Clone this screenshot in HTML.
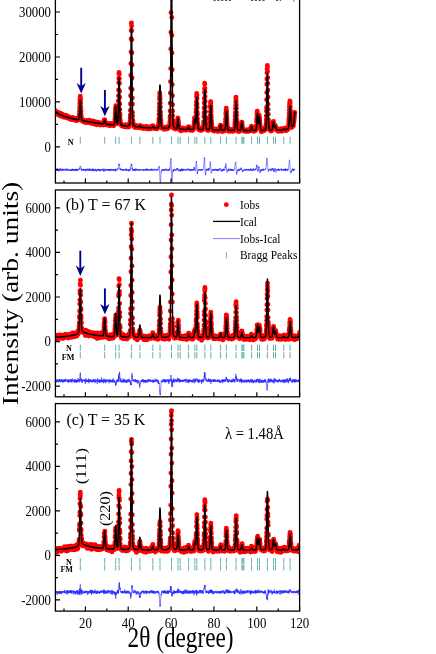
<!DOCTYPE html>
<html><head><meta charset="utf-8"><title>Neutron diffraction patterns</title>
<style>html,body{margin:0;padding:0;background:#fff;}svg{display:block;}text{font-family:"Liberation Serif",serif;fill:#000;}</style></head>
<body>
<svg width="436" height="654" viewBox="0 0 436 654" style="will-change:transform">
<rect width="436" height="654" fill="#fff"/>
<defs><clipPath id="cpa"><rect x="55.4" y="-2.0" width="244.2" height="185.0"/></clipPath><clipPath id="cpb"><rect x="55.4" y="190.0" width="244.2" height="206.8"/></clipPath><clipPath id="cpc"><rect x="55.4" y="403.6" width="244.2" height="207.5"/></clipPath></defs>
<g clip-path="url(#cpa)">
<path d="M55.4,168.8L55.5,170.1L55.6,169.8L55.7,169.6L55.8,170.3L55.9,169.8L56.1,169.8L56.2,171L56.3,169.2L56.4,169.5L56.5,170.2L56.6,169.9L56.7,169.5L56.8,170L56.9,170L57,170.8L57.1,169.5L57.2,169.8L57.3,169.7L57.4,170.8L57.6,168.8L57.7,169.7L57.8,170.1L57.9,168.5L58,169.9L58.1,170.8L58.2,170.1L58.3,171.3L58.4,169.2L58.5,170.1L58.6,170.3L58.7,169.2L58.8,170.9L58.9,169.5L59.1,171.1L59.2,170.3L59.3,170.6L59.4,168.9L59.5,168.7L59.6,170L59.7,169.3L59.8,169.9L59.9,169.5L60,170.3L60.1,170.9L60.2,171L60.3,169.6L60.4,168.4L60.6,169.7L60.7,170.2L60.8,168.6L60.9,169.7L61,169.8L61.1,169.7L61.2,169.9L61.3,170L61.4,170.7L61.5,169.5L61.6,169.9L61.7,169.1L61.8,170.1L61.9,171L62.1,169.9L62.2,168.8L62.3,170.1L62.4,170.4L62.5,170.6L62.6,170.5L62.7,170L62.8,170.6L62.9,168.9L63,170L63.1,169.8L63.2,168.9L63.3,168.9L63.4,170L63.6,169.6L63.7,169.4L63.8,170L63.9,170.9L64,169.4L64.1,169.3L64.2,169.6L64.3,170.4L64.4,170L64.5,170.2L64.6,170L64.7,169L64.8,168.9L64.9,169.4L65.1,169.5L65.2,169.4L65.3,169.8L65.4,169.9L65.5,170.2L65.6,169.9L65.7,168.4L65.8,169.3L65.9,170L66,170.1L66.1,170.4L66.2,169.6L66.3,169.6L66.4,170.7L66.6,169.5L66.7,170.2L66.8,169L66.9,169.7L67,168.8L67.1,170.1L67.2,170L67.3,169.6L67.4,169.2L67.5,169.5L67.6,170.6L67.7,169.7L67.8,169.8L67.9,170.1L68,170.2L68.2,168.8L68.3,170.1L68.4,170.4L68.5,169.4L68.6,169.8L68.7,169.9L68.8,169.4L68.9,169.5L69,169.6L69.1,169.2L69.2,169.7L69.3,170.2L69.4,170.1L69.5,170.2L69.7,169.7L69.8,170.5L69.9,171L70,169.8L70.1,170.6L70.2,171L70.3,169.6L70.4,170.3L70.5,169.5L70.6,170.2L70.7,170.5L70.8,170.6L70.9,170.1L71,170L71.2,170.3L71.3,170L71.4,170.8L71.5,169.8L71.6,170.9L71.7,169.9L71.8,169.4L71.9,169.2L72,168.8L72.1,170.8L72.2,169.4L72.3,169.1L72.4,169.2L72.5,170.4L72.7,169.6L72.8,168.7L72.9,170.7L73,169.5L73.1,169.2L73.2,170.3L73.3,169.5L73.4,170.5L73.5,170.3L73.6,170.3L73.7,169.7L73.8,169.9L73.9,169.3L74,170.4L74.2,169.9L74.3,169.2L74.4,169.5L74.5,170.6L74.6,169.4L74.7,170.1L74.8,169.6L74.9,169.6L75,169.1L75.1,169.8L75.2,170.9L75.3,170.7L75.4,169.4L75.5,170L75.7,169.1L75.8,169.7L75.9,170.3L76,169.2L76.1,170.3L76.2,171.1L76.3,168.6L76.4,171L76.5,169.4L76.6,169.3L76.7,169.7L76.8,170.8L76.9,169.2L77,170.7L77.2,170.6L77.3,170L77.4,169.3L77.5,169.6L77.6,169.3L77.7,170.1L77.8,169.9L77.9,170.5L78,170L78.1,169.4L78.2,170L78.3,169.5L78.4,170.1L78.5,170.1L78.7,169.7L78.8,169.8L78.9,169.3L79,169.5L79.1,168.4L79.2,169.5L79.3,169.3L79.4,169.6L79.5,168.6L79.6,167.9L79.7,168.4L79.8,167.6L79.9,166.7L80,167L80.2,167L80.3,165.9L80.4,166.6L80.5,166.6L80.6,166.4L80.7,166.8L80.8,168.1L80.9,168.6L81,168.4L81.1,169L81.2,170.3L81.3,168.6L81.4,169.5L81.5,169.1L81.7,170.4L81.8,168.9L81.9,170.1L82,169.8L82.1,170.6L82.2,169.9L82.3,169.9L82.4,169.9L82.5,169.5L82.6,169.8L82.7,169.2L82.8,170.1L82.9,170.4L83,169.8L83.2,169.4L83.3,169.1L83.4,169.3L83.5,170.9L83.6,169.6L83.7,168.9L83.8,169.8L83.9,170.1L84,169.6L84.1,170.1L84.2,169.4L84.3,169.8L84.4,169L84.5,169.5L84.7,170.3L84.8,169.5L84.9,169.3L85,170.2L85.1,170.1L85.2,171.2L85.3,169.3L85.4,170.2L85.5,171.1L85.6,170.9L85.7,170L85.8,169.4L85.9,169.9L86,169.5L86.1,170.5L86.3,170.6L86.4,169.3L86.5,169.5L86.6,169.8L86.7,169.1L86.8,170.4L86.9,170.1L87,169.2L87.1,168.7L87.2,169.8L87.3,168.8L87.4,170.2L87.5,169.6L87.6,169.9L87.8,170.8L87.9,169.7L88,169.3L88.1,169.9L88.2,169.9L88.3,169L88.4,170.6L88.5,170.7L88.6,170.2L88.7,170.5L88.8,169L88.9,169.6L89,170.3L89.1,170.2L89.3,168.1L89.4,170.2L89.5,170.3L89.6,169.7L89.7,169.5L89.8,169.7L89.9,170.4L90,170.5L90.1,169.5L90.2,169.9L90.3,170.8L90.4,169.1L90.5,169.4L90.6,170L90.8,170L90.9,169.7L91,170.2L91.1,170.6L91.2,169.6L91.3,170.7L91.4,169.6L91.5,170.7L91.6,169.9L91.7,169.9L91.8,168.8L91.9,170.5L92,170.7L92.1,170.2L92.3,170.5L92.4,170.2L92.5,169.6L92.6,169.4L92.7,168.9L92.8,170.3L92.9,168.3L93,168.7L93.1,170L93.2,171.2L93.3,169.9L93.4,169.8L93.5,171.2L93.6,169.8L93.8,169.9L93.9,170.3L94,169.5L94.1,169.2L94.2,170.1L94.3,169.7L94.4,170.2L94.5,170.3L94.6,169.8L94.7,169.5L94.8,170.2L94.9,171.1L95,169.5L95.1,170.8L95.3,169.8L95.4,168.8L95.5,169.8L95.6,170.5L95.7,170.7L95.8,169.2L95.9,169.8L96,169.5L96.1,169.3L96.2,169.9L96.3,170L96.4,170.4L96.5,171.6L96.6,170.7L96.8,169.9L96.9,169.9L97,169.6L97.1,169.9L97.2,169.7L97.3,169.4L97.4,170.3L97.5,170L97.6,170.8L97.7,169.3L97.8,169.8L97.9,169.5L98,168.9L98.1,169.2L98.3,169.9L98.4,169.4L98.5,170.7L98.6,169.6L98.7,169.8L98.8,170.8L98.9,169.1L99,170.2L99.1,169.4L99.2,170.1L99.3,169.3L99.4,169.1L99.5,170.3L99.6,170.7L99.8,169.9L99.9,169.3L100,170L100.1,170.2L100.2,169.5L100.3,171.4L100.4,170.2L100.5,170.6L100.6,169.7L100.7,170.3L100.8,170.5L100.9,170L101,170.7L101.1,169.8L101.3,170.2L101.4,170.1L101.5,170.2L101.6,169.3L101.7,169.9L101.8,169.5L101.9,169.6L102,170.3L102.1,169.5L102.2,169.6L102.3,169.7L102.4,170.1L102.5,170.1L102.6,169.4L102.8,168.6L102.9,170.3L103,169.5L103.1,170L103.2,169.4L103.3,169.6L103.4,169.2L103.5,171.5L103.6,170.2L103.7,170.4L103.8,169.9L103.9,170.3L104,170.2L104.1,169.4L104.2,168.7L104.4,171.5L104.5,170L104.6,169.6L104.7,169.8L104.8,170L104.9,170.6L105,170.4L105.1,169.4L105.2,169.2L105.3,169.8L105.4,170.3L105.5,169.8L105.6,170L105.7,169.5L105.9,169.8L106,170.2L106.1,169.7L106.2,170.5L106.3,169.4L106.4,169.2L106.5,170.5L106.6,169.6L106.7,170.4L106.8,169.2L106.9,169.3L107,170L107.1,169.3L107.2,170.1L107.4,170.2L107.5,170.2L107.6,169.9L107.7,170L107.8,169.7L107.9,170.2L108,169.4L108.1,169.2L108.2,170.1L108.3,170.6L108.4,169.4L108.5,169.2L108.6,169.9L108.7,170.6L108.9,169.7L109,169L109.1,170.9L109.2,169.6L109.3,170L109.4,170.3L109.5,169.5L109.6,170.6L109.7,169.7L109.8,169.1L109.9,169.7L110,170.3L110.1,170.8L110.2,170.6L110.4,170.9L110.5,168.9L110.6,170L110.7,170.4L110.8,170.6L110.9,170.4L111,170L111.1,170.6L111.2,168.9L111.3,170.3L111.4,170.3L111.5,169.7L111.6,169L111.7,169.1L111.9,170.1L112,169.7L112.1,169.7L112.2,169.5L112.3,169.7L112.4,170.4L112.5,170.5L112.6,169.7L112.7,170.5L112.8,169L112.9,169.8L113,170.4L113.1,170L113.2,170.1L113.4,169.9L113.5,169.3L113.6,170.7L113.7,170.9L113.8,169.6L113.9,169.9L114,169.7L114.1,169.6L114.2,169.9L114.3,169.4L114.4,170.4L114.5,169.8L114.6,170.4L114.7,170.6L114.9,169.6L115,169.7L115.1,171.3L115.2,170.8L115.3,170L115.4,169.6L115.5,170.7L115.6,170.5L115.7,171.3L115.8,168.7L115.9,170L116,169.7L116.1,169.8L116.2,169.5L116.4,169.7L116.5,170.2L116.6,169.5L116.7,169.8L116.8,169.1L116.9,170.2L117,170.1L117.1,169.4L117.2,169L117.3,169.6L117.4,170.1L117.5,169.7L117.6,169.8L117.7,168.3L117.9,168.8L118,168.3L118.1,168.6L118.2,168.8L118.3,167.1L118.4,166.2L118.5,166.3L118.6,166L118.7,164.6L118.8,165.1L118.9,163.7L119,164.7L119.1,164.9L119.2,164L119.4,164.6L119.5,164.1L119.6,166.3L119.7,166.8L119.8,168.2L119.9,169.2L120,169.6L120.1,168.5L120.2,169.8L120.3,168.6L120.4,168.6L120.5,169.7L120.6,168.7L120.7,169.5L120.9,169L121,169.8L121.1,169.2L121.2,170.3L121.3,169.4L121.4,170L121.5,169.8L121.6,169.4L121.7,169.7L121.8,169.8L121.9,169.4L122,169.3L122.1,170.6L122.2,169.5L122.3,169.4L122.5,170.2L122.6,169.6L122.7,170.5L122.8,169L122.9,169.9L123,169.8L123.1,169.1L123.2,169.9L123.3,169.5L123.4,170.4L123.5,170.1L123.6,170.6L123.7,169.9L123.8,169.2L124,169.7L124.1,169.3L124.2,170.4L124.3,170.3L124.4,170.1L124.5,169.5L124.6,169.6L124.7,169.8L124.8,169.5L124.9,169.9L125,169.8L125.1,169.1L125.2,170.1L125.3,169.7L125.5,168.9L125.6,169.8L125.7,169.4L125.8,170.2L125.9,168.7L126,171.1L126.1,170.5L126.2,170.4L126.3,168.9L126.4,169.6L126.5,170L126.6,170.5L126.7,169.6L126.8,169.7L127,170.2L127.1,170.6L127.2,170.4L127.3,169.7L127.4,169.6L127.5,169.8L127.6,169.9L127.7,170.8L127.8,169.8L127.9,170.4L128,169.8L128.1,169.5L128.2,170.2L128.3,170.4L128.5,169.2L128.6,169.6L128.7,170.1L128.8,171.5L128.9,169.8L129,169.4L129.1,169.1L129.2,170.1L129.3,170.1L129.4,170L129.5,169.3L129.6,170.4L129.7,169.8L129.8,170.2L130,169.5L130.1,170.5L130.2,169.2L130.3,169.6L130.4,169.2L130.5,168.4L130.6,167.6L130.7,169.2L130.8,166.7L130.9,166.4L131,166.5L131.1,164.5L131.2,165.1L131.3,163.8L131.5,165.4L131.6,165.7L131.7,164.3L131.8,164L131.9,165.8L132,166.2L132.1,167.9L132.2,169L132.3,168.6L132.4,167.8L132.5,170.3L132.6,169.6L132.7,170.6L132.8,169.5L133,169.1L133.1,170.4L133.2,169.9L133.3,169L133.4,169.8L133.5,170.5L133.6,170.5L133.7,170.9L133.8,169.3L133.9,170.2L134,169.2L134.1,169.3L134.2,170.2L134.3,170.1L134.5,169.4L134.6,169.7L134.7,169.6L134.8,170.7L134.9,169.3L135,170.3L135.1,171.1L135.2,170.2L135.3,169.6L135.4,168.6L135.5,170L135.6,170.6L135.7,168.6L135.8,169.7L136,170L136.1,170.4L136.2,170.4L136.3,169L136.4,170L136.5,170.1L136.6,170.1L136.7,168.9L136.8,170.1L136.9,169.5L137,169.7L137.1,169.7L137.2,170.3L137.3,169.5L137.5,168.9L137.6,169.9L137.7,170.3L137.8,170.5L137.9,169.7L138,170L138.1,169.9L138.2,169.8L138.3,170.6L138.4,169.4L138.5,169.7L138.6,169.9L138.7,169.7L138.8,169.3L138.9,169.8L139.1,170.3L139.2,169.2L139.3,170.1L139.4,170.2L139.5,170.7L139.6,169.8L139.7,170.4L139.8,170.1L139.9,169.6L140,169.8L140.1,169.3L140.2,169.7L140.3,170.1L140.4,170L140.6,170.1L140.7,169.5L140.8,169.8L140.9,170.1L141,169.4L141.1,169.8L141.2,170.1L141.3,170.7L141.4,169.6L141.5,169.7L141.6,169.8L141.7,170.1L141.8,170.3L141.9,170L142.1,169.7L142.2,169.9L142.3,169.9L142.4,170.1L142.5,169.6L142.6,169.7L142.7,170.2L142.8,169.4L142.9,169.4L143,169.4L143.1,169.9L143.2,169.9L143.3,170.5L143.4,169.4L143.6,171L143.7,170L143.8,170L143.9,169.4L144,169.8L144.1,170.4L144.2,170.6L144.3,170.2L144.4,169.8L144.5,169.8L144.6,169.9L144.7,170.2L144.8,169.9L144.9,169.3L145.1,170.4L145.2,169.8L145.3,168.9L145.4,169.5L145.5,170.1L145.6,169.5L145.7,170.2L145.8,169.8L145.9,169L146,168.8L146.1,170.8L146.2,169.4L146.3,168.8L146.4,170.1L146.6,169.7L146.7,169L146.8,170.1L146.9,169.6L147,169.9L147.1,170.9L147.2,169.6L147.3,169.9L147.4,169.3L147.5,168.7L147.6,169.5L147.7,170L147.8,169.6L147.9,169.7L148.1,169.3L148.2,170.6L148.3,170.5L148.4,171L148.5,169.5L148.6,169.8L148.7,170.2L148.8,170.2L148.9,170.2L149,170.3L149.1,170L149.2,170.1L149.3,169.1L149.4,169.7L149.6,170.3L149.7,170.2L149.8,169.2L149.9,169.6L150,169.7L150.1,169.4L150.2,169L150.3,170.5L150.4,170.2L150.5,170.8L150.6,169.6L150.7,170L150.8,170.2L150.9,170.3L151.1,169.5L151.2,169.9L151.3,170.1L151.4,169.1L151.5,170.4L151.6,170.5L151.7,168.4L151.8,170L151.9,170.1L152,170.2L152.1,169.9L152.2,169.4L152.3,169.4L152.4,169.5L152.6,170L152.7,170.7L152.8,169.7L152.9,169L153,169.3L153.1,169.9L153.2,169.4L153.3,170.1L153.4,169.9L153.5,170.5L153.6,170L153.7,169.8L153.8,169.9L153.9,169.4L154.1,168.8L154.2,169.1L154.3,170L154.4,170.2L154.5,170.2L154.6,170.4L154.7,169.8L154.8,169.6L154.9,169.7L155,169.7L155.1,169.8L155.2,169.9L155.3,170.3L155.4,168.9L155.6,169.3L155.7,170.4L155.8,170.4L155.9,170.2L156,169.8L156.1,169.2L156.2,169.3L156.3,169.3L156.4,169.3L156.5,169.3L156.6,169.5L156.7,169.6L156.8,169.9L156.9,170.8L157,169.9L157.2,168.9L157.3,170.2L157.4,170.2L157.5,169.3L157.6,169.8L157.7,170.1L157.8,169L157.9,169.5L158,169.4L158.1,170.1L158.2,169.4L158.3,169.3L158.4,168.9L158.5,168.4L158.7,168L158.8,168.1L158.9,167.2L159,167.8L159.1,166.2L159.2,166L159.3,166.8L159.4,167.6L159.5,168.4L159.6,171.1L159.7,172.5L159.8,175.5L159.9,179.4L160,181.2L160.2,182.2L160.3,182.8L160.4,182.6L160.5,182.4L160.6,181L160.7,179.3L160.8,176.9L160.9,174.2L161,173.3L161.1,172.1L161.2,171.3L161.3,172.3L161.4,171L161.5,170.8L161.7,169.7L161.8,169.3L161.9,170.5L162,170.1L162.1,169.8L162.2,170.3L162.3,170.4L162.4,170.4L162.5,169.5L162.6,170.5L162.7,169.3L162.8,169.9L162.9,169.5L163,169.1L163.2,170.3L163.3,170.4L163.4,169.7L163.5,170.5L163.6,170.3L163.7,170L163.8,169.8L163.9,170.6L164,170.1L164.1,169.6L164.2,169.1L164.3,170.9L164.4,169.2L164.5,169.4L164.7,170.5L164.8,170.7L164.9,169.6L165,170.1L165.1,169.8L165.2,169.4L165.3,170.1L165.4,169.8L165.5,169.6L165.6,169.4L165.7,168.9L165.8,168.9L165.9,169.7L166,170L166.2,168.5L166.3,169.5L166.4,169.6L166.5,170.4L166.6,169.4L166.7,170.3L166.8,170.1L166.9,170.6L167,170.1L167.1,169.8L167.2,170.6L167.3,170.3L167.4,169.9L167.5,170.5L167.7,170.5L167.8,170.3L167.9,170.6L168,169.5L168.1,170.3L168.2,169.4L168.3,169.3L168.4,170.4L168.5,169.8L168.6,170L168.7,170.4L168.8,169.9L168.9,169.9L169,169.3L169.2,169.1L169.3,170.3L169.4,169.9L169.5,169.3L169.6,168.8L169.7,170.7L169.8,168.4L169.9,168.9L170,167.3L170.1,167.7L170.2,167L170.3,165.1L170.4,162.8L170.5,162L170.7,162.2L170.8,158.4L170.9,159.5L171,159L171.1,160.2L171.2,163L171.3,165.9L171.4,169.9L171.5,174L171.6,177.2L171.7,180.2L171.8,182.7L171.9,181.8L172,180.3L172.2,179.2L172.3,178.2L172.4,176.2L172.5,174.5L172.6,172.8L172.7,171.5L172.8,171.9L172.9,171.3L173,169.8L173.1,169.5L173.2,169.4L173.3,171.4L173.4,170.2L173.5,171.8L173.7,169.6L173.8,169.9L173.9,169.9L174,170L174.1,169.2L174.2,170.1L174.3,169.3L174.4,169.6L174.5,169.7L174.6,169.6L174.7,169.8L174.8,170.5L174.9,169.5L175,169.5L175.1,169.9L175.3,169.5L175.4,169.4L175.5,170.6L175.6,169.9L175.7,170.1L175.8,170.3L175.9,169.7L176,170.3L176.1,170.1L176.2,169.7L176.3,169.6L176.4,169.6L176.5,168.5L176.6,170L176.8,169.5L176.9,170.2L177,169.1L177.1,168.6L177.2,168.4L177.3,169.4L177.4,169.1L177.5,168.1L177.6,169L177.7,168.5L177.8,169.9L177.9,168.8L178,169.4L178.1,170.1L178.3,171.1L178.4,170.8L178.5,170.7L178.6,170.6L178.7,170.8L178.8,170.7L178.9,170.3L179,169.5L179.1,171.3L179.2,170.8L179.3,170.9L179.4,170.3L179.5,170.9L179.6,169.6L179.8,169.8L179.9,170L180,170.2L180.1,169.8L180.2,169.8L180.3,169.7L180.4,170.2L180.5,169.5L180.6,170.6L180.7,169.2L180.8,171.5L180.9,170.2L181,170.5L181.1,169.4L181.3,170.6L181.4,168.9L181.5,170.7L181.6,168.7L181.7,169.6L181.8,169.8L181.9,169.6L182,168.7L182.1,169.4L182.2,171L182.3,169.2L182.4,169.7L182.5,170.7L182.6,169.4L182.8,170.5L182.9,169.7L183,169.7L183.1,170.2L183.2,169.5L183.3,170.4L183.4,169.7L183.5,170.1L183.6,169.9L183.7,168.8L183.8,169.8L183.9,170.4L184,169.9L184.1,170.2L184.3,169.8L184.4,169.7L184.5,169.8L184.6,169.8L184.7,170.1L184.8,169.6L184.9,169.3L185,170.2L185.1,169.9L185.2,169.8L185.3,169.2L185.4,169.2L185.5,170.2L185.6,169.8L185.8,170.6L185.9,170.3L186,169.8L186.1,169.5L186.2,169.3L186.3,170L186.4,170.6L186.5,169.6L186.6,169.9L186.7,169.6L186.8,169.7L186.9,169.4L187,169.5L187.1,169.3L187.3,170L187.4,169.2L187.5,170L187.6,169.6L187.7,168.6L187.8,169.4L187.9,170.2L188,168.7L188.1,169L188.2,168.9L188.3,169.5L188.4,169.5L188.5,169.9L188.6,170.3L188.8,169.2L188.9,170.3L189,170.4L189.1,170.4L189.2,169.1L189.3,169.6L189.4,170.2L189.5,170L189.6,169.7L189.7,169.4L189.8,170.8L189.9,169.4L190,170L190.1,170.2L190.3,170L190.4,169.4L190.5,168.9L190.6,169.7L190.7,169.5L190.8,170.3L190.9,169.6L191,169.4L191.1,170.6L191.2,170.1L191.3,169.4L191.4,170.8L191.5,170L191.6,169.5L191.8,170.7L191.9,170L192,169.8L192.1,169.3L192.2,170.5L192.3,169.2L192.4,169.6L192.5,169.1L192.6,169.2L192.7,169.6L192.8,169.5L192.9,170.7L193,170.4L193.1,170.2L193.2,169.8L193.4,169L193.5,170.4L193.6,169.4L193.7,169.8L193.8,169.7L193.9,167.8L194,168.3L194.1,167.3L194.2,167.4L194.3,168.6L194.4,169.3L194.5,167.3L194.6,169.2L194.7,170.2L194.9,169.6L195,170.4L195.1,171.1L195.2,170.9L195.3,170.4L195.4,170.1L195.5,169.1L195.6,168.9L195.7,167.9L195.8,166.2L195.9,165.2L196,163.5L196.1,163.3L196.2,162.4L196.4,162.7L196.5,161L196.6,163.8L196.7,164.1L196.8,166.8L196.9,168L197,169.5L197.1,172.6L197.2,172.6L197.3,174L197.4,172.1L197.5,173.1L197.6,173.3L197.7,172.3L197.9,170.7L198,170.2L198.1,170L198.2,170.8L198.3,170.3L198.4,169.2L198.5,170.3L198.6,170.1L198.7,170.4L198.8,170.5L198.9,169.2L199,169.5L199.1,169.6L199.2,169.5L199.4,169.3L199.5,169L199.6,169.8L199.7,170L199.8,170.4L199.9,169.2L200,170.1L200.1,170.6L200.2,169.9L200.3,169.8L200.4,169.3L200.5,169.2L200.6,170.2L200.7,170.2L200.9,170L201,170.4L201.1,169.8L201.2,169.5L201.3,169.7L201.4,170.6L201.5,170.4L201.6,169.1L201.7,170.3L201.8,169.3L201.9,169.4L202,169.9L202.1,170.2L202.2,169.6L202.4,170.2L202.5,169.8L202.6,169.6L202.7,170L202.8,169.7L202.9,169.7L203,170.1L203.1,169.4L203.2,169.4L203.3,169.7L203.4,168.4L203.5,167.7L203.6,166.9L203.7,166.6L203.9,163.5L204,162L204.1,160.4L204.2,159.1L204.3,159.1L204.4,157.6L204.5,158.7L204.6,157.6L204.7,161.7L204.8,163.6L204.9,168.3L205,170.7L205.1,172.4L205.2,173L205.4,173.8L205.5,174.2L205.6,175.3L205.7,172.9L205.8,173.4L205.9,171.3L206,170.5L206.1,170.6L206.2,170.1L206.3,171L206.4,168.7L206.5,169.9L206.6,169.4L206.7,170.3L206.9,169.9L207,170.5L207.1,169.9L207.2,169.8L207.3,169.7L207.4,169L207.5,169.5L207.6,169.6L207.7,169.7L207.8,168.7L207.9,170.1L208,169.1L208.1,170.8L208.2,170.2L208.4,169.5L208.5,169.8L208.6,168.1L208.7,168.3L208.8,170.5L208.9,170.2L209,169.6L209.1,168.5L209.2,168.6L209.3,168.8L209.4,169.3L209.5,168.5L209.6,168.8L209.7,167.4L209.9,165.3L210,164.1L210.1,164.4L210.2,162.8L210.3,161.3L210.4,162.3L210.5,163.2L210.6,163.8L210.7,165.6L210.8,167.9L210.9,170.2L211,171.6L211.1,172.4L211.2,173.4L211.3,172.4L211.5,172.6L211.6,172.1L211.7,171.1L211.8,170.9L211.9,170.5L212,170.7L212.1,170.6L212.2,169L212.3,170.5L212.4,170.3L212.5,170.4L212.6,169.8L212.7,169.6L212.8,169.3L213,170L213.1,170.8L213.2,169.7L213.3,169.3L213.4,169.8L213.5,169.9L213.6,169.5L213.7,169.1L213.8,169.9L213.9,170.6L214,170.1L214.1,169.9L214.2,170.8L214.3,169.4L214.5,170.2L214.6,169.6L214.7,169.7L214.8,170L214.9,169L215,170.1L215.1,170.2L215.2,169.7L215.3,169.4L215.4,169.8L215.5,170.3L215.6,169.5L215.7,169.5L215.8,168.7L216,169.9L216.1,169.7L216.2,170.1L216.3,170.6L216.4,169.8L216.5,169.4L216.6,170.4L216.7,170.2L216.8,170.4L216.9,169.1L217,170.2L217.1,169.5L217.2,170.3L217.3,169.8L217.5,170.2L217.6,171.1L217.7,169.8L217.8,169.5L217.9,170.9L218,169.9L218.1,170L218.2,170.4L218.3,169.9L218.4,170.8L218.5,169.7L218.6,169.2L218.7,170.5L218.8,169.8L219,169L219.1,169.6L219.2,169.9L219.3,170.1L219.4,169.4L219.5,169.4L219.6,168.9L219.7,169.9L219.8,168.3L219.9,169.1L220,168.4L220.1,169.2L220.2,169.7L220.3,169.5L220.5,170.1L220.6,170.1L220.7,169.9L220.8,170L220.9,170.6L221,171.1L221.1,171.1L221.2,170.4L221.3,170L221.4,170.7L221.5,170.4L221.6,170.6L221.7,170L221.8,169.5L222,171.5L222.1,169.8L222.2,170.2L222.3,171.1L222.4,169.7L222.5,169.9L222.6,169.6L222.7,170.5L222.8,168.7L222.9,169.8L223,170L223.1,169L223.2,169.5L223.3,169.4L223.5,169.2L223.6,170.9L223.7,168.9L223.8,170L223.9,169.6L224,169.3L224.1,170.1L224.2,169.6L224.3,169.3L224.4,169.7L224.5,169.4L224.6,170.4L224.7,170.1L224.8,169.9L225,168.8L225.1,166.6L225.2,168.1L225.3,167.8L225.4,167L225.5,165.7L225.6,165.1L225.7,165.5L225.8,163.6L225.9,164L226,163.6L226.1,166.1L226.2,166.8L226.3,166.8L226.5,169.8L226.6,169.8L226.7,171L226.8,171.8L226.9,172.1L227,172.3L227.1,172.1L227.2,172.3L227.3,171.7L227.4,169.7L227.5,170.3L227.6,170.3L227.7,170.1L227.8,170.6L228,169.9L228.1,170.1L228.2,169.4L228.3,170.4L228.4,171.1L228.5,170.1L228.6,169.5L228.7,168.5L228.8,169.3L228.9,170.3L229,169.9L229.1,170.3L229.2,169.9L229.3,170.3L229.4,170.7L229.6,169.6L229.7,169.7L229.8,169.9L229.9,169.6L230,168.7L230.1,169.8L230.2,170L230.3,169.4L230.4,170.7L230.5,169.4L230.6,170.2L230.7,170.2L230.8,169.8L230.9,168.9L231.1,170.2L231.2,169.3L231.3,169.6L231.4,170.5L231.5,169.3L231.6,170.2L231.7,170.6L231.8,170.2L231.9,170.2L232,169.5L232.1,170.2L232.2,169L232.3,169.7L232.4,170.2L232.6,170.2L232.7,169.7L232.8,170.9L232.9,170.9L233,170.2L233.1,169.4L233.2,169.7L233.3,169.8L233.4,169.9L233.5,170.9L233.6,169.9L233.7,170.7L233.8,169.3L233.9,169.7L234.1,169.7L234.2,169.4L234.3,169.3L234.4,169.2L234.5,168.9L234.6,169.1L234.7,169.1L234.8,167.5L234.9,166.1L235,165.5L235.1,165.2L235.2,163.7L235.3,163.4L235.4,162.2L235.6,162.5L235.7,162.2L235.8,161.8L235.9,164.1L236,165.5L236.1,169.3L236.2,171.3L236.3,172.6L236.4,173.4L236.5,174.5L236.6,173.9L236.7,174.6L236.8,173L236.9,172.6L237.1,173.1L237.2,171.5L237.3,171.4L237.4,170.3L237.5,170.8L237.6,170.1L237.7,169.8L237.8,171.5L237.9,171L238,169.8L238.1,170L238.2,169.3L238.3,169.7L238.4,170.5L238.6,169.7L238.7,170.2L238.8,170L238.9,170.1L239,169.6L239.1,170.6L239.2,170.4L239.3,171L239.4,168.7L239.5,170.3L239.6,170.3L239.7,170.4L239.8,170.1L239.9,170L240.1,169.4L240.2,169.6L240.3,169.5L240.4,169.9L240.5,169.5L240.6,168.7L240.7,169.2L240.8,168.8L240.9,169.9L241,168.2L241.1,168.2L241.2,167.5L241.3,169.8L241.4,168.3L241.6,168.6L241.7,168.9L241.8,169.9L241.9,170L242,170.2L242.1,171.1L242.2,171.5L242.3,171.6L242.4,171.7L242.5,171.3L242.6,171.6L242.7,172L242.8,170L242.9,171.5L243.1,170.4L243.2,170.9L243.3,170.2L243.4,170.5L243.5,170L243.6,170.4L243.7,170.6L243.8,169.7L243.9,169.2L244,169.7L244.1,169.8L244.2,170.4L244.3,169.9L244.4,169.6L244.6,170.2L244.7,169.4L244.8,169.9L244.9,169.7L245,170.1L245.1,170.1L245.2,169.7L245.3,169.7L245.4,169.7L245.5,170.4L245.6,170.2L245.7,169.9L245.8,170.8L245.9,169.3L246,169.7L246.2,169.8L246.3,170.2L246.4,169.4L246.5,170L246.6,168.9L246.7,169.6L246.8,170.6L246.9,169.5L247,170.1L247.1,170.1L247.2,170L247.3,169.9L247.4,169.7L247.5,169.5L247.7,169.6L247.8,170.2L247.9,170.6L248,170.3L248.1,169.7L248.2,169.4L248.3,168.9L248.4,170.6L248.5,169.8L248.6,170L248.7,170.1L248.8,169.8L248.9,170L249,170L249.2,170.2L249.3,169.6L249.4,169.3L249.5,169L249.6,170.1L249.7,170.4L249.8,170L249.9,170.2L250,169.2L250.1,170.2L250.2,169.6L250.3,170.3L250.4,169.7L250.5,169.3L250.7,168.5L250.8,169.6L250.9,168.9L251,170.2L251.1,169.8L251.2,169.6L251.3,169.6L251.4,169.3L251.5,169.4L251.6,171L251.7,170L251.8,171.1L251.9,169.6L252,170.4L252.2,170.5L252.3,170.6L252.4,170.5L252.5,170.3L252.6,170.6L252.7,169.8L252.8,169.9L252.9,169.6L253,170L253.1,169.6L253.2,170.3L253.3,168L253.4,170.2L253.5,170.1L253.7,169.3L253.8,169.2L253.9,170.3L254,170.7L254.1,170.6L254.2,170.4L254.3,170.2L254.4,169.9L254.5,169.3L254.6,169.2L254.7,170.1L254.8,169.5L254.9,169.3L255,169L255.2,169.9L255.3,170.2L255.4,169.3L255.5,168.9L255.6,169.9L255.7,168.5L255.8,168.5L255.9,169.4L256,169.9L256.1,169L256.2,168.5L256.3,167.5L256.4,168.2L256.5,165.3L256.7,164.8L256.8,166.1L256.9,166.5L257,165.4L257.1,165.2L257.2,165.2L257.3,166.5L257.4,168.2L257.5,170.5L257.6,169.9L257.7,170.5L257.8,171.7L257.9,171.5L258,171.3L258.2,171.2L258.3,171.2L258.4,169.6L258.5,169.8L258.6,167.4L258.7,168.1L258.8,166.8L258.9,167.3L259,166.6L259.1,167.2L259.2,167.4L259.3,169L259.4,170.4L259.5,170.4L259.7,171.2L259.8,172.4L259.9,172.2L260,172.9L260.1,171.8L260.2,171.9L260.3,171.4L260.4,169.7L260.5,170.8L260.6,170.4L260.7,170L260.8,170.3L260.9,170.4L261,169.6L261.2,169.4L261.3,171.5L261.4,170L261.5,170.1L261.6,170.2L261.7,169.2L261.8,170.1L261.9,169.4L262,170.1L262.1,170.1L262.2,169.5L262.3,170.2L262.4,169.9L262.5,170.4L262.7,170.3L262.8,169.4L262.9,169.5L263,170.4L263.1,170.5L263.2,168.5L263.3,170.2L263.4,170.3L263.5,169.5L263.6,170.2L263.7,170L263.8,169.3L263.9,169.3L264,169.9L264.1,169.1L264.3,169.8L264.4,169.9L264.5,169.8L264.6,169.9L264.7,169.5L264.8,169.6L264.9,170.1L265,169.6L265.1,169.9L265.2,169.9L265.3,169.6L265.4,168.9L265.5,169.2L265.6,168.5L265.8,168.1L265.9,168.7L266,168.5L266.1,168L266.2,166.6L266.3,165.2L266.4,163.6L266.5,164.2L266.6,161.4L266.7,160L266.8,157.9L266.9,158.8L267,158.6L267.1,160.1L267.3,160.4L267.4,162.1L267.5,163.7L267.6,165.5L267.7,167.7L267.8,168L267.9,168.8L268,169.3L268.1,170.4L268.2,169.9L268.3,170L268.4,171.6L268.5,170.7L268.6,171.1L268.8,170.8L268.9,170L269,170L269.1,169.1L269.2,168.7L269.3,169.6L269.4,169.9L269.5,169.9L269.6,169.8L269.7,169.5L269.8,170.2L269.9,169.5L270,169.9L270.1,169.2L270.3,169.1L270.4,168.9L270.5,169.9L270.6,170.5L270.7,170.7L270.8,170L270.9,170.6L271,170.7L271.1,170L271.2,170.3L271.3,169.4L271.4,168.7L271.5,169.9L271.6,169.5L271.8,170.5L271.9,169.5L272,169.8L272.1,169.9L272.2,170.2L272.3,168.1L272.4,169.7L272.5,169.3L272.6,168.4L272.7,168.1L272.8,168.1L272.9,168.3L273,169.1L273.1,168.4L273.3,169.2L273.4,170.7L273.5,169.4L273.6,171L273.7,170.5L273.8,172.1L273.9,171.9L274,171.5L274.1,171.4L274.2,170.2L274.3,171.3L274.4,170L274.5,170.4L274.6,169.3L274.8,169.3L274.9,169.6L275,168L275.1,169.3L275.2,168.8L275.3,170.4L275.4,170L275.5,170.1L275.6,170.3L275.7,170.7L275.8,171.1L275.9,172.4L276,171L276.1,171.1L276.3,170.6L276.4,169.9L276.5,169.1L276.6,169.9L276.7,169.6L276.8,169.7L276.9,169.6L277,169.6L277.1,170L277.2,170.1L277.3,169.7L277.4,168.9L277.5,169.4L277.6,169L277.8,170.5L277.9,169.7L278,169.6L278.1,169.6L278.2,170.6L278.3,170.8L278.4,171L278.5,170L278.6,168.6L278.7,169.7L278.8,170.5L278.9,169.7L279,170L279.1,169.7L279.3,170.1L279.4,170.5L279.5,170.1L279.6,169.4L279.7,169.7L279.8,169.2L279.9,170.4L280,169.3L280.1,169.8L280.2,169.7L280.3,169.2L280.4,169.9L280.5,169.7L280.6,169.5L280.8,169.5L280.9,169.4L281,169.1L281.1,169.5L281.2,170L281.3,168.5L281.4,169.8L281.5,169.6L281.6,170.2L281.7,171L281.8,170.2L281.9,169.8L282,169.5L282.1,169.8L282.2,169.3L282.4,169.2L282.5,169.2L282.6,169.7L282.7,169.6L282.8,169.8L282.9,170.1L283,168.9L283.1,170.3L283.2,169.7L283.3,169.5L283.4,170.8L283.5,169.3L283.6,170L283.7,169.7L283.9,170.1L284,170.7L284.1,169.8L284.2,169.9L284.3,169.4L284.4,169.7L284.5,170.8L284.6,169.3L284.7,169.4L284.8,169.4L284.9,169.6L285,170.2L285.1,169.5L285.2,170L285.4,168.2L285.5,169.9L285.6,170.4L285.7,170L285.8,169L285.9,170.1L286,171.1L286.1,169L286.2,169.6L286.3,170L286.4,169.4L286.5,170.2L286.6,170.4L286.7,169.2L286.9,170L287,169.4L287.1,169.7L287.2,169.2L287.3,169.6L287.4,170.8L287.5,169.3L287.6,169.9L287.7,169.1L287.8,169.5L287.9,168.7L288,169.5L288.1,170.3L288.2,169.1L288.4,168.4L288.5,168.4L288.6,167.9L288.7,166.1L288.8,166.1L288.9,164.4L289,163.8L289.1,163.7L289.2,162.3L289.3,160.9L289.4,159.8L289.5,160.3L289.6,161L289.7,161.5L289.9,162.6L290,164.6L290.1,166.4L290.2,166.8L290.3,169.6L290.4,171.7L290.5,172.1L290.6,171.7L290.7,172.5L290.8,172.9L290.9,173.4L291,173.2L291.1,172L291.2,171.4L291.4,171.9L291.5,171.4L291.6,170.4L291.7,171.5L291.8,171L291.9,170L292,169.6L292.1,169.7L292.2,169.3L292.3,168.9L292.4,169.3L292.5,170L292.6,168.6L292.7,168.8L292.9,169.3L293,170.3L293.1,169.6L293.2,171L293.3,170L293.4,171.2L293.5,170L293.6,169.2L293.7,169.8L293.8,168.8L293.9,169.8L294,169.7L294.1,170L294.2,169.5L294.4,169.8L294.5,169L294.6,168.8L294.7,169.6L294.8,170.5" fill="none" stroke="#2a2aff" stroke-width="0.55" stroke-linejoin="round"/>
<path d="M55.4,110.7h0M55.5,112.2h0M55.6,111.9h0M55.7,111.8h0M55.8,112.6h0M55.9,112.2h0M56.1,112.2h0M56.2,113.4h0M56.3,111.7h0M56.4,112.1h0M56.5,112.9h0M56.6,112.7h0M56.7,112.3h0M56.8,112.9h0M56.9,112.9h0M57,113.8h0M57.1,112.6h0M57.2,112.9h0M57.3,112.9h0M57.4,114.1h0M57.6,112.1h0M57.7,113.1h0M57.8,113.5h0M57.9,112.1h0M58,113.4h0M58.1,114.4h0M58.2,113.8h0M58.3,115h0M58.4,113h0M58.5,114h0M58.6,114.2h0M58.7,113.1h0M58.8,114.9h0M58.9,113.6h0M59.1,115.3h0M59.2,114.4h0M59.3,114.8h0M59.4,113.2h0M59.5,113.1h0M59.6,114.4h0M59.7,113.8h0M59.8,114.5h0M59.9,114h0M60,114.9h0M60.1,115.6h0M60.2,115.7h0M60.3,114.4h0M60.4,113.2h0M60.6,114.5h0M60.7,115.1h0M60.8,113.6h0M60.9,114.7h0M61,114.8h0M61.1,114.8h0M61.2,115.1h0M61.3,115.2h0M61.4,116h0M61.5,114.8h0M61.6,115.2h0M61.7,114.5h0M61.8,115.5h0M61.9,116.5h0M62.1,115.4h0M62.2,114.3h0M62.3,115.7h0M62.4,116h0M62.5,116.3h0M62.6,116.2h0M62.7,115.8h0M62.8,116.4h0M62.9,114.8h0M63,115.9h0M63.1,115.7h0M63.2,114.9h0M63.3,114.9h0M63.4,116h0M63.6,115.7h0M63.7,115.5h0M63.8,116.1h0M63.9,117.2h0M64,115.7h0M64.1,115.6h0M64.2,115.9h0M64.3,116.8h0M64.4,116.4h0M64.5,116.7h0M64.6,116.5h0M64.7,115.6h0M64.8,115.5h0M64.9,116h0M65.1,116.1h0M65.2,116.1h0M65.3,116.6h0M65.4,116.6h0M65.5,117h0M65.6,116.7h0M65.7,115.3h0M65.8,116.2h0M65.9,117h0M66,117.1h0M66.1,117.4h0M66.2,116.6h0M66.3,116.7h0M66.4,117.8h0M66.6,116.7h0M66.7,117.4h0M66.8,116.2h0M66.9,117h0M67,116h0M67.1,117.4h0M67.2,117.3h0M67.3,117h0M67.4,116.6h0M67.5,116.9h0M67.6,118.1h0M67.7,117.2h0M67.8,117.3h0M67.9,117.7h0M68,117.8h0M68.2,116.4h0M68.3,117.7h0M68.4,118h0M68.5,117.2h0M68.6,117.5h0M68.7,117.7h0M68.8,117.2h0M68.9,117.4h0M69,117.5h0M69.1,117.1h0M69.2,117.6h0M69.3,118.2h0M69.4,118h0M69.5,118.2h0M69.7,117.8h0M69.8,118.6h0M69.9,119.1h0M70,117.9h0M70.1,118.8h0M70.2,119.2h0M70.3,117.8h0M70.4,118.5h0M70.5,117.8h0M70.6,118.5h0M70.7,118.9h0M70.8,119h0M70.9,118.5h0M71,118.4h0M71.2,118.8h0M71.3,118.5h0M71.4,119.3h0M71.5,118.3h0M71.6,119.5h0M71.7,118.5h0M71.8,118h0M71.9,117.8h0M72,117.4h0M72.1,119.5h0M72.2,118.1h0M72.3,117.8h0M72.4,118h0M72.5,119.2h0M72.7,118.4h0M72.8,117.5h0M72.9,119.6h0M73,118.4h0M73.1,118.1h0M73.2,119.2h0M73.3,118.4h0M73.4,119.5h0M73.5,119.3h0M73.6,119.4h0M73.7,118.8h0M73.8,119h0M73.9,118.4h0M74,119.5h0M74.2,119.1h0M74.3,118.4h0M74.4,118.7h0M74.5,119.9h0M74.6,118.7h0M74.7,119.4h0M74.8,118.9h0M74.9,119h0M75,118.4h0M75.1,119.1h0M75.2,120.3h0M75.3,120.1h0M75.4,118.8h0M75.5,119.4h0M75.7,118.6h0M75.8,119.1h0M75.9,119.8h0M76,118.7h0M76.1,119.9h0M76.2,120.6h0M76.3,118.2h0M76.4,120.6h0M76.5,119.1h0M76.6,118.9h0M76.7,119.4h0M76.8,120.5h0M76.9,118.9h0M77,120.4h0M77.2,120.3h0M77.3,119.7h0M77.4,119.1h0M77.5,119.4h0M77.6,119.1h0M77.7,119.8h0M77.8,119.7h0M77.9,120.2h0M78,119.7h0M78.1,119.2h0M78.2,119.7h0M78.3,119.2h0M78.4,119.8h0M78.5,119.7h0M78.7,119.2h0M78.8,119.1h0M78.9,118.3h0M79,118.1h0M79.1,116.5h0M79.2,116.7h0M79.3,115.4h0M79.4,114.2h0M79.5,111.5h0M79.6,108.6h0M79.7,106.9h0M79.8,103.7h0M79.9,100.6h0M80,99h0M80.2,97.8h0M80.3,96.3h0M80.4,97.4h0M80.5,98.7h0M80.6,100.3h0M80.7,103h0M80.8,106.8h0M80.9,109.6h0M81,111.5h0M81.1,113.9h0M81.2,116.8h0M81.3,116.2h0M81.4,118h0M81.5,118.3h0M81.7,119.9h0M81.8,118.8h0M81.9,120.2h0M82,120.1h0M82.1,121h0M82.2,120.3h0M82.3,120.4h0M82.4,120.5h0M82.5,120.2h0M82.6,120.4h0M82.7,119.9h0M82.8,120.8h0M82.9,121.2h0M83,120.6h0M83.2,120.3h0M83.3,120h0M83.4,120.2h0M83.5,121.8h0M83.6,120.6h0M83.7,119.9h0M83.8,120.8h0M83.9,121.2h0M84,120.7h0M84.1,121.2h0M84.2,120.6h0M84.3,121h0M84.4,120.2h0M84.5,120.7h0M84.7,121.5h0M84.8,120.7h0M84.9,120.5h0M85,121.4h0M85.1,121.4h0M85.2,122.5h0M85.3,120.6h0M85.4,121.5h0M85.5,122.5h0M85.6,122.3h0M85.7,121.4h0M85.8,120.8h0M85.9,121.4h0M86,121h0M86.1,122h0M86.3,122.2h0M86.4,120.9h0M86.5,121.1h0M86.6,121.4h0M86.7,120.7h0M86.8,122h0M86.9,121.7h0M87,120.9h0M87.1,120.4h0M87.2,121.5h0M87.3,120.6h0M87.4,121.9h0M87.5,121.4h0M87.6,121.7h0M87.8,122.6h0M87.9,121.5h0M88,121.1h0M88.1,121.8h0M88.2,121.7h0M88.3,120.9h0M88.4,122.5h0M88.5,122.6h0M88.6,122.2h0M88.7,122.5h0M88.8,121h0M88.9,121.6h0M89,122.4h0M89.1,122.2h0M89.3,120.2h0M89.4,122.3h0M89.5,122.4h0M89.6,121.8h0M89.7,121.6h0M89.8,121.8h0M89.9,122.5h0M90,122.7h0M90.1,121.7h0M90.2,122.1h0M90.3,123h0M90.4,121.4h0M90.5,121.6h0M90.6,122.2h0M90.8,122.3h0M90.9,122h0M91,122.6h0M91.1,123h0M91.2,122h0M91.3,123.1h0M91.4,122h0M91.5,123.1h0M91.6,122.3h0M91.7,122.4h0M91.8,121.2h0M91.9,122.9h0M92,123.2h0M92.1,122.7h0M92.3,123h0M92.4,122.7h0M92.5,122.1h0M92.6,122h0M92.7,121.4h0M92.8,122.9h0M92.9,120.9h0M93,121.3h0M93.1,122.6h0M93.2,123.8h0M93.3,122.6h0M93.4,122.5h0M93.5,123.9h0M93.6,122.5h0M93.8,122.7h0M93.9,123.1h0M94,122.2h0M94.1,122h0M94.2,122.9h0M94.3,122.5h0M94.4,123.1h0M94.5,123.1h0M94.6,122.7h0M94.7,122.4h0M94.8,123.1h0M94.9,124h0M95,122.4h0M95.1,123.7h0M95.3,122.7h0M95.4,121.8h0M95.5,122.8h0M95.6,123.5h0M95.7,123.7h0M95.8,122.2h0M95.9,122.9h0M96,122.6h0M96.1,122.4h0M96.2,123h0M96.3,123.1h0M96.4,123.5h0M96.5,124.8h0M96.6,123.9h0M96.8,123h0M96.9,123.1h0M97,122.8h0M97.1,123.1h0M97.2,123h0M97.3,122.6h0M97.4,123.6h0M97.5,123.3h0M97.6,124.1h0M97.7,122.6h0M97.8,123.1h0M97.9,122.9h0M98,122.3h0M98.1,122.6h0M98.3,123.2h0M98.4,122.8h0M98.5,124.1h0M98.6,123h0M98.7,123.2h0M98.8,124.2h0M98.9,122.5h0M99,123.7h0M99.1,122.9h0M99.2,123.6h0M99.3,122.8h0M99.4,122.6h0M99.5,123.9h0M99.6,124.3h0M99.8,123.5h0M99.9,122.9h0M100,123.6h0M100.1,123.8h0M100.2,123.2h0M100.3,125.1h0M100.4,123.9h0M100.5,124.3h0M100.6,123.3h0M100.7,123.9h0M100.8,124.2h0M100.9,123.7h0M101,124.4h0M101.1,123.6h0M101.3,124h0M101.4,123.8h0M101.5,124h0M101.6,123.1h0M101.7,123.7h0M101.8,123.3h0M101.9,123.4h0M102,124.1h0M102.1,123.3h0M102.2,123.5h0M102.3,123.5h0M102.4,123.9h0M102.5,123.9h0M102.6,123.2h0M102.8,122.4h0M102.9,124.2h0M103,123.4h0M103.1,123.9h0M103.2,123.2h0M103.3,123.4h0M103.4,122.9h0M103.5,125h0M103.6,123.6h0M103.7,123.6h0M103.8,122.8h0M103.9,122.8h0M104,122.3h0M104.1,121.1h0M104.2,119.9h0M104.4,122.2h0M104.5,120.4h0M104.6,119.8h0M104.7,120h0M104.8,120.3h0M104.9,121.2h0M105,121.4h0M105.1,120.9h0M105.2,121.2h0M105.3,122.2h0M105.4,123.2h0M105.5,123h0M105.6,123.5h0M105.7,123.3h0M105.9,123.7h0M106,124.2h0M106.1,123.8h0M106.2,124.7h0M106.3,123.6h0M106.4,123.4h0M106.5,124.8h0M106.6,123.9h0M106.7,124.7h0M106.8,123.6h0M106.9,123.7h0M107,124.4h0M107.1,123.7h0M107.2,124.5h0M107.4,124.6h0M107.5,124.6h0M107.6,124.4h0M107.7,124.5h0M107.8,124.2h0M107.9,124.7h0M108,123.9h0M108.1,123.8h0M108.2,124.7h0M108.3,125.2h0M108.4,124h0M108.5,123.8h0M108.6,124.5h0M108.7,125.2h0M108.9,124.3h0M109,123.6h0M109.1,125.5h0M109.2,124.2h0M109.3,124.7h0M109.4,125h0M109.5,124.2h0M109.6,125.3h0M109.7,124.4h0M109.8,123.8h0M109.9,124.5h0M110,125.1h0M110.1,125.6h0M110.2,125.3h0M110.4,125.6h0M110.5,123.7h0M110.6,124.8h0M110.7,125.2h0M110.8,125.4h0M110.9,125.2h0M111,124.8h0M111.1,125.4h0M111.2,123.7h0M111.3,125.1h0M111.4,125.1h0M111.5,124.5h0M111.6,123.8h0M111.7,123.9h0M111.9,125h0M112,124.5h0M112.1,124.6h0M112.2,124.4h0M112.3,124.6h0M112.4,125.2h0M112.5,125.4h0M112.6,124.6h0M112.7,125.4h0M112.8,123.9h0M112.9,124.7h0M113,125.3h0M113.1,124.9h0M113.2,125h0M113.4,124.7h0M113.5,124.1h0M113.6,125.4h0M113.7,125.7h0M113.8,124.4h0M113.9,124.6h0M114,124.3h0M114.1,124.1h0M114.2,124.3h0M114.3,123.4h0M114.4,124h0M114.5,122.9h0M114.6,122.7h0M114.7,121.8h0M114.9,119.4h0M115,117.8h0M115.1,117.5h0M115.2,114.9h0M115.3,111.9h0M115.4,109.4h0M115.5,108.9h0M115.6,107.4h0M115.7,107.8h0M115.8,105.7h0M115.9,108.1h0M116,109.5h0M116.1,111.7h0M116.2,113.6h0M116.4,115.9h0M116.5,118.3h0M116.6,119.2h0M116.7,120.9h0M116.8,121.1h0M116.9,123h0M117,123.4h0M117.1,123h0M117.2,122.7h0M117.3,123.4h0M117.4,123.7h0M117.5,123h0M117.6,122.6h0M117.7,120.3h0M117.9,119.5h0M118,117.3h0M118.1,115.2h0M118.2,112.2h0M118.3,106.6h0M118.4,101h0M118.5,95.7h0M118.6,89.9h0M118.7,82.8h0M118.8,78.4h0M118.9,73.5h0M119,72.5h0M119.1,72.9h0M119.2,74.2h0M119.4,78.8h0M119.5,83.3h0M119.6,91.2h0M119.7,97.3h0M119.8,104h0M119.9,109.6h0M120,113.9h0M120.1,115.9h0M120.2,119.5h0M120.3,120.1h0M120.4,121.2h0M120.5,123.2h0M120.6,122.7h0M120.7,123.9h0M120.9,123.7h0M121,124.7h0M121.1,124.1h0M121.2,125.3h0M121.3,124.6h0M121.4,125.2h0M121.5,125.1h0M121.6,124.8h0M121.7,125.1h0M121.8,125.3h0M121.9,124.9h0M122,124.9h0M122.1,126.1h0M122.2,125.1h0M122.3,125h0M122.5,125.9h0M122.6,125.3h0M122.7,126.3h0M122.8,124.7h0M122.9,125.7h0M123,125.6h0M123.1,124.9h0M123.2,125.7h0M123.3,125.3h0M123.4,126.3h0M123.5,126h0M123.6,126.5h0M123.7,125.8h0M123.8,125.1h0M124,125.6h0M124.1,125.2h0M124.2,126.3h0M124.3,126.3h0M124.4,126h0M124.5,125.5h0M124.6,125.6h0M124.7,125.8h0M124.8,125.5h0M124.9,125.9h0M125,125.8h0M125.1,125.1h0M125.2,126.2h0M125.3,125.8h0M125.5,125h0M125.6,125.8h0M125.7,125.5h0M125.8,126.2h0M125.9,124.8h0M126,127.1h0M126.1,126.5h0M126.2,126.5h0M126.3,125h0M126.4,125.7h0M126.5,126h0M126.6,126.6h0M126.7,125.7h0M126.8,125.8h0M127,126.2h0M127.1,126.7h0M127.2,126.5h0M127.3,125.7h0M127.4,125.6h0M127.5,125.8h0M127.6,125.9h0M127.7,126.8h0M127.8,125.7h0M127.9,126.3h0M128,125.7h0M128.1,125.4h0M128.2,126h0M128.3,126.2h0M128.5,125h0M128.6,125.3h0M128.7,125.8h0M128.8,127.1h0M128.9,125.3h0M129,124.8h0M129.1,124.4h0M129.2,125.4h0M129.3,125.2h0M129.4,124.9h0M129.5,123.9h0M129.6,124.8h0M129.7,123.7h0M129.8,123.5h0M130,121.8h0M130.1,121.3h0M130.2,117.9h0M130.3,115.2h0M130.4,110.5h0M130.5,103.9h0M130.6,95.7h0M130.7,88.2h0M130.8,75.2h0M130.9,63.5h0M131,51.9h0M131.1,38.9h0M131.2,30.4h0M131.3,23.2h0M131.5,22.9h0M131.6,25.7h0M131.7,30.7h0M131.8,39.8h0M131.9,52.8h0M132,65h0M132.1,78h0M132.2,89.5h0M132.3,97.9h0M132.4,104.3h0M132.5,112.4h0M132.6,115.9h0M132.7,119.9h0M132.8,120.8h0M133,121.8h0M133.1,124h0M133.2,124.2h0M133.3,123.7h0M133.4,124.8h0M133.5,125.7h0M133.6,125.9h0M133.7,126.5h0M133.8,125.1h0M133.9,126h0M134,125.1h0M134.1,125.3h0M134.2,126.3h0M134.3,126.3h0M134.5,125.6h0M134.6,126h0M134.7,126h0M134.8,127.1h0M134.9,125.8h0M135,126.8h0M135.1,127.6h0M135.2,126.7h0M135.3,126.2h0M135.4,125.3h0M135.5,126.7h0M135.6,127.3h0M135.7,125.4h0M135.8,126.5h0M136,126.8h0M136.1,127.2h0M136.2,127.2h0M136.3,125.9h0M136.4,126.9h0M136.5,127h0M136.6,127h0M136.7,125.9h0M136.8,127.1h0M136.9,126.5h0M137,126.7h0M137.1,126.7h0M137.2,127.3h0M137.3,126.5h0M137.5,126h0M137.6,126.9h0M137.7,127.4h0M137.8,127.6h0M137.9,126.8h0M138,127.1h0M138.1,127h0M138.2,127h0M138.3,127.8h0M138.4,126.5h0M138.5,126.8h0M138.6,127h0M138.7,126.8h0M138.8,126.3h0M138.9,126.7h0M139.1,127.1h0M139.2,125.9h0M139.3,126.6h0M139.4,126.7h0M139.5,127h0M139.6,126h0M139.7,126.5h0M139.8,126.1h0M139.9,125.6h0M140,125.9h0M140.1,125.5h0M140.2,126h0M140.3,126.6h0M140.4,126.7h0M140.6,126.9h0M140.7,126.4h0M140.8,126.9h0M140.9,127.3h0M141,126.6h0M141.1,127.1h0M141.2,127.5h0M141.3,128.1h0M141.4,127h0M141.5,127.1h0M141.6,127.3h0M141.7,127.6h0M141.8,127.8h0M141.9,127.5h0M142.1,127.2h0M142.2,127.4h0M142.3,127.4h0M142.4,127.6h0M142.5,127.2h0M142.6,127.3h0M142.7,127.8h0M142.8,127h0M142.9,127h0M143,127h0M143.1,127.5h0M143.2,127.6h0M143.3,128.1h0M143.4,127h0M143.6,128.6h0M143.7,127.7h0M143.8,127.7h0M143.9,127h0M144,127.5h0M144.1,128h0M144.2,128.3h0M144.3,127.9h0M144.4,127.5h0M144.5,127.5h0M144.6,127.7h0M144.7,127.9h0M144.8,127.7h0M144.9,127h0M145.1,128.2h0M145.2,127.6h0M145.3,126.7h0M145.4,127.3h0M145.5,127.9h0M145.6,127.2h0M145.7,128h0M145.8,127.6h0M145.9,126.8h0M146,126.6h0M146.1,128.6h0M146.2,127.3h0M146.3,126.6h0M146.4,128h0M146.6,127.5h0M146.7,126.8h0M146.8,128h0M146.9,127.4h0M147,127.7h0M147.1,128.8h0M147.2,127.5h0M147.3,127.8h0M147.4,127.2h0M147.5,126.6h0M147.6,127.4h0M147.7,127.9h0M147.8,127.5h0M147.9,127.6h0M148.1,127.2h0M148.2,128.6h0M148.3,128.4h0M148.4,128.9h0M148.5,127.5h0M148.6,127.8h0M148.7,128.2h0M148.8,128.2h0M148.9,128.1h0M149,128.3h0M149.1,128h0M149.2,128.1h0M149.3,127.1h0M149.4,127.7h0M149.6,128.3h0M149.7,128.2h0M149.8,127.2h0M149.9,127.6h0M150,127.7h0M150.1,127.5h0M150.2,127h0M150.3,128.5h0M150.4,128.3h0M150.5,128.8h0M150.6,127.6h0M150.7,128.1h0M150.8,128.3h0M150.9,128.3h0M151.1,127.5h0M151.2,128h0M151.3,128.2h0M151.4,127.2h0M151.5,128.4h0M151.6,128.5h0M151.7,126.3h0M151.8,127.9h0M151.9,127.9h0M152,127.9h0M152.1,127.4h0M152.2,126.7h0M152.3,126.6h0M152.4,126.6h0M152.6,126.9h0M152.7,127.5h0M152.8,126.5h0M152.9,125.8h0M153,126.2h0M153.1,127h0M153.2,126.6h0M153.3,127.5h0M153.4,127.4h0M153.5,128.2h0M153.6,127.8h0M153.7,127.7h0M153.8,127.9h0M153.9,127.5h0M154.1,126.9h0M154.2,127.2h0M154.3,128.2h0M154.4,128.4h0M154.5,128.4h0M154.6,128.6h0M154.7,128h0M154.8,127.8h0M154.9,127.9h0M155,127.9h0M155.1,128h0M155.2,128.1h0M155.3,128.5h0M155.4,127.1h0M155.6,127.5h0M155.7,128.5h0M155.8,128.5h0M155.9,128.4h0M156,128h0M156.1,127.3h0M156.2,127.5h0M156.3,127.4h0M156.4,127.4h0M156.5,127.4h0M156.6,127.6h0M156.7,127.7h0M156.8,128h0M156.9,128.9h0M157,128h0M157.2,126.9h0M157.3,128.2h0M157.4,128.2h0M157.5,127.3h0M157.6,127.7h0M157.7,128h0M157.8,126.8h0M157.9,127.2h0M158,127.1h0M158.1,127.6h0M158.2,126.8h0M158.3,126.5h0M158.4,125.8h0M158.5,124.8h0M158.7,123.7h0M158.8,122.7h0M158.9,120.3h0M159,118.8h0M159.1,114.4h0M159.2,110.6h0M159.3,107.3h0M159.4,103.4h0M159.5,99h0M159.6,96.6h0M159.7,93.5h0M159.8,92.9h0M159.9,94.7h0M160,96.3h0M160.2,99h0M160.3,103h0M160.4,107.3h0M160.5,112h0M160.6,115.8h0M160.7,119h0M160.8,120.9h0M160.9,121.9h0M161,123.9h0M161.1,124.8h0M161.2,125.7h0M161.3,127.8h0M161.4,127.4h0M161.5,127.7h0M161.7,126.9h0M161.8,126.8h0M161.9,128.2h0M162,127.9h0M162.1,127.6h0M162.2,128.3h0M162.3,128.4h0M162.4,128.4h0M162.5,127.6h0M162.6,128.6h0M162.7,127.5h0M162.8,128.1h0M162.9,127.8h0M163,127.4h0M163.2,128.6h0M163.3,128.7h0M163.4,128h0M163.5,128.8h0M163.6,128.7h0M163.7,128.3h0M163.8,128.2h0M163.9,129h0M164,128.5h0M164.1,128h0M164.2,127.6h0M164.3,129.4h0M164.4,127.6h0M164.5,127.8h0M164.7,128.9h0M164.8,129.1h0M164.9,128.1h0M165,128.5h0M165.1,128.2h0M165.2,127.8h0M165.3,128.5h0M165.4,128.2h0M165.5,128h0M165.6,127.8h0M165.7,127.3h0M165.8,127.4h0M165.9,128.1h0M166,128.4h0M166.2,127h0M166.3,127.9h0M166.4,128h0M166.5,128.8h0M166.6,127.8h0M166.7,128.6h0M166.8,128.4h0M166.9,128.9h0M167,128.4h0M167.1,128.1h0M167.2,128.9h0M167.3,128.5h0M167.4,128h0M167.5,128.7h0M167.7,128.6h0M167.8,128.3h0M167.9,128.6h0M168,127.4h0M168.1,128.3h0M168.2,127.2h0M168.3,127.1h0M168.4,128.1h0M168.5,127.4h0M168.6,127.6h0M168.7,127.8h0M168.8,127.2h0M168.9,127h0M169,126.3h0M169.2,126h0M169.3,126.9h0M169.4,126.2h0M169.5,125.3h0M169.6,124.4h0M169.7,125.8h0M169.8,122.5h0M169.9,121.8h0M170,118.3h0M170.1,115.9h0M170.2,111h0M170.3,103.3h0M170.4,93h0M170.5,81.6h0M170.7,68.6h0M170.8,49h0M170.9,32.2h0M171,12.6h0M171.1,-5h0M171.2,-19h0M171.3,-28.9h0M171.4,-31.9h0M171.5,-27.9h0M171.6,-17.7h0M171.7,-1.9h0M171.8,17.4h0M171.9,35.4h0M172,52.9h0M172.2,69.7h0M172.3,84.6h0M172.4,95.8h0M172.5,104.7h0M172.6,111h0M172.7,115.6h0M172.8,120.2h0M172.9,122.4h0M173,122.8h0M173.1,123.8h0M173.2,124.5h0M173.3,127.2h0M173.4,126.4h0M173.5,128.3h0M173.7,126.3h0M173.8,126.9h0M173.9,127.1h0M174,127.3h0M174.1,126.7h0M174.2,127.7h0M174.3,127.1h0M174.4,127.4h0M174.5,127.6h0M174.6,127.6h0M174.7,127.9h0M174.8,128.6h0M174.9,127.7h0M175,127.7h0M175.1,128.3h0M175.3,127.8h0M175.4,127.8h0M175.5,129h0M175.6,128.4h0M175.7,128.6h0M175.8,128.9h0M175.9,128.2h0M176,128.9h0M176.1,128.6h0M176.2,128.2h0M176.3,128.2h0M176.4,128.1h0M176.5,126.9h0M176.6,128.3h0M176.8,127.6h0M176.9,128h0M177,126.5h0M177.1,125.4h0M177.2,124.5h0M177.3,124.5h0M177.4,123.2h0M177.5,121.1h0M177.6,120.8h0M177.7,119.2h0M177.8,119.7h0M177.9,118h0M178,118.4h0M178.1,119.3h0M178.3,121h0M178.4,121.7h0M178.5,122.8h0M178.6,123.9h0M178.7,125.2h0M178.8,126.2h0M178.9,126.7h0M179,126.7h0M179.1,129h0M179.2,129h0M179.3,129.3h0M179.4,129h0M179.5,129.7h0M179.6,128.5h0M179.8,128.8h0M179.9,129.1h0M180,129.3h0M180.1,128.9h0M180.2,128.9h0M180.3,128.9h0M180.4,129.4h0M180.5,128.7h0M180.6,129.9h0M180.7,128.4h0M180.8,130.8h0M180.9,129.4h0M181,129.8h0M181.1,128.7h0M181.3,130h0M181.4,128.2h0M181.5,130h0M181.6,128.1h0M181.7,129h0M181.8,129.2h0M181.9,129h0M182,128h0M182.1,128.7h0M182.2,130.4h0M182.3,128.6h0M182.4,129.1h0M182.5,130.1h0M182.6,128.9h0M182.8,129.9h0M182.9,129.2h0M183,129.2h0M183.1,129.6h0M183.2,128.9h0M183.3,129.8h0M183.4,129.2h0M183.5,129.6h0M183.6,129.4h0M183.7,128.3h0M183.8,129.3h0M183.9,129.9h0M184,129.4h0M184.1,129.8h0M184.3,129.3h0M184.4,129.3h0M184.5,129.3h0M184.6,129.3h0M184.7,129.7h0M184.8,129.1h0M184.9,128.8h0M185,129.7h0M185.1,129.4h0M185.2,129.3h0M185.3,128.7h0M185.4,128.8h0M185.5,129.8h0M185.6,129.4h0M185.8,130.2h0M185.9,129.9h0M186,129.4h0M186.1,129.1h0M186.2,128.9h0M186.3,129.6h0M186.4,130.1h0M186.5,129.2h0M186.6,129.5h0M186.7,129.2h0M186.8,129.3h0M186.9,129h0M187,129h0M187.1,128.9h0M187.3,129.5h0M187.4,128.7h0M187.5,129.4h0M187.6,128.9h0M187.7,127.8h0M187.8,128.4h0M187.9,129h0M188,127.3h0M188.1,127.3h0M188.2,127h0M188.3,127.3h0M188.4,127.1h0M188.5,127.4h0M188.6,127.7h0M188.8,126.6h0M188.9,127.9h0M189,128.2h0M189.1,128.5h0M189.2,127.5h0M189.3,128.2h0M189.4,129.1h0M189.5,129.1h0M189.6,128.9h0M189.7,128.8h0M189.8,130.2h0M189.9,128.9h0M190,129.5h0M190.1,129.8h0M190.3,129.7h0M190.4,129h0M190.5,128.5h0M190.6,129.4h0M190.7,129.2h0M190.8,129.9h0M190.9,129.2h0M191,129h0M191.1,130.3h0M191.2,129.7h0M191.3,129h0M191.4,130.4h0M191.5,129.7h0M191.6,129.1h0M191.8,130.4h0M191.9,129.6h0M192,129.4h0M192.1,128.9h0M192.2,130.1h0M192.3,128.8h0M192.4,129.2h0M192.5,128.7h0M192.6,128.7h0M192.7,129.1h0M192.8,129h0M192.9,130.2h0M193,129.9h0M193.1,129.6h0M193.2,129.1h0M193.4,128.2h0M193.5,129.4h0M193.6,128.2h0M193.7,128.2h0M193.8,127.6h0M193.9,125h0M194,124.7h0M194.1,122.6h0M194.2,121.6h0M194.3,121.6h0M194.4,121.1h0M194.5,118h0M194.6,119h0M194.7,119.5h0M194.9,118.8h0M195,119.9h0M195.1,121.3h0M195.2,122h0M195.3,122.4h0M195.4,122.9h0M195.5,122.5h0M195.6,122.5h0M195.7,121.3h0M195.8,118.7h0M195.9,116.1h0M196,112.3h0M196.1,109.2h0M196.2,105h0M196.4,101.7h0M196.5,96.3h0M196.6,95.8h0M196.7,93.5h0M196.8,94.7h0M196.9,95.7h0M197,98.6h0M197.1,104.1h0M197.2,107.4h0M197.3,112.5h0M197.4,114.4h0M197.5,119h0M197.6,122.4h0M197.7,124.1h0M197.9,124.7h0M198,125.8h0M198.1,126.8h0M198.2,128.5h0M198.3,128.5h0M198.4,127.8h0M198.5,129.3h0M198.6,129.2h0M198.7,129.6h0M198.8,129.8h0M198.9,128.6h0M199,128.9h0M199.1,129.1h0M199.2,129h0M199.4,128.8h0M199.5,128.6h0M199.6,129.4h0M199.7,129.6h0M199.8,130h0M199.9,128.9h0M200,129.8h0M200.1,130.3h0M200.2,129.6h0M200.3,129.5h0M200.4,129.1h0M200.5,129h0M200.6,129.9h0M200.7,129.9h0M200.9,129.7h0M201,130.2h0M201.1,129.6h0M201.2,129.3h0M201.3,129.5h0M201.4,130.4h0M201.5,130.1h0M201.6,128.8h0M201.7,130h0M201.8,129h0M201.9,129.1h0M202,129.5h0M202.1,129.9h0M202.2,129.2h0M202.4,129.7h0M202.5,129.3h0M202.6,129.1h0M202.7,129.5h0M202.8,129.1h0M202.9,129h0M203,129.3h0M203.1,128.5h0M203.2,128.3h0M203.3,128.3h0M203.4,126.6h0M203.5,125.2h0M203.6,123.5h0M203.7,121.8h0M203.9,116.8h0M204,112.7h0M204.1,108h0M204.2,102.9h0M204.3,98.6h0M204.4,92.4h0M204.5,88.7h0M204.6,83.3h0M204.7,84h0M204.8,83.9h0M204.9,88.2h0M205,92h0M205.1,96.6h0M205.2,101.2h0M205.4,106.7h0M205.5,111.8h0M205.6,117.4h0M205.7,119.1h0M205.8,123.1h0M205.9,123.7h0M206,125h0M206.1,126.7h0M206.2,127.3h0M206.3,129h0M206.4,127.2h0M206.5,128.7h0M206.6,128.4h0M206.7,129.6h0M206.9,129.2h0M207,129.9h0M207.1,129.4h0M207.2,129.3h0M207.3,129.2h0M207.4,128.6h0M207.5,129.2h0M207.6,129.3h0M207.7,129.4h0M207.8,128.4h0M207.9,129.8h0M208,128.8h0M208.1,130.5h0M208.2,129.9h0M208.4,129.2h0M208.5,129.5h0M208.6,127.8h0M208.7,128h0M208.8,130.1h0M208.9,129.8h0M209,129.1h0M209.1,127.9h0M209.2,127.9h0M209.3,127.8h0M209.4,128.1h0M209.5,126.8h0M209.6,126.4h0M209.7,123.9h0M209.9,120.5h0M210,117.5h0M210.1,115.7h0M210.2,111.6h0M210.3,107.3h0M210.4,105.4h0M210.5,103.5h0M210.6,101.7h0M210.7,101.7h0M210.8,103.3h0M210.9,105.9h0M211,108.7h0M211.1,111.6h0M211.2,115.3h0M211.3,117.3h0M211.5,120.3h0M211.6,122.5h0M211.7,123.8h0M211.8,125.5h0M211.9,126.7h0M212,128h0M212.1,128.8h0M212.2,127.8h0M212.3,129.6h0M212.4,129.8h0M212.5,130h0M212.6,129.5h0M212.7,129.4h0M212.8,129.2h0M213,129.9h0M213.1,130.7h0M213.2,129.7h0M213.3,129.3h0M213.4,129.9h0M213.5,130h0M213.6,129.6h0M213.7,129.2h0M213.8,130h0M213.9,130.7h0M214,130.3h0M214.1,130.1h0M214.2,131h0M214.3,129.6h0M214.5,130.5h0M214.6,129.8h0M214.7,130h0M214.8,130.2h0M214.9,129.2h0M215,130.4h0M215.1,130.5h0M215.2,129.9h0M215.3,129.7h0M215.4,130.1h0M215.5,130.6h0M215.6,129.8h0M215.7,129.8h0M215.8,129h0M216,130.3h0M216.1,130h0M216.2,130.5h0M216.3,130.9h0M216.4,130.1h0M216.5,129.7h0M216.6,130.7h0M216.7,130.5h0M216.8,130.8h0M216.9,129.5h0M217,130.5h0M217.1,129.9h0M217.2,130.6h0M217.3,130.1h0M217.5,130.5h0M217.6,131.4h0M217.7,130.1h0M217.8,129.9h0M217.9,131.3h0M218,130.3h0M218.1,130.4h0M218.2,130.7h0M218.3,130.3h0M218.4,131.2h0M218.5,130h0M218.6,129.5h0M218.7,130.8h0M218.8,130.1h0M219,129.3h0M219.1,129.9h0M219.2,130.1h0M219.3,130.1h0M219.4,129.3h0M219.5,129.2h0M219.6,128.4h0M219.7,129.1h0M219.8,127.1h0M219.9,127.3h0M220,126.1h0M220.1,126.3h0M220.2,126.2h0M220.3,125.5h0M220.5,125.6h0M220.6,125.5h0M220.7,125.2h0M220.8,125.5h0M220.9,126.5h0M221,127.5h0M221.1,128.1h0M221.2,128h0M221.3,128.2h0M221.4,129.4h0M221.5,129.6h0M221.6,130.1h0M221.7,129.7h0M221.8,129.5h0M222,131.6h0M222.1,130h0M222.2,130.4h0M222.3,131.4h0M222.4,130h0M222.5,130.2h0M222.6,130h0M222.7,130.9h0M222.8,129h0M222.9,130.1h0M223,130.3h0M223.1,129.3h0M223.2,129.8h0M223.3,129.7h0M223.5,129.5h0M223.6,131.2h0M223.7,129.2h0M223.8,130.3h0M223.9,129.9h0M224,129.6h0M224.1,130.4h0M224.2,129.8h0M224.3,129.5h0M224.4,129.9h0M224.5,129.5h0M224.6,130.5h0M224.7,130.1h0M224.8,129.8h0M225,128.5h0M225.1,126h0M225.2,127h0M225.3,126h0M225.4,124.4h0M225.5,121.9h0M225.6,119.8h0M225.7,118.5h0M225.8,114.6h0M225.9,112.8h0M226,110.1h0M226.1,110.4h0M226.2,109.4h0M226.3,108.2h0M226.5,110.9h0M226.6,111.4h0M226.7,113.7h0M226.8,116.4h0M226.9,118.8h0M227,121.2h0M227.1,123.2h0M227.2,125.4h0M227.3,126.6h0M227.4,126h0M227.5,127.8h0M227.6,128.6h0M227.7,129.1h0M227.8,130h0M228,129.6h0M228.1,130h0M228.2,129.5h0M228.3,130.5h0M228.4,131.3h0M228.5,130.4h0M228.6,129.8h0M228.7,128.9h0M228.8,129.6h0M228.9,130.7h0M229,130.3h0M229.1,130.7h0M229.2,130.3h0M229.3,130.7h0M229.4,131.1h0M229.6,130h0M229.7,130.2h0M229.8,130.4h0M229.9,130.1h0M230,129.2h0M230.1,130.3h0M230.2,130.5h0M230.3,129.9h0M230.4,131.2h0M230.5,129.9h0M230.6,130.7h0M230.7,130.8h0M230.8,130.3h0M230.9,129.5h0M231.1,130.7h0M231.2,129.8h0M231.3,130.1h0M231.4,131.1h0M231.5,129.8h0M231.6,130.8h0M231.7,131.1h0M231.8,130.7h0M231.9,130.7h0M232,130h0M232.1,130.7h0M232.2,129.5h0M232.3,130.2h0M232.4,130.7h0M232.6,130.7h0M232.7,130.1h0M232.8,131.3h0M232.9,131.4h0M233,130.7h0M233.1,129.9h0M233.2,130.1h0M233.3,130.1h0M233.4,130.2h0M233.5,131.3h0M233.6,130.2h0M233.7,131h0M233.8,129.5h0M233.9,129.9h0M234.1,129.8h0M234.2,129.4h0M234.3,129.3h0M234.4,129.1h0M234.5,128.6h0M234.6,128.4h0M234.7,128h0M234.8,125.8h0M234.9,123.5h0M235,121.5h0M235.1,119.6h0M235.2,115.9h0M235.3,113h0M235.4,108.8h0M235.6,105.7h0M235.7,102h0M235.8,98.2h0M235.9,97.6h0M236,97.1h0M236.1,99.9h0M236.2,102.2h0M236.3,105h0M236.4,108.3h0M236.5,112.5h0M236.6,115.3h0M236.7,119.5h0M236.8,121.1h0M236.9,123.6h0M237.1,126.5h0M237.2,126.8h0M237.3,128.2h0M237.4,128.2h0M237.5,129.5h0M237.6,129.3h0M237.7,129.4h0M237.8,131.3h0M237.9,130.9h0M238,129.9h0M238.1,130.1h0M238.2,129.5h0M238.3,130h0M238.4,130.8h0M238.6,130h0M238.7,130.6h0M238.8,130.3h0M238.9,130.5h0M239,130.1h0M239.1,131h0M239.2,130.9h0M239.3,131.5h0M239.4,129.2h0M239.5,130.8h0M239.6,130.7h0M239.7,130.9h0M239.8,130.6h0M239.9,130.5h0M240.1,129.9h0M240.2,130h0M240.3,129.9h0M240.4,130.2h0M240.5,129.7h0M240.6,128.7h0M240.7,128.9h0M240.8,128.2h0M240.9,128.8h0M241,126.6h0M241.1,125.8h0M241.2,124.3h0M241.3,125.7h0M241.4,123.2h0M241.6,122.6h0M241.7,122.1h0M241.8,122.4h0M241.9,122.2h0M242,122.5h0M242.1,123.7h0M242.2,124.8h0M242.3,125.8h0M242.4,126.8h0M242.5,127.4h0M242.6,128.6h0M242.7,129.9h0M242.8,128.5h0M242.9,130.6h0M243.1,130h0M243.2,130.8h0M243.3,130.4h0M243.4,130.8h0M243.5,130.4h0M243.6,130.9h0M243.7,131.1h0M243.8,130.3h0M243.9,129.8h0M244,130.3h0M244.1,130.5h0M244.2,131.1h0M244.3,130.6h0M244.4,130.3h0M244.6,130.9h0M244.7,130.1h0M244.8,130.6h0M244.9,130.4h0M245,130.9h0M245.1,130.9h0M245.2,130.5h0M245.3,130.4h0M245.4,130.4h0M245.5,131.2h0M245.6,131h0M245.7,130.6h0M245.8,131.6h0M245.9,130.1h0M246,130.5h0M246.2,130.6h0M246.3,131h0M246.4,130.2h0M246.5,130.8h0M246.6,129.6h0M246.7,130.4h0M246.8,131.4h0M246.9,130.3h0M247,130.9h0M247.1,130.9h0M247.2,130.8h0M247.3,130.7h0M247.4,130.5h0M247.5,130.3h0M247.7,130.4h0M247.8,131h0M247.9,131.4h0M248,131.1h0M248.1,130.5h0M248.2,130.2h0M248.3,129.7h0M248.4,131.4h0M248.5,130.6h0M248.6,130.8h0M248.7,130.9h0M248.8,130.6h0M248.9,130.8h0M249,130.8h0M249.2,131h0M249.3,130.4h0M249.4,130.1h0M249.5,129.7h0M249.6,130.9h0M249.7,131.1h0M249.8,130.7h0M249.9,130.9h0M250,129.9h0M250.1,130.8h0M250.2,130.2h0M250.3,130.8h0M250.4,130h0M250.5,129.4h0M250.7,128.3h0M250.8,129.2h0M250.9,128.1h0M251,129h0M251.1,128.1h0M251.2,127.5h0M251.3,127.1h0M251.4,126.4h0M251.5,126.3h0M251.6,127.7h0M251.7,126.9h0M251.8,128.2h0M251.9,127h0M252,128.3h0M252.2,128.8h0M252.3,129.4h0M252.4,129.6h0M252.5,129.9h0M252.6,130.4h0M252.7,129.8h0M252.8,130.2h0M252.9,130h0M253,130.5h0M253.1,130.1h0M253.2,130.9h0M253.3,128.6h0M253.4,130.9h0M253.5,130.8h0M253.7,130h0M253.8,129.9h0M253.9,130.9h0M254,131.4h0M254.1,131.3h0M254.2,131h0M254.3,130.9h0M254.4,130.6h0M254.5,129.9h0M254.6,129.9h0M254.7,130.8h0M254.8,130.1h0M254.9,129.9h0M255,129.6h0M255.2,130.4h0M255.3,130.7h0M255.4,129.8h0M255.5,129.3h0M255.6,130.3h0M255.7,128.8h0M255.8,128.7h0M255.9,129.5h0M256,129.7h0M256.1,128.5h0M256.2,127.5h0M256.3,125.9h0M256.4,125.7h0M256.5,121.6h0M256.7,119.7h0M256.8,119.5h0M256.9,118.1h0M257,115.1h0M257.1,113h0M257.2,111.2h0M257.3,111.1h0M257.4,111.9h0M257.5,113.9h0M257.6,113.7h0M257.7,115.2h0M257.8,117.8h0M257.9,119.2h0M258,120.7h0M258.2,122.1h0M258.3,123.4h0M258.4,122.7h0M258.5,123.4h0M258.6,121.1h0M258.7,121.4h0M258.8,119.2h0M258.9,118.7h0M259,116.7h0M259.1,116.2h0M259.2,115.2h0M259.3,116h0M259.4,117.1h0M259.5,117.4h0M259.7,118.8h0M259.8,121.1h0M259.9,122.3h0M260,124.4h0M260.1,124.9h0M260.2,126.4h0M260.3,127.3h0M260.4,126.7h0M260.5,128.7h0M260.6,129h0M260.7,129.2h0M260.8,129.9h0M260.9,130.3h0M261,129.6h0M261.2,129.6h0M261.3,131.8h0M261.4,130.3h0M261.5,130.5h0M261.6,130.6h0M261.7,129.7h0M261.8,130.6h0M261.9,129.9h0M262,130.7h0M262.1,130.6h0M262.2,130h0M262.3,130.8h0M262.4,130.5h0M262.5,131h0M262.7,130.8h0M262.8,130h0M262.9,130.1h0M263,131h0M263.1,131h0M263.2,129h0M263.3,130.7h0M263.4,130.8h0M263.5,130h0M263.6,130.7h0M263.7,130.5h0M263.8,129.8h0M263.9,129.7h0M264,130.3h0M264.1,129.4h0M264.3,130.2h0M264.4,130.2h0M264.5,130h0M264.6,130.1h0M264.7,129.6h0M264.8,129.7h0M264.9,130.2h0M265,129.6h0M265.1,129.9h0M265.2,129.8h0M265.3,129.3h0M265.4,128.5h0M265.5,128.5h0M265.6,127.5h0M265.8,126.6h0M265.9,126.5h0M266,125.3h0M266.1,123.4h0M266.2,120h0M266.3,116h0M266.4,111h0M266.5,107.5h0M266.6,99.7h0M266.7,92.6h0M266.8,84.3h0M266.9,78.9h0M267,72.8h0M267.1,69.1h0M267.3,65.6h0M267.4,65.4h0M267.5,67.3h0M267.6,71.4h0M267.7,77.7h0M267.8,83.5h0M267.9,90.3h0M268,97.2h0M268.1,104.3h0M268.2,109.4h0M268.3,114.3h0M268.4,119.8h0M268.5,122.1h0M268.6,124.9h0M268.8,126.5h0M268.9,127h0M269,128h0M269.1,127.7h0M269.2,127.7h0M269.3,128.9h0M269.4,129.4h0M269.5,129.6h0M269.6,129.6h0M269.7,129.4h0M269.8,130.1h0M269.9,129.5h0M270,130h0M270.1,129.4h0M270.3,129.2h0M270.4,129.1h0M270.5,130.1h0M270.6,130.8h0M270.7,131h0M270.8,130.2h0M270.9,130.9h0M271,131h0M271.1,130.3h0M271.2,130.6h0M271.3,129.7h0M271.4,129h0M271.5,130.2h0M271.6,129.8h0M271.8,130.7h0M271.9,129.6h0M272,129.8h0M272.1,129.7h0M272.2,129.7h0M272.3,127.3h0M272.4,128.4h0M272.5,127.5h0M272.6,125.9h0M272.7,124.9h0M272.8,123.9h0M272.9,123.2h0M273,123.1h0M273.1,121.6h0M273.3,121.7h0M273.4,122.8h0M273.5,121.4h0M273.6,123.2h0M273.7,123.2h0M273.8,125.4h0M273.9,126.1h0M274,126.5h0M274.1,127.2h0M274.2,126.7h0M274.3,128.4h0M274.4,127.6h0M274.5,128.1h0M274.6,127.1h0M274.8,127h0M274.9,127.1h0M275,125.2h0M275.1,126.1h0M275.2,125.3h0M275.3,126.6h0M275.4,126h0M275.5,126.1h0M275.6,126.4h0M275.7,127.1h0M275.8,127.8h0M275.9,129.6h0M276,128.7h0M276.1,129.3h0M276.3,129.3h0M276.4,129h0M276.5,128.5h0M276.6,129.6h0M276.7,129.5h0M276.8,129.8h0M276.9,129.8h0M277,129.9h0M277.1,130.4h0M277.2,130.4h0M277.3,130.1h0M277.4,129.3h0M277.5,129.9h0M277.6,129.5h0M277.8,131h0M277.9,130.2h0M278,130.1h0M278.1,130h0M278.2,131h0M278.3,131.3h0M278.4,131.4h0M278.5,130.5h0M278.6,129.1h0M278.7,130.2h0M278.8,130.9h0M278.9,130.1h0M279,130.5h0M279.1,130.2h0M279.3,130.5h0M279.4,131h0M279.5,130.6h0M279.6,129.9h0M279.7,130.1h0M279.8,129.6h0M279.9,130.8h0M280,129.7h0M280.1,130.2h0M280.2,130.1h0M280.3,129.5h0M280.4,130.3h0M280.5,130.1h0M280.6,129.8h0M280.8,129.8h0M280.9,129.7h0M281,129.5h0M281.1,129.9h0M281.2,130.4h0M281.3,128.8h0M281.4,130.1h0M281.5,129.9h0M281.6,130.5h0M281.7,131.2h0M281.8,130.5h0M281.9,130h0M282,129.7h0M282.1,130h0M282.2,129.5h0M282.4,129.4h0M282.5,129.3h0M282.6,129.8h0M282.7,129.6h0M282.8,129.7h0M282.9,130h0M283,128.6h0M283.1,129.9h0M283.2,129.2h0M283.3,129h0M283.4,130.2h0M283.5,128.6h0M283.6,129.2h0M283.7,128.9h0M283.9,129.2h0M284,129.9h0M284.1,129.1h0M284.2,129.2h0M284.3,128.8h0M284.4,129.1h0M284.5,130.3h0M284.6,128.9h0M284.7,129.1h0M284.8,129.1h0M284.9,129.3h0M285,129.9h0M285.1,129.2h0M285.2,129.7h0M285.4,128h0M285.5,129.6h0M285.6,130.1h0M285.7,129.6h0M285.8,128.6h0M285.9,129.7h0M286,130.7h0M286.1,128.5h0M286.2,129.1h0M286.3,129.5h0M286.4,128.8h0M286.5,129.7h0M286.6,129.8h0M286.7,128.6h0M286.9,129.4h0M287,128.7h0M287.1,129h0M287.2,128.5h0M287.3,128.8h0M287.4,129.9h0M287.5,128.4h0M287.6,128.9h0M287.7,128.1h0M287.8,128.4h0M287.9,127.5h0M288,128.3h0M288.1,129h0M288.2,127.6h0M288.4,126.6h0M288.5,126.4h0M288.6,125.5h0M288.7,123.2h0M288.8,122.6h0M288.9,119.9h0M289,118.2h0M289.1,116.6h0M289.2,113.5h0M289.3,110.2h0M289.4,106.9h0M289.5,105.1h0M289.6,103.4h0M289.7,101.7h0M289.9,100.9h0M290,101.6h0M290.1,102.7h0M290.2,103.1h0M290.3,106.7h0M290.4,110.2h0M290.5,112.5h0M290.6,114.2h0M290.7,117.3h0M290.8,119.9h0M290.9,122.4h0M291,124h0M291.1,124.4h0M291.2,125.1h0M291.4,126.5h0M291.5,126.7h0M291.6,126.3h0M291.7,127.6h0M291.8,127.4h0M291.9,126.5h0M292,126.2h0M292.1,126.3h0M292.2,125.8h0M292.3,125.4h0M292.4,125.7h0M292.5,126.3h0M292.6,124.8h0M292.7,124.9h0M292.9,125.1h0M293,125.9h0M293.1,125h0M293.2,126.1h0M293.3,124.8h0M293.4,125.7h0M293.5,124.1h0M293.6,122.8h0M293.7,122.8h0M293.8,121.3h0M293.9,121.5h0M294,120.6h0M294.1,120h0M294.2,118.4h0M294.4,117.6h0M294.5,115.6h0M294.6,113.9h0M294.7,113.2h0M294.8,112.5h0" fill="none" stroke="#ff0000" stroke-width="4.9" stroke-linecap="round"/>
<path d="M55.4,111.8L55.5,111.9L55.6,112L55.7,112L55.8,112.1L55.9,112.2L56.1,112.2L56.2,112.3L56.3,112.4L56.4,112.4L56.5,112.5L56.6,112.6L56.7,112.6L56.8,112.7L56.9,112.8L57,112.8L57.1,112.9L57.2,113L57.3,113L57.4,113.1L57.6,113.2L57.7,113.2L57.8,113.3L57.9,113.3L58,113.4L58.1,113.5L58.2,113.5L58.3,113.6L58.4,113.6L58.5,113.7L58.6,113.7L58.7,113.8L58.8,113.9L58.9,113.9L59.1,114L59.2,114L59.3,114.1L59.4,114.1L59.5,114.2L59.6,114.2L59.7,114.3L59.8,114.3L59.9,114.4L60,114.4L60.1,114.5L60.2,114.5L60.3,114.6L60.4,114.6L60.6,114.7L60.7,114.7L60.8,114.8L60.9,114.8L61,114.9L61.1,114.9L61.2,115L61.3,115L61.4,115.1L61.5,115.1L61.6,115.2L61.7,115.2L61.8,115.3L61.9,115.3L62.1,115.3L62.2,115.4L62.3,115.4L62.4,115.5L62.5,115.5L62.6,115.6L62.7,115.6L62.8,115.6L62.9,115.7L63,115.7L63.1,115.8L63.2,115.8L63.3,115.9L63.4,115.9L63.6,115.9L63.7,116L63.8,116L63.9,116.1L64,116.1L64.1,116.1L64.2,116.2L64.3,116.2L64.4,116.2L64.5,116.3L64.6,116.3L64.7,116.4L64.8,116.4L64.9,116.4L65.1,116.5L65.2,116.5L65.3,116.5L65.4,116.6L65.5,116.6L65.6,116.7L65.7,116.7L65.8,116.7L65.9,116.8L66,116.8L66.1,116.8L66.2,116.9L66.3,116.9L66.4,116.9L66.6,117L66.7,117L66.8,117L66.9,117.1L67,117.1L67.1,117.1L67.2,117.2L67.3,117.2L67.4,117.2L67.5,117.3L67.6,117.3L67.7,117.3L67.8,117.4L67.9,117.4L68,117.4L68.2,117.5L68.3,117.5L68.4,117.5L68.5,117.6L68.6,117.6L68.7,117.6L68.8,117.6L68.9,117.7L69,117.7L69.1,117.7L69.2,117.8L69.3,117.8L69.4,117.8L69.5,117.9L69.7,117.9L69.8,117.9L69.9,117.9L70,118L70.1,118L70.2,118L70.3,118.1L70.4,118.1L70.5,118.1L70.6,118.1L70.7,118.2L70.8,118.2L70.9,118.2L71,118.3L71.2,118.3L71.3,118.3L71.4,118.3L71.5,118.4L71.6,118.4L71.7,118.4L71.8,118.4L71.9,118.5L72,118.5L72.1,118.5L72.2,118.5L72.3,118.6L72.4,118.6L72.5,118.6L72.7,118.6L72.8,118.7L72.9,118.7L73,118.7L73.1,118.7L73.2,118.8L73.3,118.8L73.4,118.8L73.5,118.8L73.6,118.9L73.7,118.9L73.8,118.9L73.9,118.9L74,119L74.2,119L74.3,119L74.4,119L74.5,119.1L74.6,119.1L74.7,119.1L74.8,119.1L74.9,119.2L75,119.2L75.1,119.2L75.2,119.2L75.3,119.2L75.4,119.3L75.5,119.3L75.7,119.3L75.8,119.3L75.9,119.3L76,119.4L76.1,119.4L76.2,119.4L76.3,119.4L76.4,119.4L76.5,119.5L76.6,119.5L76.7,119.5L76.8,119.5L76.9,119.5L77,119.5L77.2,119.5L77.3,119.6L77.4,119.6L77.5,119.6L77.6,119.6L77.7,119.6L77.8,119.6L77.9,119.6L78,119.6L78.1,119.6L78.2,119.6L78.3,119.5L78.4,119.5L78.5,119.4L78.7,119.3L78.8,119.2L78.9,118.9L79,118.5L79.1,117.9L79.2,117.1L79.3,115.9L79.4,114.5L79.5,112.7L79.6,110.6L79.7,108.3L79.8,106L79.9,103.7L80,101.9L80.2,100.6L80.3,100.2L80.4,100.6L80.5,101.9L80.6,103.8L80.7,106L80.8,108.4L80.9,110.8L81,112.9L81.1,114.8L81.2,116.3L81.3,117.4L81.4,118.3L81.5,119L81.7,119.4L81.8,119.7L81.9,119.9L82,120.1L82.1,120.2L82.2,120.3L82.3,120.4L82.4,120.4L82.5,120.5L82.6,120.5L82.7,120.5L82.8,120.6L82.9,120.6L83,120.7L83.2,120.7L83.3,120.7L83.4,120.8L83.5,120.8L83.6,120.8L83.7,120.8L83.8,120.9L83.9,120.9L84,120.9L84.1,120.9L84.2,121L84.3,121L84.4,121L84.5,121L84.7,121.1L84.8,121.1L84.9,121.1L85,121.1L85.1,121.1L85.2,121.2L85.3,121.2L85.4,121.2L85.5,121.2L85.6,121.2L85.7,121.3L85.8,121.3L85.9,121.3L86,121.3L86.1,121.4L86.3,121.4L86.4,121.4L86.5,121.4L86.6,121.4L86.7,121.4L86.8,121.5L86.9,121.5L87,121.5L87.1,121.5L87.2,121.5L87.3,121.6L87.4,121.6L87.5,121.6L87.6,121.6L87.8,121.6L87.9,121.7L88,121.7L88.1,121.7L88.2,121.7L88.3,121.7L88.4,121.7L88.5,121.8L88.6,121.8L88.7,121.8L88.8,121.8L88.9,121.8L89,121.9L89.1,121.9L89.3,121.9L89.4,121.9L89.5,121.9L89.6,121.9L89.7,122L89.8,122L89.9,122L90,122L90.1,122L90.2,122L90.3,122.1L90.4,122.1L90.5,122.1L90.6,122.1L90.8,122.1L90.9,122.1L91,122.2L91.1,122.2L91.2,122.2L91.3,122.2L91.4,122.2L91.5,122.2L91.6,122.3L91.7,122.3L91.8,122.3L91.9,122.3L92,122.3L92.1,122.3L92.3,122.4L92.4,122.4L92.5,122.4L92.6,122.4L92.7,122.4L92.8,122.4L92.9,122.5L93,122.5L93.1,122.5L93.2,122.5L93.3,122.5L93.4,122.5L93.5,122.5L93.6,122.6L93.8,122.6L93.9,122.6L94,122.6L94.1,122.6L94.2,122.6L94.3,122.7L94.4,122.7L94.5,122.7L94.6,122.7L94.7,122.7L94.8,122.7L94.9,122.8L95,122.8L95.1,122.8L95.3,122.8L95.4,122.8L95.5,122.8L95.6,122.8L95.7,122.9L95.8,122.9L95.9,122.9L96,122.9L96.1,122.9L96.2,122.9L96.3,122.9L96.4,123L96.5,123L96.6,123L96.8,123L96.9,123L97,123L97.1,123L97.2,123.1L97.3,123.1L97.4,123.1L97.5,123.1L97.6,123.1L97.7,123.1L97.8,123.2L97.9,123.2L98,123.2L98.1,123.2L98.3,123.2L98.4,123.2L98.5,123.2L98.6,123.2L98.7,123.3L98.8,123.3L98.9,123.3L99,123.3L99.1,123.3L99.2,123.3L99.3,123.3L99.4,123.4L99.5,123.4L99.6,123.4L99.8,123.4L99.9,123.4L100,123.4L100.1,123.4L100.2,123.5L100.3,123.5L100.4,123.5L100.5,123.5L100.6,123.5L100.7,123.5L100.8,123.5L100.9,123.5L101,123.6L101.1,123.6L101.3,123.6L101.4,123.6L101.5,123.6L101.6,123.6L101.7,123.6L101.8,123.6L101.9,123.6L102,123.7L102.1,123.7L102.2,123.7L102.3,123.7L102.4,123.7L102.5,123.7L102.6,123.7L102.8,123.7L102.9,123.7L103,123.7L103.1,123.7L103.2,123.7L103.3,123.6L103.4,123.5L103.5,123.4L103.6,123.2L103.7,123L103.8,122.7L103.9,122.3L104,121.9L104.1,121.5L104.2,121L104.4,120.6L104.5,120.2L104.6,120L104.7,120L104.8,120.1L104.9,120.4L105,120.8L105.1,121.3L105.2,121.8L105.3,122.3L105.4,122.7L105.5,123L105.6,123.3L105.7,123.6L105.9,123.7L106,123.9L106.1,124L106.2,124L106.3,124.1L106.4,124.1L106.5,124.1L106.6,124.2L106.7,124.2L106.8,124.2L106.9,124.2L107,124.2L107.1,124.3L107.2,124.3L107.4,124.3L107.5,124.3L107.6,124.3L107.7,124.3L107.8,124.3L107.9,124.3L108,124.4L108.1,124.4L108.2,124.4L108.3,124.4L108.4,124.4L108.5,124.4L108.6,124.4L108.7,124.4L108.9,124.5L109,124.5L109.1,124.5L109.2,124.5L109.3,124.5L109.4,124.5L109.5,124.5L109.6,124.5L109.7,124.5L109.8,124.6L109.9,124.6L110,124.6L110.1,124.6L110.2,124.6L110.4,124.6L110.5,124.6L110.6,124.6L110.7,124.6L110.8,124.6L110.9,124.6L111,124.6L111.1,124.7L111.2,124.7L111.3,124.7L111.4,124.7L111.5,124.7L111.6,124.7L111.7,124.7L111.9,124.7L112,124.7L112.1,124.7L112.2,124.7L112.3,124.7L112.4,124.7L112.5,124.7L112.6,124.7L112.7,124.7L112.8,124.7L112.9,124.7L113,124.7L113.1,124.7L113.2,124.7L113.4,124.7L113.5,124.6L113.6,124.6L113.7,124.6L113.8,124.6L113.9,124.5L114,124.4L114.1,124.3L114.2,124.1L114.3,123.9L114.4,123.5L114.5,122.9L114.6,122.1L114.7,121.1L114.9,119.7L115,118L115.1,116.1L115.2,113.9L115.3,111.7L115.4,109.7L115.5,107.9L115.6,106.8L115.7,106.4L115.8,106.8L115.9,108L116,109.7L116.1,111.8L116.2,113.9L116.4,116L116.5,117.9L116.6,119.6L116.7,120.9L116.8,121.9L116.9,122.6L117,123.1L117.1,123.4L117.2,123.6L117.3,123.6L117.4,123.4L117.5,123.1L117.6,122.6L117.7,121.8L117.9,120.6L118,118.8L118.1,116.4L118.2,113.3L118.3,109.3L118.4,104.6L118.5,99.3L118.6,93.6L118.7,88.1L118.8,83.2L118.9,79.6L119,77.7L119.1,77.8L119.2,80.1L119.4,84L119.5,89.1L119.6,94.7L119.7,100.3L119.8,105.6L119.9,110.3L120,114.1L120.1,117.2L120.2,119.5L120.3,121.3L120.4,122.5L120.5,123.3L120.6,123.8L120.7,124.2L120.9,124.5L121,124.7L121.1,124.8L121.2,124.9L121.3,125L121.4,125.1L121.5,125.1L121.6,125.2L121.7,125.2L121.8,125.3L121.9,125.3L122,125.4L122.1,125.4L122.2,125.4L122.3,125.5L122.5,125.5L122.6,125.5L122.7,125.5L122.8,125.6L122.9,125.6L123,125.6L123.1,125.6L123.2,125.7L123.3,125.7L123.4,125.7L123.5,125.7L123.6,125.7L123.7,125.7L123.8,125.7L124,125.8L124.1,125.8L124.2,125.8L124.3,125.8L124.4,125.8L124.5,125.8L124.6,125.8L124.7,125.8L124.8,125.8L124.9,125.9L125,125.9L125.1,125.9L125.2,125.9L125.3,125.9L125.5,125.9L125.6,125.9L125.7,125.9L125.8,125.9L125.9,125.9L126,125.9L126.1,125.9L126.2,125.9L126.3,125.9L126.4,125.9L126.5,125.9L126.6,125.9L126.7,125.9L126.8,125.9L127,125.9L127.1,125.9L127.2,125.9L127.3,125.9L127.4,125.8L127.5,125.8L127.6,125.8L127.7,125.8L127.8,125.8L127.9,125.8L128,125.7L128.1,125.7L128.2,125.7L128.3,125.6L128.5,125.6L128.6,125.5L128.7,125.5L128.8,125.4L128.9,125.3L129,125.3L129.1,125.2L129.2,125L129.3,124.9L129.4,124.7L129.5,124.5L129.6,124.2L129.7,123.8L129.8,123.1L130,122.1L130.1,120.7L130.2,118.5L130.3,115.4L130.4,111.1L130.5,105.3L130.6,97.9L130.7,88.9L130.8,78.4L130.9,66.9L131,55.2L131.1,44.2L131.2,35.2L131.3,29.2L131.5,27.3L131.6,29.8L131.7,36.3L131.8,45.7L131.9,56.9L132,68.6L132.1,80L132.2,90.3L132.3,99.2L132.4,106.4L132.5,111.9L132.6,116.1L132.7,119.1L132.8,121.1L133,122.5L133.1,123.5L133.2,124.1L133.3,124.6L133.4,124.9L133.5,125.1L133.6,125.3L133.7,125.4L133.8,125.6L133.9,125.7L134,125.8L134.1,125.9L134.2,125.9L134.3,126L134.5,126.1L134.6,126.1L134.7,126.2L134.8,126.3L134.9,126.3L135,126.3L135.1,126.4L135.2,126.4L135.3,126.5L135.4,126.5L135.5,126.5L135.6,126.6L135.7,126.6L135.8,126.6L136,126.6L136.1,126.7L136.2,126.7L136.3,126.7L136.4,126.7L136.5,126.7L136.6,126.8L136.7,126.8L136.8,126.8L136.9,126.8L137,126.8L137.1,126.9L137.2,126.9L137.3,126.9L137.5,126.9L137.6,126.9L137.7,126.9L137.8,126.9L137.9,126.9L138,127L138.1,127L138.2,127L138.3,127L138.4,127L138.5,127L138.6,126.9L138.7,126.9L138.8,126.8L138.9,126.8L139.1,126.7L139.2,126.5L139.3,126.4L139.4,126.3L139.5,126.1L139.6,126L139.7,125.9L139.8,125.8L139.9,125.8L140,125.9L140.1,126L140.2,126.2L140.3,126.3L140.4,126.5L140.6,126.7L140.7,126.8L140.8,126.9L140.9,127L141,127.1L141.1,127.2L141.2,127.2L141.3,127.2L141.4,127.3L141.5,127.3L141.6,127.3L141.7,127.3L141.8,127.3L141.9,127.3L142.1,127.3L142.2,127.4L142.3,127.4L142.4,127.4L142.5,127.4L142.6,127.4L142.7,127.4L142.8,127.4L142.9,127.4L143,127.4L143.1,127.4L143.2,127.4L143.3,127.5L143.4,127.5L143.6,127.5L143.7,127.5L143.8,127.5L143.9,127.5L144,127.5L144.1,127.5L144.2,127.5L144.3,127.5L144.4,127.5L144.5,127.5L144.6,127.5L144.7,127.6L144.8,127.6L144.9,127.6L145.1,127.6L145.2,127.6L145.3,127.6L145.4,127.6L145.5,127.6L145.6,127.6L145.7,127.6L145.8,127.6L145.9,127.6L146,127.6L146.1,127.6L146.2,127.7L146.3,127.7L146.4,127.7L146.6,127.7L146.7,127.7L146.8,127.7L146.9,127.7L147,127.7L147.1,127.7L147.2,127.7L147.3,127.7L147.4,127.7L147.5,127.7L147.6,127.7L147.7,127.7L147.8,127.7L147.9,127.8L148.1,127.8L148.2,127.8L148.3,127.8L148.4,127.8L148.5,127.8L148.6,127.8L148.7,127.8L148.8,127.8L148.9,127.8L149,127.8L149.1,127.8L149.2,127.8L149.3,127.8L149.4,127.8L149.6,127.8L149.7,127.8L149.8,127.9L149.9,127.9L150,127.9L150.1,127.9L150.2,127.9L150.3,127.9L150.4,127.9L150.5,127.9L150.6,127.9L150.7,127.9L150.8,127.9L150.9,127.9L151.1,127.9L151.2,127.9L151.3,127.9L151.4,127.9L151.5,127.8L151.6,127.8L151.7,127.7L151.8,127.7L151.9,127.6L152,127.5L152.1,127.3L152.2,127.2L152.3,127L152.4,126.9L152.6,126.8L152.7,126.7L152.8,126.6L152.9,126.7L153,126.8L153.1,126.9L153.2,127.1L153.3,127.2L153.4,127.4L153.5,127.5L153.6,127.6L153.7,127.7L153.8,127.8L153.9,127.9L154.1,127.9L154.2,128L154.3,128L154.4,128L154.5,128L154.6,128L154.7,128L154.8,128L154.9,128L155,128L155.1,128L155.2,128L155.3,128L155.4,128L155.6,128L155.7,128L155.8,128L155.9,128L156,128L156.1,128L156.2,128L156.3,128L156.4,128L156.5,128L156.6,128L156.7,127.9L156.8,127.9L156.9,127.9L157,127.9L157.2,127.9L157.3,127.9L157.4,127.8L157.5,127.8L157.6,127.8L157.7,127.7L157.8,127.7L157.9,127.6L158,127.5L158.1,127.4L158.2,127.3L158.3,127L158.4,126.7L158.5,126.2L158.7,125.5L158.8,124.4L158.9,122.9L159,120.8L159.1,118L159.2,114.5L159.3,110.3L159.4,105.6L159.5,100.4L159.6,95.4L159.7,90.8L159.8,87.2L159.9,85.1L160,85L160.2,86.7L160.3,90L160.4,94.5L160.5,99.5L160.6,104.6L160.7,109.5L160.8,113.8L160.9,117.5L161,120.4L161.1,122.6L161.2,124.2L161.3,125.4L161.4,126.2L161.5,126.7L161.7,127.1L161.8,127.3L161.9,127.5L162,127.6L162.1,127.7L162.2,127.8L162.3,127.8L162.4,127.9L162.5,127.9L162.6,128L162.7,128L162.8,128.1L162.9,128.1L163,128.1L163.2,128.1L163.3,128.1L163.4,128.2L163.5,128.2L163.6,128.2L163.7,128.2L163.8,128.2L163.9,128.2L164,128.2L164.1,128.3L164.2,128.3L164.3,128.3L164.4,128.3L164.5,128.3L164.7,128.3L164.8,128.3L164.9,128.3L165,128.3L165.1,128.3L165.2,128.3L165.3,128.3L165.4,128.3L165.5,128.3L165.6,128.3L165.7,128.3L165.8,128.3L165.9,128.3L166,128.3L166.2,128.2L166.3,128.2L166.4,128.2L166.5,128.2L166.6,128.2L166.7,128.2L166.8,128.2L166.9,128.1L167,128.1L167.1,128.1L167.2,128.1L167.3,128L167.4,128L167.5,128L167.7,127.9L167.8,127.9L167.9,127.8L168,127.8L168.1,127.7L168.2,127.7L168.3,127.6L168.4,127.5L168.5,127.4L168.6,127.4L168.7,127.2L168.8,127.1L168.9,127L169,126.8L169.2,126.7L169.3,126.4L169.4,126.2L169.5,125.9L169.6,125.4L169.7,124.9L169.8,124L169.9,122.7L170,120.8L170.1,118L170.2,113.9L170.3,108L170.4,100L170.5,89.4L170.7,76.2L170.8,60.4L170.9,42.5L171,23.5L171.1,4.6L171.2,-12.2L171.3,-25L171.4,-32L171.5,-32L171.6,-25.1L171.7,-12.2L171.8,4.6L171.9,23.4L172,42.4L172.2,60.4L172.3,76.2L172.4,89.4L172.5,100L172.6,108.1L172.7,113.9L172.8,118.1L172.9,120.9L173,122.8L173.1,124.1L173.2,125L173.3,125.6L173.4,126L173.5,126.3L173.7,126.6L173.8,126.8L173.9,127L174,127.2L174.1,127.3L174.2,127.5L174.3,127.6L174.4,127.7L174.5,127.8L174.6,127.8L174.7,127.9L174.8,128L174.9,128L175,128.1L175.1,128.2L175.3,128.2L175.4,128.2L175.5,128.3L175.6,128.3L175.7,128.3L175.8,128.4L175.9,128.4L176,128.4L176.1,128.4L176.2,128.4L176.3,128.4L176.4,128.3L176.5,128.3L176.6,128.1L176.8,127.9L176.9,127.6L177,127.2L177.1,126.7L177.2,125.9L177.3,125L177.4,124L177.5,122.8L177.6,121.6L177.7,120.5L177.8,119.6L177.9,119L178,118.8L178.1,119.1L178.3,119.8L178.4,120.7L178.5,121.9L178.6,123.1L178.7,124.3L178.8,125.3L178.9,126.2L179,127L179.1,127.6L179.2,128L179.3,128.3L179.4,128.5L179.5,128.7L179.6,128.8L179.8,128.9L179.9,128.9L180,128.9L180.1,129L180.2,129L180.3,129L180.4,129L180.5,129.1L180.6,129.1L180.7,129.1L180.8,129.1L180.9,129.1L181,129.1L181.1,129.1L181.3,129.2L181.4,129.2L181.5,129.2L181.6,129.2L181.7,129.2L181.8,129.2L181.9,129.2L182,129.2L182.1,129.2L182.2,129.2L182.3,129.2L182.4,129.2L182.5,129.3L182.6,129.3L182.8,129.3L182.9,129.3L183,129.3L183.1,129.3L183.2,129.3L183.3,129.3L183.4,129.3L183.5,129.3L183.6,129.3L183.7,129.3L183.8,129.3L183.9,129.3L184,129.3L184.1,129.3L184.3,129.3L184.4,129.4L184.5,129.4L184.6,129.4L184.7,129.4L184.8,129.4L184.9,129.4L185,129.4L185.1,129.4L185.2,129.4L185.3,129.4L185.4,129.4L185.5,129.4L185.6,129.4L185.8,129.4L185.9,129.4L186,129.4L186.1,129.4L186.2,129.4L186.3,129.4L186.4,129.4L186.5,129.4L186.6,129.4L186.7,129.4L186.8,129.4L186.9,129.4L187,129.4L187.1,129.4L187.3,129.3L187.4,129.3L187.5,129.2L187.6,129.1L187.7,129L187.8,128.8L187.9,128.6L188,128.4L188.1,128.1L188.2,127.9L188.3,127.6L188.4,127.4L188.5,127.3L188.6,127.3L188.8,127.3L188.9,127.5L189,127.7L189.1,127.9L189.2,128.2L189.3,128.5L189.4,128.7L189.5,128.9L189.6,129.1L189.7,129.2L189.8,129.3L189.9,129.4L190,129.4L190.1,129.4L190.3,129.4L190.4,129.5L190.5,129.5L190.6,129.5L190.7,129.5L190.8,129.5L190.9,129.5L191,129.5L191.1,129.5L191.2,129.5L191.3,129.5L191.4,129.5L191.5,129.5L191.6,129.5L191.8,129.5L191.9,129.5L192,129.5L192.1,129.5L192.2,129.4L192.3,129.4L192.4,129.4L192.5,129.4L192.6,129.4L192.7,129.4L192.8,129.3L192.9,129.3L193,129.3L193.1,129.2L193.2,129.1L193.4,129L193.5,128.8L193.6,128.6L193.7,128.2L193.8,127.7L193.9,127L194,126.2L194.1,125.2L194.2,124.1L194.3,122.9L194.4,121.6L194.5,120.5L194.6,119.7L194.7,119.2L194.9,119L195,119.4L195.1,120L195.2,120.9L195.3,121.8L195.4,122.7L195.5,123.3L195.6,123.5L195.7,123.2L195.8,122.3L195.9,120.8L196,118.6L196.1,115.8L196.2,112.5L196.4,108.8L196.5,105.1L196.6,101.8L196.7,99.2L196.8,97.7L196.9,97.6L197,98.9L197.1,101.3L197.2,104.6L197.3,108.3L197.4,112.1L197.5,115.7L197.6,118.9L197.7,121.6L197.9,123.8L198,125.4L198.1,126.6L198.2,127.5L198.3,128.1L198.4,128.5L198.5,128.8L198.6,128.9L198.7,129.1L198.8,129.1L198.9,129.2L199,129.3L199.1,129.3L199.2,129.4L199.4,129.4L199.5,129.4L199.6,129.4L199.7,129.5L199.8,129.5L199.9,129.5L200,129.5L200.1,129.5L200.2,129.5L200.3,129.5L200.4,129.6L200.5,129.6L200.6,129.6L200.7,129.6L200.9,129.6L201,129.6L201.1,129.6L201.2,129.6L201.3,129.6L201.4,129.6L201.5,129.6L201.6,129.5L201.7,129.5L201.8,129.5L201.9,129.5L202,129.5L202.1,129.5L202.2,129.4L202.4,129.4L202.5,129.4L202.6,129.3L202.7,129.3L202.8,129.2L202.9,129.2L203,129.1L203.1,128.9L203.2,128.7L203.3,128.4L203.4,128L203.5,127.3L203.6,126.4L203.7,125L203.9,123.1L204,120.6L204.1,117.5L204.2,113.6L204.3,109.3L204.4,104.6L204.5,99.9L204.6,95.6L204.7,92.2L204.8,90.1L204.9,89.8L205,91.2L205.1,94.1L205.2,98.1L205.4,102.7L205.5,107.4L205.6,112L205.7,116L205.8,119.5L205.9,122.2L206,124.4L206.1,125.9L206.2,127L206.3,127.8L206.4,128.3L206.5,128.7L206.6,128.9L206.7,129.1L206.9,129.2L207,129.3L207.1,129.3L207.2,129.4L207.3,129.4L207.4,129.5L207.5,129.5L207.6,129.5L207.7,129.5L207.8,129.5L207.9,129.6L208,129.6L208.1,129.6L208.2,129.6L208.4,129.6L208.5,129.5L208.6,129.5L208.7,129.5L208.8,129.5L208.9,129.4L209,129.4L209.1,129.3L209.2,129.1L209.3,128.9L209.4,128.6L209.5,128.1L209.6,127.4L209.7,126.4L209.9,125.1L210,123.3L210.1,121.2L210.2,118.6L210.3,115.8L210.4,112.9L210.5,110.1L210.6,107.7L210.7,106L210.8,105.2L210.9,105.6L211,106.9L211.1,109.1L211.2,111.8L211.3,114.7L211.5,117.6L211.6,120.2L211.7,122.6L211.8,124.5L211.9,126L212,127.2L212.1,128L212.2,128.6L212.3,129L212.4,129.2L212.5,129.4L212.6,129.6L212.7,129.6L212.8,129.7L213,129.8L213.1,129.8L213.2,129.8L213.3,129.9L213.4,129.9L213.5,129.9L213.6,129.9L213.7,130L213.8,130L213.9,130L214,130L214.1,130L214.2,130L214.3,130L214.5,130.1L214.6,130.1L214.7,130.1L214.8,130.1L214.9,130.1L215,130.1L215.1,130.1L215.2,130.1L215.3,130.1L215.4,130.1L215.5,130.1L215.6,130.1L215.7,130.1L215.8,130.1L216,130.2L216.1,130.2L216.2,130.2L216.3,130.2L216.4,130.2L216.5,130.2L216.6,130.2L216.7,130.2L216.8,130.2L216.9,130.2L217,130.2L217.1,130.2L217.2,130.2L217.3,130.2L217.5,130.2L217.6,130.2L217.7,130.2L217.8,130.2L217.9,130.2L218,130.2L218.1,130.2L218.2,130.2L218.3,130.2L218.4,130.2L218.5,130.2L218.6,130.2L218.7,130.2L218.8,130.1L219,130.1L219.1,130.1L219.2,130L219.3,129.9L219.4,129.8L219.5,129.6L219.6,129.3L219.7,129L219.8,128.6L219.9,128.1L220,127.5L220.1,126.9L220.2,126.3L220.3,125.8L220.5,125.4L220.6,125.2L220.7,125.1L220.8,125.3L220.9,125.7L221,126.2L221.1,126.8L221.2,127.4L221.3,128L221.4,128.5L221.5,129L221.6,129.3L221.7,129.6L221.8,129.8L222,129.9L222.1,130L222.2,130.1L222.3,130.1L222.4,130.1L222.5,130.2L222.6,130.2L222.7,130.2L222.8,130.2L222.9,130.2L223,130.2L223.1,130.2L223.2,130.2L223.3,130.2L223.5,130.2L223.6,130.2L223.7,130.2L223.8,130.2L223.9,130.1L224,130.1L224.1,130.1L224.2,130.1L224.3,130.1L224.4,130L224.5,130L224.6,129.9L224.7,129.8L224.8,129.7L225,129.5L225.1,129.2L225.2,128.7L225.3,128.1L225.4,127.2L225.5,126.1L225.6,124.6L225.7,122.8L225.8,120.8L225.9,118.6L226,116.3L226.1,114.2L226.2,112.5L226.3,111.3L226.5,110.9L226.6,111.4L226.7,112.6L226.8,114.4L226.9,116.5L227,118.8L227.1,121L227.2,123L227.3,124.8L227.4,126.2L227.5,127.3L227.6,128.2L227.7,128.8L227.8,129.2L228,129.5L228.1,129.7L228.2,129.9L228.3,130L228.4,130L228.5,130.1L228.6,130.1L228.7,130.2L228.8,130.2L228.9,130.2L229,130.2L229.1,130.2L229.2,130.3L229.3,130.3L229.4,130.3L229.6,130.3L229.7,130.3L229.8,130.3L229.9,130.3L230,130.3L230.1,130.3L230.2,130.3L230.3,130.3L230.4,130.3L230.5,130.4L230.6,130.4L230.7,130.4L230.8,130.4L230.9,130.4L231.1,130.4L231.2,130.4L231.3,130.4L231.4,130.4L231.5,130.4L231.6,130.4L231.7,130.4L231.8,130.4L231.9,130.4L232,130.3L232.1,130.3L232.2,130.3L232.3,130.3L232.4,130.3L232.6,130.3L232.7,130.3L232.8,130.3L232.9,130.3L233,130.3L233.1,130.3L233.2,130.2L233.3,130.2L233.4,130.2L233.5,130.2L233.6,130.2L233.7,130.1L233.8,130.1L233.9,130L234.1,130L234.2,129.9L234.3,129.8L234.4,129.7L234.5,129.5L234.6,129.2L234.7,128.7L234.8,128.1L234.9,127.2L235,125.9L235.1,124.2L235.2,122.1L235.3,119.4L235.4,116.4L235.6,113L235.7,109.6L235.8,106.2L235.9,103.4L236,101.4L236.1,100.4L236.2,100.7L236.3,102.3L236.4,104.7L236.5,107.9L236.6,111.3L236.7,114.8L236.8,118L236.9,120.8L237.1,123.2L237.2,125.1L237.3,126.6L237.4,127.7L237.5,128.5L237.6,129L237.7,129.4L237.8,129.6L237.9,129.8L238,129.9L238.1,130L238.2,130L238.3,130.1L238.4,130.1L238.6,130.2L238.7,130.2L238.8,130.2L238.9,130.2L239,130.3L239.1,130.3L239.2,130.3L239.3,130.3L239.4,130.3L239.5,130.3L239.6,130.3L239.7,130.3L239.8,130.3L239.9,130.3L240.1,130.3L240.2,130.2L240.3,130.2L240.4,130.1L240.5,130L240.6,129.8L240.7,129.6L240.8,129.3L240.9,128.8L241,128.2L241.1,127.5L241.2,126.6L241.3,125.7L241.4,124.7L241.6,123.8L241.7,123L241.8,122.4L241.9,122.1L242,122.1L242.1,122.5L242.2,123.1L242.3,124L242.4,125L242.5,125.9L242.6,126.9L242.7,127.7L242.8,128.4L242.9,129L243.1,129.4L243.2,129.7L243.3,130L243.4,130.1L243.5,130.3L243.6,130.3L243.7,130.4L243.8,130.4L243.9,130.5L244,130.5L244.1,130.5L244.2,130.5L244.3,130.5L244.4,130.5L244.6,130.5L244.7,130.6L244.8,130.6L244.9,130.6L245,130.6L245.1,130.6L245.2,130.6L245.3,130.6L245.4,130.6L245.5,130.6L245.6,130.6L245.7,130.6L245.8,130.6L245.9,130.6L246,130.6L246.2,130.6L246.3,130.6L246.4,130.6L246.5,130.6L246.6,130.6L246.7,130.6L246.8,130.6L246.9,130.6L247,130.6L247.1,130.6L247.2,130.6L247.3,130.6L247.4,130.6L247.5,130.6L247.7,130.6L247.8,130.6L247.9,130.6L248,130.6L248.1,130.6L248.2,130.6L248.3,130.6L248.4,130.6L248.5,130.6L248.6,130.6L248.7,130.6L248.8,130.6L248.9,130.6L249,130.6L249.2,130.6L249.3,130.6L249.4,130.6L249.5,130.6L249.6,130.6L249.7,130.6L249.8,130.6L249.9,130.5L250,130.5L250.1,130.5L250.2,130.4L250.3,130.3L250.4,130.1L250.5,130L250.7,129.7L250.8,129.4L250.9,129L251,128.6L251.1,128.2L251.2,127.7L251.3,127.3L251.4,126.9L251.5,126.7L251.6,126.6L251.7,126.7L251.8,126.9L251.9,127.2L252,127.7L252.2,128.1L252.3,128.6L252.4,129L252.5,129.3L252.6,129.7L252.7,129.9L252.8,130.1L252.9,130.2L253,130.3L253.1,130.4L253.2,130.5L253.3,130.5L253.4,130.5L253.5,130.5L253.7,130.5L253.8,130.5L253.9,130.5L254,130.5L254.1,130.5L254.2,130.5L254.3,130.5L254.4,130.5L254.5,130.5L254.6,130.5L254.7,130.5L254.8,130.4L254.9,130.4L255,130.4L255.2,130.4L255.3,130.4L255.4,130.3L255.5,130.3L255.6,130.2L255.7,130.1L255.8,130L255.9,129.9L256,129.6L256.1,129.3L256.2,128.8L256.3,128.2L256.4,127.3L256.5,126.2L256.7,124.8L256.8,123.2L256.9,121.4L257,119.5L257.1,117.6L257.2,115.9L257.3,114.4L257.4,113.5L257.5,113.2L257.6,113.6L257.7,114.6L257.8,115.9L257.9,117.5L258,119.2L258.2,120.8L258.3,122L258.4,122.9L258.5,123.4L258.6,123.5L258.7,123L258.8,122.3L258.9,121.2L259,120L259.1,118.8L259.2,117.7L259.3,116.9L259.4,116.6L259.5,116.8L259.7,117.4L259.8,118.5L259.9,119.9L260,121.4L260.1,123L260.2,124.4L260.3,125.7L260.4,126.8L260.5,127.8L260.6,128.5L260.7,129L260.8,129.4L260.9,129.7L261,129.9L261.2,130L261.3,130.1L261.4,130.2L261.5,130.2L261.6,130.3L261.7,130.3L261.8,130.3L261.9,130.3L262,130.3L262.1,130.4L262.2,130.4L262.3,130.4L262.4,130.4L262.5,130.4L262.7,130.4L262.8,130.4L262.9,130.4L263,130.4L263.1,130.4L263.2,130.4L263.3,130.3L263.4,130.3L263.5,130.3L263.6,130.3L263.7,130.3L263.8,130.3L263.9,130.3L264,130.2L264.1,130.2L264.3,130.2L264.4,130.1L264.5,130.1L264.6,130.1L264.7,130L264.8,130L264.9,129.9L265,129.8L265.1,129.8L265.2,129.7L265.3,129.5L265.4,129.4L265.5,129.1L265.6,128.8L265.8,128.3L265.9,127.6L266,126.6L266.1,125.2L266.2,123.3L266.3,120.6L266.4,117.3L266.5,113.1L266.6,108.1L266.7,102.5L266.8,96.3L266.9,90L267,84L267.1,78.9L267.3,75.1L267.4,73.2L267.5,73.4L267.6,75.8L267.7,79.9L267.8,85.3L267.9,91.4L268,97.7L268.1,103.7L268.2,109.3L268.3,114.1L268.4,118.1L268.5,121.3L268.6,123.7L268.8,125.5L268.9,126.8L269,127.8L269.1,128.4L269.2,128.8L269.3,129.1L269.4,129.4L269.5,129.5L269.6,129.6L269.7,129.7L269.8,129.8L269.9,129.9L270,129.9L270.1,130L270.3,130L270.4,130L270.5,130.1L270.6,130.1L270.7,130.1L270.8,130.1L270.9,130.1L271,130.2L271.1,130.2L271.2,130.2L271.3,130.2L271.4,130.1L271.5,130.1L271.6,130.1L271.8,130L271.9,130L272,129.8L272.1,129.6L272.2,129.4L272.3,129L272.4,128.6L272.5,128L272.6,127.3L272.7,126.5L272.8,125.7L272.9,124.8L273,123.8L273.1,123L273.3,122.4L273.4,122L273.5,121.9L273.6,122L273.7,122.5L273.8,123.2L273.9,124L274,124.8L274.1,125.6L274.2,126.4L274.3,126.9L274.4,127.3L274.5,127.6L274.6,127.6L274.8,127.5L274.9,127.3L275,127L275.1,126.6L275.2,126.3L275.3,126L275.4,125.8L275.5,125.8L275.6,125.9L275.7,126.2L275.8,126.6L275.9,127L276,127.5L276.1,128L276.3,128.5L276.4,128.9L276.5,129.2L276.6,129.5L276.7,129.7L276.8,129.9L276.9,130L277,130.1L277.1,130.2L277.2,130.2L277.3,130.3L277.4,130.3L277.5,130.3L277.6,130.3L277.8,130.3L277.9,130.3L278,130.3L278.1,130.3L278.2,130.3L278.3,130.3L278.4,130.3L278.5,130.3L278.6,130.3L278.7,130.3L278.8,130.3L278.9,130.3L279,130.3L279.1,130.3L279.3,130.3L279.4,130.3L279.5,130.3L279.6,130.3L279.7,130.3L279.8,130.3L279.9,130.3L280,130.2L280.1,130.2L280.2,130.2L280.3,130.2L280.4,130.2L280.5,130.2L280.6,130.2L280.8,130.2L280.9,130.2L281,130.2L281.1,130.2L281.2,130.2L281.3,130.1L281.4,130.1L281.5,130.1L281.6,130.1L281.7,130.1L281.8,130.1L281.9,130.1L282,130.1L282.1,130L282.2,130L282.4,130L282.5,129.9L282.6,129.9L282.7,129.8L282.8,129.8L282.9,129.7L283,129.6L283.1,129.5L283.2,129.4L283.3,129.3L283.4,129.2L283.5,129.1L283.6,129L283.7,129L283.9,129L284,129L284.1,129.1L284.2,129.1L284.3,129.2L284.4,129.3L284.5,129.4L284.6,129.4L284.7,129.5L284.8,129.5L284.9,129.5L285,129.6L285.1,129.6L285.2,129.6L285.4,129.6L285.5,129.5L285.6,129.5L285.7,129.5L285.8,129.5L285.9,129.5L286,129.4L286.1,129.4L286.2,129.4L286.3,129.4L286.4,129.3L286.5,129.3L286.6,129.3L286.7,129.2L286.9,129.2L287,129.2L287.1,129.1L287.2,129.1L287.3,129L287.4,129L287.5,128.9L287.6,128.9L287.7,128.8L287.8,128.7L287.9,128.7L288,128.6L288.1,128.5L288.2,128.3L288.4,128.1L288.5,127.8L288.6,127.5L288.7,127L288.8,126.3L288.9,125.4L289,124.2L289.1,122.8L289.2,121.1L289.3,119.1L289.4,116.9L289.5,114.6L289.6,112.2L289.7,110.1L289.9,108.2L290,106.8L290.1,106.1L290.2,106.1L290.3,106.9L290.4,108.3L290.5,110.2L290.6,112.3L290.7,114.6L290.8,116.8L290.9,118.8L291,120.7L291.1,122.2L291.2,123.4L291.4,124.4L291.5,125.1L291.6,125.7L291.7,126L291.8,126.2L291.9,126.4L292,126.4L292.1,126.4L292.2,126.4L292.3,126.3L292.4,126.2L292.5,126.1L292.6,126L292.7,125.9L292.9,125.7L293,125.5L293.1,125.3L293.2,125L293.3,124.7L293.4,124.3L293.5,123.9L293.6,123.4L293.7,122.9L293.8,122.3L293.9,121.6L294,120.7L294.1,119.8L294.2,118.8L294.4,117.6L294.5,116.4L294.6,115L294.7,113.5L294.8,111.8" fill="none" stroke="#000" stroke-width="1.55" stroke-linejoin="round"/>
<path d="M80.3,136.8V143.8M104.7,136.8V143.8M115.7,136.8V143.8M119.1,136.8V143.8M131.4,136.8V143.8M139.9,136.8V143.8M152.8,136.8V143.8M160,136.8V143.8M171.5,136.8V143.8M178,136.8V143.8M180.2,136.8V143.8M188.6,136.8V143.8M194.8,136.8V143.8M196.8,136.8V143.8M204.9,136.8V143.8M210.8,136.8V143.8M220.6,136.8V143.8M226.4,136.8V143.8M236.1,136.8V143.8M241.9,136.8V143.8M242.9,136.8V143.8M243.9,136.8V143.8M251.6,136.8V143.8M257.5,136.8V143.8M259.5,136.8V143.8M267.4,136.8V143.8M273.5,136.8V143.8M275.5,136.8V143.8M283.8,136.8V143.8M290.1,136.8V143.8" stroke="#3d9c9c" stroke-width="0.8" fill="none"/>
</g>
<g clip-path="url(#cpb)">
<path d="M55.4,378.9L55.5,381.6L55.6,380.5L55.7,381.5L55.8,381.9L55.9,381.2L56.1,379.9L56.2,379.8L56.3,381.6L56.4,381.2L56.5,381.6L56.6,382.6L56.7,380.3L56.8,379.4L56.9,379.5L57,381.2L57.1,379.6L57.2,379.8L57.3,381.1L57.4,380.8L57.6,381.1L57.7,380.6L57.8,379.2L57.9,381.6L58,381.9L58.1,380L58.2,380.7L58.3,382.5L58.4,381.7L58.5,381.5L58.6,381.3L58.7,380.5L58.8,379.9L58.9,380.9L59.1,380.6L59.2,381.4L59.3,379.9L59.4,379.6L59.5,381L59.6,381.4L59.7,378.9L59.8,379.9L59.9,381.6L60,382.3L60.1,381L60.2,379.7L60.3,381.3L60.4,381L60.6,381.2L60.7,380.2L60.8,379.5L60.9,381.9L61,381L61.1,381L61.2,381.3L61.3,381.9L61.4,380L61.5,380.6L61.6,380.1L61.7,379.4L61.8,381.1L61.9,380.3L62.1,381.1L62.2,380.9L62.3,380.5L62.4,380.9L62.5,382.1L62.6,379.4L62.7,380.6L62.8,381.8L62.9,382.8L63,380.8L63.1,380.2L63.2,379.8L63.3,379.7L63.4,381.1L63.6,380.2L63.7,382.2L63.8,380.6L63.9,379.9L64,381.3L64.1,380.9L64.2,380.7L64.3,380.6L64.4,379.4L64.5,381.8L64.6,379.5L64.7,381.9L64.8,381.4L64.9,381.5L65.1,380.8L65.2,381.2L65.3,380.3L65.4,380.8L65.5,378.7L65.6,380.4L65.7,381L65.8,380.4L65.9,380.2L66,380.9L66.1,381.8L66.2,381.5L66.3,380.6L66.4,380L66.6,380.3L66.7,380.8L66.8,380.2L66.9,381.2L67,380.5L67.1,379.4L67.2,379.7L67.3,379.5L67.4,381.1L67.5,380.6L67.6,381.7L67.7,379.9L67.8,381.2L67.9,382L68,381.2L68.2,380.5L68.3,382.8L68.4,382.1L68.5,379.8L68.6,380.7L68.7,380.8L68.8,382.3L68.9,379.3L69,379.8L69.1,380.1L69.2,381.8L69.3,380.2L69.4,379.7L69.5,381.1L69.7,381L69.8,381.2L69.9,380.2L70,381L70.1,381.1L70.2,382.1L70.3,382.3L70.4,379.9L70.5,379.3L70.6,379.9L70.7,379.4L70.8,381.3L70.9,380.8L71,380.4L71.2,380.9L71.3,379.2L71.4,382L71.5,381.3L71.6,381.1L71.7,381.4L71.8,380L71.9,382.7L72,379.7L72.1,379.9L72.2,380.5L72.3,379.4L72.4,378.5L72.5,380.6L72.7,380.1L72.8,380.4L72.9,380.3L73,381.3L73.1,381.5L73.2,380.2L73.3,381.3L73.4,379.9L73.5,380L73.6,381.2L73.7,380.4L73.8,380.7L73.9,380.9L74,379.6L74.2,380.7L74.3,380.5L74.4,382.7L74.5,380.2L74.6,382.2L74.7,381.1L74.8,379.2L74.9,379L75,381.1L75.1,382L75.2,380.4L75.3,381.1L75.4,380.4L75.5,382.1L75.7,379.6L75.8,379.2L75.9,382.2L76,381.5L76.1,381.4L76.2,380L76.3,382.7L76.4,380.5L76.5,381L76.6,381.5L76.7,380L76.8,382.7L76.9,382.1L77,381.5L77.2,380L77.3,381.1L77.4,381.6L77.5,380.3L77.6,381.2L77.7,381.4L77.8,381L77.9,380.4L78,378L78.1,381.9L78.2,380.4L78.3,380.9L78.4,381L78.5,379.1L78.7,379.9L78.8,380L78.9,381.2L79,381.7L79.1,380.4L79.2,381L79.3,381.4L79.4,379.8L79.5,382.3L79.6,381.6L79.7,379.2L79.8,379.8L79.9,377.4L80,378.1L80.2,373.7L80.3,375.3L80.4,372.6L80.5,375.3L80.6,377.7L80.7,377.3L80.8,379.8L80.9,381.5L81,378.4L81.1,380.2L81.2,379.1L81.3,380.5L81.4,379.2L81.5,381.7L81.7,382.2L81.8,382.3L81.9,379.8L82,382.9L82.1,382.7L82.2,382.3L82.3,380.4L82.4,380.2L82.5,381.6L82.6,379.8L82.7,380.3L82.8,379.4L82.9,379.7L83,381.4L83.2,380.5L83.3,380.9L83.4,380.2L83.5,380.5L83.6,380.6L83.7,379.9L83.8,380.6L83.9,379.9L84,380.6L84.1,380.8L84.2,379.7L84.3,379.7L84.4,379.4L84.5,380L84.7,380.9L84.8,380.5L84.9,380.5L85,382.5L85.1,381.9L85.2,379.1L85.3,380.7L85.4,383.7L85.5,380.8L85.6,380.5L85.7,382L85.8,378.3L85.9,379.5L86,379.8L86.1,380.9L86.3,380.2L86.4,379.8L86.5,380.2L86.6,381.4L86.7,380.5L86.8,380.5L86.9,380.4L87,381.8L87.1,380.4L87.2,380.7L87.3,380.4L87.4,380.5L87.5,382.2L87.6,379.8L87.8,379.9L87.9,382.1L88,380.8L88.1,381.6L88.2,381.2L88.3,379.7L88.4,380.2L88.5,378.7L88.6,380.6L88.7,381.9L88.8,380.6L88.9,383.2L89,378.9L89.1,380.5L89.3,380.3L89.4,380.6L89.5,381.6L89.6,380.9L89.7,381.5L89.8,381.3L89.9,380.4L90,382L90.1,379.1L90.2,381.8L90.3,379.9L90.4,381.4L90.5,382L90.6,380.4L90.8,380.6L90.9,381L91,380.8L91.1,381.4L91.2,380.4L91.3,381.3L91.4,380.8L91.5,379.7L91.6,382.1L91.7,381.4L91.8,381.5L91.9,381.6L92,382.2L92.1,381.1L92.3,380.7L92.4,380.9L92.5,382.4L92.6,380.2L92.7,380.1L92.8,380.8L92.9,381.8L93,381.7L93.1,378.9L93.2,379.1L93.3,380.4L93.4,381.7L93.5,379.6L93.6,380.7L93.8,379.2L93.9,381.4L94,380.4L94.1,381L94.2,380.1L94.3,381.5L94.4,379.9L94.5,381.2L94.6,381.7L94.7,380.3L94.8,380.6L94.9,382.9L95,380.9L95.1,380.7L95.3,380.7L95.4,378.9L95.5,381.5L95.6,380.9L95.7,382.5L95.8,382.3L95.9,381.4L96,381L96.1,381L96.2,380.2L96.3,380.1L96.4,379.9L96.5,381L96.6,380.4L96.8,381.5L96.9,380.5L97,380.4L97.1,381.3L97.2,383.9L97.3,381.5L97.4,378.4L97.5,380.9L97.6,381.5L97.7,380.7L97.8,379.8L97.9,380.5L98,381L98.1,382.1L98.3,381.1L98.4,382L98.5,380.5L98.6,379.4L98.7,379.8L98.8,381.4L98.9,381.8L99,382.2L99.1,380.4L99.2,380.3L99.3,380.1L99.4,380.5L99.5,382L99.6,382.7L99.8,379.8L99.9,381.7L100,379.1L100.1,382.9L100.2,381.9L100.3,381.7L100.4,380.6L100.5,380.2L100.6,381.4L100.7,380.3L100.8,382.1L100.9,381.3L101,382L101.1,381.4L101.3,381.5L101.4,380.6L101.5,377.6L101.6,382.2L101.7,381.1L101.8,380.2L101.9,380.8L102,379.5L102.1,381.8L102.2,380.1L102.3,381.6L102.4,380.1L102.5,380.7L102.6,380.6L102.8,381.4L102.9,382.6L103,381.9L103.1,380.2L103.2,381.1L103.3,380.1L103.4,382.2L103.5,380.2L103.6,379.8L103.7,383.2L103.8,380.5L103.9,378.6L104,381.8L104.1,379.6L104.2,380.8L104.4,379.8L104.5,381.4L104.6,381.9L104.7,381.4L104.8,381.4L104.9,381.6L105,382L105.1,379.5L105.2,381.6L105.3,382.3L105.4,381.9L105.5,380.3L105.6,383.2L105.7,380.4L105.9,380.2L106,379.6L106.1,381.3L106.2,381.6L106.3,380.7L106.4,380.7L106.5,379.6L106.6,380.8L106.7,381.3L106.8,382.1L106.9,381.1L107,380.8L107.1,379.8L107.2,380.8L107.4,379.6L107.5,379.7L107.6,381.6L107.7,381.9L107.8,381.4L107.9,381.1L108,381.6L108.1,380.2L108.2,380.2L108.3,379.7L108.4,380.6L108.5,381.3L108.6,380.5L108.7,381.7L108.9,380.7L109,381.5L109.1,379.8L109.2,383.3L109.3,380.1L109.4,380L109.5,380.9L109.6,380.5L109.7,380.7L109.8,379.7L109.9,379.3L110,380.8L110.1,379.4L110.2,381.4L110.4,380.5L110.5,380.4L110.6,382L110.7,380.6L110.8,381.5L110.9,380.1L111,381.7L111.1,382.5L111.2,382L111.3,380.8L111.4,380.6L111.5,380.5L111.6,381.5L111.7,380.1L111.9,381.4L112,381.1L112.1,380L112.2,381L112.3,382.6L112.4,380.2L112.5,380.9L112.6,381.2L112.7,379.7L112.8,381.4L112.9,380.3L113,380.7L113.1,378.5L113.2,382.5L113.4,380.7L113.5,380.6L113.6,379.9L113.7,381.3L113.8,381.5L113.9,379.6L114,381.3L114.1,380.7L114.2,381L114.3,380.7L114.4,382.5L114.5,381.8L114.6,381.5L114.7,381.6L114.9,380.8L115,381.7L115.1,381.9L115.2,383L115.3,381.7L115.4,384.4L115.5,383.8L115.6,385.8L115.7,385.1L115.8,382.2L115.9,383.1L116,385.1L116.1,382.4L116.2,382.3L116.4,383L116.5,381L116.6,381.5L116.7,381.1L116.8,380L116.9,381.6L117,379.8L117.1,381.1L117.2,381.1L117.3,379.5L117.4,380.4L117.5,381.2L117.6,380.8L117.7,380.5L117.9,382.2L118,379.7L118.1,380.3L118.2,381.7L118.3,381L118.4,378L118.5,380.4L118.6,374.5L118.7,378.7L118.8,375.7L118.9,379.5L119,374.5L119.1,374.8L119.2,372.9L119.4,373.6L119.5,375L119.6,371.8L119.7,374.8L119.8,377.9L119.9,377.2L120,382.1L120.1,379.7L120.2,378.1L120.3,380.5L120.4,380L120.5,381.6L120.6,379.8L120.7,380.5L120.9,380.7L121,379.8L121.1,379.2L121.2,380L121.3,382.4L121.4,380.4L121.5,380.6L121.6,381.9L121.7,382.3L121.8,381.2L121.9,381.1L122,380.9L122.1,381.5L122.2,380.7L122.3,380.6L122.5,381.1L122.6,380.5L122.7,381.4L122.8,382.3L122.9,380.9L123,380.1L123.1,378.4L123.2,382.8L123.3,381.3L123.4,381.7L123.5,380.6L123.6,381.7L123.7,380.8L123.8,380L124,381.6L124.1,380.9L124.2,379.4L124.3,380.1L124.4,382.3L124.5,379L124.6,381.5L124.7,380.6L124.8,381.3L124.9,381.3L125,381.5L125.1,380.3L125.2,381.6L125.3,382L125.5,381.4L125.6,380.9L125.7,382.7L125.8,380.2L125.9,381.5L126,380.2L126.1,379.6L126.2,380.6L126.3,380.4L126.4,381.3L126.5,381.5L126.6,382.6L126.7,381.1L126.8,381.4L127,383L127.1,380.6L127.2,379.5L127.3,380.5L127.4,379.8L127.5,381.1L127.6,381.8L127.7,380.8L127.8,381.2L127.9,381.9L128,380L128.1,380.7L128.2,381.5L128.3,380.7L128.5,381L128.6,380.3L128.7,379.4L128.8,381.5L128.9,382L129,379.6L129.1,378.7L129.2,381.5L129.3,381.8L129.4,382.1L129.5,381L129.6,380.9L129.7,381.3L129.8,380.3L130,382.2L130.1,382.2L130.2,383.3L130.3,380.5L130.4,381.3L130.5,381.5L130.6,385.1L130.7,382.4L130.8,384.4L130.9,383.8L131,383.9L131.1,385L131.2,383.6L131.3,384.9L131.5,381.1L131.6,378.6L131.7,379L131.8,375.5L131.9,372.9L132,376.2L132.1,377.4L132.2,377.7L132.3,376.8L132.4,375.4L132.5,378.4L132.6,379.1L132.7,381.2L132.8,379.7L133,379.6L133.1,380.9L133.2,380.6L133.3,381.3L133.4,380L133.5,379.5L133.6,380.4L133.7,380.3L133.8,380.8L133.9,381.4L134,381.5L134.1,381.2L134.2,380.7L134.3,380.8L134.5,379.9L134.6,380.2L134.7,379.5L134.8,380.2L134.9,381.1L135,380.8L135.1,382.3L135.2,379.4L135.3,381.4L135.4,381.2L135.5,379.2L135.6,381.8L135.7,381.4L135.8,380.9L136,381.4L136.1,380.8L136.2,380.7L136.3,380.3L136.4,381L136.5,380.3L136.6,381.2L136.7,380.4L136.8,379.9L136.9,382.4L137,381.1L137.1,380.7L137.2,382.6L137.3,383.6L137.5,380.6L137.6,381.5L137.7,380.2L137.8,380.9L137.9,381L138,381.3L138.1,380.9L138.2,381.8L138.3,381.5L138.4,380.4L138.5,381.4L138.6,380.9L138.7,381.5L138.8,382.1L138.9,383L139.1,381.7L139.2,383.8L139.3,383.2L139.4,385.8L139.5,384.4L139.6,384.8L139.7,386.4L139.8,387.7L139.9,386.1L140,385.6L140.1,385.9L140.2,385.5L140.3,383.2L140.4,383.7L140.6,383.4L140.7,381.7L140.8,382.1L140.9,382.4L141,380.7L141.1,381.7L141.2,380.4L141.3,381.7L141.4,380.8L141.5,379.9L141.6,380.6L141.7,380.5L141.8,380.6L141.9,380.2L142.1,380.9L142.2,380.5L142.3,381.1L142.4,379.2L142.5,381.7L142.6,380.2L142.7,381.7L142.8,380.4L142.9,379.8L143,381.8L143.1,379.4L143.2,381.7L143.3,381.6L143.4,380.6L143.6,381.8L143.7,380L143.8,380.5L143.9,383.2L144,382.1L144.1,381.5L144.2,380.5L144.3,381.8L144.4,381.5L144.5,380.3L144.6,381.7L144.7,380.6L144.8,382L144.9,380L145.1,379.7L145.2,381.9L145.3,382.9L145.4,382.3L145.5,380.1L145.6,381.4L145.7,380L145.8,382L145.9,381.7L146,381L146.1,380L146.2,381.1L146.3,381.8L146.4,380.6L146.6,380.8L146.7,380.5L146.8,381L146.9,381.4L147,380.9L147.1,383L147.2,380.7L147.3,379.8L147.4,380.4L147.5,381.7L147.6,382.2L147.7,379.8L147.8,381.3L147.9,381.1L148.1,380.7L148.2,381.4L148.3,380.8L148.4,379.6L148.5,381.3L148.6,379.2L148.7,380.6L148.8,380.6L148.9,380.1L149,380.1L149.1,380L149.2,380.4L149.3,381.4L149.4,379.5L149.6,381L149.7,381.6L149.8,380.1L149.9,380.3L150,380.9L150.1,380.8L150.2,380.4L150.3,379.2L150.4,380.9L150.5,382L150.6,381.4L150.7,380.4L150.8,381.1L150.9,381.5L151.1,380.3L151.2,380.3L151.3,381.1L151.4,380.6L151.5,381.4L151.6,381.4L151.7,381.2L151.8,382.1L151.9,380.6L152,381L152.1,381.4L152.2,380.8L152.3,380.8L152.4,381.6L152.6,381.5L152.7,381.7L152.8,379.6L152.9,382.6L153,381L153.1,380.1L153.2,382L153.3,381.8L153.4,381.8L153.5,382.6L153.6,379.9L153.7,381.2L153.8,381.9L153.9,381.5L154.1,380.8L154.2,381.3L154.3,381.8L154.4,380.6L154.5,381.8L154.6,381.3L154.7,380.9L154.8,381.6L154.9,380.9L155,381.6L155.1,378.7L155.2,381.4L155.3,380.4L155.4,381.8L155.6,382L155.7,381.1L155.8,381.3L155.9,381.3L156,381.1L156.1,380.3L156.2,379.4L156.3,379.3L156.4,381L156.5,379.5L156.6,379.6L156.7,381.6L156.8,381.5L156.9,381.2L157,379.4L157.2,381.3L157.3,381.4L157.4,380L157.5,381.3L157.6,381.3L157.7,380.7L157.8,381.1L157.9,383.4L158,382.4L158.1,380.7L158.2,382.6L158.3,380.3L158.4,381.5L158.5,381.3L158.7,381.4L158.8,383.7L158.9,383L159,383.9L159.1,383.2L159.2,382.6L159.3,385.8L159.4,386.8L159.5,391.1L159.6,390.7L159.7,392.2L159.8,393.7L159.9,393.6L160,393.1L160.2,395L160.3,393.7L160.4,395.2L160.5,390.8L160.6,389.8L160.7,390.3L160.8,386.3L160.9,386.1L161,383.2L161.1,382.9L161.2,382.6L161.3,380.6L161.4,382.1L161.5,382L161.7,381.5L161.8,381.3L161.9,382.1L162,380.8L162.1,380.9L162.2,381.7L162.3,382.6L162.4,380.1L162.5,380L162.6,380.4L162.7,380.3L162.8,379.6L162.9,380.8L163,379.7L163.2,381.2L163.3,381.8L163.4,381L163.5,381.3L163.6,380.6L163.7,379.4L163.8,380.6L163.9,380.1L164,379.1L164.1,379.4L164.2,380.9L164.3,381.6L164.4,379.1L164.5,381.9L164.7,382.5L164.8,382.7L164.9,379.9L165,382.2L165.1,381.2L165.2,381.1L165.3,379.8L165.4,382.1L165.5,380.9L165.6,380.7L165.7,379.7L165.8,381.1L165.9,380.7L166,381.2L166.2,380L166.3,380.1L166.4,381.3L166.5,380.4L166.6,382.2L166.7,380.9L166.8,381.7L166.9,381.3L167,380L167.1,379L167.2,380.7L167.3,381L167.4,381.2L167.5,380.2L167.7,381L167.8,380L167.9,379.5L168,380.3L168.1,381.2L168.2,380.2L168.3,381.5L168.4,382.5L168.5,379.8L168.6,379.1L168.7,379.6L168.8,381.2L168.9,384L169,381.5L169.2,380.2L169.3,381.2L169.4,379.5L169.5,381.6L169.6,380.3L169.7,380.5L169.8,380.4L169.9,382L170,380.4L170.1,379.8L170.2,380.2L170.3,381L170.4,379.4L170.5,379.5L170.7,376.8L170.8,375L170.9,375.6L171,375.3L171.1,376.5L171.2,376.3L171.3,381.7L171.4,378.8L171.5,378.6L171.6,383L171.7,381.6L171.8,386.8L171.9,384L172,384.5L172.2,383.1L172.3,383.3L172.4,379.7L172.5,387L172.6,384.1L172.7,382.6L172.8,381.4L172.9,382L173,381.9L173.1,382.7L173.2,382.4L173.3,381.9L173.4,379.5L173.5,381.7L173.7,378.3L173.8,379.9L173.9,381.2L174,380.2L174.1,380L174.2,382L174.3,382.4L174.4,379.6L174.5,381.8L174.6,380.1L174.7,380.3L174.8,382.4L174.9,380.3L175,380.4L175.1,379.7L175.3,380.9L175.4,380.5L175.5,380.6L175.6,381.1L175.7,379.4L175.8,380L175.9,379.5L176,380.6L176.1,379.8L176.2,381.7L176.3,381.4L176.4,379.9L176.5,381L176.6,381.2L176.8,380.6L176.9,382.2L177,380.4L177.1,380L177.2,380.7L177.3,381.4L177.4,377.9L177.5,379.2L177.6,380.8L177.7,380.1L177.8,381.2L177.9,381.3L178,381.5L178.1,380.1L178.3,378.6L178.4,378.4L178.5,379.7L178.6,378.5L178.7,379.3L178.8,381.5L178.9,381.3L179,380.2L179.1,380L179.2,379.7L179.3,382.1L179.4,382.6L179.5,379L179.6,381.1L179.8,380L179.9,380.8L180,382.1L180.1,379.6L180.2,380.5L180.3,379.6L180.4,380.3L180.5,381.7L180.6,380.9L180.7,380L180.8,381.5L180.9,380.7L181,379.9L181.1,382L181.3,381.2L181.4,380.7L181.5,380L181.6,381L181.7,381.5L181.8,380.4L181.9,381.4L182,380.5L182.1,380.6L182.2,381L182.3,380.1L182.4,379.8L182.5,382L182.6,380.4L182.8,381L182.9,381.1L183,380.8L183.1,379.8L183.2,381L183.3,381.1L183.4,382L183.5,381L183.6,380.9L183.7,381.7L183.8,381.1L183.9,380.4L184,379.7L184.1,381.1L184.3,379.1L184.4,380L184.5,380.1L184.6,380.3L184.7,380.8L184.8,381.4L184.9,380.9L185,380.8L185.1,380.7L185.2,379.5L185.3,379.1L185.4,380.4L185.5,380L185.6,381.4L185.8,382.5L185.9,380.9L186,380.6L186.1,379.6L186.2,378.7L186.3,380.6L186.4,379.7L186.5,379.8L186.6,380.6L186.7,380.1L186.8,380.5L186.9,379.5L187,381.7L187.1,382.8L187.3,380.7L187.4,380L187.5,379.9L187.6,381.3L187.7,380.3L187.8,381.4L187.9,380.2L188,381.5L188.1,381.8L188.2,379.9L188.3,382L188.4,382.3L188.5,380L188.6,380.7L188.8,383.1L188.9,379.6L189,382L189.1,381.2L189.2,380.9L189.3,378.9L189.4,380.8L189.5,380L189.6,380.9L189.7,380.3L189.8,382L189.9,380.8L190,381.3L190.1,381.7L190.3,380.5L190.4,379.9L190.5,380.4L190.6,381.1L190.7,380.2L190.8,381.7L190.9,380.5L191,380.3L191.1,380.9L191.2,381L191.3,380.7L191.4,381.3L191.5,381L191.6,380.1L191.8,382.5L191.9,379.7L192,380.4L192.1,380.6L192.2,381.7L192.3,381.1L192.4,381.3L192.5,380.2L192.6,380.2L192.7,379.8L192.8,380.7L192.9,382.6L193,381.6L193.1,381.1L193.2,380.5L193.4,382.1L193.5,381L193.6,380.7L193.7,381.3L193.8,381L193.9,378.6L194,380.8L194.1,378.8L194.2,380.6L194.3,381.5L194.4,380.2L194.5,381.3L194.6,380.9L194.7,383.3L194.9,380.4L195,381.5L195.1,379.5L195.2,380.7L195.3,381.2L195.4,381.9L195.5,380.8L195.6,381.2L195.7,381.6L195.8,378.6L195.9,380.8L196,379.5L196.1,378.7L196.2,379.9L196.4,379.5L196.5,379.6L196.6,378.9L196.7,379.3L196.8,379.4L196.9,380L197,380.9L197.1,380.9L197.2,381.2L197.3,380.1L197.4,378.7L197.5,381.7L197.6,381.3L197.7,381.8L197.9,380.8L198,379.7L198.1,381.1L198.2,380.5L198.3,383L198.4,380.9L198.5,380.4L198.6,381.4L198.7,382.3L198.8,380.4L198.9,380.9L199,379.2L199.1,381.3L199.2,381L199.4,381.2L199.5,380.7L199.6,382.4L199.7,379.6L199.8,380.3L199.9,381L200,381.1L200.1,380.4L200.2,380.5L200.3,381.2L200.4,381L200.5,380.5L200.6,381.2L200.7,381.1L200.9,381.2L201,381.1L201.1,381.9L201.2,381.6L201.3,380.5L201.4,380.1L201.5,380.8L201.6,383.9L201.7,382.1L201.8,380.4L201.9,379.3L202,379.7L202.1,381L202.2,381.1L202.4,381.1L202.5,379.2L202.6,380.5L202.7,381.6L202.8,379.9L202.9,380L203,382.5L203.1,381.2L203.2,379.7L203.3,379.7L203.4,381.6L203.5,380.2L203.6,379.1L203.7,379.3L203.9,380.4L204,378.9L204.1,377.1L204.2,376.5L204.3,377.8L204.4,372.1L204.5,374.6L204.6,376.8L204.7,374.7L204.8,378.8L204.9,375.8L205,375.4L205.1,372.3L205.2,376.6L205.4,377.2L205.5,377.4L205.6,378.8L205.7,380.3L205.8,378.3L205.9,379.6L206,378.7L206.1,379.4L206.2,381.5L206.3,381.1L206.4,381L206.5,381L206.6,380.3L206.7,380.9L206.9,381.4L207,379.4L207.1,379.5L207.2,380.7L207.3,381.7L207.4,381.3L207.5,381.4L207.6,381.5L207.7,381.6L207.8,380.5L207.9,380.5L208,380.4L208.1,381.6L208.2,380.5L208.4,379L208.5,380.6L208.6,381.1L208.7,378.4L208.8,380.5L208.9,381.3L209,380L209.1,381.4L209.2,381.1L209.3,379.8L209.4,381.3L209.5,382.1L209.6,380L209.7,379.8L209.9,382.1L210,381L210.1,379.3L210.2,380.1L210.3,379.3L210.4,380.4L210.5,381L210.6,380.9L210.7,380.5L210.8,379.8L210.9,383.8L211,382.7L211.1,380.1L211.2,379.3L211.3,381.1L211.5,380.4L211.6,381.7L211.7,382.1L211.8,380.4L211.9,380.7L212,381.2L212.1,381.9L212.2,380.7L212.3,380.8L212.4,381L212.5,380.9L212.6,381.1L212.7,380.3L212.8,380.4L213,379.2L213.1,379.6L213.2,380.8L213.3,381.8L213.4,380.2L213.5,381.3L213.6,379.5L213.7,382.1L213.8,381.2L213.9,379.5L214,380.8L214.1,380.2L214.2,380.2L214.3,381.2L214.5,380.1L214.6,381.5L214.7,381.1L214.8,379L214.9,381L215,380.5L215.1,381.7L215.2,379.7L215.3,381.6L215.4,381.4L215.5,381.3L215.6,381.6L215.7,382L215.8,381.1L216,381.2L216.1,380.9L216.2,381.6L216.3,381.6L216.4,381.1L216.5,380.8L216.6,381.6L216.7,380.9L216.8,381L216.9,379.9L217,380.3L217.1,380.4L217.2,380L217.3,381.4L217.5,379.7L217.6,380.7L217.7,381.2L217.8,380.5L217.9,381.7L218,379.3L218.1,380.6L218.2,382.1L218.3,381.8L218.4,381.3L218.5,381.3L218.6,380.5L218.7,380.1L218.8,380L219,380.4L219.1,381.6L219.2,379.9L219.3,379.8L219.4,382.5L219.5,381.3L219.6,381.1L219.7,381.5L219.8,379.9L219.9,380.4L220,380.8L220.1,382L220.2,382.8L220.3,381.8L220.5,381.7L220.6,381.7L220.7,383L220.8,382.4L220.9,381.3L221,380.5L221.1,381.4L221.2,381.1L221.3,380.9L221.4,380.9L221.5,379.8L221.6,381.5L221.7,380.7L221.8,382L222,379.8L222.1,380.2L222.2,380L222.3,380.8L222.4,380.9L222.5,381.9L222.6,380.6L222.7,379.7L222.8,383.2L222.9,379.4L223,381.5L223.1,380.4L223.2,381.5L223.3,381L223.5,380.1L223.6,381L223.7,379.3L223.8,380.8L223.9,380.3L224,381.3L224.1,381.2L224.2,381.2L224.3,380.4L224.4,379.4L224.5,380.8L224.6,381.9L224.7,381.3L224.8,382L225,380.3L225.1,380.7L225.2,381.7L225.3,381L225.4,379.6L225.5,379.9L225.6,380.9L225.7,379.2L225.8,379.4L225.9,380.3L226,379.2L226.1,376.8L226.2,380.5L226.3,377.5L226.5,379L226.6,378.1L226.7,378.5L226.8,378.8L226.9,379.6L227,379.7L227.1,379.1L227.2,379.6L227.3,381.8L227.4,379.9L227.5,379.2L227.6,379.8L227.7,380.5L227.8,382.4L228,380.2L228.1,380.2L228.2,379.5L228.3,381.6L228.4,381L228.5,381.3L228.6,381L228.7,382.3L228.8,381.2L228.9,381.2L229,381.1L229.1,379.5L229.2,381.4L229.3,381.2L229.4,379.9L229.6,381.3L229.7,379.8L229.8,380.5L229.9,381.4L230,381.4L230.1,380.7L230.2,381L230.3,380.8L230.4,381.3L230.5,380.3L230.6,381.4L230.7,381.2L230.8,381L230.9,381.9L231.1,381.1L231.2,381L231.3,382.1L231.4,382.4L231.5,379.8L231.6,381.1L231.7,381L231.8,381.4L231.9,379.5L232,381L232.1,382.4L232.2,380.4L232.3,381.7L232.4,380.5L232.6,381L232.7,379.8L232.8,380.4L232.9,381.2L233,379.6L233.1,378.5L233.2,381.3L233.3,379.9L233.4,380.5L233.5,380.4L233.6,381.9L233.7,381.7L233.8,379.6L233.9,380.7L234.1,381.3L234.2,379.2L234.3,379.7L234.4,380.1L234.5,381.6L234.6,380.8L234.7,379.3L234.8,382.6L234.9,382.2L235,381.3L235.1,379.3L235.2,380L235.3,379.5L235.4,379.5L235.6,379.4L235.7,377.6L235.8,373.9L235.9,378.1L236,376.7L236.1,379.3L236.2,376.2L236.3,378.6L236.4,378.7L236.5,379.8L236.6,380.4L236.7,380.4L236.8,381.1L236.9,381.6L237.1,378.2L237.2,380L237.3,379.5L237.4,380.1L237.5,382L237.6,380.7L237.7,381.6L237.8,381.5L237.9,380.9L238,380.6L238.1,380.7L238.2,380.7L238.3,381.1L238.4,380.8L238.6,379.7L238.7,378.9L238.8,379.8L238.9,381L239,380.5L239.1,380L239.2,379.9L239.3,379.8L239.4,379.7L239.5,380.5L239.6,381.1L239.7,382.2L239.8,379.9L239.9,380.3L240.1,381.6L240.2,380.8L240.3,381.2L240.4,381.2L240.5,379.3L240.6,381.1L240.7,378.7L240.8,381L240.9,381.5L241,380.7L241.1,378.6L241.2,381L241.3,380.3L241.4,383.1L241.6,380.2L241.7,382.3L241.8,381L241.9,379.4L242,381.1L242.1,380.1L242.2,381.1L242.3,381.2L242.4,380.6L242.5,379.8L242.6,380.7L242.7,380.9L242.8,381.7L242.9,382.4L243.1,380.7L243.2,381L243.3,380.6L243.4,379.9L243.5,380.1L243.6,381.6L243.7,380.6L243.8,380.6L243.9,381.1L244,382.8L244.1,381.5L244.2,380.9L244.3,380.2L244.4,381.1L244.6,382.1L244.7,379.7L244.8,380.9L244.9,381.2L245,380.4L245.1,380.3L245.2,380.9L245.3,381.4L245.4,381.4L245.5,380.2L245.6,381L245.7,380.4L245.8,382.5L245.9,381.3L246,381.2L246.2,381.3L246.3,382.5L246.4,381.3L246.5,379.5L246.6,380.6L246.7,381.3L246.8,381.5L246.9,382L247,380.7L247.1,381.5L247.2,381.2L247.3,380.1L247.4,380.1L247.5,380.3L247.7,382.3L247.8,381.4L247.9,379.9L248,381.9L248.1,379.8L248.2,380.9L248.3,380.1L248.4,381.2L248.5,381.9L248.6,381.8L248.7,379.6L248.8,381.2L248.9,381.9L249,380.2L249.2,382.2L249.3,381L249.4,380.6L249.5,380.6L249.6,380.5L249.7,381L249.8,383L249.9,380.7L250,380.9L250.1,381.1L250.2,380.5L250.3,380.2L250.4,380.7L250.5,379.6L250.7,378.9L250.8,380.6L250.9,381.2L251,382.1L251.1,380.4L251.2,382.6L251.3,379.3L251.4,379.9L251.5,381.4L251.6,380.2L251.7,381.7L251.8,382L251.9,380.2L252,381.9L252.2,380.7L252.3,381L252.4,379.5L252.5,380.6L252.6,379.5L252.7,380.1L252.8,381.6L252.9,381.9L253,382.7L253.1,380.9L253.2,383.3L253.3,381.6L253.4,383L253.5,381.4L253.7,380.3L253.8,381.7L253.9,381.4L254,381.3L254.1,380.7L254.2,382.2L254.3,380.8L254.4,381L254.5,381.8L254.6,381.7L254.7,379.8L254.8,380.3L254.9,380.5L255,381.6L255.2,381.2L255.3,382L255.4,382.4L255.5,381.3L255.6,381.4L255.7,382L255.8,382L255.9,380.6L256,381.3L256.1,382.3L256.2,379L256.3,382.5L256.4,380.7L256.5,381.9L256.7,380.1L256.8,380.7L256.9,379.7L257,380.9L257.1,381.6L257.2,379L257.3,380.8L257.4,381L257.5,380.9L257.6,381.6L257.7,380.3L257.8,378.7L257.9,379L258,380.4L258.2,380.1L258.3,380L258.4,381.5L258.5,379.3L258.6,380.6L258.7,382.9L258.8,380.2L258.9,381.9L259,380.6L259.1,380.1L259.2,381.3L259.3,380.6L259.4,379.3L259.5,382.6L259.7,383.2L259.8,381.1L259.9,381.2L260,378.6L260.1,379.9L260.2,380.4L260.3,381L260.4,382.9L260.5,382.2L260.6,381.2L260.7,380.8L260.8,381.3L260.9,380.8L261,380.3L261.2,381.6L261.3,381.3L261.4,381.8L261.5,379.9L261.6,382.7L261.7,380.4L261.8,380.3L261.9,382.7L262,381.4L262.1,380L262.2,381.7L262.3,381.5L262.4,381L262.5,379.8L262.7,380.4L262.8,381.6L262.9,382.2L263,382.3L263.1,380.7L263.2,382.9L263.3,381.5L263.4,380.5L263.5,382L263.6,381.3L263.7,381.1L263.8,380.3L263.9,382.2L264,380.9L264.1,381.1L264.3,380.9L264.4,382.4L264.5,380.6L264.6,381.8L264.7,381.1L264.8,381.8L264.9,379.3L265,381L265.1,379.2L265.2,381.7L265.3,381.4L265.4,379.8L265.5,381.6L265.6,380.9L265.8,380.4L265.9,382L266,382.6L266.1,382.6L266.2,381.8L266.3,383L266.4,382.8L266.5,385.5L266.6,386.8L266.7,388.6L266.8,388.4L266.9,389.5L267,389.2L267.1,390.6L267.3,389.8L267.4,388.2L267.5,384.9L267.6,385.7L267.7,384.7L267.8,380.9L267.9,379.5L268,381.4L268.1,380.8L268.2,382.7L268.3,382.2L268.4,380.2L268.5,378.6L268.6,378.3L268.8,379.7L268.9,381.2L269,380.3L269.1,382.3L269.2,381L269.3,382L269.4,381L269.5,379.7L269.6,379L269.7,380.8L269.8,380.6L269.9,382.5L270,381.6L270.1,379.6L270.3,379.9L270.4,380.2L270.5,380.6L270.6,379.5L270.7,381.2L270.8,381.1L270.9,378.5L271,381.7L271.1,380.6L271.2,381.3L271.3,379.6L271.4,381.2L271.5,381.3L271.6,381.2L271.8,380.2L271.9,381.9L272,382.3L272.1,381.1L272.2,381.3L272.3,380.4L272.4,381.3L272.5,381.6L272.6,380.7L272.7,380.5L272.8,379.9L272.9,380.9L273,383L273.1,381L273.3,381L273.4,381.1L273.5,380.3L273.6,381.3L273.7,379.7L273.8,381.3L273.9,379.4L274,382.2L274.1,383.5L274.2,382L274.3,378L274.4,381.2L274.5,381.1L274.6,380.7L274.8,381.4L274.9,380.7L275,380.8L275.1,378.7L275.2,379.7L275.3,380.6L275.4,380.2L275.5,380.3L275.6,382.1L275.7,379.7L275.8,381.6L275.9,380.1L276,380.8L276.1,380L276.3,379.5L276.4,380.4L276.5,381.4L276.6,381.2L276.7,380.4L276.8,381.3L276.9,381.3L277,381L277.1,381.2L277.2,380.5L277.3,381.3L277.4,380.8L277.5,381.5L277.6,382.4L277.8,380.2L277.9,380.1L278,381.3L278.1,380.2L278.2,380.6L278.3,381.9L278.4,379.9L278.5,382.6L278.6,381L278.7,380.3L278.8,381.9L278.9,379.5L279,381.4L279.1,379.8L279.3,381.1L279.4,380.3L279.5,380.9L279.6,378.8L279.7,380.5L279.8,380L279.9,380.3L280,380.7L280.1,381.1L280.2,380.5L280.3,380L280.4,380.1L280.5,380.4L280.6,381L280.8,380.3L280.9,381.7L281,380.9L281.1,382.6L281.2,381.4L281.3,381L281.4,382.1L281.5,381.8L281.6,380L281.7,380.4L281.8,379.9L281.9,379.8L282,380.3L282.1,380.2L282.2,380.6L282.4,379.7L282.5,382.2L282.6,381L282.7,379.9L282.8,380.1L282.9,380.8L283,381.1L283.1,380.1L283.2,381L283.3,381.8L283.4,379.8L283.5,381.2L283.6,380.7L283.7,382.3L283.9,383.2L284,380.4L284.1,379.3L284.2,382.9L284.3,381.3L284.4,380.3L284.5,380.7L284.6,380.8L284.7,380.9L284.8,381.7L284.9,379.9L285,380L285.1,380.5L285.2,382.8L285.4,379.4L285.5,380.9L285.6,380.4L285.7,379.2L285.8,379.7L285.9,380.9L286,379.9L286.1,380.3L286.2,381.3L286.3,380.7L286.4,382.3L286.5,382.2L286.6,380.6L286.7,379.6L286.9,381.7L287,379.8L287.1,380.7L287.2,379.2L287.3,381.1L287.4,378.2L287.5,380.4L287.6,381L287.7,380.6L287.8,382.4L287.9,380.5L288,381.1L288.1,380.3L288.2,381.1L288.4,383.2L288.5,383.1L288.6,381.3L288.7,381.8L288.8,379.8L288.9,381.6L289,380L289.1,380.5L289.2,378.5L289.3,379.9L289.4,379.6L289.5,380.9L289.6,379L289.7,378.4L289.9,379.3L290,378.1L290.1,380.3L290.2,379.2L290.3,378.5L290.4,379.5L290.5,377.7L290.6,378.7L290.7,380.4L290.8,381L290.9,380.1L291,381L291.1,380.8L291.2,381.6L291.4,379.8L291.5,380.5L291.6,380.4L291.7,380L291.8,382.8L291.9,380.7L292,381L292.1,380.2L292.2,380.4L292.3,380.3L292.4,379.7L292.5,382.5L292.6,381.7L292.7,379.8L292.9,379.6L293,381.5L293.1,379.8L293.2,380.1L293.3,382L293.4,381.4L293.5,380.5L293.6,380.9L293.7,379.3L293.8,380.3L293.9,380L294,381.4L294.1,381.9L294.2,381.4L294.4,379.6L294.5,379.2L294.6,381.5L294.7,381L294.8,383L294.9,379.7L295,381.9L295.1,380.1L295.2,379.7L295.3,382L295.4,381.6L295.5,380.2L295.6,379.6L295.7,381.3L295.9,381.8L296,380.5L296.1,379.7L296.2,381.8L296.3,381.5L296.4,379.8L296.5,380.7L296.6,381.6L296.7,380.8L296.8,380.4L296.9,379.9L297,380.6L297.1,380.9L297.2,382.3L297.4,380.4L297.5,380.4L297.6,380.7L297.7,380.8L297.8,380.7L297.9,380L298,381.2L298.1,381.9L298.2,380L298.3,381.2L298.4,381.1L298.5,380.5L298.6,381.1L298.7,380.9L298.9,381.9L299,379.6L299.1,382.1L299.2,379.6L299.3,382.1L299.4,381.6L299.5,381.3L299.6,379.9" fill="none" stroke="#2a2aff" stroke-width="0.6" stroke-linejoin="round"/>
<path d="M55.4,335.2h0M55.5,337.9h0M55.6,336.8h0M55.7,337.7h0M55.8,338.2h0M55.9,337.4h0M56.1,336.1h0M56.2,336h0M56.3,337.8h0M56.4,337.5h0M56.5,337.8h0M56.6,338.9h0M56.7,336.5h0M56.8,335.6h0M56.9,335.7h0M57,337.4h0M57.1,335.8h0M57.2,336h0M57.3,337.3h0M57.4,337h0M57.6,337.3h0M57.7,336.7h0M57.8,335.3h0M57.9,337.8h0M58,338h0M58.1,336.2h0M58.2,336.9h0M58.3,338.6h0M58.4,337.8h0M58.5,337.6h0M58.6,337.4h0M58.7,336.6h0M58.8,336h0M58.9,337h0M59.1,336.7h0M59.2,337.5h0M59.3,335.9h0M59.4,335.6h0M59.5,337.1h0M59.6,337.5h0M59.7,335h0M59.8,336h0M59.9,337.6h0M60,338.3h0M60.1,337.1h0M60.2,335.7h0M60.3,337.3h0M60.4,337h0M60.6,337.2h0M60.7,336.2h0M60.8,335.5h0M60.9,337.9h0M61,337h0M61.1,336.9h0M61.2,337.3h0M61.3,337.8h0M61.4,336h0M61.5,336.5h0M61.6,336h0M61.7,335.3h0M61.8,337h0M61.9,336.2h0M62.1,337h0M62.2,336.7h0M62.3,336.3h0M62.4,336.8h0M62.5,338h0M62.6,335.2h0M62.7,336.4h0M62.8,337.6h0M62.9,338.6h0M63,336.6h0M63.1,336h0M63.2,335.6h0M63.3,335.5h0M63.4,336.9h0M63.6,335.9h0M63.7,337.9h0M63.8,336.3h0M63.9,335.6h0M64,337h0M64.1,336.6h0M64.2,336.3h0M64.3,336.3h0M64.4,335.1h0M64.5,337.4h0M64.6,335.2h0M64.7,337.5h0M64.8,337h0M64.9,337.1h0M65.1,336.4h0M65.2,336.8h0M65.3,335.9h0M65.4,336.3h0M65.5,334.3h0M65.6,335.9h0M65.7,336.5h0M65.8,335.9h0M65.9,335.7h0M66,336.4h0M66.1,337.3h0M66.2,337h0M66.3,336.1h0M66.4,335.4h0M66.6,335.7h0M66.7,336.3h0M66.8,335.6h0M66.9,336.6h0M67,335.9h0M67.1,334.8h0M67.2,335.1h0M67.3,334.8h0M67.4,336.4h0M67.5,335.9h0M67.6,337h0M67.7,335.2h0M67.8,336.4h0M67.9,337.3h0M68,336.5h0M68.2,335.8h0M68.3,338h0M68.4,337.3h0M68.5,335h0M68.6,335.8h0M68.7,336h0M68.8,337.4h0M68.9,334.4h0M69,334.9h0M69.1,335.2h0M69.2,336.9h0M69.3,335.3h0M69.4,334.7h0M69.5,336.1h0M69.7,336h0M69.8,336.2h0M69.9,335.2h0M70,336h0M70.1,336h0M70.2,337.1h0M70.3,337.3h0M70.4,334.8h0M70.5,334.2h0M70.6,334.8h0M70.7,334.3h0M70.8,336.1h0M70.9,335.6h0M71,335.2h0M71.2,335.7h0M71.3,333.9h0M71.4,336.8h0M71.5,336h0M71.6,335.8h0M71.7,336.1h0M71.8,334.6h0M71.9,337.3h0M72,334.3h0M72.1,334.5h0M72.2,335h0M72.3,334h0M72.4,333h0M72.5,335.1h0M72.7,334.6h0M72.8,334.9h0M72.9,334.7h0M73,335.7h0M73.1,335.9h0M73.2,334.6h0M73.3,335.6h0M73.4,334.2h0M73.5,334.3h0M73.6,335.5h0M73.7,334.7h0M73.8,334.9h0M73.9,335.1h0M74,333.8h0M74.2,334.9h0M74.3,334.7h0M74.4,336.8h0M74.5,334.2h0M74.6,336.2h0M74.7,335.2h0M74.8,333.2h0M74.9,333h0M75,335.1h0M75.1,335.9h0M75.2,334.2h0M75.3,335h0M75.4,334.2h0M75.5,335.9h0M75.7,333.4h0M75.8,332.9h0M75.9,335.9h0M76,335.2h0M76.1,335.1h0M76.2,333.6h0M76.3,336.2h0M76.4,334h0M76.5,334.4h0M76.6,335h0M76.7,333.4h0M76.8,336h0M76.9,335.4h0M77,334.8h0M77.2,333.2h0M77.3,334.2h0M77.4,334.6h0M77.5,333.2h0M77.6,334.2h0M77.7,334.3h0M77.8,333.8h0M77.9,333.1h0M78,330.6h0M78.1,334.3h0M78.2,332.8h0M78.3,333h0M78.4,332.9h0M78.5,330.7h0M78.7,331h0M78.8,330.4h0M78.9,330.7h0M79,329.8h0M79.1,326.8h0M79.2,325.2h0M79.3,322.8h0M79.4,317.7h0M79.5,316.3h0M79.6,311.2h0M79.7,304.1h0M79.8,300.1h0M79.9,293.4h0M80,290.6h0M80.2,284h0M80.3,284.8h0M80.4,280.3h0M80.5,285.3h0M80.6,291.1h0M80.7,295h0M80.8,302.1h0M80.9,308.5h0M81,309.8h0M81.1,315.6h0M81.2,317.9h0M81.3,322.2h0M81.4,323.2h0M81.5,327.5h0M81.7,329.2h0M81.8,330.3h0M81.9,328.6h0M82,332.1h0M82.1,332.3h0M82.2,332.1h0M82.3,330.5h0M82.4,330.4h0M82.5,331.9h0M82.6,330.3h0M82.7,330.9h0M82.8,330h0M82.9,330.4h0M83,332.2h0M83.2,331.3h0M83.3,331.8h0M83.4,331.2h0M83.5,331.5h0M83.6,331.8h0M83.7,331.1h0M83.8,331.8h0M83.9,331.2h0M84,332h0M84.1,332.2h0M84.2,331.1h0M84.3,331.1h0M84.4,330.9h0M84.5,331.6h0M84.7,332.5h0M84.8,332.1h0M84.9,332.2h0M85,334.3h0M85.1,333.6h0M85.2,330.9h0M85.3,332.6h0M85.4,335.6h0M85.5,332.7h0M85.6,332.5h0M85.7,334h0M85.8,330.3h0M85.9,331.6h0M86,331.9h0M86.1,333h0M86.3,332.4h0M86.4,332h0M86.5,332.4h0M86.6,333.7h0M86.7,332.8h0M86.8,332.9h0M86.9,332.8h0M87,334.2h0M87.1,332.9h0M87.2,333.2h0M87.3,333h0M87.4,333h0M87.5,334.7h0M87.6,332.4h0M87.8,332.6h0M87.9,334.7h0M88,333.5h0M88.1,334.3h0M88.2,333.9h0M88.3,332.5h0M88.4,333h0M88.5,331.5h0M88.6,333.5h0M88.7,334.7h0M88.8,333.5h0M88.9,336.1h0M89,331.9h0M89.1,333.5h0M89.3,333.3h0M89.4,333.6h0M89.5,334.7h0M89.6,334h0M89.7,334.7h0M89.8,334.4h0M89.9,333.6h0M90,335.2h0M90.1,332.3h0M90.2,335.1h0M90.3,333.2h0M90.4,334.7h0M90.5,335.3h0M90.6,333.7h0M90.8,334h0M90.9,334.4h0M91,334.3h0M91.1,334.9h0M91.2,333.8h0M91.3,334.8h0M91.4,334.3h0M91.5,333.2h0M91.6,335.7h0M91.7,335h0M91.8,335.1h0M91.9,335.2h0M92,335.8h0M92.1,334.8h0M92.3,334.4h0M92.4,334.6h0M92.5,336.1h0M92.6,333.9h0M92.7,333.9h0M92.8,334.6h0M92.9,335.6h0M93,335.5h0M93.1,332.8h0M93.2,333h0M93.3,334.3h0M93.4,335.6h0M93.5,333.5h0M93.6,334.6h0M93.8,333.2h0M93.9,335.4h0M94,334.4h0M94.1,335.1h0M94.2,334.2h0M94.3,335.5h0M94.4,334h0M94.5,335.3h0M94.6,335.8h0M94.7,334.4h0M94.8,334.8h0M94.9,337.1h0M95,335.1h0M95.1,335h0M95.3,334.9h0M95.4,333.1h0M95.5,335.7h0M95.6,335.1h0M95.7,336.8h0M95.8,336.6h0M95.9,335.7h0M96,335.3h0M96.1,335.4h0M96.2,334.6h0M96.3,334.5h0M96.4,334.3h0M96.5,335.4h0M96.6,334.8h0M96.8,336h0M96.9,335h0M97,334.9h0M97.1,335.8h0M97.2,338.5h0M97.3,336h0M97.4,332.9h0M97.5,335.5h0M97.6,336h0M97.7,335.3h0M97.8,334.4h0M97.9,335.1h0M98,335.7h0M98.1,336.7h0M98.3,335.8h0M98.4,336.7h0M98.5,335.2h0M98.6,334.1h0M98.7,334.6h0M98.8,336.1h0M98.9,336.5h0M99,336.9h0M99.1,335.2h0M99.2,335.1h0M99.3,334.9h0M99.4,335.3h0M99.5,336.8h0M99.6,337.5h0M99.8,334.6h0M99.9,336.5h0M100,333.9h0M100.1,337.7h0M100.2,336.8h0M100.3,336.6h0M100.4,335.5h0M100.5,335.1h0M100.6,336.3h0M100.7,335.2h0M100.8,337h0M100.9,336.3h0M101,336.9h0M101.1,336.3h0M101.3,336.4h0M101.4,335.5h0M101.5,332.6h0M101.6,337.1h0M101.7,336h0M101.8,335.2h0M101.9,335.8h0M102,334.5h0M102.1,336.8h0M102.2,335.1h0M102.3,336.5h0M102.4,335h0M102.5,335.6h0M102.6,335.5h0M102.8,336.3h0M102.9,337.4h0M103,336.6h0M103.1,334.8h0M103.2,335.5h0M103.3,334.3h0M103.4,335.9h0M103.5,333.4h0M103.6,332.1h0M103.7,334.4h0M103.8,330.3h0M103.9,326.8h0M104,327.9h0M104.1,323.7h0M104.2,322.7h0M104.4,319.7h0M104.5,319.7h0M104.6,319.3h0M104.7,318.6h0M104.8,319.1h0M104.9,320.6h0M105,322.8h0M105.1,322.4h0M105.2,326.6h0M105.3,329.4h0M105.4,330.9h0M105.5,330.9h0M105.6,335.1h0M105.7,333.2h0M105.9,333.8h0M106,333.8h0M106.1,335.8h0M106.2,336.4h0M106.3,335.6h0M106.4,335.8h0M106.5,334.8h0M106.6,336h0M106.7,336.5h0M106.8,337.4h0M106.9,336.4h0M107,336.1h0M107.1,335.1h0M107.2,336.1h0M107.4,335h0M107.5,335.1h0M107.6,337h0M107.7,337.4h0M107.8,336.9h0M107.9,336.6h0M108,337.1h0M108.1,335.7h0M108.2,335.8h0M108.3,335.3h0M108.4,336.2h0M108.5,336.8h0M108.6,336.1h0M108.7,337.3h0M108.9,336.3h0M109,337.2h0M109.1,335.4h0M109.2,338.9h0M109.3,335.7h0M109.4,335.7h0M109.5,336.5h0M109.6,336.2h0M109.7,336.3h0M109.8,335.3h0M109.9,335h0M110,336.5h0M110.1,335h0M110.2,337.1h0M110.4,336.2h0M110.5,336.2h0M110.6,337.7h0M110.7,336.3h0M110.8,337.2h0M110.9,335.8h0M111,337.4h0M111.1,338.2h0M111.2,337.8h0M111.3,336.6h0M111.4,336.3h0M111.5,336.3h0M111.6,337.3h0M111.7,335.9h0M111.9,337.1h0M112,336.8h0M112.1,335.7h0M112.2,336.7h0M112.3,338.3h0M112.4,335.9h0M112.5,336.6h0M112.6,336.9h0M112.7,335.4h0M112.8,337.1h0M112.9,335.9h0M113,336.4h0M113.1,334.1h0M113.2,338.1h0M113.4,336.3h0M113.5,336.1h0M113.6,335.4h0M113.7,336.8h0M113.8,336.9h0M113.9,335h0M114,336.6h0M114.1,335.8h0M114.2,335.9h0M114.3,335.2h0M114.4,336.5h0M114.5,335.1h0M114.6,333.8h0M114.7,332.5h0M114.9,330h0M115,328.8h0M115.1,326.6h0M115.2,325h0M115.3,320.9h0M115.4,320.9h0M115.5,318.3h0M115.6,318.7h0M115.7,317.5h0M115.8,315.2h0M115.9,317.6h0M116,321.7h0M116.1,321.5h0M116.2,324.2h0M116.4,327.6h0M116.5,328h0M116.6,330.5h0M116.7,331.7h0M116.8,331.9h0M116.9,334.4h0M117,333.3h0M117.1,335h0M117.2,335.1h0M117.3,333.6h0M117.4,334.4h0M117.5,334.8h0M117.6,333.9h0M117.7,332.6h0M117.9,333.1h0M118,328.7h0M118.1,326.7h0M118.2,324.6h0M118.3,319.6h0M118.4,311.5h0M118.5,308.1h0M118.6,296.1h0M118.7,294.2h0M118.8,286h0M118.9,285.8h0M119,278.7h0M119.1,279.2h0M119.2,279.7h0M119.4,284.7h0M119.5,291.5h0M119.6,294.4h0M119.7,303.6h0M119.8,312.4h0M119.9,316.7h0M120,325.8h0M120.1,326.8h0M120.2,327.7h0M120.3,332h0M120.4,332.8h0M120.5,335.2h0M120.6,334h0M120.7,335.2h0M120.9,335.6h0M121,335h0M121.1,334.5h0M121.2,335.4h0M121.3,337.8h0M121.4,336h0M121.5,336.2h0M121.6,337.5h0M121.7,338h0M121.8,336.9h0M121.9,336.9h0M122,336.7h0M122.1,337.4h0M122.2,336.6h0M122.3,336.5h0M122.5,337h0M122.6,336.5h0M122.7,337.4h0M122.8,338.3h0M122.9,336.9h0M123,336.1h0M123.1,334.5h0M123.2,338.8h0M123.3,337.4h0M123.4,337.7h0M123.5,336.7h0M123.6,337.8h0M123.7,336.9h0M123.8,336.1h0M124,337.7h0M124.1,337.1h0M124.2,335.6h0M124.3,336.2h0M124.4,338.5h0M124.5,335.2h0M124.6,337.6h0M124.7,336.7h0M124.8,337.4h0M124.9,337.4h0M125,337.6h0M125.1,336.5h0M125.2,337.7h0M125.3,338.1h0M125.5,337.5h0M125.6,337h0M125.7,338.8h0M125.8,336.3h0M125.9,337.6h0M126,336.4h0M126.1,335.8h0M126.2,336.7h0M126.3,336.5h0M126.4,337.4h0M126.5,337.6h0M126.6,338.7h0M126.7,337.1h0M126.8,337.4h0M127,339h0M127.1,336.6h0M127.2,335.5h0M127.3,336.5h0M127.4,335.8h0M127.5,337.1h0M127.6,337.7h0M127.7,336.7h0M127.8,337h0M127.9,337.7h0M128,335.7h0M128.1,336.5h0M128.2,337.2h0M128.3,336.3h0M128.5,336.6h0M128.6,335.8h0M128.7,334.8h0M128.8,336.8h0M128.9,337.3h0M129,334.8h0M129.1,333.7h0M129.2,336.4h0M129.3,336.5h0M129.4,336.6h0M129.5,335.2h0M129.6,334.8h0M129.7,334.7h0M129.8,332.9h0M130,333.6h0M130.1,332h0M130.2,330.6h0M130.3,324.3h0M130.4,320.1h0M130.5,313.6h0M130.6,308.7h0M130.7,295.5h0M130.8,285.5h0M130.9,271.7h0M131,258.3h0M131.1,246.7h0M131.2,234.9h0M131.3,229.3h0M131.5,223.3h0M131.6,223.7h0M131.7,231.5h0M131.8,238.9h0M131.9,249.1h0M132,265.9h0M132.1,280.2h0M132.2,292.4h0M132.3,301.7h0M132.4,308.5h0M132.5,317.9h0M132.6,323.5h0M132.7,328.9h0M132.8,329.8h0M133,331.4h0M133.1,333.7h0M133.2,334.2h0M133.3,335.4h0M133.4,334.4h0M133.5,334.1h0M133.6,335.2h0M133.7,335.3h0M133.8,335.9h0M133.9,336.7h0M134,336.9h0M134.1,336.7h0M134.2,336.3h0M134.3,336.5h0M134.5,335.6h0M134.6,335.9h0M134.7,335.3h0M134.8,336h0M134.9,337h0M135,336.7h0M135.1,338.3h0M135.2,335.4h0M135.3,337.4h0M135.4,337.3h0M135.5,335.3h0M135.6,337.9h0M135.7,337.6h0M135.8,337.1h0M136,337.6h0M136.1,337h0M136.2,336.9h0M136.3,336.5h0M136.4,337.2h0M136.5,336.5h0M136.6,337.4h0M136.7,336.6h0M136.8,336.1h0M136.9,338.7h0M137,337.4h0M137.1,337h0M137.2,338.9h0M137.3,339.9h0M137.5,336.9h0M137.6,337.8h0M137.7,336.5h0M137.8,337.2h0M137.9,337.2h0M138,337.5h0M138.1,337.1h0M138.2,337.9h0M138.3,337.5h0M138.4,336.3h0M138.5,337.1h0M138.6,336.2h0M138.7,336.4h0M138.8,336.4h0M138.9,336.5h0M139.1,334.1h0M139.2,335.1h0M139.3,333h0M139.4,334.1h0M139.5,331.3h0M139.6,330.4h0M139.7,331h0M139.8,331.7h0M139.9,330.1h0M140,330.1h0M140.1,331.4h0M140.2,332.3h0M140.3,331.5h0M140.4,333.5h0M140.6,334.7h0M140.7,334.2h0M140.8,335.6h0M140.9,336.8h0M141,335.7h0M141.1,337.1h0M141.2,336.2h0M141.3,337.7h0M141.4,336.9h0M141.5,336.2h0M141.6,336.9h0M141.7,336.9h0M141.8,337h0M141.9,336.6h0M142.1,337.3h0M142.2,337h0M142.3,337.6h0M142.4,335.8h0M142.5,338.2h0M142.6,336.7h0M142.7,338.3h0M142.8,337h0M142.9,336.3h0M143,338.4h0M143.1,336h0M143.2,338.3h0M143.3,338.2h0M143.4,337.2h0M143.6,338.4h0M143.7,336.7h0M143.8,337.1h0M143.9,339.8h0M144,338.7h0M144.1,338.1h0M144.2,337.2h0M144.3,338.4h0M144.4,338.1h0M144.5,337h0M144.6,338.4h0M144.7,337.3h0M144.8,338.7h0M144.9,336.7h0M145.1,336.3h0M145.2,338.5h0M145.3,339.6h0M145.4,339h0M145.5,336.7h0M145.6,338h0M145.7,336.7h0M145.8,338.7h0M145.9,338.4h0M146,337.7h0M146.1,336.7h0M146.2,337.8h0M146.3,338.5h0M146.4,337.3h0M146.6,337.5h0M146.7,337.1h0M146.8,337.7h0M146.9,338.1h0M147,337.6h0M147.1,339.7h0M147.2,337.4h0M147.3,336.5h0M147.4,337.1h0M147.5,338.4h0M147.6,338.9h0M147.7,336.5h0M147.8,338h0M147.9,337.8h0M148.1,337.4h0M148.2,338.1h0M148.3,337.6h0M148.4,336.3h0M148.5,338h0M148.6,335.9h0M148.7,337.3h0M148.8,337.3h0M148.9,336.8h0M149,336.8h0M149.1,336.7h0M149.2,337.1h0M149.3,338.1h0M149.4,336.2h0M149.6,337.7h0M149.7,338.3h0M149.8,336.8h0M149.9,337h0M150,337.6h0M150.1,337.5h0M150.2,337.1h0M150.3,335.9h0M150.4,337.6h0M150.5,338.6h0M150.6,338h0M150.7,337.1h0M150.8,337.7h0M150.9,338.1h0M151.1,336.9h0M151.2,336.9h0M151.3,337.6h0M151.4,337.2h0M151.5,337.9h0M151.6,337.7h0M151.7,337.4h0M151.8,338.1h0M151.9,336.3h0M152,336.4h0M152.1,336.4h0M152.2,335.4h0M152.3,335h0M152.4,335.4h0M152.6,334.9h0M152.7,334.9h0M152.8,332.7h0M152.9,335.8h0M153,334.4h0M153.1,333.9h0M153.2,336.1h0M153.3,336.4h0M153.4,336.8h0M153.5,338h0M153.6,335.6h0M153.7,337.1h0M153.8,338.1h0M153.9,337.8h0M154.1,337.2h0M154.2,337.7h0M154.3,338.3h0M154.4,337.1h0M154.5,338.3h0M154.6,337.9h0M154.7,337.5h0M154.8,338.2h0M154.9,337.5h0M155,338.2h0M155.1,335.3h0M155.2,338h0M155.3,337h0M155.4,338.4h0M155.6,338.6h0M155.7,337.7h0M155.8,337.9h0M155.9,337.9h0M156,337.6h0M156.1,336.8h0M156.2,336h0M156.3,335.9h0M156.4,337.5h0M156.5,336h0M156.6,336.1h0M156.7,338.1h0M156.8,338h0M156.9,337.6h0M157,335.8h0M157.2,337.6h0M157.3,337.7h0M157.4,336.3h0M157.5,337.6h0M157.6,337.6h0M157.7,336.9h0M157.8,337.2h0M157.9,339.4h0M158,338.3h0M158.1,336.5h0M158.2,338.3h0M158.3,335.8h0M158.4,336.7h0M158.5,336h0M158.7,335.4h0M158.8,336.6h0M158.9,334.4h0M159,333.3h0M159.1,329.8h0M159.2,325.8h0M159.3,324.9h0M159.4,321.3h0M159.5,320.6h0M159.6,315.2h0M159.7,312.2h0M159.8,310.1h0M159.9,308.1h0M160,307.3h0M160.2,311h0M160.3,312.9h0M160.4,318.7h0M160.5,319.2h0M160.6,323.4h0M160.7,328.6h0M160.8,328.8h0M160.9,332.1h0M161,332.1h0M161.1,334h0M161.2,335.3h0M161.3,334.4h0M161.4,336.6h0M161.5,337h0M161.7,336.9h0M161.8,337h0M161.9,337.9h0M162,336.7h0M162.1,336.9h0M162.2,337.8h0M162.3,338.7h0M162.4,336.3h0M162.5,336.2h0M162.6,336.6h0M162.7,336.6h0M162.8,335.9h0M162.9,337.1h0M163,336h0M163.2,337.6h0M163.3,338.2h0M163.4,337.4h0M163.5,337.7h0M163.6,337h0M163.7,335.9h0M163.8,337.1h0M163.9,336.5h0M164,335.6h0M164.1,335.9h0M164.2,337.4h0M164.3,338h0M164.4,335.6h0M164.5,338.4h0M164.7,339h0M164.8,339.2h0M164.9,336.4h0M165,338.7h0M165.1,337.6h0M165.2,337.5h0M165.3,336.3h0M165.4,338.6h0M165.5,337.3h0M165.6,337.1h0M165.7,336.1h0M165.8,337.6h0M165.9,337.1h0M166,337.6h0M166.2,336.3h0M166.3,336.5h0M166.4,337.6h0M166.5,336.8h0M166.6,338.5h0M166.7,337.2h0M166.8,338h0M166.9,337.5h0M167,336.3h0M167.1,335.2h0M167.2,336.9h0M167.3,337.2h0M167.4,337.3h0M167.5,336.3h0M167.7,337.1h0M167.8,336h0M167.9,335.5h0M168,336.2h0M168.1,337.1h0M168.2,336h0M168.3,337.3h0M168.4,338.2h0M168.5,335.4h0M168.6,334.6h0M168.7,335h0M168.8,336.5h0M168.9,339.2h0M169,336.6h0M169.2,335.1h0M169.3,335.9h0M169.4,333.9h0M169.5,335.8h0M169.6,334.1h0M169.7,333.8h0M169.8,332.9h0M169.9,333.5h0M170,330.2h0M170.1,327.1h0M170.2,323.9h0M170.3,319.6h0M170.4,310.9h0M170.5,301.9h0M170.7,287.6h0M170.8,272h0M170.9,257h0M171,240h0M171.1,224.8h0M171.2,209.9h0M171.3,204.2h0M171.4,195.2h0M171.5,194.9h0M171.6,205.4h0M171.7,215.2h0M171.8,235h0M171.9,248.7h0M172,265.7h0M172.2,280h0M172.3,294h0M172.4,302h0M172.5,318.6h0M172.6,322.6h0M172.7,326.3h0M172.8,328.7h0M172.9,331.8h0M173,333.3h0M173.1,335.2h0M173.2,335.7h0M173.3,335.7h0M173.4,333.7h0M173.5,336.2h0M173.7,333h0M173.8,334.8h0M173.9,336.2h0M174,335.3h0M174.1,335.2h0M174.2,337.4h0M174.3,337.9h0M174.4,335.1h0M174.5,337.4h0M174.6,335.8h0M174.7,336h0M174.8,338.2h0M174.9,336.2h0M175,336.3h0M175.1,335.7h0M175.3,336.9h0M175.4,336.5h0M175.5,336.6h0M175.6,337.1h0M175.7,335.5h0M175.8,336.1h0M175.9,335.6h0M176,336.6h0M176.1,335.9h0M176.2,337.7h0M176.3,337.4h0M176.4,335.8h0M176.5,336.8h0M176.6,336.7h0M176.8,335.8h0M176.9,336.9h0M177,334.4h0M177.1,333h0M177.2,332.5h0M177.3,331.7h0M177.4,326.5h0M177.5,325.9h0M177.6,325.5h0M177.7,322.9h0M177.8,322.6h0M177.9,321.7h0M178,321.6h0M178.1,320.6h0M178.3,320.2h0M178.4,321.5h0M178.5,324.7h0M178.6,325.5h0M178.7,328.2h0M178.8,332.1h0M178.9,333.4h0M179,333.5h0M179.1,334.2h0M179.2,334.6h0M179.3,337.5h0M179.4,338.3h0M179.5,335h0M179.6,337.2h0M179.8,336.2h0M179.9,337.2h0M180,338.5h0M180.1,336.1h0M180.2,336.9h0M180.3,336.1h0M180.4,336.9h0M180.5,338.3h0M180.6,337.5h0M180.7,336.6h0M180.8,338.1h0M180.9,337.3h0M181,336.5h0M181.1,338.6h0M181.3,337.8h0M181.4,337.4h0M181.5,336.7h0M181.6,337.6h0M181.7,338.2h0M181.8,337.1h0M181.9,338.1h0M182,337.2h0M182.1,337.2h0M182.2,337.7h0M182.3,336.8h0M182.4,336.5h0M182.5,338.7h0M182.6,337.1h0M182.8,337.7h0M182.9,337.8h0M183,337.5h0M183.1,336.6h0M183.2,337.7h0M183.3,337.9h0M183.4,338.7h0M183.5,337.7h0M183.6,337.6h0M183.7,338.4h0M183.8,337.9h0M183.9,337.2h0M184,336.4h0M184.1,337.8h0M184.3,335.9h0M184.4,336.7h0M184.5,336.8h0M184.6,337.1h0M184.7,337.5h0M184.8,338.1h0M184.9,337.6h0M185,337.5h0M185.1,337.4h0M185.2,336.3h0M185.3,335.8h0M185.4,337.1h0M185.5,336.7h0M185.6,338.2h0M185.8,339.3h0M185.9,337.6h0M186,337.3h0M186.1,336.3h0M186.2,335.5h0M186.3,337.3h0M186.4,336.4h0M186.5,336.6h0M186.6,337.3h0M186.7,336.8h0M186.8,337.2h0M186.9,336.1h0M187,338.4h0M187.1,339.4h0M187.3,337.3h0M187.4,336.5h0M187.5,336.2h0M187.6,337.5h0M187.7,336.3h0M187.8,337.1h0M187.9,335.6h0M188,336.5h0M188.1,336.4h0M188.2,334.1h0M188.3,335.8h0M188.4,335.7h0M188.5,333.3h0M188.6,333.9h0M188.8,336.4h0M188.9,333.1h0M189,335.9h0M189.1,335.5h0M189.2,335.6h0M189.3,334h0M189.4,336.3h0M189.5,335.8h0M189.6,337h0M189.7,336.6h0M189.8,338.4h0M189.9,337.3h0M190,337.9h0M190.1,338.3h0M190.3,337.2h0M190.4,336.5h0M190.5,337h0M190.6,337.7h0M190.7,336.8h0M190.8,338.4h0M190.9,337.2h0M191,337h0M191.1,337.5h0M191.2,337.7h0M191.3,337.4h0M191.4,337.9h0M191.5,337.6h0M191.6,336.8h0M191.8,339.1h0M191.9,336.4h0M192,337h0M192.1,337.2h0M192.2,338.3h0M192.3,337.8h0M192.4,337.9h0M192.5,336.8h0M192.6,336.8h0M192.7,336.3h0M192.8,337.3h0M192.9,339.1h0M193,338.1h0M193.1,337.5h0M193.2,336.9h0M193.4,338.4h0M193.5,337.1h0M193.6,336.7h0M193.7,337h0M193.8,336.3h0M193.9,333.4h0M194,335h0M194.1,332.3h0M194.2,333.2h0M194.3,333.3h0M194.4,331h0M194.5,331.3h0M194.6,330.2h0M194.7,332.3h0M194.9,329.3h0M195,330.5h0M195.1,329.1h0M195.2,330.8h0M195.3,331.9h0M195.4,333.1h0M195.5,332.2h0M195.6,332.5h0M195.7,332.4h0M195.8,328.3h0M195.9,328.8h0M196,325h0M196.1,321.2h0M196.2,318.9h0M196.4,314.7h0M196.5,310.9h0M196.6,306.6h0M196.7,304.4h0M196.8,302.9h0M196.9,303.3h0M197,305.6h0M197.1,308.1h0M197.2,311.9h0M197.3,314.6h0M197.4,317.2h0M197.5,323.9h0M197.6,326.9h0M197.7,330.1h0M197.9,331.3h0M198,332h0M198.1,334.6h0M198.2,334.9h0M198.3,338h0M198.4,336.4h0M198.5,336.1h0M198.6,337.3h0M198.7,338.3h0M198.8,336.5h0M198.9,337.1h0M199,335.5h0M199.1,337.6h0M199.2,337.3h0M199.4,337.5h0M199.5,337.1h0M199.6,338.8h0M199.7,336h0M199.8,336.7h0M199.9,337.5h0M200,337.6h0M200.1,336.8h0M200.2,337h0M200.3,337.7h0M200.4,337.4h0M200.5,337h0M200.6,337.7h0M200.7,337.6h0M200.9,337.7h0M201,337.6h0M201.1,338.4h0M201.2,338.1h0M201.3,336.9h0M201.4,336.6h0M201.5,337.3h0M201.6,340.3h0M201.7,338.5h0M201.8,336.8h0M201.9,335.7h0M202,336.1h0M202.1,337.3h0M202.2,337.4h0M202.4,337.4h0M202.5,335.4h0M202.6,336.7h0M202.7,337.7h0M202.8,335.9h0M202.9,335.9h0M203,338.3h0M203.1,336.9h0M203.2,335.1h0M203.3,334.8h0M203.4,336.2h0M203.5,334.1h0M203.6,331.9h0M203.7,330.5h0M203.9,329.5h0M204,325.2h0M204.1,319.9h0M204.2,315h0M204.3,311.4h0M204.4,300.5h0M204.5,297.6h0M204.6,295h0M204.7,289.1h0M204.8,290.9h0M204.9,287.5h0M205,288.7h0M205.1,288.8h0M205.2,297.7h0M205.4,303.4h0M205.5,308.9h0M205.6,315.4h0M205.7,321.5h0M205.8,323.3h0M205.9,327.7h0M206,329.2h0M206.1,331.7h0M206.2,335h0M206.3,335.4h0M206.4,336h0M206.5,336.4h0M206.6,335.9h0M206.7,336.6h0M206.9,337.3h0M207,335.4h0M207.1,335.6h0M207.2,336.8h0M207.3,337.8h0M207.4,337.5h0M207.5,337.6h0M207.6,337.8h0M207.7,337.9h0M207.8,336.8h0M207.9,336.8h0M208,336.7h0M208.1,337.9h0M208.2,336.8h0M208.4,335.3h0M208.5,336.8h0M208.6,337.4h0M208.7,334.6h0M208.8,336.7h0M208.9,337.5h0M209,336.1h0M209.1,337.4h0M209.2,337h0M209.3,335.5h0M209.4,336.6h0M209.5,337h0M209.6,334.2h0M209.7,333h0M209.9,333.9h0M210,331.1h0M210.1,327.3h0M210.2,325.7h0M210.3,322.1h0M210.4,320.3h0M210.5,318.1h0M210.6,315.6h0M210.7,313.5h0M210.8,312.1h0M210.9,316.4h0M211,316.7h0M211.1,316.2h0M211.2,318.1h0M211.3,322.8h0M211.5,324.8h0M211.6,328.8h0M211.7,331.4h0M211.8,331.7h0M211.9,333.5h0M212,335.1h0M212.1,336.6h0M212.2,335.9h0M212.3,336.5h0M212.4,336.9h0M212.5,337h0M212.6,337.3h0M212.7,336.6h0M212.8,336.8h0M213,335.7h0M213.1,336h0M213.2,337.3h0M213.3,338.3h0M213.4,336.8h0M213.5,337.9h0M213.6,336.1h0M213.7,338.7h0M213.8,337.8h0M213.9,336.1h0M214,337.4h0M214.1,336.8h0M214.2,336.9h0M214.3,337.9h0M214.5,336.8h0M214.6,338.2h0M214.7,337.8h0M214.8,335.7h0M214.9,337.7h0M215,337.2h0M215.1,338.4h0M215.2,336.4h0M215.3,338.3h0M215.4,338.2h0M215.5,338.1h0M215.6,338.4h0M215.7,338.8h0M215.8,337.8h0M216,338h0M216.1,337.7h0M216.2,338.4h0M216.3,338.3h0M216.4,337.9h0M216.5,337.6h0M216.6,338.4h0M216.7,337.6h0M216.8,337.8h0M216.9,336.7h0M217,337.1h0M217.1,337.2h0M217.2,336.8h0M217.3,338.1h0M217.5,336.5h0M217.6,337.4h0M217.7,338h0M217.8,337.3h0M217.9,338.5h0M218,336.1h0M218.1,337.4h0M218.2,338.8h0M218.3,338.5h0M218.4,338h0M218.5,338h0M218.6,337.2h0M218.7,336.8h0M218.8,336.7h0M219,337.1h0M219.1,338.3h0M219.2,336.5h0M219.3,336.3h0M219.4,338.9h0M219.5,337.6h0M219.6,337.2h0M219.7,337.3h0M219.8,335.3h0M219.9,335.4h0M220,335.3h0M220.1,336.1h0M220.2,336.4h0M220.3,334.9h0M220.5,334.5h0M220.6,334.3h0M220.7,335.5h0M220.8,335.1h0M220.9,334.3h0M221,334h0M221.1,335.3h0M221.2,335.5h0M221.3,335.8h0M221.4,336.3h0M221.5,335.5h0M221.6,337.5h0M221.7,336.9h0M221.8,338.3h0M222,336.3h0M222.1,336.8h0M222.2,336.6h0M222.3,337.4h0M222.4,337.6h0M222.5,338.6h0M222.6,337.2h0M222.7,336.4h0M222.8,339.9h0M222.9,336h0M223,338.2h0M223.1,337.1h0M223.2,338.2h0M223.3,337.6h0M223.5,336.8h0M223.6,337.6h0M223.7,335.9h0M223.8,337.4h0M223.9,336.9h0M224,337.9h0M224.1,337.8h0M224.2,337.7h0M224.3,336.9h0M224.4,335.9h0M224.5,337.2h0M224.6,338.3h0M224.7,337.6h0M224.8,338.1h0M225,336.2h0M225.1,336.3h0M225.2,336.8h0M225.3,335.5h0M225.4,333.2h0M225.5,332.4h0M225.6,331.8h0M225.7,328.4h0M225.8,326.5h0M225.9,325.1h0M226,321.7h0M226.1,317.1h0M226.2,319h0M226.3,314.9h0M226.5,316h0M226.6,315.5h0M226.7,317.2h0M226.8,319.3h0M226.9,322.3h0M227,324.6h0M227.1,326.3h0M227.2,328.8h0M227.3,332.9h0M227.4,332.5h0M227.5,332.9h0M227.6,334.3h0M227.7,335.7h0M227.8,338h0M228,336.2h0M228.1,336.3h0M228.2,335.8h0M228.3,338h0M228.4,337.4h0M228.5,337.7h0M228.6,337.6h0M228.7,338.8h0M228.8,337.8h0M228.9,337.8h0M229,337.7h0M229.1,336.1h0M229.2,338h0M229.3,337.9h0M229.4,336.5h0M229.6,338h0M229.7,336.5h0M229.8,337.1h0M229.9,338.1h0M230,338.1h0M230.1,337.4h0M230.2,337.7h0M230.3,337.5h0M230.4,338h0M230.5,337h0M230.6,338.1h0M230.7,337.9h0M230.8,337.7h0M230.9,338.6h0M231.1,337.8h0M231.2,337.7h0M231.3,338.8h0M231.4,339.1h0M231.5,336.5h0M231.6,337.8h0M231.7,337.7h0M231.8,338.1h0M231.9,336.2h0M232,337.7h0M232.1,339h0M232.2,337.1h0M232.3,338.3h0M232.4,337.1h0M232.6,337.6h0M232.7,336.4h0M232.8,337.1h0M232.9,337.8h0M233,336.2h0M233.1,335.1h0M233.2,337.8h0M233.3,336.4h0M233.4,337h0M233.5,336.9h0M233.6,338.3h0M233.7,338.1h0M233.8,336h0M233.9,337h0M234.1,337.5h0M234.2,335.4h0M234.3,335.8h0M234.4,336.1h0M234.5,337.4h0M234.6,336.2h0M234.7,334.3h0M234.8,336.9h0M234.9,335.5h0M235,333.3h0M235.1,329.5h0M235.2,327.8h0M235.3,324.6h0M235.4,321.4h0M235.6,317.8h0M235.7,312.3h0M235.8,305.1h0M235.9,306.3h0M236,302.7h0M236.1,304.3h0M236.2,301.6h0M236.3,305.5h0M236.4,308.2h0M236.5,312.7h0M236.6,317h0M236.7,320.5h0M236.8,324.7h0M236.9,328.2h0M237.1,327.3h0M237.2,331.1h0M237.3,332.2h0M237.4,333.9h0M237.5,336.7h0M237.6,335.9h0M237.7,337.1h0M237.8,337.3h0M237.9,336.9h0M238,336.8h0M238.1,336.9h0M238.2,337h0M238.3,337.4h0M238.4,337.2h0M238.6,336.1h0M238.7,335.4h0M238.8,336.3h0M238.9,337.5h0M239,337h0M239.1,336.5h0M239.2,336.5h0M239.3,336.3h0M239.4,336.3h0M239.5,337.1h0M239.6,337.7h0M239.7,338.8h0M239.8,336.5h0M239.9,336.9h0M240.1,338.2h0M240.2,337.4h0M240.3,337.7h0M240.4,337.7h0M240.5,335.7h0M240.6,337.5h0M240.7,334.8h0M240.8,336.9h0M240.9,337.2h0M241,336h0M241.1,333.4h0M241.2,335.3h0M241.3,334.1h0M241.4,336.3h0M241.6,332.8h0M241.7,334.3h0M241.8,332.6h0M241.9,330.9h0M242,332.6h0M242.1,331.8h0M242.2,333.2h0M242.3,333.9h0M242.4,333.8h0M242.5,333.7h0M242.6,335.2h0M242.7,335.8h0M242.8,337.2h0M242.9,338.2h0M243.1,336.8h0M243.2,337.3h0M243.3,337h0M243.4,336.5h0M243.5,336.7h0M243.6,338.3h0M243.7,337.3h0M243.8,337.3h0M243.9,337.8h0M244,339.5h0M244.1,338.3h0M244.2,337.7h0M244.3,337h0M244.4,337.9h0M244.6,338.8h0M244.7,336.5h0M244.8,337.7h0M244.9,338h0M245,337.2h0M245.1,337.1h0M245.2,337.7h0M245.3,338.2h0M245.4,338.2h0M245.5,337h0M245.6,337.8h0M245.7,337.2h0M245.8,339.3h0M245.9,338.1h0M246,338h0M246.2,338.1h0M246.3,339.4h0M246.4,338.1h0M246.5,336.3h0M246.6,337.4h0M246.7,338.1h0M246.8,338.3h0M246.9,338.9h0M247,337.5h0M247.1,338.4h0M247.2,338h0M247.3,336.9h0M247.4,336.9h0M247.5,337.2h0M247.7,339.1h0M247.8,338.2h0M247.9,336.7h0M248,338.7h0M248.1,336.6h0M248.2,337.7h0M248.3,336.9h0M248.4,338.1h0M248.5,338.7h0M248.6,338.6h0M248.7,336.4h0M248.8,338h0M248.9,338.7h0M249,337h0M249.2,339h0M249.3,337.8h0M249.4,337.4h0M249.5,337.4h0M249.6,337.3h0M249.7,337.7h0M249.8,339.8h0M249.9,337.4h0M250,337.7h0M250.1,337.8h0M250.2,337.1h0M250.3,336.8h0M250.4,337.2h0M250.5,336h0M250.7,335.2h0M250.8,336.7h0M250.9,337h0M251,337.7h0M251.1,335.7h0M251.2,337.6h0M251.3,334.1h0M251.4,334.5h0M251.5,335.8h0M251.6,334.6h0M251.7,336.1h0M251.8,336.5h0M251.9,334.9h0M252,336.8h0M252.2,335.9h0M252.3,336.5h0M252.4,335.3h0M252.5,336.6h0M252.6,335.7h0M252.7,336.5h0M252.8,338h0M252.9,338.5h0M253,339.3h0M253.1,337.5h0M253.2,340h0M253.3,338.3h0M253.4,339.7h0M253.5,338.1h0M253.7,337h0M253.8,338.4h0M253.9,338.1h0M254,338h0M254.1,337.4h0M254.2,338.9h0M254.3,337.5h0M254.4,337.7h0M254.5,338.5h0M254.6,338.4h0M254.7,336.5h0M254.8,336.9h0M254.9,337.2h0M255,338.2h0M255.2,337.8h0M255.3,338.6h0M255.4,339h0M255.5,337.8h0M255.6,337.9h0M255.7,338.4h0M255.8,338.3h0M255.9,336.8h0M256,337.4h0M256.1,338.1h0M256.2,334.5h0M256.3,337.5h0M256.4,335h0M256.5,335.4h0M256.7,332.7h0M256.8,332.1h0M256.9,329.8h0M257,329.5h0M257.1,328.9h0M257.2,325h0M257.3,325.8h0M257.4,325.3h0M257.5,325h0M257.6,326h0M257.7,325.4h0M257.8,324.8h0M257.9,326.2h0M258,328.9h0M258.2,329.6h0M258.3,330.4h0M258.4,332.6h0M258.5,330.6h0M258.6,332h0M258.7,333.8h0M258.8,330.6h0M258.9,331.4h0M259,329.1h0M259.1,327.7h0M259.2,328h0M259.3,326.7h0M259.4,325.2h0M259.5,328.6h0M259.7,329.7h0M259.8,328.4h0M259.9,329.6h0M260,328.2h0M260.1,330.6h0M260.2,332.3h0M260.3,334h0M260.4,336.7h0M260.5,336.7h0M260.6,336.3h0M260.7,336.3h0M260.8,337.1h0M260.9,336.9h0M261,336.5h0M261.2,337.9h0M261.3,337.7h0M261.4,338.2h0M261.5,336.3h0M261.6,339.2h0M261.7,336.9h0M261.8,336.8h0M261.9,339.2h0M262,337.9h0M262.1,336.5h0M262.2,338.3h0M262.3,338h0M262.4,337.5h0M262.5,336.3h0M262.7,336.9h0M262.8,338.1h0M262.9,338.7h0M263,338.8h0M263.1,337.2h0M263.2,339.4h0M263.3,338h0M263.4,336.9h0M263.5,338.5h0M263.6,337.7h0M263.7,337.5h0M263.8,336.7h0M263.9,338.6h0M264,337.3h0M264.1,337.4h0M264.3,337.2h0M264.4,338.7h0M264.5,336.8h0M264.6,338h0M264.7,337.3h0M264.8,337.9h0M264.9,335.4h0M265,337h0M265.1,335h0M265.2,337.5h0M265.3,337h0M265.4,335.3h0M265.5,336.8h0M265.6,335.8h0M265.8,334.8h0M265.9,335.7h0M266,335.3h0M266.1,333.8h0M266.2,331h0M266.3,329.6h0M266.4,325.9h0M266.5,324.4h0M266.6,320.5h0M266.7,316.6h0M266.8,310.1h0M266.9,304.8h0M267,298.4h0M267.1,294.4h0M267.3,289.8h0M267.4,286.3h0M267.5,283.2h0M267.6,286.4h0M267.7,289.6h0M267.8,291.3h0M267.9,296.2h0M268,304.4h0M268.1,310.1h0M268.2,317.6h0M268.3,322h0M268.4,324.1h0M268.5,325.8h0M268.6,328h0M268.8,331.2h0M268.9,334.1h0M269,334.1h0M269.1,336.8h0M269.2,335.9h0M269.3,337.3h0M269.4,336.4h0M269.5,335.3h0M269.6,334.8h0M269.7,336.6h0M269.8,336.6h0M269.9,338.5h0M270,337.6h0M270.1,335.7h0M270.3,336.1h0M270.4,336.4h0M270.5,336.8h0M270.6,335.7h0M270.7,337.5h0M270.8,337.4h0M270.9,334.8h0M271,338h0M271.1,336.9h0M271.2,337.6h0M271.3,335.9h0M271.4,337.5h0M271.5,337.5h0M271.6,337.5h0M271.8,336.4h0M271.9,337.9h0M272,338.2h0M272.1,336.7h0M272.2,336.7h0M272.3,335.4h0M272.4,335.7h0M272.5,335.3h0M272.6,333.5h0M272.7,332.4h0M272.8,330.7h0M272.9,330.6h0M273,331.6h0M273.1,328.6h0M273.3,327.7h0M273.4,327.4h0M273.5,326.5h0M273.6,327.7h0M273.7,326.6h0M273.8,329.1h0M273.9,328.1h0M274,332h0M274.1,334.3h0M274.2,333.6h0M274.3,330.3h0M274.4,334h0M274.5,334.1h0M274.6,333.7h0M274.8,334.2h0M274.9,333.1h0M275,332.8h0M275.1,330.3h0M275.2,330.7h0M275.3,331.3h0M275.4,330.6h0M275.5,330.6h0M275.6,332.6h0M275.7,330.6h0M275.8,333h0M275.9,332.1h0M276,333.5h0M276.1,333.4h0M276.3,333.6h0M276.4,335h0M276.5,336.5h0M276.6,336.7h0M276.7,336.2h0M276.8,337.3h0M276.9,337.5h0M277,337.4h0M277.1,337.7h0M277.2,337h0M277.3,337.9h0M277.4,337.4h0M277.5,338.2h0M277.6,339.1h0M277.8,336.9h0M277.9,336.7h0M278,338h0M278.1,336.9h0M278.2,337.3h0M278.3,338.6h0M278.4,336.6h0M278.5,339.4h0M278.6,337.7h0M278.7,337h0M278.8,338.6h0M278.9,336.3h0M279,338.2h0M279.1,336.6h0M279.3,337.8h0M279.4,337.1h0M279.5,337.7h0M279.6,335.6h0M279.7,337.3h0M279.8,336.8h0M279.9,337h0M280,337.5h0M280.1,337.9h0M280.2,337.3h0M280.3,336.8h0M280.4,336.9h0M280.5,337.2h0M280.6,337.8h0M280.8,337h0M280.9,338.5h0M281,337.7h0M281.1,339.4h0M281.2,338.2h0M281.3,337.8h0M281.4,338.9h0M281.5,338.6h0M281.6,336.8h0M281.7,337.2h0M281.8,336.7h0M281.9,336.6h0M282,337h0M282.1,336.9h0M282.2,337.3h0M282.4,336.4h0M282.5,338.8h0M282.6,337.6h0M282.7,336.5h0M282.8,336.5h0M282.9,337.1h0M283,337.3h0M283.1,336.2h0M283.2,336.9h0M283.3,337.6h0M283.4,335.4h0M283.5,336.7h0M283.6,336.2h0M283.7,337.8h0M283.9,338.7h0M284,336h0M284.1,335h0M284.2,338.7h0M284.3,337.2h0M284.4,336.4h0M284.5,336.8h0M284.6,337.1h0M284.7,337.3h0M284.8,338.2h0M284.9,336.4h0M285,336.6h0M285.1,337.2h0M285.2,339.5h0M285.4,336.1h0M285.5,337.6h0M285.6,337.1h0M285.7,335.9h0M285.8,336.4h0M285.9,337.6h0M286,336.6h0M286.1,337h0M286.2,338.1h0M286.3,337.4h0M286.4,339.1h0M286.5,338.9h0M286.6,337.4h0M286.7,336.3h0M286.9,338.4h0M287,336.5h0M287.1,337.4h0M287.2,335.9h0M287.3,337.8h0M287.4,334.9h0M287.5,337h0M287.6,337.6h0M287.7,337.2h0M287.8,338.9h0M287.9,337h0M288,337.5h0M288.1,336.7h0M288.2,337.4h0M288.4,339.4h0M288.5,339.1h0M288.6,337.1h0M288.7,337.3h0M288.8,334.8h0M288.9,336h0M289,333.6h0M289.1,333.1h0M289.2,329.9h0M289.3,329.9h0M289.4,328.1h0M289.5,327.7h0M289.6,324.2h0M289.7,322.1h0M289.9,321.6h0M290,319.5h0M290.1,321.3h0M290.2,320.2h0M290.3,320.1h0M290.4,322.2h0M290.5,321.8h0M290.6,324.3h0M290.7,327.7h0M290.8,329.8h0M290.9,330.4h0M291,332.7h0M291.1,333.6h0M291.2,335.4h0M291.4,334.3h0M291.5,335.6h0M291.6,335.9h0M291.7,335.8h0M291.8,338.9h0M291.9,337h0M292,337.3h0M292.1,336.6h0M292.2,336.8h0M292.3,336.8h0M292.4,336.2h0M292.5,339h0M292.6,338.3h0M292.7,336.3h0M292.9,336.2h0M293,338.1h0M293.1,336.5h0M293.2,336.7h0M293.3,338.7h0M293.4,338h0M293.5,337.2h0M293.6,337.5h0M293.7,335.9h0M293.8,337h0M293.9,336.7h0M294,338.1h0M294.1,338.6h0M294.2,338h0M294.4,336.3h0M294.5,335.9h0M294.6,338.2h0M294.7,337.6h0M294.8,339.7h0M294.9,336.4h0M295,338.6h0M295.1,336.7h0M295.2,336.4h0M295.3,338.6h0M295.4,338.2h0M295.5,336.8h0M295.6,336.3h0M295.7,337.9h0M295.9,338.4h0M296,337.1h0M296.1,336.3h0M296.2,338.4h0M296.3,338.1h0M296.4,336.4h0M296.5,337.2h0M296.6,338.1h0M296.7,337.4h0M296.8,336.9h0M296.9,336.4h0M297,337.1h0M297.1,337.3h0M297.2,338.8h0M297.4,336.8h0M297.5,336.8h0M297.6,337h0M297.7,337.1h0M297.8,337h0M297.9,336.2h0M298,337.3h0M298.1,338h0M298.2,336.1h0M298.3,337.1h0M298.4,337h0M298.5,336.2h0M298.6,336.7h0M298.7,336.3h0M298.9,337.1h0M299,334.6h0M299.1,336.8h0M299.2,333.9h0M299.3,336.1h0M299.4,335.1h0M299.5,334.4h0M299.6,332.5h0" fill="none" stroke="#ff0000" stroke-width="4.9" stroke-linecap="round"/>
<path d="M55.4,337.1L55.5,337.1L55.6,337.1L55.7,337.1L55.8,337.1L55.9,337.1L56.1,337.1L56.2,337.1L56.3,337.1L56.4,337.1L56.5,337.1L56.6,337.1L56.7,337.1L56.8,337.1L56.9,337.1L57,337.1L57.1,337.1L57.2,337L57.3,337L57.4,337L57.6,337L57.7,337L57.8,337L57.9,337L58,337L58.1,337L58.2,337L58.3,337L58.4,337L58.5,337L58.6,337L58.7,337L58.8,336.9L58.9,336.9L59.1,336.9L59.2,336.9L59.3,336.9L59.4,336.9L59.5,336.9L59.6,336.9L59.7,336.9L59.8,336.9L59.9,336.9L60,336.9L60.1,336.9L60.2,336.9L60.3,336.8L60.4,336.8L60.6,336.8L60.7,336.8L60.8,336.8L60.9,336.8L61,336.8L61.1,336.8L61.2,336.8L61.3,336.8L61.4,336.8L61.5,336.8L61.6,336.8L61.7,336.7L61.8,336.7L61.9,336.7L62.1,336.7L62.2,336.7L62.3,336.7L62.4,336.7L62.5,336.7L62.6,336.7L62.7,336.7L62.8,336.7L62.9,336.6L63,336.6L63.1,336.6L63.2,336.6L63.3,336.6L63.4,336.6L63.6,336.6L63.7,336.6L63.8,336.6L63.9,336.6L64,336.5L64.1,336.5L64.2,336.5L64.3,336.5L64.4,336.5L64.5,336.5L64.6,336.5L64.7,336.5L64.8,336.5L64.9,336.5L65.1,336.4L65.2,336.4L65.3,336.4L65.4,336.4L65.5,336.4L65.6,336.4L65.7,336.4L65.8,336.4L65.9,336.3L66,336.3L66.1,336.3L66.2,336.3L66.3,336.3L66.4,336.3L66.6,336.3L66.7,336.3L66.8,336.3L66.9,336.2L67,336.2L67.1,336.2L67.2,336.2L67.3,336.2L67.4,336.2L67.5,336.2L67.6,336.1L67.7,336.1L67.8,336.1L67.9,336.1L68,336.1L68.2,336.1L68.3,336.1L68.4,336L68.5,336L68.6,336L68.7,336L68.8,336L68.9,336L69,336L69.1,335.9L69.2,335.9L69.3,335.9L69.4,335.9L69.5,335.9L69.7,335.9L69.8,335.8L69.9,335.8L70,335.8L70.1,335.8L70.2,335.8L70.3,335.8L70.4,335.7L70.5,335.7L70.6,335.7L70.7,335.7L70.8,335.7L70.9,335.7L71,335.6L71.2,335.6L71.3,335.6L71.4,335.6L71.5,335.6L71.6,335.5L71.7,335.5L71.8,335.5L71.9,335.5L72,335.5L72.1,335.4L72.2,335.4L72.3,335.4L72.4,335.4L72.5,335.4L72.7,335.3L72.8,335.3L72.9,335.3L73,335.3L73.1,335.3L73.2,335.2L73.3,335.2L73.4,335.2L73.5,335.2L73.6,335.1L73.7,335.1L73.8,335.1L73.9,335.1L74,335L74.2,335L74.3,335L74.4,335L74.5,334.9L74.6,334.9L74.7,334.9L74.8,334.8L74.9,334.8L75,334.8L75.1,334.8L75.2,334.7L75.3,334.7L75.4,334.7L75.5,334.6L75.7,334.6L75.8,334.6L75.9,334.5L76,334.5L76.1,334.5L76.2,334.4L76.3,334.4L76.4,334.3L76.5,334.3L76.6,334.3L76.7,334.2L76.8,334.2L76.9,334.1L77,334.1L77.2,334L77.3,334L77.4,333.9L77.5,333.8L77.6,333.8L77.7,333.7L77.8,333.6L77.9,333.5L78,333.4L78.1,333.3L78.2,333.2L78.3,333L78.4,332.7L78.5,332.4L78.7,331.9L78.8,331.2L78.9,330.3L79,329L79.1,327.3L79.2,325L79.3,322.2L79.4,318.8L79.5,314.8L79.6,310.4L79.7,305.7L79.8,301.1L79.9,296.9L80,293.4L80.2,291.1L80.3,290.3L80.4,288.6L80.5,290.9L80.6,294.3L80.7,298.6L80.8,303.2L80.9,307.8L81,312.3L81.1,316.3L81.2,319.7L81.3,322.6L81.4,324.8L81.5,326.6L81.7,327.9L81.8,328.9L81.9,329.6L82,330.1L82.1,330.4L82.2,330.7L82.3,330.9L82.4,331L82.5,331.2L82.6,331.3L82.7,331.4L82.8,331.5L82.9,331.6L83,331.6L83.2,331.7L83.3,331.8L83.4,331.8L83.5,331.9L83.6,332L83.7,332L83.8,332.1L83.9,332.1L84,332.2L84.1,332.2L84.2,332.3L84.3,332.3L84.4,332.4L84.5,332.4L84.7,332.5L84.8,332.5L84.9,332.5L85,332.6L85.1,332.6L85.2,332.7L85.3,332.7L85.4,332.7L85.5,332.8L85.6,332.8L85.7,332.9L85.8,332.9L85.9,332.9L86,333L86.1,333L86.3,333L86.4,333.1L86.5,333.1L86.6,333.1L86.7,333.2L86.8,333.2L86.9,333.2L87,333.3L87.1,333.3L87.2,333.3L87.3,333.4L87.4,333.4L87.5,333.4L87.6,333.4L87.8,333.5L87.9,333.5L88,333.5L88.1,333.6L88.2,333.6L88.3,333.6L88.4,333.7L88.5,333.7L88.6,333.7L88.7,333.7L88.8,333.8L88.9,333.8L89,333.8L89.1,333.8L89.3,333.9L89.4,333.9L89.5,333.9L89.6,333.9L89.7,334L89.8,334L89.9,334L90,334.1L90.1,334.1L90.2,334.1L90.3,334.1L90.4,334.1L90.5,334.2L90.6,334.2L90.8,334.2L90.9,334.2L91,334.3L91.1,334.3L91.2,334.3L91.3,334.3L91.4,334.4L91.5,334.4L91.6,334.4L91.7,334.4L91.8,334.5L91.9,334.5L92,334.5L92.1,334.5L92.3,334.5L92.4,334.6L92.5,334.6L92.6,334.6L92.7,334.6L92.8,334.6L92.9,334.7L93,334.7L93.1,334.7L93.2,334.7L93.3,334.7L93.4,334.8L93.5,334.8L93.6,334.8L93.8,334.8L93.9,334.8L94,334.9L94.1,334.9L94.2,334.9L94.3,334.9L94.4,334.9L94.5,335L94.6,335L94.7,335L94.8,335L94.9,335L95,335L95.1,335.1L95.3,335.1L95.4,335.1L95.5,335.1L95.6,335.1L95.7,335.1L95.8,335.2L95.9,335.2L96,335.2L96.1,335.2L96.2,335.2L96.3,335.2L96.4,335.3L96.5,335.3L96.6,335.3L96.8,335.3L96.9,335.3L97,335.3L97.1,335.4L97.2,335.4L97.3,335.4L97.4,335.4L97.5,335.4L97.6,335.4L97.7,335.4L97.8,335.5L97.9,335.5L98,335.5L98.1,335.5L98.3,335.5L98.4,335.5L98.5,335.5L98.6,335.5L98.7,335.6L98.8,335.6L98.9,335.6L99,335.6L99.1,335.6L99.2,335.6L99.3,335.6L99.4,335.6L99.5,335.7L99.6,335.7L99.8,335.7L99.9,335.7L100,335.7L100.1,335.7L100.2,335.7L100.3,335.7L100.4,335.7L100.5,335.7L100.6,335.8L100.7,335.8L100.8,335.8L100.9,335.8L101,335.8L101.1,335.8L101.3,335.8L101.4,335.8L101.5,335.8L101.6,335.8L101.7,335.8L101.8,335.8L101.9,335.8L102,335.8L102.1,335.8L102.2,335.8L102.3,335.8L102.4,335.8L102.5,335.7L102.6,335.7L102.8,335.7L102.9,335.6L103,335.6L103.1,335.4L103.2,335.3L103.3,335L103.4,334.6L103.5,334L103.6,333.2L103.7,332.1L103.8,330.7L103.9,329L104,327L104.1,324.9L104.2,322.7L104.4,320.8L104.5,319.2L104.6,318.2L104.7,318L104.8,318.6L104.9,319.9L105,321.7L105.1,323.7L105.2,325.9L105.3,328L105.4,329.9L105.5,331.5L105.6,332.7L105.7,333.7L105.9,334.5L106,335L106.1,335.4L106.2,335.6L106.3,335.8L106.4,335.9L106.5,336L106.6,336L106.7,336.1L106.8,336.1L106.9,336.2L107,336.2L107.1,336.2L107.2,336.2L107.4,336.3L107.5,336.3L107.6,336.3L107.7,336.3L107.8,336.3L107.9,336.3L108,336.4L108.1,336.4L108.2,336.4L108.3,336.4L108.4,336.4L108.5,336.4L108.6,336.4L108.7,336.4L108.9,336.5L109,336.5L109.1,336.5L109.2,336.5L109.3,336.5L109.4,336.5L109.5,336.5L109.6,336.5L109.7,336.5L109.8,336.5L109.9,336.5L110,336.5L110.1,336.5L110.2,336.5L110.4,336.5L110.5,336.6L110.6,336.6L110.7,336.6L110.8,336.6L110.9,336.6L111,336.6L111.1,336.6L111.2,336.6L111.3,336.6L111.4,336.6L111.5,336.6L111.6,336.6L111.7,336.6L111.9,336.6L112,336.6L112.1,336.6L112.2,336.6L112.3,336.6L112.4,336.6L112.5,336.5L112.6,336.5L112.7,336.5L112.8,336.5L112.9,336.5L113,336.5L113.1,336.5L113.2,336.5L113.4,336.4L113.5,336.4L113.6,336.4L113.7,336.3L113.8,336.3L113.9,336.2L114,336.1L114.1,335.9L114.2,335.7L114.3,335.4L114.4,334.9L114.5,334.1L114.6,333.1L114.7,331.8L114.9,330.1L115,328L115.1,325.5L115.2,322.8L115.3,320L115.4,317.4L115.5,315.3L115.6,313.8L115.7,313.3L115.8,313.8L115.9,315.3L116,317.4L116.1,320L116.2,322.8L116.4,325.4L116.5,327.8L116.6,329.9L116.7,331.5L116.8,332.8L116.9,333.7L117,334.3L117.1,334.7L117.2,334.9L117.3,334.9L117.4,334.8L117.5,334.5L117.6,333.9L117.7,333L117.9,331.7L118,329.8L118.1,327.2L118.2,323.8L118.3,319.5L118.4,314.3L118.5,308.6L118.6,302.4L118.7,296.4L118.8,291.1L118.9,287.1L119,285L119.1,285.2L119.2,287.7L119.4,291.9L119.5,297.4L119.6,303.5L119.7,309.6L119.8,315.3L119.9,320.4L120,324.6L120.1,327.9L120.2,330.5L120.3,332.3L120.4,333.6L120.5,334.5L120.6,335.1L120.7,335.5L120.9,335.8L121,336L121.1,336.1L121.2,336.2L121.3,336.3L121.4,336.4L121.5,336.4L121.6,336.5L121.7,336.5L121.8,336.6L121.9,336.6L122,336.7L122.1,336.7L122.2,336.7L122.3,336.7L122.5,336.8L122.6,336.8L122.7,336.8L122.8,336.8L122.9,336.8L123,336.9L123.1,336.9L123.2,336.9L123.3,336.9L123.4,336.9L123.5,336.9L123.6,336.9L123.7,336.9L123.8,336.9L124,337L124.1,337L124.2,337L124.3,337L124.4,337L124.5,337L124.6,337L124.7,337L124.8,337L124.9,337L125,337L125.1,337L125.2,337L125.3,337L125.5,337L125.6,337L125.7,337L125.8,337L125.9,337L126,337L126.1,337L126.2,336.9L126.3,336.9L126.4,336.9L126.5,336.9L126.6,336.9L126.7,336.9L126.8,336.9L127,336.9L127.1,336.9L127.2,336.8L127.3,336.8L127.4,336.8L127.5,336.8L127.6,336.7L127.7,336.7L127.8,336.7L127.9,336.6L128,336.6L128.1,336.6L128.2,336.5L128.3,336.5L128.5,336.4L128.6,336.3L128.7,336.3L128.8,336.2L128.9,336.1L129,336L129.1,335.9L129.2,335.7L129.3,335.6L129.4,335.4L129.5,335.1L129.6,334.7L129.7,334.2L129.8,333.5L130,332.3L130.1,330.6L130.2,328.2L130.3,324.6L130.4,319.6L130.5,312.9L130.6,304.4L130.7,294L130.8,281.9L130.9,268.7L131,255.2L131.1,242.6L131.2,232.1L131.3,225.2L131.5,223.1L131.6,225.9L131.7,233.4L131.8,244.2L131.9,257L132,270.6L132.1,283.7L132.2,295.5L132.3,305.7L132.4,314L132.5,320.4L132.6,325.2L132.7,328.6L132.8,331L133,332.6L133.1,333.6L133.2,334.4L133.3,334.9L133.4,335.2L133.5,335.5L133.6,335.7L133.7,335.8L133.8,336L133.9,336.1L134,336.2L134.1,336.3L134.2,336.4L134.3,336.5L134.5,336.5L134.6,336.6L134.7,336.6L134.8,336.7L134.9,336.7L135,336.8L135.1,336.8L135.2,336.9L135.3,336.9L135.4,336.9L135.5,336.9L135.6,337L135.7,337L135.8,337L136,337L136.1,337L136.2,337.1L136.3,337.1L136.4,337.1L136.5,337.1L136.6,337.1L136.7,337.1L136.8,337.1L136.9,337.1L137,337.1L137.1,337.1L137.2,337.1L137.3,337.1L137.5,337.1L137.6,337.1L137.7,337.1L137.8,337.1L137.9,337.1L138,337.1L138.1,337L138.2,337L138.3,336.9L138.4,336.7L138.5,336.5L138.6,336.2L138.7,335.8L138.8,335.1L138.9,334.3L139.1,333.3L139.2,332.1L139.3,330.7L139.4,329.2L139.5,327.7L139.6,326.4L139.7,325.4L139.8,324.9L139.9,324.9L140,325.4L140.1,326.4L140.2,327.7L140.3,329.2L140.4,330.7L140.6,332.1L140.7,333.3L140.8,334.4L140.9,335.2L141,335.8L141.1,336.3L141.2,336.6L141.3,336.8L141.4,337L141.5,337.1L141.6,337.2L141.7,337.2L141.8,337.3L141.9,337.3L142.1,337.3L142.2,337.3L142.3,337.3L142.4,337.4L142.5,337.4L142.6,337.4L142.7,337.4L142.8,337.4L142.9,337.4L143,337.4L143.1,337.4L143.2,337.4L143.3,337.4L143.4,337.5L143.6,337.5L143.7,337.5L143.8,337.5L143.9,337.5L144,337.5L144.1,337.5L144.2,337.5L144.3,337.5L144.4,337.5L144.5,337.5L144.6,337.5L144.7,337.5L144.8,337.5L144.9,337.5L145.1,337.5L145.2,337.5L145.3,337.5L145.4,337.5L145.5,337.5L145.6,337.5L145.7,337.5L145.8,337.5L145.9,337.5L146,337.5L146.1,337.5L146.2,337.5L146.3,337.5L146.4,337.5L146.6,337.5L146.7,337.5L146.8,337.5L146.9,337.5L147,337.5L147.1,337.5L147.2,337.5L147.3,337.5L147.4,337.5L147.5,337.5L147.6,337.5L147.7,337.5L147.8,337.5L147.9,337.5L148.1,337.6L148.2,337.6L148.3,337.6L148.4,337.6L148.5,337.6L148.6,337.6L148.7,337.6L148.8,337.6L148.9,337.6L149,337.5L149.1,337.5L149.2,337.5L149.3,337.5L149.4,337.5L149.6,337.5L149.7,337.5L149.8,337.5L149.9,337.5L150,337.5L150.1,337.5L150.2,337.5L150.3,337.5L150.4,337.5L150.5,337.5L150.6,337.5L150.7,337.5L150.8,337.5L150.9,337.5L151.1,337.5L151.2,337.5L151.3,337.4L151.4,337.4L151.5,337.3L151.6,337.2L151.7,337L151.8,336.8L151.9,336.6L152,336.2L152.1,335.9L152.2,335.5L152.3,335L152.4,334.6L152.6,334.3L152.7,334.1L152.8,334L152.9,334.1L153,334.3L153.1,334.6L153.2,335L153.3,335.4L153.4,335.8L153.5,336.2L153.6,336.5L153.7,336.8L153.8,337L153.9,337.1L154.1,337.3L154.2,337.3L154.3,337.4L154.4,337.4L154.5,337.4L154.6,337.4L154.7,337.4L154.8,337.4L154.9,337.4L155,337.4L155.1,337.4L155.2,337.4L155.3,337.4L155.4,337.4L155.6,337.4L155.7,337.4L155.8,337.4L155.9,337.4L156,337.4L156.1,337.4L156.2,337.4L156.3,337.4L156.4,337.4L156.5,337.3L156.6,337.3L156.7,337.3L156.8,337.3L156.9,337.3L157,337.2L157.2,337.2L157.3,337.2L157.4,337.2L157.5,337.1L157.6,337.1L157.7,337L157.8,337L157.9,336.9L158,336.8L158.1,336.7L158.2,336.6L158.3,336.3L158.4,336L158.5,335.5L158.7,334.8L158.8,333.8L158.9,332.3L159,330.2L159.1,327.5L159.2,324.1L159.3,320L159.4,315.3L159.5,310.3L159.6,305.3L159.7,300.8L159.8,297.3L159.9,295.3L160,295.1L160.2,296.8L160.3,300.1L160.4,304.4L160.5,309.3L160.6,314.4L160.7,319.1L160.8,323.3L160.9,326.9L161,329.7L161.1,331.9L161.2,333.5L161.3,334.6L161.4,335.4L161.5,335.9L161.7,336.3L161.8,336.5L161.9,336.7L162,336.8L162.1,336.9L162.2,336.9L162.3,337L162.4,337L162.5,337.1L162.6,337.1L162.7,337.1L162.8,337.2L162.9,337.2L163,337.2L163.2,337.2L163.3,337.2L163.4,337.2L163.5,337.3L163.6,337.3L163.7,337.3L163.8,337.3L163.9,337.3L164,337.3L164.1,337.3L164.2,337.3L164.3,337.3L164.4,337.3L164.5,337.3L164.7,337.3L164.8,337.3L164.9,337.3L165,337.3L165.1,337.3L165.2,337.3L165.3,337.3L165.4,337.3L165.5,337.3L165.6,337.3L165.7,337.3L165.8,337.3L165.9,337.3L166,337.2L166.2,337.2L166.3,337.2L166.4,337.2L166.5,337.2L166.6,337.2L166.7,337.2L166.8,337.1L166.9,337.1L167,337.1L167.1,337.1L167.2,337L167.3,337L167.4,337L167.5,336.9L167.7,336.9L167.8,336.9L167.9,336.8L168,336.8L168.1,336.7L168.2,336.7L168.3,336.6L168.4,336.5L168.5,336.5L168.6,336.4L168.7,336.3L168.8,336.2L168.9,336L169,335.9L169.2,335.7L169.3,335.5L169.4,335.3L169.5,335L169.6,334.7L169.7,334.1L169.8,333.4L169.9,332.3L170,330.6L170.1,328.1L170.2,324.5L170.3,319.4L170.4,312.4L170.5,303.2L170.7,291.7L170.8,277.9L170.9,262.2L171,245.6L171.1,229.2L171.2,214.5L171.3,203.3L171.4,197.2L171.5,197.1L171.6,203.2L171.7,214.4L171.8,229.1L171.9,245.5L172,262.1L172.2,277.8L172.3,291.6L172.4,303.1L172.5,312.4L172.6,319.4L172.7,324.5L172.8,328.1L172.9,330.6L173,332.3L173.1,333.4L173.2,334.1L173.3,334.6L173.4,335L173.5,335.3L173.7,335.5L173.8,335.7L173.9,335.9L174,336L174.1,336.1L174.2,336.2L174.3,336.3L174.4,336.4L174.5,336.5L174.6,336.5L174.7,336.6L174.8,336.7L174.9,336.7L175,336.7L175.1,336.8L175.3,336.8L175.4,336.8L175.5,336.9L175.6,336.9L175.7,336.9L175.8,336.9L175.9,336.9L176,336.9L176.1,336.9L176.2,336.9L176.3,336.8L176.4,336.7L176.5,336.6L176.6,336.3L176.8,336L176.9,335.5L177,334.8L177.1,333.8L177.2,332.6L177.3,331.1L177.4,329.4L177.5,327.5L177.6,325.6L177.7,323.7L177.8,322.2L177.9,321.2L178,320.9L178.1,321.4L178.3,322.4L178.4,324L178.5,325.9L178.6,327.8L178.7,329.7L178.8,331.4L178.9,332.9L179,334.1L179.1,335.1L179.2,335.8L179.3,336.3L179.4,336.6L179.5,336.8L179.6,337L179.8,337.1L179.9,337.2L180,337.2L180.1,337.3L180.2,337.3L180.3,337.3L180.4,337.4L180.5,337.4L180.6,337.4L180.7,337.4L180.8,337.4L180.9,337.4L181,337.5L181.1,337.5L181.3,337.5L181.4,337.5L181.5,337.5L181.6,337.5L181.7,337.5L181.8,337.5L181.9,337.5L182,337.5L182.1,337.5L182.2,337.5L182.3,337.5L182.4,337.5L182.5,337.6L182.6,337.6L182.8,337.6L182.9,337.6L183,337.6L183.1,337.6L183.2,337.6L183.3,337.6L183.4,337.6L183.5,337.6L183.6,337.6L183.7,337.6L183.8,337.6L183.9,337.6L184,337.6L184.1,337.6L184.3,337.6L184.4,337.6L184.5,337.6L184.6,337.6L184.7,337.6L184.8,337.6L184.9,337.6L185,337.6L185.1,337.6L185.2,337.6L185.3,337.6L185.4,337.6L185.5,337.6L185.6,337.6L185.8,337.6L185.9,337.6L186,337.6L186.1,337.6L186.2,337.6L186.3,337.6L186.4,337.6L186.5,337.6L186.6,337.6L186.7,337.6L186.8,337.5L186.9,337.5L187,337.5L187.1,337.5L187.3,337.4L187.4,337.3L187.5,337.2L187.6,337.1L187.7,336.9L187.8,336.6L187.9,336.3L188,335.9L188.1,335.5L188.2,335L188.3,334.6L188.4,334.3L188.5,334.1L188.6,334.1L188.8,334.2L188.9,334.4L189,334.7L189.1,335.1L189.2,335.6L189.3,336L189.4,336.3L189.5,336.6L189.6,336.9L189.7,337.1L189.8,337.2L189.9,337.3L190,337.4L190.1,337.5L190.3,337.5L190.4,337.5L190.5,337.5L190.6,337.5L190.7,337.5L190.8,337.5L190.9,337.5L191,337.5L191.1,337.5L191.2,337.5L191.3,337.5L191.4,337.5L191.5,337.5L191.6,337.5L191.8,337.5L191.9,337.5L192,337.5L192.1,337.5L192.2,337.5L192.3,337.5L192.4,337.4L192.5,337.4L192.6,337.4L192.7,337.4L192.8,337.4L192.9,337.4L193,337.3L193.1,337.3L193.2,337.2L193.4,337.1L193.5,337L193.6,336.8L193.7,336.5L193.8,336.1L193.9,335.6L194,335L194.1,334.3L194.2,333.5L194.3,332.6L194.4,331.7L194.5,330.9L194.6,330.2L194.7,329.8L194.9,329.7L195,329.9L195.1,330.4L195.2,331L195.3,331.6L195.4,332L195.5,332.3L195.6,332.2L195.7,331.6L195.8,330.5L195.9,328.8L196,326.4L196.1,323.3L196.2,319.8L196.4,316L196.5,312.1L196.6,308.6L196.7,305.9L196.8,304.3L196.9,304.2L197,305.5L197.1,308.1L197.2,311.5L197.3,315.4L197.4,319.3L197.5,323L197.6,326.4L197.7,329.2L197.9,331.4L198,333.1L198.1,334.4L198.2,335.3L198.3,335.9L198.4,336.3L198.5,336.6L198.6,336.7L198.7,336.9L198.8,337L198.9,337L199,337.1L199.1,337.1L199.2,337.2L199.4,337.2L199.5,337.2L199.6,337.2L199.7,337.3L199.8,337.3L199.9,337.3L200,337.3L200.1,337.3L200.2,337.3L200.3,337.3L200.4,337.3L200.5,337.3L200.6,337.3L200.7,337.3L200.9,337.3L201,337.3L201.1,337.3L201.2,337.3L201.3,337.3L201.4,337.3L201.5,337.3L201.6,337.3L201.7,337.3L201.8,337.2L201.9,337.2L202,337.2L202.1,337.2L202.2,337.1L202.4,337.1L202.5,337.1L202.6,337L202.7,337L202.8,336.9L202.9,336.8L203,336.7L203.1,336.5L203.2,336.3L203.3,336L203.4,335.5L203.5,334.7L203.6,333.7L203.7,332.1L203.9,330L204,327.2L204.1,323.6L204.2,319.4L204.3,314.5L204.4,309.2L204.5,303.9L204.6,299.1L204.7,295.2L204.8,292.9L204.9,292.5L205,294.1L205.1,297.4L205.2,301.9L205.4,307L205.5,312.4L205.6,317.5L205.7,322L205.8,325.8L205.9,328.9L206,331.3L206.1,333.1L206.2,334.3L206.3,335.2L206.4,335.8L206.5,336.2L206.6,336.4L206.7,336.6L206.9,336.7L207,336.8L207.1,336.9L207.2,336.9L207.3,337L207.4,337L207.5,337.1L207.6,337.1L207.7,337.1L207.8,337.1L207.9,337.1L208,337.1L208.1,337.1L208.2,337.1L208.4,337.1L208.5,337.1L208.6,337.1L208.7,337.1L208.8,337.1L208.9,337L209,337L209.1,336.9L209.2,336.7L209.3,336.5L209.4,336.2L209.5,335.7L209.6,335L209.7,334L209.9,332.7L210,331L210.1,328.9L210.2,326.4L210.3,323.6L210.4,320.7L210.5,318L210.6,315.6L210.7,313.9L210.8,313.2L210.9,313.5L211,314.8L211.1,317L211.2,319.6L211.3,322.5L211.5,325.3L211.6,327.9L211.7,330.2L211.8,332.1L211.9,333.6L212,334.7L212.1,335.5L212.2,336.1L212.3,336.5L212.4,336.8L212.5,336.9L212.6,337.1L212.7,337.2L212.8,337.2L213,337.3L213.1,337.3L213.2,337.3L213.3,337.4L213.4,337.4L213.5,337.4L213.6,337.4L213.7,337.4L213.8,337.5L213.9,337.5L214,337.5L214.1,337.5L214.2,337.5L214.3,337.5L214.5,337.5L214.6,337.5L214.7,337.5L214.8,337.6L214.9,337.6L215,337.6L215.1,337.6L215.2,337.6L215.3,337.6L215.4,337.6L215.5,337.6L215.6,337.6L215.7,337.6L215.8,337.6L216,337.6L216.1,337.6L216.2,337.6L216.3,337.6L216.4,337.6L216.5,337.6L216.6,337.6L216.7,337.6L216.8,337.6L216.9,337.6L217,337.6L217.1,337.6L217.2,337.6L217.3,337.6L217.5,337.6L217.6,337.6L217.7,337.6L217.8,337.6L217.9,337.6L218,337.6L218.1,337.6L218.2,337.6L218.3,337.6L218.4,337.6L218.5,337.6L218.6,337.6L218.7,337.6L218.8,337.6L219,337.5L219.1,337.5L219.2,337.4L219.3,337.4L219.4,337.3L219.5,337.1L219.6,336.9L219.7,336.6L219.8,336.3L219.9,335.9L220,335.4L220.1,334.9L220.2,334.4L220.3,334L220.5,333.6L220.6,333.4L220.7,333.4L220.8,333.6L220.9,333.9L221,334.3L221.1,334.8L221.2,335.3L221.3,335.8L221.4,336.2L221.5,336.5L221.6,336.8L221.7,337L221.8,337.2L222,337.3L222.1,337.4L222.2,337.4L222.3,337.5L222.4,337.5L222.5,337.5L222.6,337.5L222.7,337.5L222.8,337.5L222.9,337.5L223,337.5L223.1,337.5L223.2,337.5L223.3,337.5L223.5,337.5L223.6,337.5L223.7,337.5L223.8,337.5L223.9,337.4L224,337.4L224.1,337.4L224.2,337.4L224.3,337.4L224.4,337.3L224.5,337.3L224.6,337.2L224.7,337.1L224.8,337L225,336.8L225.1,336.4L225.2,336L225.3,335.3L225.4,334.5L225.5,333.3L225.6,331.8L225.7,330L225.8,327.9L225.9,325.6L226,323.3L226.1,321.2L226.2,319.4L226.3,318.2L226.5,317.8L226.6,318.3L226.7,319.5L226.8,321.3L226.9,323.5L227,325.8L227.1,328L227.2,330.1L227.3,331.9L227.4,333.4L227.5,334.5L227.6,335.4L227.7,336L227.8,336.5L228,336.8L228.1,337L228.2,337.1L228.3,337.2L228.4,337.3L228.5,337.3L228.6,337.4L228.7,337.4L228.8,337.4L228.9,337.4L229,337.4L229.1,337.5L229.2,337.5L229.3,337.5L229.4,337.5L229.6,337.5L229.7,337.5L229.8,337.5L229.9,337.5L230,337.5L230.1,337.5L230.2,337.5L230.3,337.5L230.4,337.6L230.5,337.6L230.6,337.6L230.7,337.6L230.8,337.6L230.9,337.6L231.1,337.6L231.2,337.6L231.3,337.6L231.4,337.6L231.5,337.5L231.6,337.5L231.7,337.5L231.8,337.5L231.9,337.5L232,337.5L232.1,337.5L232.2,337.5L232.3,337.5L232.4,337.5L232.6,337.5L232.7,337.5L232.8,337.5L232.9,337.5L233,337.4L233.1,337.4L233.2,337.4L233.3,337.4L233.4,337.4L233.5,337.3L233.6,337.3L233.7,337.3L233.8,337.2L233.9,337.2L234.1,337.1L234.2,337L234.3,336.9L234.4,336.8L234.5,336.6L234.6,336.3L234.7,335.8L234.8,335.1L234.9,334.1L235,332.8L235.1,331L235.2,328.7L235.3,326L235.4,322.7L235.6,319.2L235.7,315.5L235.8,312L235.9,309L236,306.9L236.1,305.9L236.2,306.2L236.3,307.8L236.4,310.4L236.5,313.7L236.6,317.4L236.7,321L236.8,324.4L236.9,327.4L237.1,329.9L237.2,332L237.3,333.5L237.4,334.7L237.5,335.5L237.6,336L237.7,336.4L237.8,336.7L237.9,336.9L238,337L238.1,337.1L238.2,337.1L238.3,337.2L238.4,337.2L238.6,337.3L238.7,337.3L238.8,337.3L238.9,337.4L239,337.4L239.1,337.4L239.2,337.4L239.3,337.4L239.4,337.4L239.5,337.4L239.6,337.4L239.7,337.4L239.8,337.4L239.9,337.4L240.1,337.4L240.2,337.4L240.3,337.4L240.4,337.3L240.5,337.3L240.6,337.2L240.7,337L240.8,336.8L240.9,336.5L241,336.2L241.1,335.7L241.2,335.2L241.3,334.6L241.4,334L241.6,333.4L241.7,332.9L241.8,332.5L241.9,332.3L242,332.3L242.1,332.6L242.2,333L242.3,333.5L242.4,334.1L242.5,334.7L242.6,335.3L242.7,335.8L242.8,336.3L242.9,336.6L243.1,336.9L243.2,337.1L243.3,337.3L243.4,337.4L243.5,337.4L243.6,337.5L243.7,337.5L243.8,337.6L243.9,337.6L244,337.6L244.1,337.6L244.2,337.6L244.3,337.6L244.4,337.6L244.6,337.6L244.7,337.6L244.8,337.6L244.9,337.6L245,337.6L245.1,337.6L245.2,337.6L245.3,337.6L245.4,337.7L245.5,337.7L245.6,337.7L245.7,337.7L245.8,337.7L245.9,337.7L246,337.7L246.2,337.7L246.3,337.7L246.4,337.7L246.5,337.7L246.6,337.7L246.7,337.7L246.8,337.7L246.9,337.7L247,337.7L247.1,337.7L247.2,337.7L247.3,337.7L247.4,337.7L247.5,337.7L247.7,337.7L247.8,337.7L247.9,337.7L248,337.7L248.1,337.7L248.2,337.7L248.3,337.7L248.4,337.7L248.5,337.7L248.6,337.7L248.7,337.7L248.8,337.7L248.9,337.7L249,337.7L249.2,337.7L249.3,337.6L249.4,337.6L249.5,337.6L249.6,337.6L249.7,337.6L249.8,337.6L249.9,337.6L250,337.6L250.1,337.6L250.2,337.5L250.3,337.4L250.4,337.4L250.5,337.2L250.7,337.1L250.8,336.9L250.9,336.7L251,336.4L251.1,336.2L251.2,335.9L251.3,335.6L251.4,335.4L251.5,335.3L251.6,335.2L251.7,335.3L251.8,335.4L251.9,335.6L252,335.8L252.2,336.1L252.3,336.4L252.4,336.6L252.5,336.9L252.6,337L252.7,337.2L252.8,337.3L252.9,337.4L253,337.5L253.1,337.5L253.2,337.5L253.3,337.5L253.4,337.6L253.5,337.6L253.7,337.6L253.8,337.6L253.9,337.6L254,337.6L254.1,337.6L254.2,337.5L254.3,337.5L254.4,337.5L254.5,337.5L254.6,337.5L254.7,337.5L254.8,337.5L254.9,337.5L255,337.5L255.2,337.5L255.3,337.4L255.4,337.4L255.5,337.4L255.6,337.3L255.7,337.3L255.8,337.2L255.9,337.1L256,336.9L256.1,336.7L256.2,336.3L256.3,335.8L256.4,335.2L256.5,334.4L256.7,333.4L256.8,332.2L256.9,330.9L257,329.5L257.1,328.2L257.2,326.9L257.3,325.9L257.4,325.2L257.5,325L257.6,325.2L257.7,325.9L257.8,326.9L257.9,328.1L258,329.3L258.2,330.4L258.3,331.3L258.4,331.9L258.5,332.2L258.6,332.2L258.7,331.8L258.8,331.2L258.9,330.3L259,329.4L259.1,328.4L259.2,327.5L259.3,326.9L259.4,326.7L259.5,326.8L259.7,327.3L259.8,328.2L259.9,329.3L260,330.4L260.1,331.6L260.2,332.8L260.3,333.8L260.4,334.6L260.5,335.4L260.6,335.9L260.7,336.3L260.8,336.7L260.9,336.9L261,337L261.2,337.1L261.3,337.2L261.4,337.3L261.5,337.3L261.6,337.3L261.7,337.3L261.8,337.3L261.9,337.4L262,337.4L262.1,337.4L262.2,337.4L262.3,337.4L262.4,337.4L262.5,337.4L262.7,337.4L262.8,337.4L262.9,337.4L263,337.4L263.1,337.3L263.2,337.3L263.3,337.3L263.4,337.3L263.5,337.3L263.6,337.3L263.7,337.3L263.8,337.3L263.9,337.2L264,337.2L264.1,337.2L264.3,337.1L264.4,337.1L264.5,337.1L264.6,337L264.7,337L264.8,336.9L264.9,336.9L265,336.8L265.1,336.7L265.2,336.6L265.3,336.5L265.4,336.3L265.5,336.1L265.6,335.7L265.8,335.3L265.9,334.5L266,333.5L266.1,332.1L266.2,330.1L266.3,327.4L266.4,324L266.5,319.7L266.6,314.6L266.7,308.8L266.8,302.5L266.9,296.1L267,290L267.1,284.7L267.3,280.8L267.4,278.9L267.5,279.1L267.6,281.5L267.7,285.7L267.8,291.3L267.9,297.5L268,303.9L268.1,310.1L268.2,315.8L268.3,320.7L268.4,324.8L268.5,328L268.6,330.5L268.8,332.4L268.9,333.8L269,334.7L269.1,335.4L269.2,335.8L269.3,336.1L269.4,336.3L269.5,336.5L269.6,336.6L269.7,336.7L269.8,336.8L269.9,336.8L270,336.9L270.1,337L270.3,337L270.4,337L270.5,337.1L270.6,337.1L270.7,337.1L270.8,337.1L270.9,337.1L271,337.2L271.1,337.2L271.2,337.2L271.3,337.2L271.4,337.1L271.5,337.1L271.6,337.1L271.8,337L271.9,336.9L272,336.7L272.1,336.5L272.2,336.2L272.3,335.8L272.4,335.2L272.5,334.5L272.6,333.7L272.7,332.7L272.8,331.7L272.9,330.5L273,329.4L273.1,328.4L273.3,327.6L273.4,327.1L273.5,327L273.6,327.2L273.7,327.8L273.8,328.6L273.9,329.6L274,330.6L274.1,331.6L274.2,332.5L274.3,333.1L274.4,333.6L274.5,333.8L274.6,333.9L274.8,333.7L274.9,333.3L275,332.9L275.1,332.4L275.2,331.9L275.3,331.5L275.4,331.2L275.5,331.2L275.6,331.4L275.7,331.7L275.8,332.3L275.9,332.9L276,333.6L276.1,334.3L276.3,334.9L276.4,335.5L276.5,335.9L276.6,336.3L276.7,336.7L276.8,336.9L276.9,337.1L277,337.2L277.1,337.3L277.2,337.4L277.3,337.4L277.4,337.5L277.5,337.5L277.6,337.5L277.8,337.5L277.9,337.5L278,337.5L278.1,337.6L278.2,337.6L278.3,337.6L278.4,337.6L278.5,337.6L278.6,337.6L278.7,337.6L278.8,337.6L278.9,337.6L279,337.6L279.1,337.6L279.3,337.6L279.4,337.6L279.5,337.6L279.6,337.6L279.7,337.6L279.8,337.6L279.9,337.6L280,337.6L280.1,337.6L280.2,337.6L280.3,337.6L280.4,337.6L280.5,337.6L280.6,337.6L280.8,337.6L280.9,337.6L281,337.6L281.1,337.6L281.2,337.6L281.3,337.6L281.4,337.6L281.5,337.6L281.6,337.6L281.7,337.6L281.8,337.6L281.9,337.6L282,337.6L282.1,337.6L282.2,337.6L282.4,337.5L282.5,337.5L282.6,337.4L282.7,337.4L282.8,337.3L282.9,337.2L283,337.1L283.1,336.9L283.2,336.8L283.3,336.6L283.4,336.5L283.5,336.4L283.6,336.3L283.7,336.3L283.9,336.3L284,336.4L284.1,336.5L284.2,336.6L284.3,336.8L284.4,336.9L284.5,337L284.6,337.2L284.7,337.3L284.8,337.3L284.9,337.4L285,337.5L285.1,337.5L285.2,337.5L285.4,337.6L285.5,337.6L285.6,337.6L285.7,337.6L285.8,337.6L285.9,337.6L286,337.6L286.1,337.6L286.2,337.6L286.3,337.6L286.4,337.6L286.5,337.6L286.6,337.6L286.7,337.6L286.9,337.5L287,337.5L287.1,337.5L287.2,337.5L287.3,337.5L287.4,337.5L287.5,337.5L287.6,337.5L287.7,337.4L287.8,337.4L287.9,337.4L288,337.3L288.1,337.3L288.2,337.2L288.4,337.1L288.5,336.9L288.6,336.6L288.7,336.3L288.8,335.8L288.9,335.2L289,334.4L289.1,333.4L289.2,332.2L289.3,330.9L289.4,329.3L289.5,327.7L289.6,326.1L289.7,324.5L289.9,323.2L290,322.3L290.1,321.8L290.2,321.9L290.3,322.4L290.4,323.5L290.5,324.9L290.6,326.4L290.7,328.1L290.8,329.7L290.9,331.2L291,332.5L291.1,333.7L291.2,334.6L291.4,335.4L291.5,335.9L291.6,336.4L291.7,336.7L291.8,336.9L291.9,337.1L292,337.2L292.1,337.2L292.2,337.3L292.3,337.3L292.4,337.4L292.5,337.4L292.6,337.4L292.7,337.4L292.9,337.4L293,337.5L293.1,337.5L293.2,337.5L293.3,337.5L293.4,337.5L293.5,337.5L293.6,337.5L293.7,337.5L293.8,337.5L293.9,337.5L294,337.5L294.1,337.5L294.2,337.5L294.4,337.5L294.5,337.5L294.6,337.5L294.7,337.5L294.8,337.5L294.9,337.5L295,337.5L295.1,337.5L295.2,337.5L295.3,337.5L295.4,337.5L295.5,337.5L295.6,337.5L295.7,337.5L295.9,337.5L296,337.5L296.1,337.4L296.2,337.4L296.3,337.4L296.4,337.4L296.5,337.4L296.6,337.4L296.7,337.4L296.8,337.4L296.9,337.3L297,337.3L297.1,337.3L297.2,337.3L297.4,337.2L297.5,337.2L297.6,337.2L297.7,337.2L297.8,337.1L297.9,337.1L298,337L298.1,337L298.2,336.9L298.3,336.8L298.4,336.7L298.5,336.6L298.6,336.4L298.7,336.3L298.9,336.1L299,335.8L299.1,335.5L299.2,335.2L299.3,334.8L299.4,334.4L299.5,333.9L299.6,333.4" fill="none" stroke="#000" stroke-width="1.45" stroke-linejoin="round"/>
<path d="M80.3,344.5V351M104.7,344.5V351M115.7,344.5V351M119.1,344.5V351M131.4,344.5V351M139.9,344.5V351M152.8,344.5V351M160,344.5V351M171.5,344.5V351M178,344.5V351M180.2,344.5V351M188.6,344.5V351M194.8,344.5V351M196.8,344.5V351M204.9,344.5V351M210.8,344.5V351M220.6,344.5V351M226.4,344.5V351M236.1,344.5V351M241.9,344.5V351M242.9,344.5V351M243.9,344.5V351M251.6,344.5V351M257.5,344.5V351M259.5,344.5V351M267.4,344.5V351M273.5,344.5V351M275.5,344.5V351M283.8,344.5V351M290.1,344.5V351M80.3,352.2V358.4M104.7,352.2V358.4M115.7,352.2V358.4M119.1,352.2V358.4M131.4,352.2V358.4M139.9,352.2V358.4M152.8,352.2V358.4M160,352.2V358.4M171.5,352.2V358.4M178,352.2V358.4M180.2,352.2V358.4M188.6,352.2V358.4M194.8,352.2V358.4M196.8,352.2V358.4M204.9,352.2V358.4M210.8,352.2V358.4M220.6,352.2V358.4M226.4,352.2V358.4M236.1,352.2V358.4M241.9,352.2V358.4M242.9,352.2V358.4M243.9,352.2V358.4M251.6,352.2V358.4M257.5,352.2V358.4M259.5,352.2V358.4M267.4,352.2V358.4M273.5,352.2V358.4M275.5,352.2V358.4M283.8,352.2V358.4M290.1,352.2V358.4" stroke="#3d9c9c" stroke-width="0.8" fill="none"/>
</g>
<g clip-path="url(#cpc)">
<path d="M55.4,591.9L55.5,592.5L55.6,593.2L55.7,591.2L55.8,592L55.9,591.7L56.1,592.2L56.2,592.5L56.3,591.5L56.4,591.8L56.5,591L56.6,591.9L56.7,593.3L56.8,591.4L56.9,592L57,592.3L57.1,594.8L57.2,592.8L57.3,591.9L57.4,592.6L57.6,591.8L57.7,591.5L57.8,592.1L57.9,592.9L58,591.7L58.1,591.7L58.2,592.3L58.3,593.8L58.4,593.2L58.5,591.3L58.6,592.3L58.7,593.7L58.8,592.2L58.9,592L59.1,591.5L59.2,591.7L59.3,591.7L59.4,592.8L59.5,593.6L59.6,592.6L59.7,590.8L59.8,593.4L59.9,591.3L60,593.4L60.1,593.2L60.2,592L60.3,592.8L60.4,592.3L60.6,593.1L60.7,592L60.8,591.3L60.9,593.4L61,591.6L61.1,591.7L61.2,591.4L61.3,594.1L61.4,591.3L61.5,593.1L61.6,592.3L61.7,592.5L61.8,593L61.9,592.9L62.1,592.7L62.2,591.9L62.3,591.4L62.4,592.4L62.5,591.4L62.6,591.9L62.7,591L62.8,593.3L62.9,592L63,592.1L63.1,592L63.2,591.8L63.3,591.4L63.4,592L63.6,591.6L63.7,592.3L63.8,592.2L63.9,592.7L64,591.1L64.1,591.4L64.2,590.9L64.3,592.5L64.4,592.2L64.5,589.8L64.6,591.1L64.7,593.4L64.8,591.4L64.9,591.8L65.1,592.4L65.2,592.3L65.3,592.9L65.4,592.6L65.5,592.8L65.6,593.2L65.7,592.4L65.8,592.9L65.9,591.4L66,591.1L66.1,592.2L66.2,592.4L66.3,591.5L66.4,592.2L66.6,590.2L66.7,594.5L66.8,594.2L66.9,593.1L67,591.7L67.1,591.4L67.2,592.5L67.3,592.1L67.4,592.4L67.5,591.6L67.6,590.2L67.7,594.2L67.8,590L67.9,591.1L68,592.4L68.2,591.6L68.3,592.1L68.4,591.6L68.5,591.6L68.6,591.4L68.7,593L68.8,591.5L68.9,592.7L69,592.4L69.1,591.3L69.2,592.5L69.3,591.8L69.4,591.8L69.5,592L69.7,593.2L69.8,591.6L69.9,591.9L70,590L70.1,593L70.2,591.1L70.3,592.5L70.4,592.3L70.5,590.5L70.6,592.2L70.7,591.3L70.8,591.9L70.9,592.9L71,592.3L71.2,592.5L71.3,592.3L71.4,590.3L71.5,591.6L71.6,593.7L71.7,590.3L71.8,591.7L71.9,591.2L72,590.6L72.1,592.8L72.2,591.7L72.3,592.2L72.4,592.4L72.5,592.3L72.7,591.9L72.8,590.9L72.9,591.3L73,591.8L73.1,590.9L73.2,594.3L73.3,592L73.4,591.7L73.5,591.7L73.6,590.7L73.7,591.9L73.8,590.7L73.9,592.2L74,591.4L74.2,591.9L74.3,592.3L74.4,591.5L74.5,591.5L74.6,592.9L74.7,591.1L74.8,592.3L74.9,591.9L75,594.6L75.1,592.1L75.2,593.9L75.3,591.2L75.4,592.8L75.5,592.5L75.7,592.2L75.8,593.3L75.9,592L76,593.2L76.1,592.2L76.2,591.2L76.3,590.8L76.4,590.6L76.5,592.3L76.6,593L76.7,591.6L76.8,590.5L76.9,592.9L77,590.7L77.2,592.2L77.3,594.7L77.4,592L77.5,590.2L77.6,591.3L77.7,591L77.8,591.6L77.9,593.7L78,594.4L78.1,593.1L78.2,592.4L78.3,593.1L78.4,592.9L78.5,591.2L78.7,590.5L78.8,593.8L78.9,593.2L79,592.1L79.1,592.3L79.2,594.8L79.3,588.4L79.4,591.1L79.5,591.5L79.6,594.6L79.7,591.3L79.8,592.8L79.9,588.9L80,587.3L80.2,585.9L80.3,584.4L80.4,586.8L80.5,587.5L80.6,593.4L80.7,589.9L80.8,592L80.9,588.4L81,591.9L81.1,595.1L81.2,590.1L81.3,592.9L81.4,593.4L81.5,592.1L81.7,590.6L81.8,589.9L81.9,592.5L82,591.8L82.1,591.8L82.2,592.7L82.3,592.6L82.4,592.2L82.5,592.1L82.6,590.9L82.7,594.1L82.8,591.5L82.9,591.6L83,590.6L83.2,592.5L83.3,592.4L83.4,591.9L83.5,592.6L83.6,592.7L83.7,592.7L83.8,592.7L83.9,593.1L84,592.7L84.1,592.9L84.2,592.8L84.3,593.4L84.4,591.1L84.5,591.7L84.7,592.1L84.8,593.2L84.9,591.4L85,592.3L85.1,592.2L85.2,592L85.3,592.2L85.4,591L85.5,592.9L85.6,592.7L85.7,591.9L85.8,592.3L85.9,591.5L86,591.1L86.1,590.7L86.3,591.1L86.4,592.3L86.5,592.2L86.6,592.4L86.7,590.9L86.8,592.3L86.9,592.9L87,593.1L87.1,591.3L87.2,592.9L87.3,594.7L87.4,591.3L87.5,591.7L87.6,591.3L87.8,591.1L87.9,591.5L88,591.7L88.1,592L88.2,592.8L88.3,594.2L88.4,594L88.5,591.7L88.6,591.2L88.7,592L88.8,592.8L88.9,591.4L89,592.1L89.1,592L89.3,592.4L89.4,593.2L89.5,593L89.6,591.7L89.7,590.4L89.8,590.3L89.9,592.2L90,591.6L90.1,592.1L90.2,591.9L90.3,591.6L90.4,591.1L90.5,593.2L90.6,590.3L90.8,592.2L90.9,593L91,589.8L91.1,592.9L91.2,592.1L91.3,592.8L91.4,590.9L91.5,594.7L91.6,591.7L91.7,593.6L91.8,590.5L91.9,590L92,591.2L92.1,592.8L92.3,590.9L92.4,589.9L92.5,591.8L92.6,592.4L92.7,590.6L92.8,593.3L92.9,592.3L93,592.1L93.1,591.9L93.2,591L93.3,592.2L93.4,593.1L93.5,593.4L93.6,592.2L93.8,591.6L93.9,591.1L94,591.4L94.1,593.4L94.2,591.5L94.3,592.7L94.4,590.8L94.5,592.3L94.6,592.3L94.7,592.6L94.8,591.1L94.9,592.1L95,589.4L95.1,590.9L95.3,593.2L95.4,592.1L95.5,591L95.6,591.3L95.7,591.4L95.8,591.8L95.9,593.5L96,593.5L96.1,591.3L96.2,592.6L96.3,592L96.4,591.4L96.5,593.8L96.6,593.8L96.8,591.5L96.9,592.6L97,592.4L97.1,590.9L97.2,592.3L97.3,592.1L97.4,591.8L97.5,593.7L97.6,590.4L97.7,591.6L97.8,592.6L97.9,591L98,592.9L98.1,592.7L98.3,593.2L98.4,592.3L98.5,592.7L98.6,591.8L98.7,592.7L98.8,591.8L98.9,591.6L99,591.7L99.1,591.7L99.2,592L99.3,592.8L99.4,593.9L99.5,591.7L99.6,593.4L99.8,591.7L99.9,592.1L100,592.1L100.1,592L100.2,591.5L100.3,593L100.4,591.7L100.5,591L100.6,591.3L100.7,591L100.8,592.3L100.9,592.1L101,590.3L101.1,591.6L101.3,591.8L101.4,591.1L101.5,592.9L101.6,592.2L101.7,591.6L101.8,592.1L101.9,590.6L102,591.6L102.1,591.2L102.2,592.8L102.3,592.1L102.4,592.1L102.5,591.6L102.6,591.6L102.8,592L102.9,591.5L103,590.1L103.1,592L103.2,592.7L103.3,590.9L103.4,590.6L103.5,591.9L103.6,591.1L103.7,594.2L103.8,591.5L103.9,592.2L104,589.5L104.1,591.8L104.2,589.8L104.4,592.3L104.5,592.4L104.6,592.7L104.7,593.5L104.8,592.7L104.9,590.7L105,593.9L105.1,591.9L105.2,590.7L105.3,591.7L105.4,591.5L105.5,591.7L105.6,591.5L105.7,593.9L105.9,590.6L106,591.7L106.1,592.5L106.2,592.3L106.3,592.2L106.4,591.4L106.5,593.1L106.6,593.2L106.7,593.2L106.8,591.2L106.9,592.9L107,591.9L107.1,593.1L107.2,592.1L107.4,592.5L107.5,592.7L107.6,591L107.7,591.9L107.8,592.9L107.9,589.8L108,592.9L108.1,593.1L108.2,593.5L108.3,590.5L108.4,591.8L108.5,591.7L108.6,591L108.7,591.9L108.9,591.4L109,590.5L109.1,591.8L109.2,591.3L109.3,591.8L109.4,591.9L109.5,590.7L109.6,591.5L109.7,591.7L109.8,593.7L109.9,592.8L110,592.6L110.1,592L110.2,591.7L110.4,591.9L110.5,592.1L110.6,591.7L110.7,591.7L110.8,591.2L110.9,593.6L111,591.1L111.1,590.2L111.2,591L111.3,592.4L111.4,592.8L111.5,592.1L111.6,590.8L111.7,591.8L111.9,593.8L112,595L112.1,591.8L112.2,589.9L112.3,593.5L112.4,592.6L112.5,592L112.6,591.8L112.7,591.2L112.8,593.5L112.9,591.9L113,592.6L113.1,591.3L113.2,591.7L113.4,591L113.5,593.2L113.6,593.1L113.7,592.7L113.8,592.5L113.9,592.8L114,593.3L114.1,592.7L114.2,593.7L114.3,591.3L114.4,592.8L114.5,593.7L114.6,592.5L114.7,594.6L114.9,592.8L115,593.9L115.1,591.9L115.2,593.6L115.3,595.5L115.4,593.7L115.5,594.8L115.6,594.1L115.7,598.9L115.8,595.2L115.9,594.9L116,592.3L116.1,594.9L116.2,592.8L116.4,593.1L116.5,594.2L116.6,593.1L116.7,591.7L116.8,592.4L116.9,592.3L117,592.2L117.1,592L117.2,591.7L117.3,592.1L117.4,593.4L117.5,592.2L117.6,591.9L117.7,590.2L117.9,592.9L118,590L118.1,592.2L118.2,589.4L118.3,593.5L118.4,590.8L118.5,593.1L118.6,591.2L118.7,588.9L118.8,586.5L118.9,587.7L119,585.3L119.1,586.5L119.2,582.4L119.4,586.1L119.5,582.7L119.6,583.7L119.7,588.5L119.8,587.4L119.9,589.5L120,587.8L120.1,589.9L120.2,588.7L120.3,591.3L120.4,591.7L120.5,592.4L120.6,591.6L120.7,591.4L120.9,591.8L121,591.6L121.1,591.2L121.2,592L121.3,592.6L121.4,592.9L121.5,592.5L121.6,592.3L121.7,591.1L121.8,591.2L121.9,592.7L122,591.5L122.1,592.9L122.2,591.3L122.3,593.5L122.5,591.2L122.6,592.2L122.7,591.8L122.8,592.1L122.9,593L123,591.9L123.1,592L123.2,591.4L123.3,591.5L123.4,590.9L123.5,591.6L123.6,593.1L123.7,591.4L123.8,593.1L124,592.7L124.1,592L124.2,592.8L124.3,592.4L124.4,591.2L124.5,592.6L124.6,592.9L124.7,593.2L124.8,589.5L124.9,592.5L125,592L125.1,592L125.2,591.1L125.3,592.6L125.5,592.9L125.6,592.4L125.7,592.8L125.8,593.3L125.9,593.7L126,592L126.1,592.4L126.2,590.8L126.3,592.5L126.4,592.4L126.5,591L126.6,593.6L126.7,591.4L126.8,592.8L127,593.1L127.1,591.7L127.2,592L127.3,593.1L127.4,591.8L127.5,590.7L127.6,591.3L127.7,592L127.8,592.6L127.9,592.1L128,591.6L128.1,592.3L128.2,591.7L128.3,591.2L128.5,593.4L128.6,591.9L128.7,591.6L128.8,592.3L128.9,592.7L129,590.7L129.1,592.2L129.2,592.2L129.3,592.6L129.4,592.4L129.5,592.4L129.6,592.3L129.7,593.7L129.8,593.9L130,593.1L130.1,593L130.2,593.6L130.3,592.5L130.4,593.9L130.5,593.5L130.6,594.7L130.7,598.8L130.8,595.2L130.9,593.8L131,595.8L131.1,595.6L131.2,596.5L131.3,592.5L131.5,593.1L131.6,592.7L131.7,587.6L131.8,585.5L131.9,587.1L132,586.9L132.1,588.1L132.2,585.2L132.3,587.8L132.4,589.6L132.5,590.2L132.6,590.3L132.7,589.7L132.8,591.9L133,592.5L133.1,591.4L133.2,592L133.3,593.3L133.4,592.1L133.5,592.3L133.6,592.4L133.7,591.9L133.8,591.8L133.9,590.5L134,591.5L134.1,591.3L134.2,592.5L134.3,592L134.5,592.7L134.6,592.7L134.7,591.3L134.8,590.1L134.9,591.4L135,591.7L135.1,591.6L135.2,591.4L135.3,592.1L135.4,592.1L135.5,591.5L135.6,590.7L135.7,592L135.8,593.6L136,591.4L136.1,591.9L136.2,592.8L136.3,592.8L136.4,594.9L136.5,592.8L136.6,592.3L136.7,591.7L136.8,592.2L136.9,593L137,592.5L137.1,592.1L137.2,591.6L137.3,591.9L137.5,591.4L137.6,593.8L137.7,592L137.8,591.9L137.9,593L138,592L138.1,592.6L138.2,593.3L138.3,593.4L138.4,591.8L138.5,591.9L138.6,591.5L138.7,592L138.8,592.5L138.9,594.3L139.1,593.9L139.2,594.5L139.3,592.7L139.4,596.2L139.5,597.3L139.6,597.5L139.7,595.8L139.8,597.8L139.9,596.3L140,597.4L140.1,595.4L140.2,597.5L140.3,595.8L140.4,594.2L140.6,594.4L140.7,594.6L140.8,592L140.9,594.3L141,593.5L141.1,591.5L141.2,590.9L141.3,592.3L141.4,593.4L141.5,593.3L141.6,592.9L141.7,592.2L141.8,591L141.9,591.3L142.1,591.3L142.2,592.6L142.3,591.5L142.4,591.4L142.5,591.4L142.6,592.1L142.7,592.5L142.8,591.1L142.9,590.7L143,592.3L143.1,591.8L143.2,591.1L143.3,590.8L143.4,590.5L143.6,592L143.7,591L143.8,593.1L143.9,594L144,592.4L144.1,591.8L144.2,593.4L144.3,592.2L144.4,591.9L144.5,592.1L144.6,591.8L144.7,591.1L144.8,592.3L144.9,592.5L145.1,591.6L145.2,591.1L145.3,592.4L145.4,590.9L145.5,591.4L145.6,592.4L145.7,592.1L145.8,592.7L145.9,591.5L146,592L146.1,590.3L146.2,594.3L146.3,593.1L146.4,592.5L146.6,591.6L146.7,592.4L146.8,592.7L146.9,591.7L147,592.4L147.1,591.8L147.2,591.3L147.3,591.2L147.4,593.4L147.5,592.7L147.6,591.7L147.7,592.2L147.8,592.7L147.9,591.5L148.1,592L148.2,591.7L148.3,591.3L148.4,592.4L148.5,591.2L148.6,591.9L148.7,591.8L148.8,591.2L148.9,593.4L149,593.5L149.1,593L149.2,591.3L149.3,591.9L149.4,592.5L149.6,592.9L149.7,593.5L149.8,591.8L149.9,592.1L150,591.7L150.1,591.3L150.2,591.8L150.3,590.9L150.4,592.4L150.5,590.8L150.6,591.7L150.7,592.5L150.8,591.9L150.9,590.2L151.1,593.1L151.2,592.6L151.3,592.4L151.4,591.9L151.5,592L151.6,590.4L151.7,592.2L151.8,591.5L151.9,592.5L152,593.1L152.1,592.2L152.2,592.3L152.3,591.4L152.4,590.8L152.6,592.5L152.7,591L152.8,593.1L152.9,590.4L153,593.5L153.1,592.6L153.2,591.8L153.3,592.4L153.4,593.1L153.5,591.4L153.6,593L153.7,591.2L153.8,593.4L153.9,591.2L154.1,591.4L154.2,591.6L154.3,591.2L154.4,592.3L154.5,592.1L154.6,591.1L154.7,593L154.8,592.3L154.9,592.3L155,592.3L155.1,592.3L155.2,594.2L155.3,592.1L155.4,591.9L155.6,591.1L155.7,591.5L155.8,592.6L155.9,592.4L156,592.9L156.1,592.4L156.2,592.7L156.3,591.2L156.4,591.8L156.5,591.6L156.6,592.5L156.7,592.3L156.8,591.7L156.9,592.9L157,591.7L157.2,591.4L157.3,592.7L157.4,592.2L157.5,593L157.6,590.8L157.7,591.9L157.8,591.3L157.9,592.5L158,593L158.1,592.4L158.2,591.1L158.3,590.9L158.4,591.7L158.5,592.6L158.7,592.3L158.8,591.9L158.9,594.2L159,592.8L159.1,595.3L159.2,595L159.3,595.6L159.4,597.4L159.5,599.2L159.6,599.3L159.7,603.2L159.8,604.6L159.9,606.5L160,605.5L160.2,604.7L160.3,605.2L160.4,606.2L160.5,601.8L160.6,600L160.7,600L160.8,597.8L160.9,596.2L161,595.9L161.1,594L161.2,593.6L161.3,594.3L161.4,595.3L161.5,593.5L161.7,591.3L161.8,591.4L161.9,592.6L162,593.2L162.1,591L162.2,591.7L162.3,591.2L162.4,590.6L162.5,591.8L162.6,592.1L162.7,592.8L162.8,592L162.9,593L163,591.2L163.2,592.3L163.3,590.8L163.4,592.4L163.5,591.7L163.6,592.8L163.7,591.4L163.8,592.8L163.9,591L164,591.6L164.1,593.7L164.2,593.3L164.3,591.9L164.4,592.1L164.5,590.4L164.7,592.8L164.8,592.3L164.9,592.1L165,591.9L165.1,590.6L165.2,592.2L165.3,593.4L165.4,590.7L165.5,591.7L165.6,593.3L165.7,592.6L165.8,592.3L165.9,592L166,591.4L166.2,592.3L166.3,592.5L166.4,592.9L166.5,592.2L166.6,592L166.7,591.6L166.8,593.9L166.9,592.8L167,591.6L167.1,590.6L167.2,591.3L167.3,594L167.4,593.7L167.5,591.5L167.7,592L167.8,592L167.9,590.3L168,593L168.1,591L168.2,591.9L168.3,592.6L168.4,593.9L168.5,593.1L168.6,590.7L168.7,591.9L168.8,591.3L168.9,591.5L169,592.1L169.2,591.2L169.3,591.7L169.4,592.1L169.5,592.2L169.6,592.6L169.7,591.6L169.8,592L169.9,590.5L170,591.8L170.1,592.2L170.2,593.1L170.3,589.4L170.4,586.5L170.5,589.2L170.7,591.9L170.8,586.4L170.9,588.6L171,586L171.1,586.6L171.2,586.5L171.3,588.5L171.4,590.6L171.5,589.5L171.6,593.5L171.7,591.9L171.8,595.8L171.9,594.8L172,596.4L172.2,593.5L172.3,595.5L172.4,595.2L172.5,592.4L172.6,592.8L172.7,593L172.8,593.7L172.9,592.5L173,591.9L173.1,591.6L173.2,592.8L173.3,591.6L173.4,593.9L173.5,592L173.7,592.9L173.8,591.4L173.9,592.5L174,590L174.1,591.9L174.2,591.8L174.3,594.1L174.4,593.3L174.5,591.1L174.6,592.7L174.7,591.1L174.8,592.7L174.9,591.5L175,592.8L175.1,591.7L175.3,591.5L175.4,591.3L175.5,592.7L175.6,593.2L175.7,591.6L175.8,591.8L175.9,591.4L176,593.1L176.1,591.4L176.2,592.2L176.3,593L176.4,592.4L176.5,591.2L176.6,591.8L176.8,591.8L176.9,591.8L177,592.1L177.1,590.4L177.2,591.5L177.3,592.9L177.4,592.7L177.5,591.5L177.6,591.1L177.7,589.6L177.8,593.5L177.9,589.2L178,588.7L178.1,590.8L178.3,588.8L178.4,591.3L178.5,590.9L178.6,591.5L178.7,589.4L178.8,590.1L178.9,590.4L179,592.8L179.1,591.7L179.2,592.9L179.3,591.8L179.4,591.4L179.5,590.7L179.6,592.1L179.8,591.8L179.9,592.1L180,592.9L180.1,590.6L180.2,591.7L180.3,590.8L180.4,591.3L180.5,593.1L180.6,592.6L180.7,591.4L180.8,591.3L180.9,591.4L181,592L181.1,591.3L181.3,592.9L181.4,592.2L181.5,593L181.6,591.2L181.7,591.7L181.8,591.4L181.9,592.3L182,594.2L182.1,592.7L182.2,591.9L182.3,592L182.4,591.2L182.5,591.1L182.6,592.5L182.8,591.4L182.9,593.5L183,591.5L183.1,593.9L183.2,591.6L183.3,594L183.4,591.6L183.5,590.7L183.6,592.2L183.7,591.4L183.8,591.1L183.9,594.4L184,593.7L184.1,592L184.3,593L184.4,592.4L184.5,589.7L184.6,590.4L184.7,591.5L184.8,592.6L184.9,591.6L185,591.7L185.1,592.2L185.2,590.6L185.3,593.7L185.4,590.6L185.5,592.4L185.6,590.9L185.8,592.1L185.9,592.5L186,592.6L186.1,591.8L186.2,591.7L186.3,589.3L186.4,590.6L186.5,592.1L186.6,593.1L186.7,591.9L186.8,591.5L186.9,593.5L187,592L187.1,590.9L187.3,592.4L187.4,593.5L187.5,591.3L187.6,590.5L187.7,592.2L187.8,591.9L187.9,590.9L188,591.5L188.1,592.7L188.2,592.3L188.3,592.1L188.4,592L188.5,590.8L188.6,593L188.8,591.6L188.9,592.1L189,594L189.1,591.3L189.2,591.9L189.3,593.2L189.4,593.7L189.5,591.1L189.6,590.5L189.7,591.9L189.8,592.2L189.9,591.3L190,592.6L190.1,592.5L190.3,591.1L190.4,593L190.5,591L190.6,591.7L190.7,590.8L190.8,593.7L190.9,590.8L191,592.1L191.1,591.4L191.2,592.7L191.3,592.9L191.4,591L191.5,591.6L191.6,591.5L191.8,591.4L191.9,591.4L192,593.4L192.1,592.3L192.2,592.3L192.3,590.2L192.4,590.8L192.5,592.8L192.6,593.3L192.7,591.3L192.8,591.5L192.9,590.7L193,593L193.1,590.5L193.2,591.8L193.4,590.8L193.5,591.7L193.6,592.4L193.7,592.7L193.8,590.7L193.9,595.1L194,590.9L194.1,591.3L194.2,592.7L194.3,591.2L194.4,592.1L194.5,593.4L194.6,592.3L194.7,591.3L194.9,591.9L195,592.8L195.1,591.2L195.2,591.2L195.3,590.6L195.4,591.7L195.5,590.4L195.6,592.7L195.7,592.4L195.8,593.5L195.9,591.9L196,591.7L196.1,591.8L196.2,593.3L196.4,590.2L196.5,593.9L196.6,592.8L196.7,595.7L196.8,589.8L196.9,590.2L197,591.7L197.1,591L197.2,593.3L197.3,593.1L197.4,592.9L197.5,591.3L197.6,592.3L197.7,591.7L197.9,593.1L198,593.4L198.1,591.5L198.2,591.7L198.3,591.6L198.4,592.6L198.5,591.8L198.6,593.5L198.7,593L198.8,591.7L198.9,592.9L199,593.1L199.1,592.9L199.2,590.5L199.4,592.4L199.5,591.7L199.6,592.2L199.7,589.8L199.8,592.1L199.9,591L200,591.1L200.1,591.6L200.2,592L200.3,593.4L200.4,591.5L200.5,590L200.6,591.5L200.7,590.1L200.9,591.3L201,591.1L201.1,592.4L201.2,592.1L201.3,591.5L201.4,590.9L201.5,592.9L201.6,593.3L201.7,592L201.8,592L201.9,591.5L202,590.4L202.1,592.4L202.2,590.2L202.4,591.4L202.5,591.9L202.6,593.5L202.7,590.5L202.8,590.2L202.9,591.4L203,591.4L203.1,592.2L203.2,593.6L203.3,592.4L203.4,593L203.5,592.8L203.6,592L203.7,591.5L203.9,589.8L204,588.2L204.1,589.4L204.2,587.3L204.3,588.1L204.4,587.3L204.5,585.6L204.6,586.6L204.7,585L204.8,586.3L204.9,587.3L205,587.6L205.1,585L205.2,587.8L205.4,589.6L205.5,589.5L205.6,591.3L205.7,591.4L205.8,591.6L205.9,593.4L206,591.8L206.1,591.3L206.2,591.5L206.3,592L206.4,590.9L206.5,592.7L206.6,590.9L206.7,591L206.9,591.8L207,590.6L207.1,592.7L207.2,591.7L207.3,592.1L207.4,592.7L207.5,592.3L207.6,591.6L207.7,591.6L207.8,591.4L207.9,592.6L208,592.1L208.1,592.1L208.2,592.6L208.4,592L208.5,593.9L208.6,593.1L208.7,592.5L208.8,592.4L208.9,591.4L209,592.5L209.1,590.5L209.2,593.4L209.3,590.3L209.4,592.9L209.5,593.1L209.6,592.7L209.7,592.6L209.9,592.2L210,592.4L210.1,591.3L210.2,590.8L210.3,592.9L210.4,590L210.5,591.1L210.6,591.4L210.7,590.2L210.8,591.5L210.9,589.4L211,593L211.1,589.9L211.2,592.1L211.3,590.7L211.5,592.2L211.6,589.9L211.7,591.4L211.8,591.1L211.9,593L212,593.4L212.1,591.8L212.2,590.6L212.3,591.9L212.4,593.4L212.5,590.5L212.6,592.5L212.7,591.4L212.8,592.8L213,592.7L213.1,591.8L213.2,594.4L213.3,592.9L213.4,592.4L213.5,592.4L213.6,593.5L213.7,591.1L213.8,592.3L213.9,592.2L214,593.7L214.1,592.2L214.2,591.5L214.3,591.3L214.5,591.6L214.6,592.2L214.7,592.3L214.8,591.9L214.9,591.5L215,592.3L215.1,592.3L215.2,591.8L215.3,592.3L215.4,591.9L215.5,592L215.6,592.9L215.7,590.8L215.8,591.5L216,592.9L216.1,592.9L216.2,592.5L216.3,592.6L216.4,593L216.5,591.9L216.6,592.4L216.7,592.9L216.8,590.8L216.9,592.4L217,591.9L217.1,593.3L217.2,593.1L217.3,593L217.5,591.3L217.6,591.5L217.7,592.3L217.8,592.4L217.9,591.9L218,592.9L218.1,592.4L218.2,591.3L218.3,592.9L218.4,591.6L218.5,592.2L218.6,592L218.7,592.3L218.8,591.4L219,591.4L219.1,591.7L219.2,593.6L219.3,592L219.4,591.1L219.5,593L219.6,593.5L219.7,592.3L219.8,591.4L219.9,593.3L220,591.8L220.1,592.4L220.2,592.2L220.3,591.8L220.5,592.3L220.6,592.7L220.7,592L220.8,590.6L220.9,591.6L221,591.5L221.1,593L221.2,592.6L221.3,593.4L221.4,591.3L221.5,591.2L221.6,591.8L221.7,591.4L221.8,592.5L222,592.5L222.1,591.1L222.2,592.5L222.3,591.2L222.4,590.7L222.5,593.1L222.6,592.9L222.7,590.6L222.8,591.3L222.9,590.8L223,590.7L223.1,592.4L223.2,590.4L223.3,590.9L223.5,591.2L223.6,591.8L223.7,592.4L223.8,592.7L223.9,593.3L224,592.8L224.1,592.8L224.2,591.9L224.3,592.7L224.4,593.6L224.5,591.9L224.6,593.9L224.7,592.4L224.8,591.4L225,593.4L225.1,593.1L225.2,592L225.3,590.6L225.4,591.9L225.5,592.1L225.6,591.3L225.7,593.3L225.8,592.9L225.9,590.1L226,589.7L226.1,589.8L226.2,590.1L226.3,589.6L226.5,592.4L226.6,591.6L226.7,590.8L226.8,589.3L226.9,590.5L227,590.9L227.1,592.5L227.2,591.2L227.3,591.1L227.4,591.1L227.5,591.9L227.6,589.9L227.7,593L227.8,591.2L228,593.2L228.1,593.2L228.2,591.4L228.3,592.4L228.4,592.7L228.5,592L228.6,589.8L228.7,592.6L228.8,592.3L228.9,591L229,592.5L229.1,589.9L229.2,593.2L229.3,592.2L229.4,591.2L229.6,592.3L229.7,592.5L229.8,593.3L229.9,592.2L230,591.3L230.1,592.3L230.2,592.9L230.3,590.9L230.4,591.3L230.5,591.6L230.6,592.3L230.7,592.8L230.8,591.1L230.9,592L231.1,592.4L231.2,592.2L231.3,591.7L231.4,591.3L231.5,592.1L231.6,592.4L231.7,593.1L231.8,592.3L231.9,592.3L232,591.8L232.1,592.1L232.2,592.5L232.3,592.2L232.4,591.5L232.6,592.2L232.7,592.2L232.8,592.3L232.9,592.4L233,591.8L233.1,591.5L233.2,592.3L233.3,592.2L233.4,591.7L233.5,591.4L233.6,590.8L233.7,593.2L233.8,591.3L233.9,592.5L234.1,591.5L234.2,591.2L234.3,590.4L234.4,592.5L234.5,591.1L234.6,594.2L234.7,591.9L234.8,594L234.9,592.5L235,592.9L235.1,593.2L235.2,591.5L235.3,592.6L235.4,592.5L235.6,591.8L235.7,591.2L235.8,589.6L235.9,590.7L236,591.3L236.1,592.3L236.2,589.1L236.3,589.6L236.4,589.4L236.5,591.3L236.6,589.1L236.7,590.3L236.8,588.5L236.9,591.8L237.1,590.6L237.2,590L237.3,592L237.4,591.9L237.5,592.4L237.6,592.2L237.7,591.3L237.8,591.8L237.9,593L238,589.8L238.1,592.7L238.2,591L238.3,592L238.4,591.4L238.6,591.5L238.7,591.3L238.8,591.3L238.9,590.5L239,592.6L239.1,593.2L239.2,593.5L239.3,593.8L239.4,591.6L239.5,593.6L239.6,593.5L239.7,591.9L239.8,592.3L239.9,592L240.1,594.4L240.2,593.2L240.3,593.4L240.4,592.1L240.5,592.1L240.6,591.7L240.7,591L240.8,589L240.9,592.6L241,591.4L241.1,591.2L241.2,592.2L241.3,593.1L241.4,591.2L241.6,591.2L241.7,591.5L241.8,592.8L241.9,594.4L242,593.2L242.1,590.9L242.2,590.9L242.3,593.1L242.4,591.8L242.5,590.8L242.6,590.8L242.7,592.9L242.8,592.2L242.9,592.1L243.1,593.1L243.2,590.5L243.3,593.6L243.4,591.7L243.5,591.2L243.6,591.7L243.7,591.4L243.8,594L243.9,592L244,591.8L244.1,591.8L244.2,593.2L244.3,592.3L244.4,592.8L244.6,590.9L244.7,592.6L244.8,592.2L244.9,592.2L245,592.2L245.1,590.6L245.2,590.8L245.3,591.7L245.4,592.3L245.5,592.4L245.6,593.7L245.7,592L245.8,591.8L245.9,592.2L246,592.9L246.2,591L246.3,591.4L246.4,591.9L246.5,590.7L246.6,591.8L246.7,590.5L246.8,592.2L246.9,591.9L247,592.6L247.1,591.3L247.2,592.5L247.3,591.7L247.4,591.9L247.5,592.7L247.7,590.1L247.8,591.1L247.9,592.2L248,591.3L248.1,591.7L248.2,592.4L248.3,590.4L248.4,591.3L248.5,591.5L248.6,591.6L248.7,591.4L248.8,591.4L248.9,591.8L249,591.9L249.2,591.9L249.3,593.3L249.4,592.2L249.5,591L249.6,590.7L249.7,591.8L249.8,592.7L249.9,591.1L250,592.7L250.1,592.9L250.2,593.2L250.3,593.8L250.4,590.4L250.5,592L250.7,594.6L250.8,592.8L250.9,593.6L251,591.3L251.1,592.6L251.2,592.7L251.3,591.4L251.4,590.5L251.5,592.8L251.6,592.1L251.7,593L251.8,591.2L251.9,591.8L252,591.9L252.2,592.8L252.3,590.7L252.4,592.3L252.5,591L252.6,591L252.7,593.1L252.8,592.2L252.9,591.8L253,593L253.1,592.1L253.2,591.8L253.3,593.5L253.4,592.3L253.5,591.8L253.7,592.5L253.8,592.6L253.9,593.3L254,592.1L254.1,591.9L254.2,592.2L254.3,590.9L254.4,592.1L254.5,592.4L254.6,590.6L254.7,591.5L254.8,591.1L254.9,590.9L255,592.5L255.2,592.9L255.3,590.6L255.4,593.7L255.5,592.5L255.6,590.6L255.7,592.6L255.8,591.4L255.9,592.8L256,589.9L256.1,592.1L256.2,591.3L256.3,593.3L256.4,591.3L256.5,591.3L256.7,592.4L256.8,591.2L256.9,592.1L257,591.5L257.1,592.4L257.2,592.4L257.3,593.2L257.4,591.3L257.5,592L257.6,592.6L257.7,589.9L257.8,591.8L257.9,592L258,592.7L258.2,590.9L258.3,591.8L258.4,592.8L258.5,592.2L258.6,591.4L258.7,591.9L258.8,590.8L258.9,590.9L259,589.6L259.1,592.8L259.2,592.1L259.3,592.3L259.4,592.3L259.5,592L259.7,592.4L259.8,591L259.9,593.4L260,592L260.1,591.4L260.2,591L260.3,592.1L260.4,591.7L260.5,592L260.6,591.6L260.7,592.2L260.8,591.4L260.9,590.8L261,590.2L261.2,592.3L261.3,591.3L261.4,591.8L261.5,591.7L261.6,592.4L261.7,591.9L261.8,591.5L261.9,592L262,592.4L262.1,591L262.2,591.9L262.3,592.2L262.4,592L262.5,592.2L262.7,592.7L262.8,591.6L262.9,592.3L263,593.1L263.1,591.2L263.2,592.4L263.3,593.3L263.4,592.1L263.5,592.7L263.6,591.9L263.7,593.1L263.8,592.5L263.9,593.5L264,593.3L264.1,592L264.3,592.6L264.4,590.8L264.5,592.8L264.6,592L264.7,593.3L264.8,590.8L264.9,592.1L265,593.5L265.1,592L265.2,592.7L265.3,590.3L265.4,591.3L265.5,593.1L265.6,591.8L265.8,592.1L265.9,593.1L266,593.4L266.1,593.7L266.2,594.9L266.3,594.3L266.4,595.9L266.5,596.3L266.6,597.6L266.7,599.1L266.8,596.4L266.9,599.2L267,599.1L267.1,596L267.3,599.7L267.4,599.8L267.5,600.2L267.6,598.3L267.7,593.8L267.8,595.7L267.9,595.6L268,591.9L268.1,591.6L268.2,589.1L268.3,593L268.4,590L268.5,593.9L268.6,590.1L268.8,591.3L268.9,592.7L269,590.7L269.1,591.8L269.2,591.4L269.3,592L269.4,591L269.5,591.5L269.6,592.9L269.7,592.9L269.8,592.8L269.9,591.4L270,591.5L270.1,591.8L270.3,592.3L270.4,592.6L270.5,591.8L270.6,591.3L270.7,591.4L270.8,590.6L270.9,590.5L271,592.4L271.1,589.8L271.2,590.7L271.3,591.8L271.4,591.7L271.5,591.6L271.6,592.5L271.8,592.6L271.9,592L272,592.4L272.1,594.6L272.2,591.5L272.3,593.8L272.4,591.7L272.5,592.4L272.6,592.7L272.7,591.3L272.8,592.9L272.9,593.1L273,591.7L273.1,591.8L273.3,592.8L273.4,592.9L273.5,592.9L273.6,591.7L273.7,591.6L273.8,591.1L273.9,592.2L274,593L274.1,591.3L274.2,589.4L274.3,590.4L274.4,593.1L274.5,591.3L274.6,592.2L274.8,592.1L274.9,592.3L275,592.9L275.1,593.6L275.2,591.6L275.3,593.1L275.4,592.6L275.5,592.4L275.6,591.9L275.7,592.5L275.8,592.2L275.9,592.5L276,591.8L276.1,591.7L276.3,590.6L276.4,591.5L276.5,592.6L276.6,591.5L276.7,591.2L276.8,592.5L276.9,592.5L277,594L277.1,590.7L277.2,591.9L277.3,590.9L277.4,593.4L277.5,594.1L277.6,591.8L277.8,592.8L277.9,591.9L278,592.7L278.1,591.3L278.2,592.3L278.3,592.2L278.4,591.6L278.5,592.4L278.6,592.4L278.7,590.9L278.8,592.1L278.9,591.8L279,591.6L279.1,591.9L279.3,591.6L279.4,590.4L279.5,591.1L279.6,593.2L279.7,593.9L279.8,592.8L279.9,594.1L280,594.3L280.1,592.9L280.2,592.8L280.3,591.9L280.4,591.6L280.5,590.1L280.6,592.6L280.8,592.5L280.9,591.8L281,591.1L281.1,592.2L281.2,592.8L281.3,594.3L281.4,591.3L281.5,592.2L281.6,590.7L281.7,590.5L281.8,590.4L281.9,591.6L282,591.3L282.1,593.2L282.2,591.7L282.4,592.3L282.5,591.1L282.6,592.5L282.7,592.2L282.8,592.8L282.9,590.4L283,591.9L283.1,592.9L283.2,592.4L283.3,593.2L283.4,590.9L283.5,590.9L283.6,591.9L283.7,591.8L283.9,593.3L284,590.6L284.1,592.1L284.2,590.2L284.3,592.5L284.4,591.6L284.5,591.3L284.6,591.3L284.7,592.1L284.8,591.1L284.9,591.7L285,592L285.1,592.9L285.2,590.9L285.4,592L285.5,591.6L285.6,592.1L285.7,591.7L285.8,592.3L285.9,589.8L286,590.5L286.1,591.4L286.2,591.8L286.3,591.4L286.4,592.8L286.5,591.5L286.6,592.1L286.7,592.4L286.9,592.6L287,592.6L287.1,591.6L287.2,592L287.3,592.7L287.4,591.7L287.5,591.9L287.6,592.1L287.7,590.7L287.8,592.2L287.9,593.2L288,591.9L288.1,592.9L288.2,591.2L288.4,591.5L288.5,592.2L288.6,591.5L288.7,592.2L288.8,592.2L288.9,593.4L289,593.7L289.1,591.9L289.2,589.6L289.3,592.5L289.4,591.1L289.5,591.6L289.6,590.1L289.7,591.4L289.9,590.4L290,589.7L290.1,590.8L290.2,590.3L290.3,590.5L290.4,589.7L290.5,589.8L290.6,589.8L290.7,590.4L290.8,592.2L290.9,591.7L291,590.9L291.1,591.5L291.2,590.9L291.4,593L291.5,592.7L291.6,592.7L291.7,591.7L291.8,592.5L291.9,592.8L292,591.7L292.1,592.4L292.2,592.9L292.3,591.7L292.4,592.1L292.5,591.6L292.6,591.5L292.7,592.5L292.9,592.3L293,592.1L293.1,591.5L293.2,592.1L293.3,591.2L293.4,592.5L293.5,592L293.6,590.9L293.7,593.2L293.8,593.1L293.9,591.5L294,591.4L294.1,591.2L294.2,591.3L294.4,591.2L294.5,592.5L294.6,592L294.7,591.6L294.8,593.1L294.9,593.1L295,592.5L295.1,591.2L295.2,591.4L295.3,593.1L295.4,592.5L295.5,592.5L295.6,592L295.7,591.9L295.9,592.1L296,592.8L296.1,591.1L296.2,591.2L296.3,592.9L296.4,592.2L296.5,591.2L296.6,591.8L296.7,591.7L296.8,592.4L296.9,590.9L297,593L297.1,591.3L297.2,590.6L297.4,592.7L297.5,590.9L297.6,591.3L297.7,592.6L297.8,591.9L297.9,590.8L298,592.4L298.1,592.4L298.2,594.5L298.3,593.5L298.4,592.4L298.5,592.2L298.6,591.5L298.7,591.3L298.9,590.3L299,591.4L299.1,589.4L299.2,591.4L299.3,590.8L299.4,592.8L299.5,591.6L299.6,591.1" fill="none" stroke="#2a2aff" stroke-width="0.6" stroke-linejoin="round"/>
<path d="M55.4,549.4h0M55.5,550h0M55.6,550.7h0M55.7,548.6h0M55.8,549.5h0M55.9,549.2h0M56.1,549.7h0M56.2,550h0M56.3,548.9h0M56.4,549.2h0M56.5,548.5h0M56.6,549.3h0M56.7,550.8h0M56.8,548.8h0M56.9,549.4h0M57,549.7h0M57.1,552.2h0M57.2,550.2h0M57.3,549.3h0M57.4,550h0M57.6,549.2h0M57.7,548.9h0M57.8,549.4h0M57.9,550.3h0M58,549h0M58.1,549.1h0M58.2,549.6h0M58.3,551.1h0M58.4,550.5h0M58.5,548.7h0M58.6,549.6h0M58.7,551h0M58.8,549.5h0M58.9,549.3h0M59.1,548.8h0M59.2,549h0M59.3,549h0M59.4,550h0M59.5,550.8h0M59.6,549.9h0M59.7,548.1h0M59.8,550.7h0M59.9,548.5h0M60,550.7h0M60.1,550.5h0M60.2,549.2h0M60.3,550h0M60.4,549.5h0M60.6,550.3h0M60.7,549.1h0M60.8,548.5h0M60.9,550.6h0M61,548.7h0M61.1,548.9h0M61.2,548.5h0M61.3,551.3h0M61.4,548.4h0M61.5,550.2h0M61.6,549.4h0M61.7,549.6h0M61.8,550.1h0M61.9,550h0M62.1,549.8h0M62.2,549h0M62.3,548.5h0M62.4,549.4h0M62.5,548.4h0M62.6,549h0M62.7,548.1h0M62.8,550.3h0M62.9,549h0M63,549.1h0M63.1,549h0M63.2,548.7h0M63.3,548.3h0M63.4,548.9h0M63.6,548.6h0M63.7,549.3h0M63.8,549.2h0M63.9,549.6h0M64,548h0M64.1,548.3h0M64.2,547.8h0M64.3,549.4h0M64.4,549.1h0M64.5,546.7h0M64.6,548h0M64.7,550.2h0M64.8,548.2h0M64.9,548.6h0M65.1,549.2h0M65.2,549.1h0M65.3,549.6h0M65.4,549.3h0M65.5,549.6h0M65.6,549.9h0M65.7,549.2h0M65.8,549.6h0M65.9,548.1h0M66,547.8h0M66.1,548.9h0M66.2,549.1h0M66.3,548.2h0M66.4,548.9h0M66.6,546.9h0M66.7,551.1h0M66.8,550.9h0M66.9,549.7h0M67,548.2h0M67.1,547.9h0M67.2,549.1h0M67.3,548.6h0M67.4,548.9h0M67.5,548.2h0M67.6,546.7h0M67.7,550.7h0M67.8,546.5h0M67.9,547.6h0M68,548.8h0M68.2,548.1h0M68.3,548.5h0M68.4,548h0M68.5,548h0M68.6,547.7h0M68.7,549.4h0M68.8,547.9h0M68.9,549h0M69,548.7h0M69.1,547.6h0M69.2,548.8h0M69.3,548.1h0M69.4,548h0M69.5,548.2h0M69.7,549.4h0M69.8,547.8h0M69.9,548.1h0M70,546.2h0M70.1,549.2h0M70.2,547.2h0M70.3,548.6h0M70.4,548.5h0M70.5,546.5h0M70.6,548.3h0M70.7,547.4h0M70.8,548h0M70.9,548.9h0M71,548.3h0M71.2,548.5h0M71.3,548.2h0M71.4,546.2h0M71.5,547.5h0M71.6,549.6h0M71.7,546.2h0M71.8,547.6h0M71.9,547h0M72,546.4h0M72.1,548.6h0M72.2,547.5h0M72.3,548h0M72.4,548.1h0M72.5,548.1h0M72.7,547.7h0M72.8,546.6h0M72.9,547h0M73,547.4h0M73.1,546.5h0M73.2,549.9h0M73.3,547.6h0M73.4,547.2h0M73.5,547.3h0M73.6,546.2h0M73.7,547.3h0M73.8,546.2h0M73.9,547.6h0M74,546.8h0M74.2,547.3h0M74.3,547.6h0M74.4,546.9h0M74.5,546.8h0M74.6,548.2h0M74.7,546.4h0M74.8,547.5h0M74.9,547.1h0M75,549.8h0M75.1,547.2h0M75.2,549h0M75.3,546.3h0M75.4,547.8h0M75.5,547.5h0M75.7,547.2h0M75.8,548.3h0M75.9,546.9h0M76,548.1h0M76.1,547.1h0M76.2,546h0M76.3,545.5h0M76.4,545.3h0M76.5,546.9h0M76.6,547.6h0M76.7,546.1h0M76.8,545h0M76.9,547.4h0M77,545.1h0M77.2,546.5h0M77.3,549h0M77.4,546.2h0M77.5,544.3h0M77.6,545.4h0M77.7,545h0M77.8,545.6h0M77.9,547.6h0M78,548.2h0M78.1,546.8h0M78.2,545.9h0M78.3,546.4h0M78.4,545.9h0M78.5,543.9h0M78.7,542.7h0M78.8,545.3h0M78.9,543.6h0M79,541.2h0M79.1,539.5h0M79.2,539.7h0M79.3,530.2h0M79.4,529.3h0M79.5,525.5h0M79.6,523.9h0M79.7,515.6h0M79.8,512.2h0M79.9,503.8h0M80,498.5h0M80.2,494.6h0M80.3,492.3h0M80.4,493.1h0M80.5,496.1h0M80.6,505.7h0M80.7,506.7h0M80.8,513.7h0M80.9,515h0M81,523.3h0M81.1,530.8h0M81.2,529.4h0M81.3,535.3h0M81.4,538.2h0M81.5,538.8h0M81.7,538.6h0M81.8,539h0M81.9,542.3h0M82,542.2h0M82.1,542.5h0M82.2,543.7h0M82.3,543.8h0M82.4,543.6h0M82.5,543.6h0M82.6,542.5h0M82.7,545.8h0M82.8,543.3h0M82.9,543.5h0M83,542.6h0M83.2,544.5h0M83.3,544.6h0M83.4,544.1h0M83.5,544.9h0M83.6,545h0M83.7,545.1h0M83.8,545.2h0M83.9,545.6h0M84,545.2h0M84.1,545.4h0M84.2,545.4h0M84.3,546.1h0M84.4,543.8h0M84.5,544.5h0M84.7,544.9h0M84.8,546h0M84.9,544.3h0M85,545.2h0M85.1,545.2h0M85.2,545h0M85.3,545.2h0M85.4,544.1h0M85.5,546h0M85.6,545.9h0M85.7,545.1h0M85.8,545.5h0M85.9,544.8h0M86,544.4h0M86.1,544h0M86.3,544.5h0M86.4,545.8h0M86.5,545.7h0M86.6,545.9h0M86.7,544.4h0M86.8,545.8h0M86.9,546.5h0M87,546.7h0M87.1,545h0M87.2,546.6h0M87.3,548.4h0M87.4,545.1h0M87.5,545.5h0M87.6,545.1h0M87.8,544.9h0M87.9,545.4h0M88,545.6h0M88.1,545.9h0M88.2,546.8h0M88.3,548.2h0M88.4,548h0M88.5,545.7h0M88.6,545.3h0M88.7,546.1h0M88.8,546.9h0M88.9,545.6h0M89,546.3h0M89.1,546.2h0M89.3,546.6h0M89.4,547.5h0M89.5,547.3h0M89.6,546h0M89.7,544.8h0M89.8,544.7h0M89.9,546.6h0M90,546h0M90.1,546.6h0M90.2,546.4h0M90.3,546.1h0M90.4,545.7h0M90.5,547.7h0M90.6,544.9h0M90.8,546.7h0M90.9,547.6h0M91,544.4h0M91.1,547.6h0M91.2,546.8h0M91.3,547.5h0M91.4,545.6h0M91.5,549.4h0M91.6,546.5h0M91.7,548.4h0M91.8,545.3h0M91.9,544.8h0M92,546.1h0M92.1,547.7h0M92.3,545.8h0M92.4,544.8h0M92.5,546.7h0M92.6,547.4h0M92.7,545.6h0M92.8,548.3h0M92.9,547.3h0M93,547.1h0M93.1,547h0M93.2,546h0M93.3,547.3h0M93.4,548.2h0M93.5,548.5h0M93.6,547.3h0M93.8,546.8h0M93.9,546.3h0M94,546.7h0M94.1,548.6h0M94.2,546.7h0M94.3,548h0M94.4,546.1h0M94.5,547.6h0M94.6,547.6h0M94.7,547.9h0M94.8,546.5h0M94.9,547.5h0M95,544.8h0M95.1,546.3h0M95.3,548.6h0M95.4,547.5h0M95.5,546.5h0M95.6,546.8h0M95.7,547h0M95.8,547.3h0M95.9,549h0M96,549h0M96.1,546.8h0M96.2,548.2h0M96.3,547.6h0M96.4,547h0M96.5,549.5h0M96.6,549.5h0M96.8,547.2h0M96.9,548.3h0M97,548.1h0M97.1,546.7h0M97.2,548h0M97.3,547.8h0M97.4,547.5h0M97.5,549.5h0M97.6,546.2h0M97.7,547.4h0M97.8,548.4h0M97.9,546.8h0M98,548.8h0M98.1,548.5h0M98.3,549.1h0M98.4,548.1h0M98.5,548.6h0M98.6,547.7h0M98.7,548.6h0M98.8,547.7h0M98.9,547.6h0M99,547.6h0M99.1,547.7h0M99.2,547.9h0M99.3,548.8h0M99.4,549.9h0M99.5,547.7h0M99.6,549.4h0M99.8,547.8h0M99.9,548.1h0M100,548.2h0M100.1,548.1h0M100.2,547.6h0M100.3,549.1h0M100.4,547.8h0M100.5,547.1h0M100.6,547.4h0M100.7,547.1h0M100.8,548.4h0M100.9,548.3h0M101,546.4h0M101.1,547.7h0M101.3,548h0M101.4,547.3h0M101.5,549h0M101.6,548.3h0M101.7,547.8h0M101.8,548.3h0M101.9,546.8h0M102,547.8h0M102.1,547.4h0M102.2,549h0M102.3,548.2h0M102.4,548.2h0M102.5,547.7h0M102.6,547.7h0M102.8,548.1h0M102.9,547.5h0M103,546h0M103.1,547.8h0M103.2,548.3h0M103.3,546.3h0M103.4,545.6h0M103.5,546.3h0M103.6,544.7h0M103.7,546.7h0M103.8,542.7h0M103.9,541.8h0M104,537.1h0M104.1,537.3h0M104.2,533.3h0M104.4,533.8h0M104.5,532.4h0M104.6,531.7h0M104.7,532.3h0M104.8,532.1h0M104.9,531.3h0M105,536.3h0M105.1,536.4h0M105.2,537.3h0M105.3,540.3h0M105.4,541.9h0M105.5,543.6h0M105.6,544.7h0M105.7,548.1h0M105.9,545.5h0M106,547.1h0M106.1,548.3h0M106.2,548.3h0M106.3,548.3h0M106.4,547.7h0M106.5,549.5h0M106.6,549.6h0M106.7,549.7h0M106.8,547.7h0M106.9,549.4h0M107,548.5h0M107.1,549.7h0M107.2,548.7h0M107.4,549.1h0M107.5,549.3h0M107.6,547.7h0M107.7,548.6h0M107.8,549.6h0M107.9,546.5h0M108,549.6h0M108.1,549.8h0M108.2,550.3h0M108.3,547.3h0M108.4,548.6h0M108.5,548.5h0M108.6,547.8h0M108.7,548.7h0M108.9,548.2h0M109,547.3h0M109.1,548.6h0M109.2,548.1h0M109.3,548.7h0M109.4,548.7h0M109.5,547.6h0M109.6,548.3h0M109.7,548.6h0M109.8,550.6h0M109.9,549.7h0M110,549.5h0M110.1,548.9h0M110.2,548.6h0M110.4,548.8h0M110.5,549.1h0M110.6,548.6h0M110.7,548.6h0M110.8,548.1h0M110.9,550.5h0M111,548h0M111.1,547.2h0M111.2,547.9h0M111.3,549.3h0M111.4,549.8h0M111.5,549h0M111.6,547.7h0M111.7,548.7h0M111.9,550.8h0M112,551.9h0M112.1,548.8h0M112.2,546.8h0M112.3,550.4h0M112.4,549.5h0M112.5,548.9h0M112.6,548.7h0M112.7,548.1h0M112.8,550.4h0M112.9,548.8h0M113,549.5h0M113.1,548.1h0M113.2,548.5h0M113.4,547.8h0M113.5,549.9h0M113.6,549.8h0M113.7,549.4h0M113.8,549.2h0M113.9,549.3h0M114,549.7h0M114.1,549h0M114.2,549.8h0M114.3,547.1h0M114.4,548h0M114.5,548.2h0M114.6,546h0M114.7,546.7h0M114.9,543.2h0M115,542.1h0M115.1,537.6h0M115.2,536.6h0M115.3,535.7h0M115.4,531.3h0M115.5,530.3h0M115.6,528.1h0M115.7,532.4h0M115.8,529.2h0M115.9,530.3h0M116,529.9h0M116.1,535.1h0M116.2,535.8h0M116.4,538.8h0M116.5,542.3h0M116.6,543.2h0M116.7,543.6h0M116.8,545.5h0M116.9,546.4h0M117,546.8h0M117.1,547h0M117.2,547h0M117.3,547.4h0M117.4,548.6h0M117.5,547h0M117.6,546.1h0M117.7,543.6h0M117.9,545h0M118,540.2h0M118.1,539.7h0M118.2,533.5h0M118.3,533.3h0M118.4,525.5h0M118.5,522h0M118.6,513.9h0M118.7,505.6h0M118.8,497.9h0M118.9,495.1h0M119,490.6h0M119.1,492h0M119.2,490.4h0M119.4,498.3h0M119.5,500.4h0M119.6,507.5h0M119.7,518.4h0M119.8,523h0M119.9,530.2h0M120,532.8h0M120.1,538.2h0M120.2,539.6h0M120.3,544h0M120.4,545.7h0M120.5,547.2h0M120.6,547.1h0M120.7,547.3h0M120.9,548h0M121,548h0M121.1,547.7h0M121.2,548.6h0M121.3,549.2h0M121.4,549.7h0M121.5,549.3h0M121.6,549.2h0M121.7,548h0M121.8,548.1h0M121.9,549.7h0M122,548.5h0M122.1,549.9h0M122.2,548.4h0M122.3,550.6h0M122.5,548.3h0M122.6,549.4h0M122.7,549h0M122.8,549.3h0M122.9,550.2h0M123,549.2h0M123.1,549.3h0M123.2,548.6h0M123.3,548.8h0M123.4,548.2h0M123.5,548.8h0M123.6,550.4h0M123.7,548.7h0M123.8,550.4h0M124,550h0M124.1,549.3h0M124.2,550.1h0M124.3,549.7h0M124.4,548.5h0M124.5,549.9h0M124.6,550.2h0M124.7,550.6h0M124.8,546.9h0M124.9,549.8h0M125,549.4h0M125.1,549.4h0M125.2,548.4h0M125.3,549.9h0M125.5,550.2h0M125.6,549.7h0M125.7,550.1h0M125.8,550.7h0M125.9,551.1h0M126,549.4h0M126.1,549.8h0M126.2,548.1h0M126.3,549.8h0M126.4,549.7h0M126.5,548.3h0M126.6,550.9h0M126.7,548.6h0M126.8,550.1h0M127,550.3h0M127.1,549h0M127.2,549.2h0M127.3,550.3h0M127.4,549h0M127.5,547.8h0M127.6,548.4h0M127.7,549h0M127.8,549.6h0M127.9,549.2h0M128,548.6h0M128.1,549.2h0M128.2,548.6h0M128.3,548h0M128.5,550.2h0M128.6,548.6h0M128.7,548.3h0M128.8,548.9h0M128.9,549.2h0M129,547.1h0M129.1,548.4h0M129.2,548.3h0M129.3,548.6h0M129.4,548.2h0M129.5,547.9h0M129.6,547.4h0M129.7,548.4h0M129.8,547.9h0M130,545.9h0M130.1,544.2h0M130.2,542.4h0M130.3,537.8h0M130.4,534.3h0M130.5,527.4h0M130.6,520.3h0M130.7,514.3h0M130.8,498.9h0M130.9,484.6h0M131,473.4h0M131.1,460.9h0M131.2,451.7h0M131.3,440.9h0M131.5,439.5h0M131.6,441.8h0M131.7,443.9h0M131.8,452.5h0M131.9,466.6h0M132,479.6h0M132.1,493.5h0M132.2,502.2h0M132.3,514.7h0M132.4,524.5h0M132.5,531.4h0M132.6,536.1h0M132.7,538.9h0M132.8,543.4h0M133,545.5h0M133.1,545.5h0M133.2,546.8h0M133.3,548.6h0M133.4,547.7h0M133.5,548.2h0M133.6,548.5h0M133.7,548.1h0M133.8,548.2h0M133.9,547h0M134,548.1h0M134.1,548h0M134.2,549.2h0M134.3,548.9h0M134.5,549.6h0M134.6,549.7h0M134.7,548.3h0M134.8,547.2h0M134.9,548.6h0M135,548.9h0M135.1,548.8h0M135.2,548.6h0M135.3,549.4h0M135.4,549.4h0M135.5,548.8h0M135.6,548h0M135.7,549.4h0M135.8,550.9h0M136,548.8h0M136.1,549.3h0M136.2,550.2h0M136.3,550.3h0M136.4,552.4h0M136.5,550.2h0M136.6,549.8h0M136.7,549.1h0M136.8,549.6h0M136.9,550.5h0M137,550h0M137.1,549.6h0M137.2,549.1h0M137.3,549.4h0M137.5,548.9h0M137.6,551.3h0M137.7,549.5h0M137.8,549.4h0M137.9,550.5h0M138,549.4h0M138.1,550h0M138.2,550.6h0M138.3,550.6h0M138.4,548.9h0M138.5,548.8h0M138.6,548.1h0M138.7,548.2h0M138.8,548h0M138.9,549h0M139.1,547.6h0M139.2,546.9h0M139.3,543.8h0M139.4,545.8h0M139.5,545.4h0M139.6,544.3h0M139.7,541.6h0M139.8,543h0M139.9,541.5h0M140,543.2h0M140.1,542.2h0M140.2,545.6h0M140.3,545.4h0M140.4,545.2h0M140.6,546.9h0M140.7,548.3h0M140.8,546.7h0M140.9,549.8h0M141,549.7h0M141.1,548.2h0M141.2,547.9h0M141.3,549.5h0M141.4,550.7h0M141.5,550.8h0M141.6,550.5h0M141.7,549.8h0M141.8,548.6h0M141.9,549h0M142.1,549h0M142.2,550.3h0M142.3,549.2h0M142.4,549.1h0M142.5,549.1h0M142.6,549.9h0M142.7,550.2h0M142.8,548.9h0M142.9,548.5h0M143,550.1h0M143.1,549.6h0M143.2,548.9h0M143.3,548.6h0M143.4,548.4h0M143.6,549.9h0M143.7,548.8h0M143.8,550.9h0M143.9,551.8h0M144,550.3h0M144.1,549.6h0M144.2,551.2h0M144.3,550h0M144.4,549.8h0M144.5,549.9h0M144.6,549.7h0M144.7,549h0M144.8,550.2h0M144.9,550.3h0M145.1,549.5h0M145.2,549h0M145.3,550.3h0M145.4,548.8h0M145.5,549.3h0M145.6,550.3h0M145.7,550h0M145.8,550.6h0M145.9,549.4h0M146,549.9h0M146.1,548.2h0M146.2,552.2h0M146.3,551h0M146.4,550.4h0M146.6,549.5h0M146.7,550.3h0M146.8,550.6h0M146.9,549.6h0M147,550.3h0M147.1,549.8h0M147.2,549.2h0M147.3,549.1h0M147.4,551.3h0M147.5,550.6h0M147.6,549.6h0M147.7,550.1h0M147.8,550.6h0M147.9,549.4h0M148.1,549.9h0M148.2,549.6h0M148.3,549.2h0M148.4,550.3h0M148.5,549.1h0M148.6,549.8h0M148.7,549.7h0M148.8,549.1h0M148.9,551.3h0M149,551.4h0M149.1,550.9h0M149.2,549.2h0M149.3,549.9h0M149.4,550.4h0M149.6,550.8h0M149.7,551.4h0M149.8,549.7h0M149.9,550h0M150,549.6h0M150.1,549.2h0M150.2,549.7h0M150.3,548.8h0M150.4,550.3h0M150.5,548.6h0M150.6,549.6h0M150.7,550.4h0M150.8,549.8h0M150.9,548h0M151.1,551h0M151.2,550.4h0M151.3,550.2h0M151.4,549.6h0M151.5,549.6h0M151.6,547.9h0M151.7,549.6h0M151.8,548.6h0M151.9,549.3h0M152,549.5h0M152.1,548.2h0M152.2,547.8h0M152.3,546.5h0M152.4,545.4h0M152.6,546.8h0M152.7,545h0M152.8,547h0M152.9,544.4h0M153,547.7h0M153.1,547.2h0M153.2,546.9h0M153.3,548h0M153.4,549.1h0M153.5,547.9h0M153.6,549.7h0M153.7,548.3h0M153.8,550.7h0M153.9,548.6h0M154.1,549h0M154.2,549.3h0M154.3,548.9h0M154.4,550h0M154.5,549.9h0M154.6,548.9h0M154.7,550.8h0M154.8,550.1h0M154.9,550.1h0M155,550.1h0M155.1,550.1h0M155.2,552h0M155.3,549.9h0M155.4,549.7h0M155.6,548.9h0M155.7,549.2h0M155.8,550.4h0M155.9,550.1h0M156,550.7h0M156.1,550.2h0M156.2,550.4h0M156.3,548.9h0M156.4,549.5h0M156.5,549.4h0M156.6,550.2h0M156.7,550h0M156.8,549.4h0M156.9,550.5h0M157,549.4h0M157.2,549h0M157.3,550.3h0M157.4,549.7h0M157.5,550.4h0M157.6,548.2h0M157.7,549.3h0M157.8,548.7h0M157.9,549.7h0M158,550.2h0M158.1,549.5h0M158.2,548.1h0M158.3,547.7h0M158.4,548.2h0M158.5,548.5h0M158.7,547.5h0M158.8,546h0M158.9,546.9h0M159,543.5h0M159.1,543.2h0M159.2,539.6h0M159.3,536.1h0M159.4,533.3h0M159.5,530.1h0M159.6,525.3h0M159.7,524.7h0M159.8,522.7h0M159.9,522.6h0M160,521.5h0M160.2,522.3h0M160.3,526h0M160.4,531.3h0M160.5,531.8h0M160.6,534.9h0M160.7,539.7h0M160.8,541.6h0M160.9,543.6h0M161,546.1h0M161.1,546.4h0M161.2,547.5h0M161.3,549.3h0M161.4,551.1h0M161.5,549.8h0M161.7,547.9h0M161.8,548.2h0M161.9,549.7h0M162,550.4h0M162.1,548.3h0M162.2,548.9h0M162.3,548.5h0M162.4,548h0M162.5,549.3h0M162.6,549.6h0M162.7,550.3h0M162.8,549.6h0M162.9,550.6h0M163,548.8h0M163.2,549.9h0M163.3,548.4h0M163.4,550h0M163.5,549.4h0M163.6,550.4h0M163.7,549h0M163.8,550.5h0M163.9,548.7h0M164,549.3h0M164.1,551.4h0M164.2,551h0M164.3,549.6h0M164.4,549.8h0M164.5,548.1h0M164.7,550.5h0M164.8,549.9h0M164.9,549.8h0M165,549.6h0M165.1,548.3h0M165.2,549.8h0M165.3,551.1h0M165.4,548.4h0M165.5,549.4h0M165.6,551h0M165.7,550.3h0M165.8,550h0M165.9,549.6h0M166,549h0M166.2,549.9h0M166.3,550.1h0M166.4,550.5h0M166.5,549.8h0M166.6,549.5h0M166.7,549.2h0M166.8,551.4h0M166.9,550.3h0M167,549.1h0M167.1,548h0M167.2,548.7h0M167.3,551.4h0M167.4,551.1h0M167.5,548.9h0M167.7,549.3h0M167.8,549.2h0M167.9,547.5h0M168,550.1h0M168.1,548.1h0M168.2,549h0M168.3,549.5h0M168.4,550.8h0M168.5,549.9h0M168.6,547.4h0M168.7,548.6h0M168.8,547.8h0M168.9,547.9h0M169,548.4h0M169.2,547.4h0M169.3,547.7h0M169.4,547.9h0M169.5,547.7h0M169.6,547.7h0M169.7,546.2h0M169.8,545.8h0M169.9,543.3h0M170,543h0M170.1,541h0M170.2,538.3h0M170.3,529.7h0M170.4,519.9h0M170.5,513.7h0M170.7,505.1h0M170.8,486.2h0M170.9,473.1h0M171,454.3h0M171.1,438.9h0M171.2,424.5h0M171.3,415.6h0M171.4,411.7h0M171.5,410.6h0M171.6,420.6h0M171.7,429.8h0M171.8,448.1h0M171.9,463.1h0M172,480.8h0M172.2,493.1h0M172.3,508.6h0M172.4,519.6h0M172.5,525.8h0M172.6,533h0M172.7,538.2h0M172.8,542.4h0M172.9,543.6h0M173,544.7h0M173.1,545.4h0M173.2,547.4h0M173.3,546.7h0M173.4,549.3h0M173.5,547.7h0M173.7,548.9h0M173.8,547.5h0M173.9,548.7h0M174,546.4h0M174.1,548.4h0M174.2,548.4h0M174.3,550.8h0M174.4,550.1h0M174.5,548h0M174.6,549.6h0M174.7,548.1h0M174.8,549.7h0M174.9,548.6h0M175,549.9h0M175.1,548.8h0M175.3,548.7h0M175.4,548.5h0M175.5,549.9h0M175.6,550.5h0M175.7,548.8h0M175.8,549.1h0M175.9,548.7h0M176,550.4h0M176.1,548.6h0M176.2,549.4h0M176.3,550.1h0M176.4,549.5h0M176.5,548.1h0M176.6,548.5h0M176.8,548.2h0M176.9,547.7h0M177,547.4h0M177.1,544.8h0M177.2,544.7h0M177.3,544.6h0M177.4,542.8h0M177.5,539.8h0M177.6,537.5h0M177.7,534.2h0M177.8,536.6h0M177.9,531.5h0M178,530.6h0M178.1,533.1h0M178.3,532.2h0M178.4,536.2h0M178.5,537.6h0M178.6,540.1h0M178.7,539.8h0M178.8,542.2h0M178.9,543.9h0M179,547.4h0M179.1,547.2h0M179.2,549.1h0M179.3,548.4h0M179.4,548.4h0M179.5,548h0M179.6,549.5h0M179.8,549.3h0M179.9,549.7h0M180,550.6h0M180.1,548.2h0M180.2,549.4h0M180.3,548.5h0M180.4,549h0M180.5,550.9h0M180.6,550.3h0M180.7,549.2h0M180.8,549.1h0M180.9,549.2h0M181,549.8h0M181.1,549.1h0M181.3,550.7h0M181.4,550.1h0M181.5,550.9h0M181.6,549h0M181.7,549.6h0M181.8,549.3h0M181.9,550.2h0M182,552.1h0M182.1,550.6h0M182.2,549.8h0M182.3,549.9h0M182.4,549.2h0M182.5,549h0M182.6,550.4h0M182.8,549.3h0M182.9,551.5h0M183,549.4h0M183.1,551.8h0M183.2,549.5h0M183.3,552h0M183.4,549.6h0M183.5,548.6h0M183.6,550.1h0M183.7,549.4h0M183.8,549h0M183.9,552.3h0M184,551.7h0M184.1,550h0M184.3,551h0M184.4,550.4h0M184.5,547.6h0M184.6,548.4h0M184.7,549.4h0M184.8,550.6h0M184.9,549.5h0M185,549.7h0M185.1,550.1h0M185.2,548.5h0M185.3,551.7h0M185.4,548.6h0M185.5,550.4h0M185.6,548.8h0M185.8,550.1h0M185.9,550.5h0M186,550.6h0M186.1,549.7h0M186.2,549.7h0M186.3,547.3h0M186.4,548.6h0M186.5,550h0M186.6,551h0M186.7,549.9h0M186.8,549.4h0M186.9,551.4h0M187,549.9h0M187.1,548.7h0M187.3,550.2h0M187.4,551.2h0M187.5,548.9h0M187.6,548h0M187.7,549.4h0M187.8,548.8h0M187.9,547.5h0M188,547.7h0M188.1,548.5h0M188.2,547.7h0M188.3,547.1h0M188.4,546.7h0M188.5,545.3h0M188.6,547.5h0M188.8,546.1h0M188.9,546.9h0M189,549.2h0M189.1,546.8h0M189.2,547.8h0M189.3,549.6h0M189.4,550.4h0M189.5,548.1h0M189.6,547.7h0M189.7,549.4h0M189.8,549.8h0M189.9,549h0M190,550.4h0M190.1,550.3h0M190.3,549h0M190.4,550.9h0M190.5,548.8h0M190.6,549.6h0M190.7,548.7h0M190.8,551.6h0M190.9,548.7h0M191,550h0M191.1,549.3h0M191.2,550.6h0M191.3,550.8h0M191.4,548.8h0M191.5,549.4h0M191.6,549.4h0M191.8,549.2h0M191.9,549.3h0M192,551.3h0M192.1,550.1h0M192.2,550.1h0M192.3,548h0M192.4,548.6h0M192.5,550.6h0M192.6,551.1h0M192.7,549.1h0M192.8,549.2h0M192.9,548.5h0M193,550.7h0M193.1,548.1h0M193.2,549.4h0M193.4,548.3h0M193.5,549.1h0M193.6,549.5h0M193.7,549.6h0M193.8,547.2h0M193.9,551.1h0M194,546.3h0M194.1,545.9h0M194.2,546.5h0M194.3,544.1h0M194.4,544.2h0M194.5,544.6h0M194.6,542.9h0M194.7,541.5h0M194.9,542h0M195,543.1h0M195.1,542h0M195.2,542.5h0M195.3,542.6h0M195.4,544.1h0M195.5,543h0M195.6,545.3h0M195.7,544.4h0M195.8,544.4h0M195.9,541.1h0M196,538.5h0M196.1,535.5h0M196.2,533.5h0M196.4,526.6h0M196.5,526.4h0M196.6,521.8h0M196.7,522h0M196.8,514.6h0M196.9,514.8h0M197,517.6h0M197.1,519.5h0M197.2,525.2h0M197.3,528.8h0M197.4,532.7h0M197.5,534.8h0M197.6,539h0M197.7,541.2h0M197.9,544.9h0M198,546.8h0M198.1,546.3h0M198.2,547.3h0M198.3,547.8h0M198.4,549.3h0M198.5,548.7h0M198.6,550.6h0M198.7,550.3h0M198.8,549h0M198.9,550.3h0M199,550.6h0M199.1,550.4h0M199.2,548h0M199.4,550h0M199.5,549.3h0M199.6,549.8h0M199.7,547.4h0M199.8,549.7h0M199.9,548.7h0M200,548.8h0M200.1,549.3h0M200.2,549.7h0M200.3,551.1h0M200.4,549.2h0M200.5,547.7h0M200.6,549.2h0M200.7,547.8h0M200.9,549h0M201,548.8h0M201.1,550.1h0M201.2,549.8h0M201.3,549.2h0M201.4,548.6h0M201.5,550.5h0M201.6,550.9h0M201.7,549.7h0M201.8,549.6h0M201.9,549.1h0M202,547.9h0M202.1,550h0M202.2,547.7h0M202.4,548.8h0M202.5,549.3h0M202.6,550.8h0M202.7,547.8h0M202.8,547.5h0M202.9,548.6h0M203,548.4h0M203.1,549.1h0M203.2,550.3h0M203.3,548.8h0M203.4,548.8h0M203.5,547.9h0M203.6,546.1h0M203.7,543.9h0M203.9,540.2h0M204,535.8h0M204.1,533.5h0M204.2,527.1h0M204.3,523h0M204.4,516.9h0M204.5,510h0M204.6,506.2h0M204.7,500.7h0M204.8,499.7h0M204.9,500.3h0M205,502.2h0M205.1,502.8h0M205.2,510.1h0M205.4,517.1h0M205.5,522.2h0M205.6,529.2h0M205.7,533.8h0M205.8,537.8h0M205.9,542.7h0M206,543.5h0M206.1,544.8h0M206.2,546.3h0M206.3,547.6h0M206.4,547h0M206.5,549.2h0M206.6,547.7h0M206.7,548h0M206.9,548.8h0M207,547.7h0M207.1,549.9h0M207.2,549h0M207.3,549.5h0M207.4,550.1h0M207.5,549.7h0M207.6,549.1h0M207.7,549.1h0M207.8,548.9h0M207.9,550.1h0M208,549.6h0M208.1,549.6h0M208.2,550.1h0M208.4,549.5h0M208.5,551.4h0M208.6,550.5h0M208.7,549.9h0M208.8,549.8h0M208.9,548.8h0M209,549.8h0M209.1,547.7h0M209.2,550.4h0M209.3,547.2h0M209.4,549.4h0M209.5,549.1h0M209.6,548.1h0M209.7,547h0M209.9,545.3h0M210,543.7h0M210.1,540.5h0M210.2,537.6h0M210.3,536.9h0M210.4,531.1h0M210.5,529.5h0M210.6,527.4h0M210.7,524.5h0M210.8,525h0M210.9,523.3h0M211,528.2h0M211.1,527.2h0M211.2,532.1h0M211.3,533.6h0M211.5,537.9h0M211.6,538.2h0M211.7,542h0M211.8,543.6h0M211.9,547h0M212,548.5h0M212.1,547.7h0M212.2,547.1h0M212.3,548.7h0M212.4,550.5h0M212.5,547.8h0M212.6,549.9h0M212.7,548.9h0M212.8,550.3h0M213,550.3h0M213.1,549.4h0M213.2,552.1h0M213.3,550.7h0M213.4,550.2h0M213.5,550.2h0M213.6,551.3h0M213.7,548.9h0M213.8,550.1h0M213.9,550.1h0M214,551.6h0M214.1,550h0M214.2,549.4h0M214.3,549.2h0M214.5,549.5h0M214.6,550.1h0M214.7,550.2h0M214.8,549.9h0M214.9,549.4h0M215,550.2h0M215.1,550.2h0M215.2,549.7h0M215.3,550.3h0M215.4,549.8h0M215.5,549.9h0M215.6,550.9h0M215.7,548.8h0M215.8,549.5h0M216,550.9h0M216.1,550.9h0M216.2,550.5h0M216.3,550.6h0M216.4,550.9h0M216.5,549.9h0M216.6,550.4h0M216.7,550.9h0M216.8,548.8h0M216.9,550.4h0M217,549.8h0M217.1,551.3h0M217.2,551.1h0M217.3,551h0M217.5,549.3h0M217.6,549.5h0M217.7,550.3h0M217.8,550.4h0M217.9,549.8h0M218,550.9h0M218.1,550.3h0M218.2,549.3h0M218.3,550.9h0M218.4,549.5h0M218.5,550.2h0M218.6,549.9h0M218.7,550.2h0M218.8,549.3h0M219,549.3h0M219.1,549.5h0M219.2,551.4h0M219.3,549.8h0M219.4,548.7h0M219.5,550.5h0M219.6,550.8h0M219.7,549.3h0M219.8,548.1h0M219.9,549.6h0M220,547.6h0M220.1,547.7h0M220.2,547h0M220.3,546.1h0M220.5,546.4h0M220.6,546.5h0M220.7,545.8h0M220.8,544.6h0M220.9,545.8h0M221,546.2h0M221.1,548.2h0M221.2,548.3h0M221.3,549.5h0M221.4,547.9h0M221.5,548.1h0M221.6,548.9h0M221.7,548.9h0M221.8,550.1h0M222,550.1h0M222.1,548.8h0M222.2,550.3h0M222.3,549.1h0M222.4,548.5h0M222.5,551h0M222.6,550.8h0M222.7,548.5h0M222.8,549.1h0M222.9,548.6h0M223,548.5h0M223.1,550.2h0M223.2,548.2h0M223.3,548.8h0M223.5,549.1h0M223.6,549.7h0M223.7,550.2h0M223.8,550.6h0M223.9,551.1h0M224,550.6h0M224.1,550.5h0M224.2,549.7h0M224.3,550.4h0M224.4,551.3h0M224.5,549.5h0M224.6,551.4h0M224.7,549.8h0M224.8,548.8h0M225,550.5h0M225.1,549.9h0M225.2,548.4h0M225.3,546.3h0M225.4,546.7h0M225.5,545.8h0M225.6,543.4h0M225.7,543.6h0M225.8,541.2h0M225.9,536.2h0M226,533.5h0M226.1,531.3h0M226.2,529.9h0M226.3,528.2h0M226.5,530.7h0M226.6,530.3h0M226.7,530.7h0M226.8,531h0M226.9,534.4h0M227,537.1h0M227.1,540.9h0M227.2,541.7h0M227.3,543.4h0M227.4,544.8h0M227.5,546.8h0M227.6,545.7h0M227.7,549.4h0M227.8,548h0M228,550.3h0M228.1,550.5h0M228.2,548.9h0M228.3,550h0M228.4,550.3h0M228.5,549.7h0M228.6,547.5h0M228.7,550.3h0M228.8,550.1h0M228.9,548.8h0M229,550.4h0M229.1,547.8h0M229.2,551h0M229.3,550.1h0M229.4,549.1h0M229.6,550.1h0M229.7,550.4h0M229.8,551.2h0M229.9,550.1h0M230,549.2h0M230.1,550.2h0M230.2,550.8h0M230.3,548.8h0M230.4,549.2h0M230.5,549.5h0M230.6,550.2h0M230.7,550.7h0M230.8,549h0M230.9,549.9h0M231.1,550.3h0M231.2,550.1h0M231.3,549.6h0M231.4,549.2h0M231.5,550h0M231.6,550.3h0M231.7,551h0M231.8,550.2h0M231.9,550.1h0M232,549.7h0M232.1,550h0M232.2,550.4h0M232.3,550h0M232.4,549.4h0M232.6,550h0M232.7,550.1h0M232.8,550.1h0M232.9,550.2h0M233,549.6h0M233.1,549.3h0M233.2,550.1h0M233.3,550h0M233.4,549.4h0M233.5,549.1h0M233.6,548.5h0M233.7,550.9h0M233.8,548.9h0M233.9,550h0M234.1,549h0M234.2,548.6h0M234.3,547.7h0M234.4,549.6h0M234.5,548h0M234.6,550.8h0M234.7,548.1h0M234.8,549.5h0M234.9,547h0M235,546.1h0M235.1,544.6h0M235.2,540.6h0M235.3,538.9h0M235.4,535.6h0M235.6,531.4h0M235.7,527.2h0M235.8,522.1h0M235.9,520.2h0M236,518.6h0M236.1,518.6h0M236.2,515.7h0M236.3,517.9h0M236.4,520.2h0M236.5,525.5h0M236.6,526.9h0M236.7,531.7h0M236.8,533.3h0M236.9,539.6h0M237.1,541h0M237.2,542.3h0M237.3,545.9h0M237.4,546.9h0M237.5,548.2h0M237.6,548.6h0M237.7,548.1h0M237.8,548.9h0M237.9,550.2h0M238,547.2h0M238.1,550.1h0M238.2,548.5h0M238.3,549.6h0M238.4,549h0M238.6,549.2h0M238.7,549h0M238.8,549h0M238.9,548.3h0M239,550.4h0M239.1,550.9h0M239.2,551.3h0M239.3,551.6h0M239.4,549.4h0M239.5,551.4h0M239.6,551.3h0M239.7,549.7h0M239.8,550.1h0M239.9,549.8h0M240.1,552.2h0M240.2,551h0M240.3,551.2h0M240.4,549.8h0M240.5,549.8h0M240.6,549.3h0M240.7,548.4h0M240.8,546.2h0M240.9,549.4h0M241,548h0M241.1,547.3h0M241.2,547.7h0M241.3,548h0M241.4,545.6h0M241.6,545h0M241.7,544.8h0M241.8,545.7h0M241.9,547.1h0M242,545.9h0M242.1,543.8h0M242.2,544.2h0M242.3,547h0M242.4,546.3h0M242.5,545.9h0M242.6,546.5h0M242.7,549.1h0M242.8,548.9h0M242.9,549.1h0M243.1,550.3h0M243.2,548h0M243.3,551.3h0M243.4,549.5h0M243.5,549h0M243.6,549.5h0M243.7,549.3h0M243.8,551.9h0M243.9,550h0M244,549.8h0M244.1,549.8h0M244.2,551.2h0M244.3,550.2h0M244.4,550.8h0M244.6,548.8h0M244.7,550.6h0M244.8,550.2h0M244.9,550.2h0M245,550.2h0M245.1,548.6h0M245.2,548.8h0M245.3,549.7h0M245.4,550.4h0M245.5,550.5h0M245.6,551.7h0M245.7,550h0M245.8,549.8h0M245.9,550.2h0M246,550.9h0M246.2,549.1h0M246.3,549.4h0M246.4,549.9h0M246.5,548.7h0M246.6,549.9h0M246.7,548.5h0M246.8,550.2h0M246.9,549.9h0M247,550.6h0M247.1,549.3h0M247.2,550.5h0M247.3,549.7h0M247.4,550h0M247.5,550.7h0M247.7,548.2h0M247.8,549.1h0M247.9,550.3h0M248,549.3h0M248.1,549.8h0M248.2,550.4h0M248.3,548.5h0M248.4,549.3h0M248.5,549.5h0M248.6,549.6h0M248.7,549.5h0M248.8,549.4h0M248.9,549.8h0M249,549.9h0M249.2,549.9h0M249.3,551.3h0M249.4,550.2h0M249.5,549h0M249.6,548.7h0M249.7,549.8h0M249.8,550.7h0M249.9,549.1h0M250,550.7h0M250.1,550.8h0M250.2,551.1h0M250.3,551.6h0M250.4,548.1h0M250.5,549.6h0M250.7,552h0M250.8,550h0M250.9,550.6h0M251,548h0M251.1,549.2h0M251.2,549h0M251.3,547.4h0M251.4,546.3h0M251.5,548.4h0M251.6,547.7h0M251.7,548.6h0M251.8,546.9h0M251.9,547.8h0M252,548.2h0M252.2,549.3h0M252.3,547.5h0M252.4,549.3h0M252.5,548.2h0M252.6,548.4h0M252.7,550.6h0M252.8,549.9h0M252.9,549.6h0M253,550.8h0M253.1,550h0M253.2,549.7h0M253.3,551.4h0M253.4,550.2h0M253.5,549.7h0M253.7,550.4h0M253.8,550.5h0M253.9,551.2h0M254,550h0M254.1,549.8h0M254.2,550.1h0M254.3,548.8h0M254.4,550h0M254.5,550.3h0M254.6,548.4h0M254.7,549.3h0M254.8,549h0M254.9,548.8h0M255,550.3h0M255.2,550.7h0M255.3,548.4h0M255.4,551.5h0M255.5,550.2h0M255.6,548.3h0M255.7,550.3h0M255.8,548.9h0M255.9,550.2h0M256,547.2h0M256.1,549.1h0M256.2,547.9h0M256.3,549.5h0M256.4,546.9h0M256.5,546.1h0M256.7,546.2h0M256.8,543.8h0M256.9,543.4h0M257,541.4h0M257.1,541h0M257.2,539.6h0M257.3,539.5h0M257.4,536.9h0M257.5,537.4h0M257.6,538.3h0M257.7,536.2h0M257.8,539.1h0M257.9,540.5h0M258,542.3h0M258.2,541.7h0M258.3,543.4h0M258.4,545.1h0M258.5,544.8h0M258.6,543.9h0M258.7,544.1h0M258.8,542.3h0M258.9,541.6h0M259,539.4h0M259.1,541.5h0M259.2,540h0M259.3,539.6h0M259.4,539.4h0M259.5,539.2h0M259.7,540.2h0M259.8,539.6h0M259.9,543h0M260,542.8h0M260.1,543.4h0M260.2,544.1h0M260.3,546.2h0M260.4,546.8h0M260.5,547.7h0M260.6,547.9h0M260.7,548.9h0M260.8,548.4h0M260.9,548.1h0M261,547.6h0M261.2,549.8h0M261.3,548.9h0M261.4,549.4h0M261.5,549.3h0M261.6,550.1h0M261.7,549.6h0M261.8,549.3h0M261.9,549.7h0M262,550.1h0M262.1,548.7h0M262.2,549.7h0M262.3,550h0M262.4,549.8h0M262.5,550h0M262.7,550.4h0M262.8,549.3h0M262.9,550h0M263,550.9h0M263.1,548.9h0M263.2,550.1h0M263.3,551h0M263.4,549.8h0M263.5,550.4h0M263.6,549.6h0M263.7,550.8h0M263.8,550.1h0M263.9,551.1h0M264,550.9h0M264.1,549.6h0M264.3,550.1h0M264.4,548.3h0M264.5,550.2h0M264.6,549.4h0M264.7,550.6h0M264.8,548.1h0M264.9,549.4h0M265,550.7h0M265.1,549.1h0M265.2,549.6h0M265.3,547.2h0M265.4,548h0M265.5,549.5h0M265.6,547.9h0M265.8,547.7h0M265.9,548h0M266,547.3h0M266.1,546.1h0M266.2,545.4h0M266.3,542.1h0M266.4,540.3h0M266.5,536.5h0M266.6,532.7h0M266.7,528.3h0M266.8,519.3h0M266.9,515.8h0M267,509.5h0M267.1,501.2h0M267.3,501h0M267.4,499.2h0M267.5,499.8h0M267.6,500.4h0M267.7,500h0M267.8,507.4h0M267.9,513.6h0M268,516.3h0M268.1,522.2h0M268.2,525.3h0M268.3,534.1h0M268.4,535.2h0M268.5,542.4h0M268.6,541h0M268.8,544.1h0M268.9,546.8h0M269,545.7h0M269.1,547.5h0M269.2,547.6h0M269.3,548.5h0M269.4,547.7h0M269.5,548.3h0M269.6,549.9h0M269.7,549.9h0M269.8,550h0M269.9,548.6h0M270,548.8h0M270.1,549.1h0M270.3,549.6h0M270.4,550h0M270.5,549.2h0M270.6,548.8h0M270.7,548.9h0M270.8,548.1h0M270.9,548h0M271,549.9h0M271.1,547.4h0M271.2,548.3h0M271.3,549.3h0M271.4,549.2h0M271.5,549h0M271.6,549.9h0M271.8,550h0M271.9,549.3h0M272,549.5h0M272.1,551.5h0M272.2,548.1h0M272.3,550h0M272.4,547.3h0M272.5,547.3h0M272.6,546.7h0M272.7,544.4h0M272.8,544.9h0M272.9,544h0M273,541.5h0M273.1,540.6h0M273.3,540.8h0M273.4,540.4h0M273.5,540.2h0M273.6,539.3h0M273.7,539.7h0M273.8,540.1h0M273.9,542.1h0M274,544h0M274.1,543.3h0M274.2,542.2h0M274.3,543.9h0M274.4,547h0M274.5,545.5h0M274.6,546.4h0M274.8,546.2h0M274.9,546h0M275,546.1h0M275.1,546.3h0M275.2,543.8h0M275.3,544.9h0M275.4,544.2h0M275.5,544h0M275.6,543.7h0M275.7,544.6h0M275.8,544.8h0M275.9,545.7h0M276,545.7h0M276.1,546.3h0M276.3,545.9h0M276.4,547.3h0M276.5,548.9h0M276.6,548.2h0M276.7,548.2h0M276.8,549.8h0M276.9,550h0M277,551.6h0M277.1,548.4h0M277.2,549.6h0M277.3,548.6h0M277.4,551.2h0M277.5,551.9h0M277.6,549.6h0M277.8,550.6h0M277.9,549.8h0M278,550.6h0M278.1,549.2h0M278.2,550.2h0M278.3,550.1h0M278.4,549.5h0M278.5,550.4h0M278.6,550.3h0M278.7,548.9h0M278.8,550.1h0M278.9,549.8h0M279,549.6h0M279.1,549.9h0M279.3,549.5h0M279.4,548.4h0M279.5,549.1h0M279.6,551.2h0M279.7,551.9h0M279.8,550.8h0M279.9,552h0M280,552.3h0M280.1,550.9h0M280.2,550.8h0M280.3,549.9h0M280.4,549.6h0M280.5,548.1h0M280.6,550.6h0M280.8,550.5h0M280.9,549.8h0M281,549.1h0M281.1,550.2h0M281.2,550.8h0M281.3,552.3h0M281.4,549.3h0M281.5,550.2h0M281.6,548.7h0M281.7,548.4h0M281.8,548.4h0M281.9,549.6h0M282,549.2h0M282.1,551.1h0M282.2,549.6h0M282.4,550.2h0M282.5,549h0M282.6,550.3h0M282.7,550h0M282.8,550.4h0M282.9,548h0M283,549.3h0M283.1,550.2h0M283.2,549.5h0M283.3,550.2h0M283.4,547.8h0M283.5,547.7h0M283.6,548.6h0M283.7,548.4h0M283.9,550.1h0M284,547.4h0M284.1,548.9h0M284.2,547.2h0M284.3,549.7h0M284.4,548.9h0M284.5,548.7h0M284.6,548.8h0M284.7,549.8h0M284.8,548.8h0M284.9,549.5h0M285,549.8h0M285.1,550.8h0M285.2,548.8h0M285.4,549.9h0M285.5,549.5h0M285.6,550h0M285.7,549.7h0M285.8,550.3h0M285.9,547.8h0M286,548.4h0M286.1,549.4h0M286.2,549.7h0M286.3,549.4h0M286.4,550.7h0M286.5,549.4h0M286.6,550h0M286.7,550.3h0M286.9,550.5h0M287,550.5h0M287.1,549.5h0M287.2,549.9h0M287.3,550.6h0M287.4,549.5h0M287.5,549.7h0M287.6,549.9h0M287.7,548.5h0M287.8,550h0M287.9,550.9h0M288,549.5h0M288.1,550.5h0M288.2,548.8h0M288.4,548.9h0M288.5,549.5h0M288.6,548.5h0M288.7,548.9h0M288.8,548.5h0M288.9,549h0M289,548.5h0M289.1,545.8h0M289.2,542.2h0M289.3,543.7h0M289.4,540.8h0M289.5,539.7h0M289.6,536.5h0M289.7,536.4h0M289.9,534h0M290,532.4h0M290.1,533h0M290.2,532.6h0M290.3,533.3h0M290.4,533.6h0M290.5,535h0M290.6,536.7h0M290.7,538.9h0M290.8,542.2h0M290.9,543.3h0M291,543.8h0M291.1,545.6h0M291.2,545.8h0M291.4,548.7h0M291.5,549h0M291.6,549.4h0M291.7,548.7h0M291.8,549.8h0M291.9,550.2h0M292,549.2h0M292.1,550h0M292.2,550.6h0M292.3,549.4h0M292.4,549.8h0M292.5,549.4h0M292.6,549.3h0M292.7,550.3h0M292.9,550.1h0M293,550h0M293.1,549.3h0M293.2,549.9h0M293.3,549h0M293.4,550.4h0M293.5,549.9h0M293.6,548.8h0M293.7,551.1h0M293.8,551h0M293.9,549.3h0M294,549.3h0M294.1,549.1h0M294.2,549.2h0M294.4,549.1h0M294.5,550.3h0M294.6,549.9h0M294.7,549.4h0M294.8,550.9h0M294.9,551h0M295,550.4h0M295.1,549.1h0M295.2,549.3h0M295.3,551h0M295.4,550.4h0M295.5,550.4h0M295.6,549.8h0M295.7,549.7h0M295.9,549.9h0M296,550.6h0M296.1,548.9h0M296.2,549h0M296.3,550.7h0M296.4,550h0M296.5,548.9h0M296.6,549.5h0M296.7,549.4h0M296.8,550.1h0M296.9,548.6h0M297,550.7h0M297.1,548.9h0M297.2,548.2h0M297.4,550.3h0M297.5,548.5h0M297.6,548.9h0M297.7,550.1h0M297.8,549.4h0M297.9,548.3h0M298,549.8h0M298.1,549.7h0M298.2,551.8h0M298.3,550.6h0M298.4,549.4h0M298.5,549.1h0M298.6,548.3h0M298.7,547.9h0M298.9,546.7h0M299,547.6h0M299.1,545.3h0M299.2,546.9h0M299.3,546h0M299.4,547.6h0M299.5,545.9h0M299.6,544.9h0" fill="none" stroke="#ff0000" stroke-width="4.9" stroke-linecap="round"/>
<path d="M55.4,549.5L55.5,549.5L55.6,549.5L55.7,549.5L55.8,549.5L55.9,549.5L56.1,549.5L56.2,549.5L56.3,549.5L56.4,549.5L56.5,549.5L56.6,549.5L56.7,549.5L56.8,549.5L56.9,549.5L57,549.5L57.1,549.5L57.2,549.5L57.3,549.4L57.4,549.4L57.6,549.4L57.7,549.4L57.8,549.4L57.9,549.4L58,549.4L58.1,549.4L58.2,549.4L58.3,549.4L58.4,549.4L58.5,549.4L58.6,549.4L58.7,549.4L58.8,549.4L58.9,549.4L59.1,549.3L59.2,549.3L59.3,549.3L59.4,549.3L59.5,549.3L59.6,549.3L59.7,549.3L59.8,549.3L59.9,549.3L60,549.3L60.1,549.3L60.2,549.3L60.3,549.3L60.4,549.2L60.6,549.2L60.7,549.2L60.8,549.2L60.9,549.2L61,549.2L61.1,549.2L61.2,549.2L61.3,549.2L61.4,549.2L61.5,549.2L61.6,549.2L61.7,549.2L61.8,549.1L61.9,549.1L62.1,549.1L62.2,549.1L62.3,549.1L62.4,549.1L62.5,549.1L62.6,549.1L62.7,549.1L62.8,549.1L62.9,549.1L63,549L63.1,549L63.2,549L63.3,549L63.4,549L63.6,549L63.7,549L63.8,549L63.9,549L64,549L64.1,548.9L64.2,548.9L64.3,548.9L64.4,548.9L64.5,548.9L64.6,548.9L64.7,548.9L64.8,548.9L64.9,548.9L65.1,548.9L65.2,548.8L65.3,548.8L65.4,548.8L65.5,548.8L65.6,548.8L65.7,548.8L65.8,548.8L65.9,548.8L66,548.7L66.1,548.7L66.2,548.7L66.3,548.7L66.4,548.7L66.6,548.7L66.7,548.7L66.8,548.7L66.9,548.6L67,548.6L67.1,548.6L67.2,548.6L67.3,548.6L67.4,548.6L67.5,548.6L67.6,548.6L67.7,548.5L67.8,548.5L67.9,548.5L68,548.5L68.2,548.5L68.3,548.5L68.4,548.5L68.5,548.4L68.6,548.4L68.7,548.4L68.8,548.4L68.9,548.4L69,548.4L69.1,548.4L69.2,548.3L69.3,548.3L69.4,548.3L69.5,548.3L69.7,548.3L69.8,548.3L69.9,548.2L70,548.2L70.1,548.2L70.2,548.2L70.3,548.2L70.4,548.2L70.5,548.1L70.6,548.1L70.7,548.1L70.8,548.1L70.9,548.1L71,548L71.2,548L71.3,548L71.4,548L71.5,548L71.6,548L71.7,547.9L71.8,547.9L71.9,547.9L72,547.9L72.1,547.9L72.2,547.8L72.3,547.8L72.4,547.8L72.5,547.8L72.7,547.7L72.8,547.7L72.9,547.7L73,547.7L73.1,547.7L73.2,547.6L73.3,547.6L73.4,547.6L73.5,547.6L73.6,547.5L73.7,547.5L73.8,547.5L73.9,547.5L74,547.4L74.2,547.4L74.3,547.4L74.4,547.4L74.5,547.3L74.6,547.3L74.7,547.3L74.8,547.3L74.9,547.2L75,547.2L75.1,547.2L75.2,547.1L75.3,547.1L75.4,547.1L75.5,547L75.7,547L75.8,547L75.9,546.9L76,546.9L76.1,546.9L76.2,546.8L76.3,546.8L76.4,546.7L76.5,546.7L76.6,546.7L76.7,546.6L76.8,546.6L76.9,546.5L77,546.5L77.2,546.4L77.3,546.4L77.4,546.3L77.5,546.2L77.6,546.2L77.7,546.1L77.8,546L77.9,545.9L78,545.8L78.1,545.7L78.2,545.5L78.3,545.3L78.4,545.1L78.5,544.7L78.7,544.2L78.8,543.5L78.9,542.5L79,541.1L79.1,539.3L79.2,536.9L79.3,533.8L79.4,530.2L79.5,526L79.6,521.3L79.7,516.3L79.8,511.4L79.9,506.9L80,503.2L80.2,500.8L80.3,499.9L80.4,498.3L80.5,500.7L80.6,504.4L80.7,508.9L80.8,513.8L80.9,518.7L81,523.4L81.1,527.7L81.2,531.4L81.3,534.4L81.4,536.8L81.5,538.7L81.7,540.1L81.8,541.1L81.9,541.9L82,542.4L82.1,542.8L82.2,543L82.3,543.3L82.4,543.4L82.5,543.5L82.6,543.7L82.7,543.8L82.8,543.9L82.9,543.9L83,544L83.2,544.1L83.3,544.2L83.4,544.2L83.5,544.3L83.6,544.4L83.7,544.4L83.8,544.5L83.9,544.5L84,544.6L84.1,544.6L84.2,544.7L84.3,544.7L84.4,544.8L84.5,544.8L84.7,544.9L84.8,544.9L84.9,544.9L85,545L85.1,545L85.2,545.1L85.3,545.1L85.4,545.1L85.5,545.2L85.6,545.2L85.7,545.3L85.8,545.3L85.9,545.3L86,545.4L86.1,545.4L86.3,545.4L86.4,545.5L86.5,545.5L86.6,545.5L86.7,545.6L86.8,545.6L86.9,545.6L87,545.7L87.1,545.7L87.2,545.7L87.3,545.8L87.4,545.8L87.5,545.8L87.6,545.9L87.8,545.9L87.9,545.9L88,545.9L88.1,546L88.2,546L88.3,546L88.4,546.1L88.5,546.1L88.6,546.1L88.7,546.1L88.8,546.2L88.9,546.2L89,546.2L89.1,546.3L89.3,546.3L89.4,546.3L89.5,546.3L89.6,546.4L89.7,546.4L89.8,546.4L89.9,546.4L90,546.5L90.1,546.5L90.2,546.5L90.3,546.5L90.4,546.6L90.5,546.6L90.6,546.6L90.8,546.6L90.9,546.7L91,546.7L91.1,546.7L91.2,546.7L91.3,546.8L91.4,546.8L91.5,546.8L91.6,546.8L91.7,546.8L91.8,546.9L91.9,546.9L92,546.9L92.1,546.9L92.3,546.9L92.4,547L92.5,547L92.6,547L92.7,547L92.8,547.1L92.9,547.1L93,547.1L93.1,547.1L93.2,547.1L93.3,547.2L93.4,547.2L93.5,547.2L93.6,547.2L93.8,547.2L93.9,547.3L94,547.3L94.1,547.3L94.2,547.3L94.3,547.3L94.4,547.3L94.5,547.4L94.6,547.4L94.7,547.4L94.8,547.4L94.9,547.4L95,547.5L95.1,547.5L95.3,547.5L95.4,547.5L95.5,547.5L95.6,547.5L95.7,547.6L95.8,547.6L95.9,547.6L96,547.6L96.1,547.6L96.2,547.6L96.3,547.7L96.4,547.7L96.5,547.7L96.6,547.7L96.8,547.7L96.9,547.7L97,547.7L97.1,547.8L97.2,547.8L97.3,547.8L97.4,547.8L97.5,547.8L97.6,547.8L97.7,547.8L97.8,547.9L97.9,547.9L98,547.9L98.1,547.9L98.3,547.9L98.4,547.9L98.5,547.9L98.6,548L98.7,548L98.8,548L98.9,548L99,548L99.1,548L99.2,548L99.3,548L99.4,548.1L99.5,548.1L99.6,548.1L99.8,548.1L99.9,548.1L100,548.1L100.1,548.1L100.2,548.1L100.3,548.1L100.4,548.1L100.5,548.2L100.6,548.2L100.7,548.2L100.8,548.2L100.9,548.2L101,548.2L101.1,548.2L101.3,548.2L101.4,548.2L101.5,548.2L101.6,548.2L101.7,548.2L101.8,548.2L101.9,548.2L102,548.2L102.1,548.2L102.2,548.2L102.3,548.2L102.4,548.2L102.5,548.2L102.6,548.1L102.8,548.1L102.9,548.1L103,548L103.1,547.9L103.2,547.7L103.3,547.4L103.4,547L103.5,546.4L103.6,545.6L103.7,544.6L103.8,543.2L103.9,541.6L104,539.7L104.1,537.6L104.2,535.5L104.4,533.6L104.5,532L104.6,531.1L104.7,530.9L104.8,531.4L104.9,532.7L105,534.5L105.1,536.5L105.2,538.6L105.3,540.6L105.4,542.4L105.5,544L105.6,545.2L105.7,546.2L105.9,546.9L106,547.4L106.1,547.8L106.2,548L106.3,548.2L106.4,548.3L106.5,548.4L106.6,548.5L106.7,548.5L106.8,548.5L106.9,548.6L107,548.6L107.1,548.6L107.2,548.7L107.4,548.7L107.5,548.7L107.6,548.7L107.7,548.7L107.8,548.7L107.9,548.8L108,548.8L108.1,548.8L108.2,548.8L108.3,548.8L108.4,548.8L108.5,548.8L108.6,548.8L108.7,548.9L108.9,548.9L109,548.9L109.1,548.9L109.2,548.9L109.3,548.9L109.4,548.9L109.5,548.9L109.6,548.9L109.7,548.9L109.8,548.9L109.9,548.9L110,548.9L110.1,548.9L110.2,549L110.4,549L110.5,549L110.6,549L110.7,549L110.8,549L110.9,549L111,549L111.1,549L111.2,549L111.3,549L111.4,549L111.5,549L111.6,549L111.7,549L111.9,549L112,549L112.1,549L112.2,549L112.3,549L112.4,549L112.5,549L112.6,548.9L112.7,548.9L112.8,548.9L112.9,548.9L113,548.9L113.1,548.9L113.2,548.9L113.4,548.8L113.5,548.8L113.6,548.8L113.7,548.7L113.8,548.7L113.9,548.6L114,548.5L114.1,548.3L114.2,548.1L114.3,547.8L114.4,547.3L114.5,546.5L114.6,545.5L114.7,544.2L114.9,542.4L115,540.3L115.1,537.8L115.2,535.1L115.3,532.3L115.4,529.7L115.5,527.5L115.6,526L115.7,525.5L115.8,526L115.9,527.5L116,529.7L116.1,532.3L116.2,535L116.4,537.7L116.5,540.1L116.6,542.2L116.7,543.9L116.8,545.2L116.9,546.1L117,546.7L117.1,547.1L117.2,547.3L117.3,547.3L117.4,547.2L117.5,546.9L117.6,546.3L117.7,545.4L117.9,544.1L118,542.2L118.1,539.6L118.2,536.2L118.3,531.8L118.4,526.7L118.5,520.9L118.6,514.8L118.7,508.8L118.8,503.4L118.9,499.4L119,497.4L119.1,497.6L119.2,500L119.4,504.3L119.5,509.8L119.6,515.9L119.7,522L119.8,527.7L119.9,532.8L120,537L120.1,540.3L120.2,542.9L120.3,544.7L120.4,546L120.5,546.9L120.6,547.5L120.7,547.9L120.9,548.2L121,548.4L121.1,548.5L121.2,548.6L121.3,548.7L121.4,548.8L121.5,548.9L121.6,548.9L121.7,549L121.8,549L121.9,549L122,549.1L122.1,549.1L122.2,549.1L122.3,549.2L122.5,549.2L122.6,549.2L122.7,549.2L122.8,549.2L122.9,549.3L123,549.3L123.1,549.3L123.2,549.3L123.3,549.3L123.4,549.3L123.5,549.3L123.6,549.3L123.7,549.4L123.8,549.4L124,549.4L124.1,549.4L124.2,549.4L124.3,549.4L124.4,549.4L124.5,549.4L124.6,549.4L124.7,549.4L124.8,549.4L124.9,549.4L125,549.4L125.1,549.4L125.2,549.4L125.3,549.4L125.5,549.4L125.6,549.4L125.7,549.4L125.8,549.4L125.9,549.4L126,549.4L126.1,549.4L126.2,549.4L126.3,549.4L126.4,549.3L126.5,549.3L126.6,549.3L126.7,549.3L126.8,549.3L127,549.3L127.1,549.3L127.2,549.3L127.3,549.2L127.4,549.2L127.5,549.2L127.6,549.2L127.7,549.1L127.8,549.1L127.9,549.1L128,549L128.1,549L128.2,548.9L128.3,548.9L128.5,548.8L128.6,548.8L128.7,548.7L128.8,548.6L128.9,548.5L129,548.4L129.1,548.3L129.2,548.2L129.3,548L129.4,547.8L129.5,547.6L129.6,547.2L129.7,546.7L129.8,546L130,544.9L130.1,543.2L130.2,540.8L130.3,537.3L130.4,532.5L130.5,526L130.6,517.7L130.7,507.5L130.8,495.7L130.9,482.9L131,469.7L131.1,457.4L131.2,447.2L131.3,440.5L131.5,438.4L131.6,441.2L131.7,448.4L131.8,459L131.9,471.5L132,484.7L132.1,497.4L132.2,509L132.3,518.9L132.4,527L132.5,533.2L132.6,537.9L132.7,541.2L132.8,543.5L133,545.1L133.1,546.1L133.2,546.8L133.3,547.3L133.4,547.7L133.5,547.9L133.6,548.1L133.7,548.3L133.8,548.4L133.9,548.5L134,548.6L134.1,548.7L134.2,548.8L134.3,548.9L134.5,549L134.6,549L134.7,549.1L134.8,549.1L134.9,549.2L135,549.2L135.1,549.2L135.2,549.3L135.3,549.3L135.4,549.3L135.5,549.4L135.6,549.4L135.7,549.4L135.8,549.4L136,549.4L136.1,549.5L136.2,549.5L136.3,549.5L136.4,549.5L136.5,549.5L136.6,549.5L136.7,549.5L136.8,549.5L136.9,549.5L137,549.5L137.1,549.6L137.2,549.6L137.3,549.6L137.5,549.5L137.6,549.5L137.7,549.5L137.8,549.5L137.9,549.5L138,549.5L138.1,549.4L138.2,549.4L138.3,549.3L138.4,549.2L138.5,548.9L138.6,548.6L138.7,548.2L138.8,547.6L138.9,546.8L139.1,545.7L139.2,544.5L139.3,543.1L139.4,541.6L139.5,540.2L139.6,538.9L139.7,537.9L139.8,537.3L139.9,537.3L140,537.8L140.1,538.8L140.2,540.1L140.3,541.6L140.4,543.1L140.6,544.5L140.7,545.7L140.8,546.8L140.9,547.6L141,548.2L141.1,548.7L141.2,549L141.3,549.3L141.4,549.4L141.5,549.5L141.6,549.6L141.7,549.6L141.8,549.7L141.9,549.7L142.1,549.7L142.2,549.7L142.3,549.8L142.4,549.8L142.5,549.8L142.6,549.8L142.7,549.8L142.8,549.8L142.9,549.8L143,549.8L143.1,549.8L143.2,549.8L143.3,549.9L143.4,549.9L143.6,549.9L143.7,549.9L143.8,549.9L143.9,549.9L144,549.9L144.1,549.9L144.2,549.9L144.3,549.9L144.4,549.9L144.5,549.9L144.6,549.9L144.7,549.9L144.8,549.9L144.9,549.9L145.1,549.9L145.2,549.9L145.3,549.9L145.4,549.9L145.5,549.9L145.6,549.9L145.7,549.9L145.8,549.9L145.9,549.9L146,549.9L146.1,549.9L146.2,549.9L146.3,549.9L146.4,549.9L146.6,549.9L146.7,549.9L146.8,549.9L146.9,550L147,550L147.1,550L147.2,550L147.3,550L147.4,550L147.5,550L147.6,550L147.7,550L147.8,550L147.9,550L148.1,550L148.2,550L148.3,550L148.4,550L148.5,550L148.6,550L148.7,550L148.8,550L148.9,550L149,550L149.1,550L149.2,550L149.3,550L149.4,550L149.6,550L149.7,549.9L149.8,549.9L149.9,549.9L150,549.9L150.1,549.9L150.2,549.9L150.3,549.9L150.4,549.9L150.5,549.9L150.6,549.9L150.7,549.9L150.8,549.9L150.9,549.9L151.1,549.9L151.2,549.8L151.3,549.8L151.4,549.7L151.5,549.7L151.6,549.5L151.7,549.4L151.8,549.1L151.9,548.8L152,548.5L152.1,548.1L152.2,547.6L152.3,547.1L152.4,546.7L152.6,546.3L152.7,546.1L152.8,546L152.9,546L153,546.3L153.1,546.7L153.2,547.1L153.3,547.6L153.4,548L153.5,548.5L153.6,548.8L153.7,549.1L153.8,549.3L153.9,549.5L154.1,549.6L154.2,549.7L154.3,549.8L154.4,549.8L154.5,549.8L154.6,549.8L154.7,549.8L154.8,549.8L154.9,549.8L155,549.8L155.1,549.8L155.2,549.8L155.3,549.8L155.4,549.8L155.6,549.8L155.7,549.8L155.8,549.8L155.9,549.8L156,549.8L156.1,549.8L156.2,549.8L156.3,549.8L156.4,549.8L156.5,549.8L156.6,549.7L156.7,549.7L156.8,549.7L156.9,549.7L157,549.7L157.2,549.6L157.3,549.6L157.4,549.6L157.5,549.5L157.6,549.5L157.7,549.4L157.8,549.4L157.9,549.3L158,549.2L158.1,549.1L158.2,549L158.3,548.8L158.4,548.4L158.5,548L158.7,547.3L158.8,546.2L158.9,544.7L159,542.7L159.1,540L159.2,536.6L159.3,532.5L159.4,527.9L159.5,523L159.6,518L159.7,513.6L159.8,510.1L159.9,508.1L160,508L160.2,509.6L160.3,512.8L160.4,517.1L160.5,522L160.6,527L160.7,531.7L160.8,535.9L160.9,539.4L161,542.2L161.1,544.4L161.2,545.9L161.3,547.1L161.4,547.8L161.5,548.3L161.7,548.7L161.8,548.9L161.9,549.1L162,549.2L162.1,549.3L162.2,549.3L162.3,549.4L162.4,549.4L162.5,549.5L162.6,549.5L162.7,549.5L162.8,549.6L162.9,549.6L163,549.6L163.2,549.6L163.3,549.6L163.4,549.7L163.5,549.7L163.6,549.7L163.7,549.7L163.8,549.7L163.9,549.7L164,549.7L164.1,549.7L164.2,549.7L164.3,549.7L164.4,549.7L164.5,549.7L164.7,549.7L164.8,549.7L164.9,549.7L165,549.7L165.1,549.7L165.2,549.7L165.3,549.7L165.4,549.7L165.5,549.7L165.6,549.7L165.7,549.7L165.8,549.7L165.9,549.7L166,549.7L166.2,549.6L166.3,549.6L166.4,549.6L166.5,549.6L166.6,549.6L166.7,549.6L166.8,549.6L166.9,549.5L167,549.5L167.1,549.5L167.2,549.5L167.3,549.4L167.4,549.4L167.5,549.4L167.7,549.3L167.8,549.3L167.9,549.3L168,549.2L168.1,549.2L168.2,549.1L168.3,549L168.4,549L168.5,548.9L168.6,548.8L168.7,548.7L168.8,548.6L168.9,548.5L169,548.3L169.2,548.2L169.3,548L169.4,547.8L169.5,547.5L169.6,547.1L169.7,546.6L169.8,545.9L169.9,544.8L170,543.2L170.1,540.8L170.2,537.3L170.3,532.3L170.4,525.5L170.5,516.5L170.7,505.2L170.8,491.8L170.9,476.6L171,460.4L171.1,444.4L171.2,430.1L171.3,419.1L171.4,413.2L171.5,413.1L171.6,419.1L171.7,430L171.8,444.3L171.9,460.3L172,476.5L172.2,491.7L172.3,505.2L172.4,516.4L172.5,525.4L172.6,532.2L172.7,537.2L172.8,540.8L172.9,543.2L173,544.8L173.1,545.9L173.2,546.6L173.3,547.1L173.4,547.5L173.5,547.8L173.7,548L173.8,548.2L173.9,548.3L174,548.5L174.1,548.6L174.2,548.7L174.3,548.8L174.4,548.8L174.5,548.9L174.6,549L174.7,549L174.8,549.1L174.9,549.1L175,549.2L175.1,549.2L175.3,549.2L175.4,549.3L175.5,549.3L175.6,549.3L175.7,549.3L175.8,549.3L175.9,549.3L176,549.3L176.1,549.3L176.2,549.3L176.3,549.2L176.4,549.1L176.5,549L176.6,548.8L176.8,548.5L176.9,548L177,547.3L177.1,546.4L177.2,545.2L177.3,543.8L177.4,542.1L177.5,540.3L177.6,538.4L177.7,536.7L177.8,535.2L177.9,534.3L178,534L178.1,534.4L178.3,535.4L178.4,536.9L178.5,538.7L178.6,540.6L178.7,542.4L178.8,544.1L178.9,545.5L179,546.7L179.1,547.6L179.2,548.2L179.3,548.7L179.4,549L179.5,549.3L179.6,549.4L179.8,549.5L179.9,549.6L180,549.7L180.1,549.7L180.2,549.7L180.3,549.8L180.4,549.8L180.5,549.8L180.6,549.8L180.7,549.8L180.8,549.8L180.9,549.9L181,549.9L181.1,549.9L181.3,549.9L181.4,549.9L181.5,549.9L181.6,549.9L181.7,549.9L181.8,549.9L181.9,549.9L182,549.9L182.1,549.9L182.2,550L182.3,550L182.4,550L182.5,550L182.6,550L182.8,550L182.9,550L183,550L183.1,550L183.2,550L183.3,550L183.4,550L183.5,550L183.6,550L183.7,550L183.8,550L183.9,550L184,550L184.1,550L184.3,550L184.4,550L184.5,550L184.6,550L184.7,550L184.8,550L184.9,550L185,550L185.1,550L185.2,550L185.3,550L185.4,550L185.5,550L185.6,550L185.8,550L185.9,550L186,550L186.1,550L186.2,550L186.3,550L186.4,550L186.5,550L186.6,550L186.7,550L186.8,550L186.9,549.9L187,549.9L187.1,549.9L187.3,549.8L187.4,549.7L187.5,549.6L187.6,549.5L187.7,549.3L187.8,549L187.9,548.7L188,548.3L188.1,547.9L188.2,547.5L188.3,547.1L188.4,546.7L188.5,546.5L188.6,546.5L188.8,546.6L188.9,546.8L189,547.1L189.1,547.5L189.2,548L189.3,548.4L189.4,548.7L189.5,549.1L189.6,549.3L189.7,549.5L189.8,549.6L189.9,549.7L190,549.8L190.1,549.9L190.3,549.9L190.4,549.9L190.5,549.9L190.6,549.9L190.7,549.9L190.8,549.9L190.9,549.9L191,549.9L191.1,549.9L191.2,549.9L191.3,549.9L191.4,549.9L191.5,549.9L191.6,549.9L191.8,549.9L191.9,549.9L192,549.9L192.1,549.9L192.2,549.9L192.3,549.9L192.4,549.9L192.5,549.8L192.6,549.8L192.7,549.8L192.8,549.8L192.9,549.8L193,549.7L193.1,549.7L193.2,549.6L193.4,549.5L193.5,549.4L193.6,549.2L193.7,548.9L193.8,548.5L193.9,548.1L194,547.4L194.1,546.7L194.2,545.9L194.3,545L194.4,544.1L194.5,543.3L194.6,542.6L194.7,542.2L194.9,542.2L195,542.4L195.1,542.8L195.2,543.4L195.3,544L195.4,544.5L195.5,544.7L195.6,544.6L195.7,544.1L195.8,542.9L195.9,541.2L196,538.8L196.1,535.8L196.2,532.2L196.4,528.4L196.5,524.6L196.6,521.1L196.7,518.4L196.8,516.8L196.9,516.7L197,518L197.1,520.5L197.2,524L197.3,527.8L197.4,531.8L197.5,535.5L197.6,538.8L197.7,541.6L197.9,543.8L198,545.5L198.1,546.8L198.2,547.7L198.3,548.3L198.4,548.7L198.5,549L198.6,549.1L198.7,549.3L198.8,549.4L198.9,549.4L199,549.5L199.1,549.5L199.2,549.6L199.4,549.6L199.5,549.6L199.6,549.6L199.7,549.7L199.8,549.7L199.9,549.7L200,549.7L200.1,549.7L200.2,549.7L200.3,549.7L200.4,549.7L200.5,549.7L200.6,549.7L200.7,549.7L200.9,549.7L201,549.7L201.1,549.7L201.2,549.7L201.3,549.7L201.4,549.7L201.5,549.7L201.6,549.7L201.7,549.7L201.8,549.6L201.9,549.6L202,549.6L202.1,549.6L202.2,549.5L202.4,549.5L202.5,549.5L202.6,549.4L202.7,549.4L202.8,549.3L202.9,549.2L203,549.1L203.1,548.9L203.2,548.7L203.3,548.4L203.4,547.9L203.5,547.2L203.6,546.1L203.7,544.5L203.9,542.4L204,539.6L204.1,536.1L204.2,531.8L204.3,526.9L204.4,521.7L204.5,516.4L204.6,511.6L204.7,507.7L204.8,505.4L204.9,505L205,506.6L205.1,509.9L205.2,514.4L205.4,519.5L205.5,524.8L205.6,529.9L205.7,534.4L205.8,538.3L205.9,541.4L206,543.8L206.1,545.5L206.2,546.8L206.3,547.6L206.4,548.2L206.5,548.6L206.6,548.8L206.7,549L206.9,549.1L207,549.2L207.1,549.3L207.2,549.3L207.3,549.4L207.4,549.4L207.5,549.5L207.6,549.5L207.7,549.5L207.8,549.5L207.9,549.5L208,549.5L208.1,549.5L208.2,549.5L208.4,549.5L208.5,549.5L208.6,549.5L208.7,549.5L208.8,549.5L208.9,549.4L209,549.4L209.1,549.3L209.2,549.1L209.3,548.9L209.4,548.6L209.5,548.1L209.6,547.4L209.7,546.4L209.9,545.1L210,543.4L210.1,541.3L210.2,538.8L210.3,536L210.4,533.2L210.5,530.4L210.6,528.1L210.7,526.4L210.8,525.6L210.9,526L211,527.3L211.1,529.4L211.2,532.1L211.3,534.9L211.5,537.7L211.6,540.4L211.7,542.6L211.8,544.5L211.9,546L212,547.1L212.1,548L212.2,548.5L212.3,548.9L212.4,549.2L212.5,549.4L212.6,549.5L212.7,549.6L212.8,549.6L213,549.7L213.1,549.7L213.2,549.7L213.3,549.8L213.4,549.8L213.5,549.8L213.6,549.8L213.7,549.9L213.8,549.9L213.9,549.9L214,549.9L214.1,549.9L214.2,549.9L214.3,549.9L214.5,549.9L214.6,549.9L214.7,550L214.8,550L214.9,550L215,550L215.1,550L215.2,550L215.3,550L215.4,550L215.5,550L215.6,550L215.7,550L215.8,550L216,550L216.1,550L216.2,550L216.3,550L216.4,550L216.5,550L216.6,550L216.7,550L216.8,550L216.9,550L217,550L217.1,550L217.2,550L217.3,550L217.5,550L217.6,550L217.7,550L217.8,550L217.9,550L218,550L218.1,550L218.2,550L218.3,550L218.4,550L218.5,550L218.6,550L218.7,550L218.8,550L219,549.9L219.1,549.9L219.2,549.9L219.3,549.8L219.4,549.7L219.5,549.5L219.6,549.3L219.7,549L219.8,548.7L219.9,548.3L220,547.8L220.1,547.3L220.2,546.8L220.3,546.4L220.5,546.1L220.6,545.9L220.7,545.8L220.8,546L220.9,546.3L221,546.7L221.1,547.2L221.2,547.7L221.3,548.2L221.4,548.6L221.5,549L221.6,549.2L221.7,549.5L221.8,549.6L222,549.7L222.1,549.8L222.2,549.9L222.3,549.9L222.4,549.9L222.5,549.9L222.6,549.9L222.7,549.9L222.8,549.9L222.9,549.9L223,549.9L223.1,549.9L223.2,549.9L223.3,549.9L223.5,549.9L223.6,549.9L223.7,549.9L223.8,549.9L223.9,549.9L224,549.8L224.1,549.8L224.2,549.8L224.3,549.8L224.4,549.7L224.5,549.7L224.6,549.6L224.7,549.5L224.8,549.4L225,549.2L225.1,548.9L225.2,548.4L225.3,547.8L225.4,546.9L225.5,545.7L225.6,544.2L225.7,542.4L225.8,540.3L225.9,538.1L226,535.8L226.1,533.6L226.2,531.8L226.3,530.7L226.5,530.3L226.6,530.7L226.7,532L226.8,533.8L226.9,535.9L227,538.2L227.1,540.5L227.2,542.5L227.3,544.3L227.4,545.8L227.5,546.9L227.6,547.8L227.7,548.4L227.8,548.9L228,549.2L228.1,549.4L228.2,549.5L228.3,549.6L228.4,549.7L228.5,549.7L228.6,549.8L228.7,549.8L228.8,549.8L228.9,549.8L229,549.9L229.1,549.9L229.2,549.9L229.3,549.9L229.4,549.9L229.6,549.9L229.7,549.9L229.8,549.9L229.9,549.9L230,549.9L230.1,549.9L230.2,550L230.3,550L230.4,550L230.5,550L230.6,550L230.7,550L230.8,550L230.9,550L231.1,550L231.2,550L231.3,550L231.4,550L231.5,550L231.6,550L231.7,549.9L231.8,549.9L231.9,549.9L232,549.9L232.1,549.9L232.2,549.9L232.3,549.9L232.4,549.9L232.6,549.9L232.7,549.9L232.8,549.9L232.9,549.9L233,549.8L233.1,549.8L233.2,549.8L233.3,549.8L233.4,549.8L233.5,549.7L233.6,549.7L233.7,549.7L233.8,549.6L233.9,549.6L234.1,549.5L234.2,549.5L234.3,549.4L234.4,549.2L234.5,549L234.6,548.7L234.7,548.2L234.8,547.5L234.9,546.6L235,545.2L235.1,543.4L235.2,541.2L235.3,538.4L235.4,535.2L235.6,531.6L235.7,528L235.8,524.5L235.9,521.5L236,519.3L236.1,518.3L236.2,518.7L236.3,520.3L236.4,522.9L236.5,526.2L236.6,529.8L236.7,533.4L236.8,536.8L236.9,539.8L237.1,542.4L237.2,544.4L237.3,545.9L237.4,547.1L237.5,547.9L237.6,548.5L237.7,548.8L237.8,549.1L237.9,549.3L238,549.4L238.1,549.5L238.2,549.6L238.3,549.6L238.4,549.6L238.6,549.7L238.7,549.7L238.8,549.7L238.9,549.8L239,549.8L239.1,549.8L239.2,549.8L239.3,549.8L239.4,549.8L239.5,549.8L239.6,549.8L239.7,549.9L239.8,549.9L239.9,549.8L240.1,549.8L240.2,549.8L240.3,549.8L240.4,549.8L240.5,549.7L240.6,549.6L240.7,549.4L240.8,549.2L240.9,548.9L241,548.6L241.1,548.1L241.2,547.6L241.3,547L241.4,546.4L241.6,545.8L241.7,545.3L241.8,544.9L241.9,544.7L242,544.8L242.1,545L242.2,545.4L242.3,545.9L242.4,546.5L242.5,547.1L242.6,547.7L242.7,548.2L242.8,548.7L242.9,549L243.1,549.3L243.2,549.5L243.3,549.7L243.4,549.8L243.5,549.9L243.6,549.9L243.7,549.9L243.8,550L243.9,550L244,550L244.1,550L244.2,550L244.3,550L244.4,550L244.6,550L244.7,550L244.8,550L244.9,550L245,550L245.1,550.1L245.2,550.1L245.3,550.1L245.4,550.1L245.5,550.1L245.6,550.1L245.7,550.1L245.8,550.1L245.9,550.1L246,550.1L246.2,550.1L246.3,550.1L246.4,550.1L246.5,550.1L246.6,550.1L246.7,550.1L246.8,550.1L246.9,550.1L247,550.1L247.1,550.1L247.2,550.1L247.3,550.1L247.4,550.1L247.5,550.1L247.7,550.1L247.8,550.1L247.9,550.1L248,550.1L248.1,550.1L248.2,550.1L248.3,550.1L248.4,550.1L248.5,550.1L248.6,550.1L248.7,550.1L248.8,550.1L248.9,550.1L249,550.1L249.2,550.1L249.3,550.1L249.4,550.1L249.5,550L249.6,550L249.7,550L249.8,550L249.9,550L250,550L250.1,550L250.2,549.9L250.3,549.9L250.4,549.8L250.5,549.7L250.7,549.5L250.8,549.3L250.9,549.1L251,548.8L251.1,548.6L251.2,548.3L251.3,548L251.4,547.8L251.5,547.7L251.6,547.6L251.7,547.7L251.8,547.8L251.9,548L252,548.3L252.2,548.5L252.3,548.8L252.4,549L252.5,549.3L252.6,549.5L252.7,549.6L252.8,549.7L252.9,549.8L253,549.9L253.1,549.9L253.2,549.9L253.3,549.9L253.4,550L253.5,550L253.7,550L253.8,550L253.9,550L254,550L254.1,550L254.2,550L254.3,549.9L254.4,549.9L254.5,549.9L254.6,549.9L254.7,549.9L254.8,549.9L254.9,549.9L255,549.9L255.2,549.9L255.3,549.8L255.4,549.8L255.5,549.8L255.6,549.7L255.7,549.7L255.8,549.6L255.9,549.5L256,549.3L256.1,549.1L256.2,548.7L256.3,548.2L256.4,547.6L256.5,546.8L256.7,545.8L256.8,544.7L256.9,543.3L257,542L257.1,540.6L257.2,539.3L257.3,538.3L257.4,537.6L257.5,537.4L257.6,537.7L257.7,538.4L257.8,539.3L257.9,540.5L258,541.7L258.2,542.8L258.3,543.7L258.4,544.3L258.5,544.6L258.6,544.6L258.7,544.2L258.8,543.6L258.9,542.8L259,541.8L259.1,540.8L259.2,540L259.3,539.4L259.4,539.1L259.5,539.2L259.7,539.8L259.8,540.6L259.9,541.7L260,542.9L260.1,544L260.2,545.2L260.3,546.2L260.4,547.1L260.5,547.8L260.6,548.3L260.7,548.8L260.8,549.1L260.9,549.3L261,549.4L261.2,549.5L261.3,549.6L261.4,549.7L261.5,549.7L261.6,549.7L261.7,549.7L261.8,549.8L261.9,549.8L262,549.8L262.1,549.8L262.2,549.8L262.3,549.8L262.4,549.8L262.5,549.8L262.7,549.8L262.8,549.8L262.9,549.8L263,549.8L263.1,549.8L263.2,549.7L263.3,549.7L263.4,549.7L263.5,549.7L263.6,549.7L263.7,549.7L263.8,549.7L263.9,549.6L264,549.6L264.1,549.6L264.3,549.6L264.4,549.5L264.5,549.5L264.6,549.4L264.7,549.4L264.8,549.3L264.9,549.3L265,549.2L265.1,549.1L265.2,549L265.3,548.9L265.4,548.7L265.5,548.5L265.6,548.2L265.8,547.7L265.9,547L266,545.9L266.1,544.5L266.2,542.5L266.3,539.8L266.4,536.4L266.5,532.2L266.6,527.1L266.7,521.3L266.8,515L266.9,508.6L267,502.5L267.1,497.2L267.3,493.4L267.4,491.4L267.5,491.7L267.6,494.1L267.7,498.3L267.8,503.8L267.9,510L268,516.4L268.1,522.6L268.2,528.2L268.3,533.1L268.4,537.2L268.5,540.5L268.6,543L268.8,544.8L268.9,546.2L269,547.1L269.1,547.8L269.2,548.2L269.3,548.5L269.4,548.7L269.5,548.9L269.6,549L269.7,549.1L269.8,549.2L269.9,549.3L270,549.3L270.1,549.4L270.3,549.4L270.4,549.4L270.5,549.5L270.6,549.5L270.7,549.5L270.8,549.5L270.9,549.5L271,549.6L271.1,549.6L271.2,549.6L271.3,549.6L271.4,549.5L271.5,549.5L271.6,549.5L271.8,549.4L271.9,549.3L272,549.2L272.1,548.9L272.2,548.6L272.3,548.2L272.4,547.7L272.5,547L272.6,546.1L272.7,545.1L272.8,544.1L272.9,542.9L273,541.8L273.1,540.8L273.3,540L273.4,539.5L273.5,539.4L273.6,539.6L273.7,540.2L273.8,541L273.9,542L274,543L274.1,544L274.2,544.9L274.3,545.6L274.4,546L274.5,546.3L274.6,546.3L274.8,546.1L274.9,545.7L275,545.3L275.1,544.8L275.2,544.3L275.3,543.9L275.4,543.6L275.5,543.6L275.6,543.8L275.7,544.2L275.8,544.7L275.9,545.3L276,546L276.1,546.7L276.3,547.3L276.4,547.9L276.5,548.4L276.6,548.8L276.7,549.1L276.8,549.3L276.9,549.5L277,549.6L277.1,549.7L277.2,549.8L277.3,549.8L277.4,549.9L277.5,549.9L277.6,549.9L277.8,549.9L277.9,549.9L278,549.9L278.1,550L278.2,550L278.3,550L278.4,550L278.5,550L278.6,550L278.7,550L278.8,550L278.9,550L279,550L279.1,550L279.3,550L279.4,550L279.5,550L279.6,550L279.7,550L279.8,550L279.9,550L280,550L280.1,550L280.2,550L280.3,550L280.4,550L280.5,550L280.6,550L280.8,550L280.9,550L281,550L281.1,550L281.2,550L281.3,550L281.4,550L281.5,550L281.6,550L281.7,550L281.8,550L281.9,550L282,550L282.1,550L282.2,550L282.4,549.9L282.5,549.9L282.6,549.9L282.7,549.8L282.8,549.7L282.9,549.6L283,549.5L283.1,549.3L283.2,549.2L283.3,549.1L283.4,548.9L283.5,548.8L283.6,548.8L283.7,548.7L283.9,548.7L284,548.8L284.1,548.9L284.2,549L284.3,549.2L284.4,549.3L284.5,549.4L284.6,549.6L284.7,549.7L284.8,549.8L284.9,549.8L285,549.9L285.1,549.9L285.2,549.9L285.4,550L285.5,550L285.6,550L285.7,550L285.8,550L285.9,550L286,550L286.1,550L286.2,550L286.3,550L286.4,550L286.5,550L286.6,550L286.7,550L286.9,549.9L287,549.9L287.1,549.9L287.2,549.9L287.3,549.9L287.4,549.9L287.5,549.9L287.6,549.9L287.7,549.8L287.8,549.8L287.9,549.8L288,549.7L288.1,549.7L288.2,549.6L288.4,549.5L288.5,549.3L288.6,549.1L288.7,548.7L288.8,548.3L288.9,547.6L289,546.8L289.1,545.9L289.2,544.7L289.3,543.3L289.4,541.8L289.5,540.1L289.6,538.5L289.7,537L289.9,535.6L290,534.7L290.1,534.2L290.2,534.3L290.3,534.9L290.4,535.9L290.5,537.3L290.6,538.9L290.7,540.5L290.8,542.1L290.9,543.6L291,545L291.1,546.1L291.2,547L291.4,547.8L291.5,548.4L291.6,548.8L291.7,549.1L291.8,549.3L291.9,549.5L292,549.6L292.1,549.7L292.2,549.7L292.3,549.8L292.4,549.8L292.5,549.8L292.6,549.8L292.7,549.8L292.9,549.9L293,549.9L293.1,549.9L293.2,549.9L293.3,549.9L293.4,549.9L293.5,549.9L293.6,549.9L293.7,549.9L293.8,549.9L293.9,549.9L294,549.9L294.1,549.9L294.2,549.9L294.4,549.9L294.5,549.9L294.6,549.9L294.7,549.9L294.8,549.9L294.9,549.9L295,549.9L295.1,549.9L295.2,549.9L295.3,549.9L295.4,549.9L295.5,549.9L295.6,549.9L295.7,549.9L295.9,549.9L296,549.9L296.1,549.8L296.2,549.8L296.3,549.8L296.4,549.8L296.5,549.8L296.6,549.8L296.7,549.8L296.8,549.8L296.9,549.7L297,549.7L297.1,549.7L297.2,549.7L297.4,549.7L297.5,549.6L297.6,549.6L297.7,549.6L297.8,549.5L297.9,549.5L298,549.4L298.1,549.4L298.2,549.3L298.3,549.2L298.4,549.1L298.5,549L298.6,548.8L298.7,548.7L298.9,548.5L299,548.2L299.1,548L299.2,547.6L299.3,547.3L299.4,546.8L299.5,546.3L299.6,545.8" fill="none" stroke="#000" stroke-width="1.45" stroke-linejoin="round"/>
<path d="M80.3,558V564M104.7,558V564M115.7,558V564M119.1,558V564M131.4,558V564M139.9,558V564M152.8,558V564M160,558V564M171.5,558V564M178,558V564M180.2,558V564M188.6,558V564M194.8,558V564M196.8,558V564M204.9,558V564M210.8,558V564M220.6,558V564M226.4,558V564M236.1,558V564M241.9,558V564M242.9,558V564M243.9,558V564M251.6,558V564M257.5,558V564M259.5,558V564M267.4,558V564M273.5,558V564M275.5,558V564M283.8,558V564M290.1,558V564M80.3,564.6V570.4M104.7,564.6V570.4M115.7,564.6V570.4M119.1,564.6V570.4M131.4,564.6V570.4M139.9,564.6V570.4M152.8,564.6V570.4M160,564.6V570.4M171.5,564.6V570.4M178,564.6V570.4M180.2,564.6V570.4M188.6,564.6V570.4M194.8,564.6V570.4M196.8,564.6V570.4M204.9,564.6V570.4M210.8,564.6V570.4M220.6,564.6V570.4M226.4,564.6V570.4M236.1,564.6V570.4M241.9,564.6V570.4M242.9,564.6V570.4M243.9,564.6V570.4M251.6,564.6V570.4M257.5,564.6V570.4M259.5,564.6V570.4M267.4,564.6V570.4M273.5,564.6V570.4M275.5,564.6V570.4M283.8,564.6V570.4M290.1,564.6V570.4" stroke="#3d9c9c" stroke-width="0.8" fill="none"/>
</g>
<rect x="55.4" y="-10.0" width="244.2" height="193.0" fill="none" stroke="#000" stroke-width="1.3"/>
<path d="M64,183v-2.6M85.4,183v-4.6M106.8,183v-2.6M128.2,183v-4.6M149.7,183v-2.6M171.1,183v-4.6M192.5,183v-2.6M213.9,183v-4.6M235.3,183v-2.6M256.8,183v-4.6M278.2,183v-2.6M299.6,183v-4.6M55.4,146.9h4.6M55.4,101.9h4.6M55.4,57h4.6M55.4,12h4.6M55.4,169.4h2.6M55.4,124.4h2.6M55.4,79.4h2.6M55.4,34.5h2.6" stroke="#000" stroke-width="1.2" fill="none"/>
<rect x="55.4" y="190.0" width="244.2" height="206.8" fill="none" stroke="#000" stroke-width="1.3"/>
<path d="M64,396.8v-2.6M85.4,396.8v-4.6M106.8,396.8v-2.6M128.2,396.8v-4.6M149.7,396.8v-2.6M171.1,396.8v-4.6M192.5,396.8v-2.6M213.9,396.8v-4.6M235.3,396.8v-2.6M256.8,396.8v-4.6M278.2,396.8v-2.6M299.6,396.8v-4.6M55.4,386.2h4.6M55.4,341.6h4.6M55.4,297h4.6M55.4,252.4h4.6M55.4,207.8h4.6M55.4,363.9h2.6M55.4,319.3h2.6M55.4,274.7h2.6M55.4,230.1h2.6" stroke="#000" stroke-width="1.2" fill="none"/>
<rect x="55.4" y="403.6" width="244.2" height="207.5" fill="none" stroke="#000" stroke-width="1.3"/>
<path d="M64,611.1v-2.6M85.4,611.1v-4.6M106.8,611.1v-2.6M128.2,611.1v-4.6M149.7,611.1v-2.6M171.1,611.1v-4.6M192.5,611.1v-2.6M213.9,611.1v-4.6M235.3,611.1v-2.6M256.8,611.1v-4.6M278.2,611.1v-2.6M299.6,611.1v-4.6M55.4,599.9h4.6M55.4,555.4h4.6M55.4,510.9h4.6M55.4,466.4h4.6M55.4,421.9h4.6M55.4,577.6h2.6M55.4,533.1h2.6M55.4,488.6h2.6M55.4,444.1h2.6" stroke="#000" stroke-width="1.2" fill="none"/>
<text x="0.00" y="0.00" font-size="12.80" text-anchor="end" transform="translate(51.00 151.60) scale(1 1.086)">0</text>
<text x="0.00" y="0.00" font-size="12.80" text-anchor="end" transform="translate(51.00 106.63) scale(1 1.086)">10000</text>
<text x="0.00" y="0.00" font-size="12.80" text-anchor="end" transform="translate(51.00 61.66) scale(1 1.086)">20000</text>
<text x="0.00" y="0.00" font-size="12.80" text-anchor="end" transform="translate(51.00 16.69) scale(1 1.086)">30000</text>
<text x="0.00" y="0.00" font-size="12.80" text-anchor="end" transform="translate(51.00 390.90) scale(1 1.086)">-2000</text>
<text x="0.00" y="0.00" font-size="12.80" text-anchor="end" transform="translate(51.00 346.30) scale(1 1.086)">0</text>
<text x="0.00" y="0.00" font-size="12.80" text-anchor="end" transform="translate(51.00 301.70) scale(1 1.086)">2000</text>
<text x="0.00" y="0.00" font-size="12.80" text-anchor="end" transform="translate(51.00 257.10) scale(1 1.086)">4000</text>
<text x="0.00" y="0.00" font-size="12.80" text-anchor="end" transform="translate(51.00 212.50) scale(1 1.086)">6000</text>
<text x="0.00" y="0.00" font-size="12.80" text-anchor="end" transform="translate(51.00 604.60) scale(1 1.086)">-2000</text>
<text x="0.00" y="0.00" font-size="12.80" text-anchor="end" transform="translate(51.00 560.10) scale(1 1.086)">0</text>
<text x="0.00" y="0.00" font-size="12.80" text-anchor="end" transform="translate(51.00 515.60) scale(1 1.086)">2000</text>
<text x="0.00" y="0.00" font-size="12.80" text-anchor="end" transform="translate(51.00 471.10) scale(1 1.086)">4000</text>
<text x="0.00" y="0.00" font-size="12.80" text-anchor="end" transform="translate(51.00 426.60) scale(1 1.086)">6000</text>
<text x="0.00" y="0.00" font-size="12.80" text-anchor="middle" transform="translate(85.40 628.10) scale(1 1.086)">20</text>
<text x="0.00" y="0.00" font-size="12.80" text-anchor="middle" transform="translate(128.24 628.10) scale(1 1.086)">40</text>
<text x="0.00" y="0.00" font-size="12.80" text-anchor="middle" transform="translate(171.08 628.10) scale(1 1.086)">60</text>
<text x="0.00" y="0.00" font-size="12.80" text-anchor="middle" transform="translate(213.92 628.10) scale(1 1.086)">80</text>
<text x="0.00" y="0.00" font-size="12.80" text-anchor="middle" transform="translate(256.76 628.10) scale(1 1.086)">100</text>
<text x="0.00" y="0.00" font-size="12.80" text-anchor="middle" transform="translate(299.60 628.10) scale(1 1.086)">120</text>
<text x="0.00" y="0.00" font-size="23.25" text-anchor="middle" transform="translate(180.60 647.40) scale(1 1.240)">2θ (degree)</text>
<text transform="translate(18.1 293.5) rotate(-90) scale(1.195 1)" font-size="23" text-anchor="middle">Intensity (arb. units)</text>
<text x="0.00" y="0.00" font-size="15.95" text-anchor="start" transform="translate(65.80 209.70) scale(1 1.060)">(b) T = 67 K</text>
<text x="0.00" y="0.00" font-size="15.87" text-anchor="start" transform="translate(66.40 425.20) scale(1 1.060)">(c) T = 35 K</text>
<text x="0.00" y="0.00" font-size="14.67" text-anchor="start" transform="translate(224.90 438.90) scale(1 1.130)">λ = 1.48Å</text>
<text transform="translate(85.8 484.3) rotate(-90) scale(1.19 1)" font-size="14.6">(111)</text>
<text transform="translate(109.8 526.0) rotate(-90) scale(1.10 1)" font-size="14.6">(220)</text>
<text x="0.00" y="0.00" font-size="8.10" text-anchor="middle" font-weight="bold" transform="translate(70.60 144.60) scale(1 1.130)">N</text>
<text x="0.00" y="0.00" font-size="8.10" text-anchor="middle" font-weight="bold" transform="translate(69.00 350.60) scale(1 1.130)">N</text>
<text x="0.00" y="0.00" font-size="8.10" text-anchor="middle" font-weight="bold" transform="translate(68.00 360.30) scale(1 1.130)">FM</text>
<text x="0.00" y="0.00" font-size="8.10" text-anchor="middle" font-weight="bold" transform="translate(69.00 565.20) scale(1 1.130)">N</text>
<text x="0.00" y="0.00" font-size="8.10" text-anchor="middle" font-weight="bold" transform="translate(66.70 572.30) scale(1 1.130)">FM</text>
<circle cx="226.3" cy="204.7" r="2.4" fill="#ff0000"/>
<path d="M213,221.4H239.9" stroke="#000" stroke-width="1.3"/>
<path d="M213,238.6H239.9" stroke="#2a2aff" stroke-width="0.6"/>
<path d="M226.3,252.3V258.5" stroke="#3d9c9c" stroke-width="0.8"/>
<text x="0.00" y="0.00" font-size="11.44" text-anchor="start" transform="translate(239.90 209.20) scale(1 1.160)">Iobs</text>
<text x="0.00" y="0.00" font-size="11.44" text-anchor="start" transform="translate(239.90 225.95) scale(1 1.160)">Ical</text>
<text x="0.00" y="0.00" font-size="11.44" text-anchor="start" transform="translate(239.90 242.70) scale(1 1.160)">Iobs-Ical</text>
<text x="0.00" y="0.00" font-size="11.44" text-anchor="start" transform="translate(239.90 259.45) scale(1 1.160)">Bragg Peaks</text>
<path d="M81.2,67.8V89.5" stroke="#00008b" stroke-width="1.9"/><path d="M81.2,93.5L76.6,83.1L81.2,86.2L85.8,83.1Z" fill="#00008b"/>
<path d="M104.9,90.0V112.3" stroke="#00008b" stroke-width="1.9"/><path d="M104.9,116.3L100.3,105.9L104.9,109.0L109.5,105.9Z" fill="#00008b"/>
<path d="M80.3,250.7V272.0" stroke="#00008b" stroke-width="1.9"/><path d="M80.3,276.0L75.7,265.6L80.3,268.7L84.9,265.6Z" fill="#00008b"/>
<path d="M104.9,288.4V310.3" stroke="#00008b" stroke-width="1.9"/><path d="M104.9,314.3L100.3,303.9L104.9,307.0L109.5,303.9Z" fill="#00008b"/>
<path d="M213.5,0.3h18M251,0.3h15M276,0.3h5" stroke="#555" stroke-width="1.4" stroke-dasharray="2.2 1.6" fill="none"/>
<path d="M294,0v1.6" stroke="#444" stroke-width="0.9" fill="none"/>
</svg>
</body></html>
